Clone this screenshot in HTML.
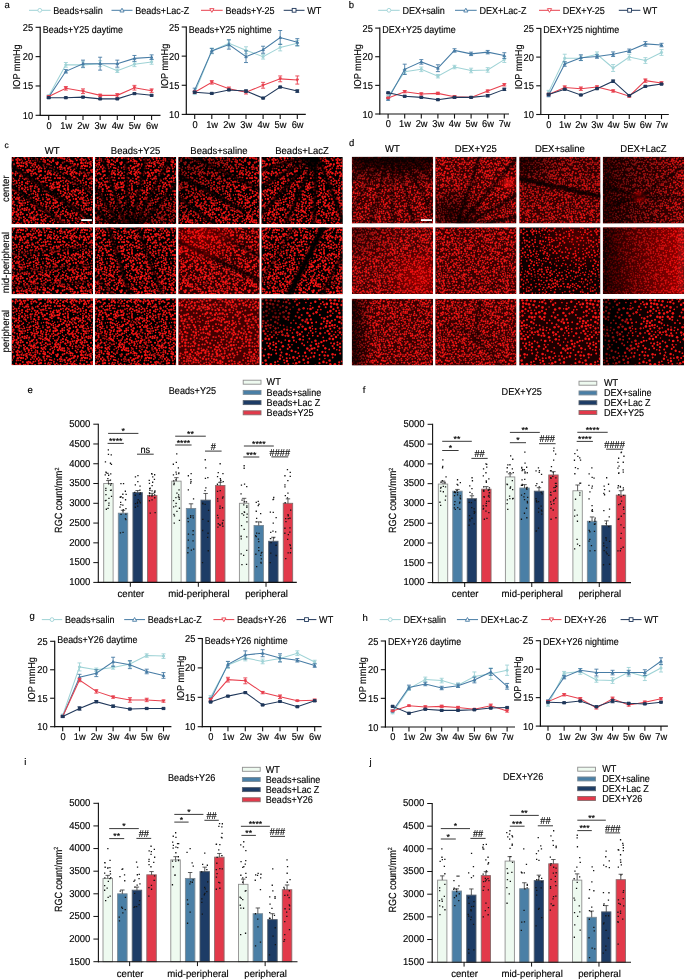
<!DOCTYPE html>
<html><head><meta charset="utf-8"><style>
html,body{margin:0;padding:0;background:#fff;}
svg{display:block;font-family:"Liberation Sans", sans-serif;}
</style></head><body>
<svg width="685" height="979" viewBox="0 0 685 979">
<defs><filter id="tb" x="-0.02" y="-0.02" width="1.04" height="1.04"><feGaussianBlur stdDeviation="0.25"/></filter>
<filter id="vb" x="-0.1" y="-0.1" width="1.2" height="1.2"><feGaussianBlur stdDeviation="0.8"/></filter>
<filter id="mb" x="0" y="0" width="1" height="1"><feGaussianBlur stdDeviation="0.3"/></filter>
<pattern id="pD" width="64" height="64" patternUnits="userSpaceOnUse"><g fill="#f41212"><circle cx="8.6" cy="54.2" r="1.12"/><circle cx="16.3" cy="31.7" r="0.95"/><circle cx="41.7" cy="50.5" r="0.75"/><circle cx="1.8" cy="53.5" r="0.94"/><circle cx="48.8" cy="0.1" r="0.94"/><circle cx="48.8" cy="64.1" r="0.94"/><circle cx="46.2" cy="14.6" r="1.22"/><circle cx="57.7" cy="2.0" r="0.71"/><circle cx="34.7" cy="60.1" r="0.91"/><circle cx="13.9" cy="27.0" r="0.72"/><circle cx="31.7" cy="14.9" r="0.83"/><circle cx="14.0" cy="29.4" r="0.86"/><circle cx="35.6" cy="41.1" r="0.80"/><circle cx="-0.5" cy="55.0" r="0.77"/><circle cx="63.5" cy="55.0" r="0.77"/><circle cx="21.3" cy="46.2" r="1.09"/><circle cx="59.9" cy="27.0" r="1.16"/><circle cx="42.9" cy="19.4" r="1.02"/><circle cx="56.5" cy="54.2" r="0.98"/><circle cx="37.7" cy="2.2" r="0.83"/><circle cx="51.0" cy="26.5" r="0.80"/><circle cx="35.1" cy="45.0" r="1.07"/><circle cx="24.0" cy="28.1" r="0.98"/><circle cx="49.8" cy="33.3" r="0.92"/><circle cx="31.3" cy="1.9" r="0.72"/><circle cx="45.0" cy="62.9" r="1.03"/><circle cx="25.2" cy="10.9" r="0.98"/><circle cx="62.9" cy="49.3" r="1.00"/><circle cx="55.1" cy="14.9" r="0.98"/><circle cx="61.0" cy="37.0" r="0.95"/><circle cx="17.2" cy="35.1" r="1.23"/><circle cx="0.4" cy="50.2" r="1.15"/><circle cx="64.4" cy="50.2" r="1.15"/><circle cx="56.7" cy="47.4" r="1.15"/><circle cx="33.2" cy="35.9" r="0.93"/><circle cx="3.6" cy="55.7" r="1.01"/><circle cx="12.8" cy="32.3" r="0.97"/><circle cx="22.8" cy="22.1" r="1.00"/><circle cx="39.9" cy="39.2" r="0.95"/><circle cx="1.8" cy="14.7" r="0.80"/><circle cx="37.4" cy="55.1" r="1.14"/><circle cx="51.0" cy="52.3" r="0.84"/><circle cx="53.9" cy="43.1" r="0.75"/><circle cx="1.1" cy="0.9" r="1.12"/><circle cx="1.1" cy="64.9" r="1.12"/><circle cx="65.1" cy="0.9" r="1.12"/><circle cx="65.1" cy="64.9" r="1.12"/><circle cx="16.0" cy="7.0" r="1.04"/><circle cx="22.0" cy="4.4" r="0.79"/><circle cx="33.8" cy="10.8" r="0.85"/><circle cx="45.5" cy="29.1" r="0.88"/><circle cx="12.0" cy="7.0" r="1.19"/><circle cx="32.6" cy="13.4" r="1.03"/><circle cx="52.3" cy="1.3" r="0.71"/><circle cx="9.4" cy="46.0" r="0.79"/><circle cx="45.1" cy="43.4" r="1.00"/><circle cx="14.1" cy="62.4" r="1.14"/><circle cx="41.5" cy="25.3" r="1.02"/><circle cx="20.6" cy="40.4" r="0.73"/><circle cx="19.1" cy="61.9" r="1.18"/><circle cx="19.6" cy="54.9" r="0.87"/><circle cx="60.1" cy="47.6" r="0.93"/><circle cx="16.2" cy="0.5" r="1.18"/><circle cx="16.2" cy="64.5" r="1.18"/><circle cx="11.0" cy="55.5" r="1.24"/><circle cx="45.1" cy="32.6" r="0.91"/><circle cx="22.2" cy="13.2" r="1.07"/><circle cx="27.7" cy="12.4" r="0.76"/><circle cx="32.0" cy="20.8" r="1.18"/><circle cx="12.9" cy="21.0" r="1.24"/><circle cx="50.1" cy="21.7" r="0.82"/><circle cx="43.2" cy="53.6" r="1.21"/><circle cx="22.0" cy="56.5" r="1.08"/><circle cx="31.0" cy="63.1" r="0.83"/><circle cx="46.4" cy="5.4" r="0.79"/><circle cx="58.3" cy="13.6" r="1.12"/><circle cx="38.7" cy="61.1" r="1.19"/><circle cx="8.7" cy="35.3" r="0.76"/><circle cx="2.5" cy="4.7" r="1.18"/><circle cx="50.0" cy="24.2" r="1.01"/><circle cx="14.3" cy="5.2" r="0.85"/><circle cx="57.0" cy="36.1" r="1.21"/><circle cx="29.3" cy="17.7" r="1.13"/><circle cx="42.9" cy="5.9" r="0.76"/><circle cx="26.9" cy="7.4" r="0.79"/><circle cx="15.5" cy="47.6" r="0.76"/><circle cx="58.3" cy="24.2" r="1.23"/><circle cx="58.2" cy="18.8" r="0.84"/><circle cx="30.5" cy="6.4" r="1.06"/><circle cx="62.9" cy="18.9" r="1.03"/><circle cx="28.8" cy="20.0" r="0.73"/><circle cx="58.5" cy="62.1" r="1.23"/><circle cx="7.1" cy="13.8" r="1.04"/><circle cx="62.7" cy="34.7" r="1.08"/><circle cx="42.4" cy="16.6" r="1.00"/><circle cx="19.7" cy="15.8" r="0.74"/><circle cx="28.7" cy="41.7" r="1.05"/><circle cx="60.2" cy="25.0" r="0.87"/><circle cx="20.9" cy="20.3" r="1.17"/><circle cx="21.4" cy="34.8" r="1.02"/><circle cx="38.1" cy="15.7" r="0.71"/><circle cx="35.3" cy="4.5" r="0.74"/><circle cx="40.7" cy="18.6" r="1.14"/><circle cx="31.6" cy="55.2" r="0.78"/><circle cx="32.1" cy="50.9" r="0.74"/><circle cx="60.8" cy="11.1" r="1.13"/><circle cx="63.0" cy="52.6" r="0.88"/><circle cx="6.8" cy="32.9" r="1.21"/><circle cx="18.8" cy="57.2" r="0.78"/><circle cx="51.4" cy="58.1" r="1.16"/><circle cx="47.8" cy="44.1" r="0.80"/><circle cx="27.7" cy="10.1" r="1.09"/><circle cx="4.1" cy="61.7" r="1.14"/><circle cx="35.2" cy="34.6" r="1.17"/><circle cx="29.0" cy="25.3" r="0.89"/><circle cx="22.7" cy="8.9" r="0.77"/><circle cx="16.6" cy="53.1" r="0.92"/><circle cx="25.7" cy="39.2" r="0.83"/><circle cx="0.5" cy="33.8" r="0.98"/><circle cx="64.5" cy="33.8" r="0.98"/><circle cx="41.5" cy="28.1" r="1.08"/><circle cx="31.7" cy="30.6" r="0.82"/><circle cx="26.4" cy="35.9" r="1.20"/><circle cx="41.4" cy="3.1" r="0.74"/><circle cx="10.2" cy="49.0" r="1.19"/><circle cx="20.0" cy="44.3" r="1.17"/><circle cx="23.8" cy="44.9" r="1.11"/><circle cx="36.6" cy="11.3" r="0.84"/><circle cx="13.9" cy="36.4" r="1.12"/><circle cx="3.3" cy="43.6" r="1.09"/><circle cx="22.3" cy="33.0" r="0.79"/><circle cx="46.7" cy="2.6" r="1.24"/><circle cx="51.7" cy="40.2" r="0.85"/><circle cx="24.5" cy="51.4" r="0.94"/><circle cx="10.5" cy="20.8" r="0.77"/><circle cx="7.6" cy="38.4" r="0.92"/><circle cx="7.6" cy="18.9" r="0.84"/><circle cx="12.1" cy="28.1" r="0.71"/><circle cx="53.5" cy="13.2" r="0.86"/><circle cx="34.7" cy="17.5" r="1.02"/><circle cx="16.1" cy="43.7" r="1.14"/><circle cx="51.8" cy="62.3" r="1.00"/><circle cx="49.2" cy="36.5" r="0.91"/><circle cx="18.2" cy="6.9" r="1.14"/><circle cx="7.6" cy="47.8" r="1.00"/><circle cx="62.3" cy="8.7" r="0.98"/><circle cx="36.6" cy="19.9" r="0.98"/><circle cx="0.1" cy="28.3" r="0.95"/><circle cx="64.1" cy="28.3" r="0.95"/><circle cx="19.5" cy="25.6" r="1.13"/><circle cx="43.7" cy="31.5" r="1.06"/><circle cx="24.2" cy="13.1" r="0.70"/><circle cx="17.8" cy="38.3" r="1.18"/><circle cx="53.1" cy="32.7" r="1.24"/><circle cx="29.5" cy="53.4" r="0.92"/><circle cx="19.5" cy="10.9" r="1.04"/><circle cx="34.0" cy="23.0" r="0.70"/><circle cx="25.9" cy="55.1" r="1.02"/><circle cx="47.0" cy="57.5" r="1.11"/><circle cx="31.5" cy="47.7" r="1.05"/><circle cx="41.5" cy="40.3" r="0.92"/><circle cx="60.0" cy="50.1" r="1.17"/><circle cx="49.1" cy="52.2" r="1.03"/><circle cx="22.4" cy="16.9" r="1.09"/><circle cx="55.9" cy="34.8" r="0.78"/><circle cx="53.3" cy="31.0" r="0.96"/><circle cx="2.9" cy="32.7" r="1.11"/><circle cx="27.0" cy="22.7" r="1.06"/><circle cx="60.6" cy="44.2" r="0.92"/><circle cx="44.1" cy="38.7" r="0.81"/><circle cx="13.3" cy="56.7" r="0.85"/><circle cx="4.8" cy="53.2" r="0.99"/><circle cx="47.2" cy="10.8" r="1.06"/><circle cx="45.7" cy="52.2" r="0.85"/><circle cx="50.5" cy="55.5" r="0.88"/><circle cx="45.2" cy="54.0" r="0.72"/><circle cx="57.6" cy="39.8" r="0.87"/><circle cx="27.6" cy="48.7" r="1.13"/><circle cx="12.2" cy="40.1" r="0.79"/><circle cx="62.3" cy="28.4" r="1.20"/><circle cx="46.6" cy="38.8" r="0.84"/><circle cx="33.7" cy="8.9" r="0.78"/><circle cx="45.8" cy="23.1" r="1.11"/><circle cx="15.4" cy="46.0" r="1.10"/><circle cx="25.4" cy="31.5" r="0.75"/><circle cx="12.0" cy="3.5" r="1.03"/><circle cx="2.2" cy="45.1" r="1.15"/><circle cx="61.7" cy="39.2" r="0.89"/><circle cx="53.6" cy="7.6" r="1.08"/><circle cx="6.1" cy="25.6" r="0.97"/><circle cx="14.8" cy="52.5" r="0.95"/><circle cx="37.1" cy="13.6" r="1.09"/><circle cx="21.1" cy="38.0" r="1.20"/><circle cx="-0.4" cy="3.0" r="1.14"/><circle cx="63.6" cy="3.0" r="1.14"/><circle cx="54.9" cy="20.5" r="0.91"/><circle cx="37.1" cy="58.8" r="0.92"/><circle cx="9.7" cy="58.5" r="0.71"/><circle cx="9.3" cy="42.5" r="0.73"/><circle cx="24.3" cy="8.3" r="0.95"/><circle cx="53.8" cy="58.0" r="0.72"/><circle cx="2.7" cy="17.5" r="0.76"/><circle cx="5.8" cy="1.8" r="1.05"/><circle cx="62.1" cy="41.1" r="0.83"/><circle cx="3.9" cy="59.9" r="1.02"/><circle cx="3.9" cy="22.6" r="0.93"/><circle cx="27.1" cy="42.4" r="1.09"/><circle cx="47.6" cy="46.2" r="1.11"/><circle cx="16.1" cy="62.5" r="0.78"/><circle cx="58.8" cy="54.7" r="1.17"/><circle cx="23.7" cy="63.0" r="0.72"/><circle cx="34.0" cy="28.4" r="0.77"/><circle cx="33.6" cy="5.8" r="1.14"/><circle cx="24.6" cy="46.9" r="0.87"/><circle cx="8.3" cy="50.9" r="1.14"/><circle cx="27.2" cy="15.7" r="1.01"/><circle cx="50.2" cy="61.2" r="1.02"/><circle cx="6.7" cy="41.8" r="0.95"/><circle cx="-0.8" cy="46.0" r="1.16"/><circle cx="63.2" cy="46.0" r="1.16"/><circle cx="44.9" cy="34.3" r="1.19"/><circle cx="53.2" cy="18.6" r="0.79"/><circle cx="6.2" cy="22.1" r="1.02"/><circle cx="2.8" cy="52.2" r="1.06"/><circle cx="47.9" cy="32.1" r="0.99"/><circle cx="30.7" cy="58.4" r="1.21"/><circle cx="59.2" cy="59.0" r="1.14"/><circle cx="8.6" cy="33.5" r="1.02"/><circle cx="45.0" cy="47.8" r="0.90"/><circle cx="60.3" cy="41.2" r="0.92"/><circle cx="11.8" cy="26.3" r="1.10"/><circle cx="3.2" cy="6.4" r="1.00"/><circle cx="16.7" cy="40.5" r="0.99"/><circle cx="5.0" cy="4.7" r="1.17"/><circle cx="41.2" cy="11.1" r="1.17"/><circle cx="1.4" cy="23.6" r="1.17"/><circle cx="45.5" cy="18.2" r="1.19"/><circle cx="57.1" cy="27.2" r="1.07"/><circle cx="51.1" cy="46.5" r="1.15"/><circle cx="-0.1" cy="16.4" r="0.81"/><circle cx="63.9" cy="16.4" r="0.81"/><circle cx="47.8" cy="49.3" r="0.98"/><circle cx="31.2" cy="25.8" r="1.19"/><circle cx="51.0" cy="37.4" r="0.72"/><circle cx="54.5" cy="29.3" r="0.80"/><circle cx="0.4" cy="7.7" r="0.87"/><circle cx="64.4" cy="7.7" r="0.87"/><circle cx="32.4" cy="37.5" r="1.00"/><circle cx="62.5" cy="10.4" r="1.05"/><circle cx="36.2" cy="23.6" r="0.92"/><circle cx="59.9" cy="57.3" r="1.07"/><circle cx="57.5" cy="59.2" r="1.17"/><circle cx="24.5" cy="29.7" r="1.14"/><circle cx="29.2" cy="7.5" r="0.89"/><circle cx="26.6" cy="1.2" r="0.79"/><circle cx="16.7" cy="54.9" r="1.02"/><circle cx="18.4" cy="-0.1" r="0.84"/><circle cx="18.4" cy="63.9" r="0.84"/><circle cx="44.2" cy="27.7" r="1.13"/><circle cx="31.1" cy="45.8" r="0.97"/><circle cx="5.8" cy="8.3" r="1.23"/><circle cx="14.7" cy="1.7" r="0.84"/><circle cx="30.7" cy="60.9" r="0.92"/><circle cx="5.7" cy="39.2" r="1.25"/><circle cx="22.2" cy="60.6" r="1.23"/><circle cx="6.6" cy="35.4" r="0.93"/><circle cx="43.0" cy="7.6" r="0.85"/><circle cx="17.8" cy="30.7" r="1.14"/><circle cx="54.9" cy="50.3" r="1.07"/><circle cx="32.5" cy="57.9" r="0.76"/><circle cx="24.7" cy="57.9" r="0.81"/><circle cx="33.3" cy="26.7" r="1.19"/><circle cx="34.9" cy="13.7" r="1.12"/><circle cx="21.6" cy="31.1" r="0.70"/><circle cx="17.6" cy="45.2" r="0.93"/><circle cx="8.3" cy="12.5" r="1.01"/><circle cx="34.1" cy="39.0" r="0.78"/><circle cx="26.5" cy="17.9" r="1.08"/><circle cx="17.1" cy="13.7" r="0.90"/><circle cx="30.1" cy="21.7" r="1.03"/><circle cx="3.7" cy="20.9" r="1.08"/><circle cx="57.1" cy="20.2" r="0.97"/><circle cx="21.1" cy="8.2" r="0.78"/><circle cx="14.5" cy="12.8" r="1.01"/><circle cx="5.4" cy="14.4" r="1.07"/><circle cx="-1.0" cy="21.8" r="1.03"/><circle cx="63.0" cy="21.8" r="1.03"/><circle cx="33.2" cy="1.5" r="0.88"/><circle cx="8.9" cy="16.1" r="1.12"/><circle cx="43.6" cy="2.6" r="0.74"/><circle cx="3.2" cy="2.0" r="0.78"/><circle cx="25.6" cy="59.8" r="1.05"/><circle cx="17.5" cy="33.0" r="0.88"/><circle cx="60.7" cy="22.6" r="1.14"/><circle cx="41.0" cy="54.0" r="1.03"/><circle cx="55.7" cy="25.9" r="1.07"/><circle cx="39.7" cy="33.8" r="1.01"/><circle cx="34.3" cy="25.2" r="1.19"/><circle cx="11.2" cy="13.8" r="0.94"/><circle cx="6.6" cy="23.9" r="1.06"/><circle cx="54.0" cy="46.3" r="1.08"/><circle cx="1.9" cy="19.7" r="1.08"/><circle cx="9.1" cy="56.3" r="0.82"/><circle cx="53.9" cy="54.3" r="0.88"/><circle cx="56.9" cy="10.2" r="1.17"/><circle cx="0.5" cy="60.9" r="1.21"/><circle cx="64.5" cy="60.9" r="1.21"/><circle cx="36.0" cy="56.5" r="0.95"/><circle cx="3.4" cy="30.1" r="0.72"/><circle cx="-1.0" cy="58.2" r="1.06"/><circle cx="63.0" cy="58.2" r="1.06"/><circle cx="49.7" cy="58.6" r="0.87"/><circle cx="56.3" cy="22.2" r="1.06"/><circle cx="3.6" cy="27.8" r="0.91"/><circle cx="18.8" cy="52.2" r="0.94"/><circle cx="44.8" cy="40.6" r="0.99"/><circle cx="41.1" cy="31.2" r="0.89"/><circle cx="1.4" cy="57.4" r="0.91"/><circle cx="53.4" cy="11.2" r="1.09"/><circle cx="50.2" cy="29.5" r="0.96"/><circle cx="46.3" cy="12.4" r="0.94"/><circle cx="9.6" cy="24.1" r="0.76"/><circle cx="60.6" cy="1.2" r="0.92"/><circle cx="40.6" cy="47.1" r="1.20"/><circle cx="42.4" cy="21.9" r="0.83"/><circle cx="37.5" cy="32.8" r="0.94"/><circle cx="34.4" cy="15.9" r="1.13"/><circle cx="62.6" cy="15.3" r="0.71"/><circle cx="61.1" cy="20.0" r="0.85"/><circle cx="28.7" cy="32.1" r="0.93"/><circle cx="52.3" cy="23.0" r="0.78"/><circle cx="50.0" cy="39.8" r="1.10"/><circle cx="16.3" cy="22.4" r="0.85"/><circle cx="29.9" cy="9.5" r="0.77"/><circle cx="51.3" cy="34.4" r="0.81"/><circle cx="27.5" cy="55.8" r="1.02"/><circle cx="4.9" cy="50.3" r="0.73"/><circle cx="47.8" cy="24.5" r="1.08"/><circle cx="37.8" cy="8.3" r="1.00"/><circle cx="24.4" cy="18.3" r="1.06"/><circle cx="39.4" cy="48.3" r="0.84"/><circle cx="6.6" cy="54.7" r="1.05"/><circle cx="58.0" cy="45.3" r="1.15"/><circle cx="30.8" cy="39.3" r="0.85"/><circle cx="40.9" cy="43.0" r="1.21"/><circle cx="29.1" cy="2.9" r="0.82"/><circle cx="6.0" cy="43.4" r="0.72"/><circle cx="27.1" cy="28.3" r="1.23"/><circle cx="38.1" cy="12.2" r="0.98"/><circle cx="4.1" cy="58.0" r="0.95"/><circle cx="18.3" cy="2.8" r="0.98"/><circle cx="25.4" cy="-0.4" r="1.14"/><circle cx="25.4" cy="63.6" r="1.14"/><circle cx="53.9" cy="41.4" r="0.92"/><circle cx="58.0" cy="30.1" r="1.21"/><circle cx="35.3" cy="58.2" r="0.96"/><circle cx="27.3" cy="37.7" r="0.87"/><circle cx="9.6" cy="37.7" r="1.17"/><circle cx="50.4" cy="49.6" r="0.93"/><circle cx="23.6" cy="35.3" r="1.05"/><circle cx="37.3" cy="31.0" r="1.05"/><circle cx="0.2" cy="10.3" r="0.88"/><circle cx="64.2" cy="10.3" r="0.88"/><circle cx="9.5" cy="6.9" r="0.87"/><circle cx="32.6" cy="52.6" r="1.25"/><circle cx="54.5" cy="39.0" r="0.72"/><circle cx="4.1" cy="40.4" r="1.15"/><circle cx="35.2" cy="36.7" r="1.04"/><circle cx="4.8" cy="10.9" r="1.21"/><circle cx="17.1" cy="5.3" r="0.86"/><circle cx="46.5" cy="16.8" r="0.82"/><circle cx="47.2" cy="19.3" r="1.18"/><circle cx="8.5" cy="28.3" r="0.90"/><circle cx="20.2" cy="48.0" r="1.19"/><circle cx="2.6" cy="37.7" r="1.06"/><circle cx="62.3" cy="12.6" r="0.76"/><circle cx="14.1" cy="59.7" r="0.71"/><circle cx="13.4" cy="18.5" r="0.97"/><circle cx="23.8" cy="25.1" r="1.06"/><circle cx="12.5" cy="11.6" r="1.08"/><circle cx="19.0" cy="59.7" r="0.93"/><circle cx="60.9" cy="53.3" r="1.01"/><circle cx="35.2" cy="32.1" r="0.96"/><circle cx="43.6" cy="36.8" r="1.17"/><circle cx="28.8" cy="30.2" r="1.16"/><circle cx="43.2" cy="33.6" r="1.01"/><circle cx="16.6" cy="19.9" r="1.03"/><circle cx="57.1" cy="14.9" r="0.94"/><circle cx="44.8" cy="59.2" r="1.08"/><circle cx="22.8" cy="50.2" r="0.70"/><circle cx="19.6" cy="1.0" r="0.89"/><circle cx="37.7" cy="50.4" r="1.18"/><circle cx="7.7" cy="-0.7" r="1.05"/><circle cx="7.7" cy="63.3" r="1.05"/><circle cx="8.2" cy="44.2" r="1.23"/><circle cx="26.9" cy="33.7" r="0.95"/><circle cx="55.4" cy="4.7" r="0.81"/><circle cx="60.0" cy="38.9" r="1.04"/><circle cx="40.3" cy="15.6" r="0.92"/><circle cx="13.4" cy="9.7" r="1.24"/><circle cx="19.7" cy="31.9" r="1.07"/><circle cx="38.6" cy="37.4" r="0.86"/><circle cx="5.5" cy="31.5" r="0.98"/><circle cx="33.0" cy="32.7" r="0.77"/><circle cx="4.4" cy="0.2" r="0.73"/><circle cx="4.4" cy="64.2" r="0.73"/><circle cx="46.8" cy="54.6" r="0.74"/><circle cx="21.3" cy="1.2" r="0.70"/><circle cx="18.9" cy="35.2" r="0.84"/><circle cx="21.2" cy="26.0" r="0.71"/><circle cx="48.7" cy="14.0" r="0.80"/><circle cx="58.0" cy="6.3" r="1.14"/><circle cx="28.3" cy="50.8" r="1.07"/><circle cx="47.8" cy="7.4" r="1.22"/><circle cx="51.9" cy="14.1" r="0.86"/><circle cx="16.1" cy="27.1" r="0.84"/><circle cx="53.1" cy="56.2" r="1.20"/><circle cx="10.8" cy="36.3" r="1.18"/><circle cx="45.5" cy="9.6" r="0.95"/><circle cx="40.1" cy="8.7" r="0.74"/><circle cx="34.2" cy="-1.0" r="1.10"/><circle cx="34.2" cy="63.0" r="1.10"/><circle cx="12.3" cy="22.8" r="1.23"/><circle cx="14.6" cy="19.9" r="0.98"/><circle cx="57.7" cy="34.5" r="1.20"/><circle cx="30.4" cy="32.8" r="0.90"/><circle cx="27.7" cy="4.7" r="0.81"/><circle cx="23.2" cy="3.2" r="0.90"/><circle cx="39.0" cy="43.4" r="1.18"/><circle cx="42.9" cy="63.1" r="0.71"/><circle cx="8.7" cy="4.4" r="0.88"/><circle cx="47.5" cy="36.3" r="1.25"/><circle cx="38.7" cy="57.0" r="1.02"/><circle cx="53.4" cy="16.2" r="0.87"/><circle cx="18.8" cy="40.6" r="0.73"/><circle cx="27.6" cy="59.3" r="0.82"/><circle cx="22.8" cy="41.9" r="1.01"/><circle cx="36.9" cy="38.9" r="1.07"/><circle cx="20.7" cy="22.5" r="0.92"/><circle cx="28.0" cy="44.0" r="1.06"/><circle cx="19.4" cy="5.6" r="1.12"/><circle cx="15.0" cy="56.1" r="0.73"/><circle cx="63.2" cy="-0.4" r="0.77"/><circle cx="63.2" cy="63.6" r="0.77"/><circle cx="21.1" cy="11.6" r="1.20"/><circle cx="35.5" cy="27.4" r="0.95"/><circle cx="18.1" cy="9.9" r="0.70"/><circle cx="3.5" cy="46.2" r="0.75"/><circle cx="54.6" cy="2.3" r="0.81"/><circle cx="49.7" cy="11.1" r="1.03"/><circle cx="35.6" cy="51.1" r="0.74"/><circle cx="9.3" cy="62.2" r="1.04"/><circle cx="56.1" cy="6.6" r="0.76"/><circle cx="3.4" cy="9.7" r="0.91"/><circle cx="20.6" cy="17.9" r="0.71"/><circle cx="31.2" cy="28.5" r="1.11"/><circle cx="19.4" cy="37.2" r="0.87"/><circle cx="29.4" cy="34.4" r="0.99"/><circle cx="25.2" cy="34.3" r="0.82"/><circle cx="23.1" cy="38.1" r="1.06"/><circle cx="26.2" cy="50.3" r="1.17"/><circle cx="25.4" cy="44.7" r="1.07"/><circle cx="18.8" cy="27.8" r="1.14"/><circle cx="46.9" cy="-0.8" r="1.11"/><circle cx="46.9" cy="63.2" r="1.11"/><circle cx="60.3" cy="13.3" r="0.79"/><circle cx="8.6" cy="21.4" r="1.14"/><circle cx="44.9" cy="20.3" r="0.78"/><circle cx="23.0" cy="11.1" r="0.83"/><circle cx="0.3" cy="44.6" r="0.72"/><circle cx="64.3" cy="44.6" r="0.72"/><circle cx="49.4" cy="7.0" r="0.92"/><circle cx="6.7" cy="46.0" r="1.25"/><circle cx="33.5" cy="41.7" r="1.07"/><circle cx="22.3" cy="48.0" r="0.93"/><circle cx="42.8" cy="29.2" r="1.04"/><circle cx="55.0" cy="44.5" r="1.06"/><circle cx="58.0" cy="49.9" r="1.02"/><circle cx="37.4" cy="22.4" r="1.16"/><circle cx="38.6" cy="6.2" r="1.00"/><circle cx="43.1" cy="60.4" r="1.05"/><circle cx="23.6" cy="6.2" r="0.76"/><circle cx="62.1" cy="30.6" r="0.99"/><circle cx="48.6" cy="42.7" r="0.93"/><circle cx="36.2" cy="7.2" r="1.08"/><circle cx="38.7" cy="40.8" r="1.08"/><circle cx="59.4" cy="28.6" r="1.04"/><circle cx="43.5" cy="12.0" r="0.73"/><circle cx="7.4" cy="2.7" r="1.01"/><circle cx="19.5" cy="50.2" r="0.79"/><circle cx="39.1" cy="18.1" r="0.96"/><circle cx="11.9" cy="49.1" r="0.72"/><circle cx="13.9" cy="16.5" r="1.08"/><circle cx="49.7" cy="44.9" r="1.25"/><circle cx="44.1" cy="24.4" r="0.72"/><circle cx="55.4" cy="8.4" r="1.17"/><circle cx="41.3" cy="56.7" r="1.09"/><circle cx="40.9" cy="12.9" r="0.85"/><circle cx="45.7" cy="50.1" r="1.22"/><circle cx="42.3" cy="58.3" r="1.12"/><circle cx="38.6" cy="-0.8" r="1.05"/><circle cx="38.6" cy="63.2" r="1.05"/><circle cx="0.3" cy="30.8" r="1.18"/><circle cx="64.3" cy="30.8" r="1.18"/><circle cx="50.2" cy="9.4" r="0.83"/><circle cx="20.2" cy="58.1" r="0.82"/><circle cx="19.9" cy="14.1" r="1.05"/><circle cx="33.5" cy="45.7" r="1.01"/><circle cx="12.3" cy="15.6" r="0.82"/><circle cx="4.9" cy="28.9" r="0.87"/><circle cx="1.7" cy="62.6" r="0.72"/><circle cx="53.6" cy="60.8" r="0.70"/><circle cx="8.9" cy="1.0" r="0.78"/><circle cx="11.5" cy="30.7" r="0.92"/><circle cx="8.4" cy="26.3" r="0.91"/><circle cx="12.4" cy="45.2" r="1.23"/><circle cx="11.2" cy="52.4" r="1.01"/><circle cx="52.0" cy="59.8" r="1.23"/><circle cx="51.5" cy="4.8" r="0.93"/><circle cx="37.5" cy="3.9" r="1.12"/><circle cx="56.8" cy="43.3" r="0.85"/><circle cx="10.7" cy="44.0" r="1.09"/><circle cx="24.6" cy="61.5" r="0.84"/><circle cx="42.4" cy="14.0" r="1.11"/><circle cx="30.2" cy="42.5" r="1.16"/><circle cx="22.1" cy="54.1" r="1.09"/><circle cx="14.8" cy="25.3" r="0.80"/><circle cx="45.8" cy="26.3" r="0.98"/><circle cx="59.2" cy="5.0" r="1.16"/><circle cx="27.6" cy="53.5" r="0.98"/><circle cx="11.0" cy="-0.6" r="1.11"/><circle cx="11.0" cy="63.4" r="1.11"/><circle cx="18.3" cy="22.2" r="1.09"/><circle cx="1.3" cy="42.1" r="0.84"/><circle cx="50.3" cy="3.7" r="0.73"/><circle cx="13.3" cy="38.1" r="0.76"/><circle cx="57.5" cy="55.9" r="1.21"/><circle cx="52.3" cy="28.2" r="0.89"/><circle cx="61.9" cy="4.3" r="1.03"/><circle cx="37.7" cy="27.3" r="1.17"/><circle cx="35.6" cy="30.1" r="0.80"/><circle cx="58.9" cy="16.9" r="0.91"/><circle cx="48.8" cy="20.2" r="1.19"/><circle cx="48.6" cy="3.3" r="1.15"/><circle cx="39.2" cy="52.7" r="0.79"/><circle cx="36.5" cy="46.3" r="1.02"/><circle cx="43.5" cy="49.9" r="0.91"/><circle cx="9.4" cy="10.9" r="0.92"/><circle cx="17.5" cy="16.3" r="0.70"/><circle cx="60.6" cy="29.8" r="1.13"/><circle cx="55.4" cy="11.0" r="1.16"/><circle cx="51.0" cy="42.8" r="0.88"/><circle cx="54.8" cy="59.6" r="1.14"/><circle cx="17.6" cy="23.9" r="1.12"/><circle cx="9.0" cy="14.3" r="1.04"/><circle cx="13.3" cy="53.5" r="0.83"/><circle cx="10.3" cy="17.4" r="1.16"/><circle cx="36.3" cy="9.6" r="0.82"/><circle cx="16.6" cy="58.2" r="0.74"/><circle cx="12.1" cy="61.6" r="1.21"/><circle cx="54.3" cy="27.1" r="1.04"/><circle cx="35.7" cy="2.3" r="0.86"/><circle cx="50.4" cy="16.1" r="1.06"/><circle cx="19.4" cy="8.5" r="0.88"/><circle cx="33.5" cy="19.6" r="0.93"/><circle cx="13.4" cy="50.7" r="0.86"/><circle cx="10.6" cy="2.5" r="0.91"/><circle cx="60.7" cy="-0.8" r="0.97"/><circle cx="60.7" cy="63.2" r="0.97"/><circle cx="49.8" cy="18.0" r="0.84"/><circle cx="2.7" cy="25.6" r="0.71"/><circle cx="25.3" cy="26.5" r="0.79"/><circle cx="34.8" cy="54.5" r="1.07"/><circle cx="40.5" cy="23.1" r="1.10"/><circle cx="10.4" cy="41.3" r="1.03"/><circle cx="24.8" cy="16.5" r="1.05"/><circle cx="18.3" cy="17.9" r="1.17"/><circle cx="31.1" cy="12.4" r="0.94"/><circle cx="55.4" cy="24.2" r="1.22"/><circle cx="32.2" cy="43.5" r="1.12"/><circle cx="35.6" cy="0.3" r="0.86"/><circle cx="35.6" cy="64.3" r="0.86"/><circle cx="53.3" cy="3.5" r="0.87"/><circle cx="5.0" cy="33.8" r="0.80"/><circle cx="29.9" cy="23.9" r="0.79"/><circle cx="53.3" cy="5.6" r="0.82"/><circle cx="3.9" cy="13.1" r="1.08"/><circle cx="31.1" cy="35.2" r="0.93"/><circle cx="27.9" cy="61.6" r="0.98"/><circle cx="0.5" cy="40.1" r="1.23"/><circle cx="64.5" cy="40.1" r="1.23"/></g></pattern>
<pattern id="pM" width="64" height="64" patternUnits="userSpaceOnUse"><g fill="#f41212"><circle cx="61.2" cy="60.7" r="0.73"/><circle cx="5.4" cy="53.5" r="1.10"/><circle cx="42.9" cy="19.7" r="1.03"/><circle cx="38.8" cy="37.2" r="0.79"/><circle cx="27.6" cy="25.2" r="1.10"/><circle cx="-0.3" cy="60.8" r="1.00"/><circle cx="63.7" cy="60.8" r="1.00"/><circle cx="28.5" cy="17.2" r="0.72"/><circle cx="1.8" cy="29.8" r="0.88"/><circle cx="24.3" cy="57.1" r="0.99"/><circle cx="35.9" cy="15.1" r="0.71"/><circle cx="20.8" cy="8.7" r="0.98"/><circle cx="-0.1" cy="43.2" r="0.80"/><circle cx="63.9" cy="43.2" r="0.80"/><circle cx="57.2" cy="51.0" r="1.10"/><circle cx="58.0" cy="48.8" r="1.13"/><circle cx="22.6" cy="-1.2" r="1.23"/><circle cx="22.6" cy="62.8" r="1.23"/><circle cx="10.3" cy="48.3" r="1.09"/><circle cx="29.5" cy="33.9" r="0.97"/><circle cx="59.2" cy="32.1" r="1.16"/><circle cx="57.6" cy="29.5" r="1.01"/><circle cx="58.9" cy="46.3" r="0.97"/><circle cx="14.2" cy="20.8" r="1.08"/><circle cx="10.6" cy="58.1" r="0.85"/><circle cx="58.3" cy="19.8" r="1.23"/><circle cx="45.2" cy="32.3" r="0.98"/><circle cx="41.7" cy="37.6" r="0.87"/><circle cx="13.3" cy="32.8" r="1.21"/><circle cx="39.9" cy="4.8" r="1.15"/><circle cx="46.5" cy="58.1" r="0.81"/><circle cx="47.7" cy="3.8" r="1.06"/><circle cx="17.5" cy="14.5" r="1.18"/><circle cx="6.8" cy="33.4" r="1.17"/><circle cx="15.7" cy="13.5" r="1.18"/><circle cx="27.1" cy="45.9" r="0.72"/><circle cx="23.2" cy="11.0" r="1.07"/><circle cx="5.3" cy="61.1" r="0.71"/><circle cx="46.7" cy="1.4" r="0.84"/><circle cx="52.1" cy="10.1" r="0.80"/><circle cx="44.3" cy="24.7" r="0.72"/><circle cx="-0.6" cy="9.7" r="0.72"/><circle cx="63.4" cy="9.7" r="0.72"/><circle cx="22.0" cy="39.4" r="1.11"/><circle cx="7.2" cy="21.6" r="0.72"/><circle cx="28.7" cy="49.0" r="1.11"/><circle cx="55.2" cy="45.1" r="0.96"/><circle cx="14.4" cy="42.3" r="0.87"/><circle cx="6.5" cy="28.7" r="1.18"/><circle cx="8.2" cy="37.4" r="0.92"/><circle cx="32.9" cy="9.2" r="1.23"/><circle cx="16.6" cy="38.8" r="0.93"/><circle cx="1.2" cy="35.7" r="0.78"/><circle cx="3.6" cy="2.1" r="0.79"/><circle cx="6.1" cy="40.6" r="0.98"/><circle cx="-0.4" cy="14.9" r="0.94"/><circle cx="63.6" cy="14.9" r="0.94"/><circle cx="39.9" cy="51.2" r="1.09"/><circle cx="16.4" cy="27.1" r="0.99"/><circle cx="0.3" cy="2.3" r="0.92"/><circle cx="64.3" cy="2.3" r="0.92"/><circle cx="7.1" cy="46.3" r="0.83"/><circle cx="6.4" cy="11.6" r="0.83"/><circle cx="29.7" cy="19.8" r="1.05"/><circle cx="13.6" cy="58.0" r="1.23"/><circle cx="46.7" cy="27.8" r="0.98"/><circle cx="37.2" cy="3.3" r="0.93"/><circle cx="33.6" cy="11.6" r="0.75"/><circle cx="51.4" cy="23.4" r="0.99"/><circle cx="59.0" cy="39.1" r="0.86"/><circle cx="62.9" cy="23.8" r="0.71"/><circle cx="43.9" cy="6.5" r="0.87"/><circle cx="53.8" cy="43.0" r="0.71"/><circle cx="31.1" cy="13.3" r="1.02"/><circle cx="4.7" cy="18.2" r="0.91"/><circle cx="59.9" cy="4.9" r="1.12"/><circle cx="12.3" cy="36.6" r="0.92"/><circle cx="25.3" cy="7.8" r="0.77"/><circle cx="41.0" cy="61.4" r="1.08"/><circle cx="1.6" cy="42.2" r="1.13"/><circle cx="22.9" cy="29.3" r="1.14"/><circle cx="17.2" cy="33.7" r="0.96"/><circle cx="61.1" cy="51.5" r="1.21"/><circle cx="53.5" cy="19.0" r="0.83"/><circle cx="31.3" cy="16.6" r="0.94"/><circle cx="43.5" cy="58.8" r="1.02"/><circle cx="52.3" cy="6.1" r="0.90"/><circle cx="26.7" cy="4.3" r="0.75"/><circle cx="57.3" cy="-0.7" r="1.06"/><circle cx="57.3" cy="63.3" r="1.06"/><circle cx="8.2" cy="19.0" r="0.83"/><circle cx="42.9" cy="43.6" r="0.94"/><circle cx="33.5" cy="7.2" r="1.00"/><circle cx="60.8" cy="48.4" r="0.75"/><circle cx="33.1" cy="45.8" r="0.84"/><circle cx="-0.3" cy="50.1" r="1.02"/><circle cx="63.7" cy="50.1" r="1.02"/><circle cx="9.3" cy="28.2" r="0.72"/><circle cx="38.1" cy="56.4" r="0.80"/><circle cx="32.7" cy="30.9" r="0.92"/><circle cx="45.5" cy="59.9" r="1.09"/><circle cx="30.2" cy="61.6" r="0.88"/><circle cx="47.7" cy="42.1" r="1.12"/><circle cx="54.5" cy="14.4" r="1.04"/><circle cx="25.8" cy="42.7" r="1.24"/><circle cx="40.6" cy="0.7" r="0.96"/><circle cx="40.6" cy="64.7" r="0.96"/><circle cx="41.6" cy="52.2" r="0.71"/><circle cx="56.6" cy="6.4" r="1.15"/><circle cx="49.1" cy="12.8" r="1.11"/><circle cx="37.5" cy="12.3" r="1.14"/><circle cx="36.2" cy="29.9" r="0.81"/><circle cx="61.9" cy="4.7" r="0.70"/><circle cx="31.1" cy="53.6" r="1.06"/><circle cx="48.3" cy="31.0" r="1.07"/><circle cx="21.4" cy="17.1" r="0.98"/><circle cx="1.8" cy="5.1" r="1.11"/><circle cx="50.2" cy="25.9" r="1.07"/><circle cx="50.4" cy="55.3" r="0.77"/><circle cx="10.4" cy="24.4" r="0.96"/><circle cx="18.9" cy="0.7" r="1.01"/><circle cx="18.9" cy="64.7" r="1.01"/><circle cx="34.4" cy="24.5" r="0.94"/><circle cx="55.7" cy="19.7" r="1.06"/><circle cx="41.8" cy="25.1" r="1.16"/><circle cx="25.0" cy="33.9" r="1.17"/><circle cx="51.1" cy="40.2" r="0.87"/><circle cx="14.9" cy="29.3" r="0.83"/><circle cx="17.8" cy="61.3" r="0.76"/><circle cx="23.3" cy="20.4" r="0.74"/><circle cx="29.3" cy="10.7" r="0.94"/><circle cx="18.7" cy="57.3" r="1.21"/><circle cx="28.3" cy="40.9" r="1.21"/><circle cx="20.9" cy="6.4" r="0.83"/><circle cx="12.1" cy="43.4" r="0.91"/><circle cx="22.8" cy="50.9" r="0.83"/><circle cx="25.6" cy="52.7" r="0.89"/><circle cx="56.2" cy="59.3" r="0.98"/><circle cx="47.5" cy="48.1" r="1.18"/><circle cx="62.7" cy="18.7" r="1.04"/><circle cx="25.3" cy="11.2" r="1.23"/><circle cx="57.2" cy="11.9" r="1.23"/><circle cx="8.1" cy="1.8" r="0.89"/><circle cx="23.0" cy="58.7" r="1.19"/><circle cx="48.7" cy="27.9" r="1.00"/><circle cx="15.2" cy="53.3" r="0.91"/><circle cx="18.2" cy="40.8" r="0.78"/><circle cx="20.2" cy="59.3" r="0.75"/><circle cx="9.1" cy="13.1" r="0.84"/><circle cx="26.9" cy="16.0" r="0.89"/><circle cx="39.1" cy="21.5" r="0.91"/><circle cx="9.2" cy="54.5" r="0.94"/><circle cx="49.8" cy="8.5" r="0.99"/><circle cx="54.1" cy="21.6" r="1.12"/><circle cx="39.1" cy="25.3" r="1.25"/><circle cx="25.1" cy="30.3" r="1.04"/><circle cx="20.3" cy="53.6" r="1.03"/><circle cx="37.6" cy="34.5" r="1.24"/><circle cx="-0.7" cy="53.8" r="0.95"/><circle cx="63.3" cy="53.8" r="0.95"/><circle cx="3.0" cy="6.9" r="1.25"/><circle cx="8.2" cy="60.0" r="1.07"/><circle cx="19.6" cy="51.1" r="0.70"/><circle cx="11.1" cy="9.4" r="1.07"/><circle cx="41.6" cy="3.2" r="1.19"/><circle cx="35.8" cy="8.9" r="0.98"/><circle cx="3.9" cy="12.8" r="1.21"/><circle cx="52.6" cy="33.5" r="1.08"/><circle cx="56.0" cy="9.0" r="0.97"/><circle cx="8.4" cy="7.5" r="0.76"/><circle cx="13.6" cy="3.4" r="0.82"/><circle cx="24.3" cy="39.9" r="1.17"/><circle cx="32.5" cy="58.7" r="0.79"/><circle cx="40.1" cy="13.5" r="0.91"/><circle cx="19.0" cy="27.6" r="0.94"/><circle cx="51.9" cy="36.0" r="0.96"/><circle cx="18.2" cy="49.0" r="1.24"/><circle cx="14.7" cy="45.0" r="1.08"/><circle cx="35.3" cy="12.9" r="0.81"/><circle cx="37.1" cy="41.3" r="1.04"/><circle cx="47.5" cy="45.0" r="0.96"/><circle cx="3.1" cy="49.4" r="1.15"/><circle cx="53.5" cy="38.3" r="0.72"/><circle cx="12.5" cy="6.9" r="1.05"/><circle cx="61.2" cy="62.6" r="1.19"/><circle cx="44.9" cy="17.7" r="1.20"/><circle cx="36.4" cy="26.4" r="0.93"/><circle cx="42.2" cy="7.8" r="1.09"/><circle cx="12.9" cy="49.4" r="1.08"/><circle cx="29.1" cy="22.1" r="0.96"/><circle cx="30.0" cy="36.7" r="0.87"/><circle cx="10.9" cy="38.7" r="1.17"/><circle cx="14.2" cy="39.4" r="1.06"/><circle cx="56.6" cy="43.7" r="0.87"/><circle cx="20.0" cy="20.4" r="0.84"/><circle cx="46.3" cy="21.9" r="0.94"/><circle cx="8.4" cy="9.6" r="1.03"/><circle cx="24.0" cy="4.2" r="1.02"/><circle cx="58.5" cy="41.3" r="0.97"/><circle cx="51.3" cy="58.6" r="0.78"/><circle cx="59.3" cy="13.0" r="1.09"/><circle cx="56.0" cy="37.8" r="1.09"/><circle cx="33.5" cy="15.0" r="0.82"/><circle cx="4.0" cy="42.6" r="0.78"/><circle cx="27.9" cy="62.1" r="0.92"/><circle cx="30.4" cy="24.3" r="0.82"/><circle cx="60.5" cy="43.2" r="0.73"/><circle cx="32.7" cy="33.3" r="1.13"/><circle cx="37.2" cy="45.1" r="1.10"/><circle cx="14.2" cy="1.6" r="0.96"/><circle cx="20.6" cy="34.4" r="1.04"/><circle cx="6.5" cy="35.7" r="0.75"/><circle cx="42.9" cy="28.0" r="0.78"/><circle cx="19.9" cy="42.3" r="0.96"/><circle cx="60.4" cy="22.7" r="0.89"/><circle cx="6.9" cy="50.2" r="0.90"/><circle cx="60.6" cy="40.7" r="1.14"/><circle cx="57.3" cy="32.6" r="1.23"/><circle cx="1.6" cy="21.8" r="1.16"/><circle cx="-0.1" cy="45.8" r="1.17"/><circle cx="63.9" cy="45.8" r="1.17"/><circle cx="4.9" cy="34.6" r="1.04"/><circle cx="2.9" cy="38.0" r="1.23"/><circle cx="2.6" cy="15.8" r="1.13"/><circle cx="57.3" cy="25.8" r="1.20"/><circle cx="4.3" cy="14.9" r="0.80"/><circle cx="0.4" cy="25.9" r="0.98"/><circle cx="64.4" cy="25.9" r="0.98"/><circle cx="3.4" cy="33.1" r="0.99"/><circle cx="25.8" cy="58.5" r="0.77"/><circle cx="27.3" cy="29.4" r="0.91"/><circle cx="62.3" cy="36.6" r="0.98"/><circle cx="41.4" cy="10.4" r="1.03"/><circle cx="62.6" cy="40.8" r="1.01"/><circle cx="29.7" cy="27.1" r="0.85"/><circle cx="23.4" cy="54.2" r="0.95"/><circle cx="42.5" cy="35.6" r="0.99"/><circle cx="61.4" cy="7.5" r="1.03"/><circle cx="40.0" cy="29.1" r="1.23"/><circle cx="39.4" cy="49.0" r="1.08"/><circle cx="42.5" cy="41.6" r="0.92"/><circle cx="31.9" cy="-0.8" r="1.14"/><circle cx="31.9" cy="63.2" r="1.14"/><circle cx="46.9" cy="11.4" r="1.16"/><circle cx="6.0" cy="1.2" r="0.72"/><circle cx="30.6" cy="57.4" r="1.23"/><circle cx="56.0" cy="40.9" r="1.02"/><circle cx="10.6" cy="19.4" r="1.16"/><circle cx="32.2" cy="36.7" r="0.83"/><circle cx="54.1" cy="62.8" r="0.80"/><circle cx="46.2" cy="14.4" r="1.02"/><circle cx="11.5" cy="12.7" r="1.09"/><circle cx="59.2" cy="54.0" r="1.04"/><circle cx="53.6" cy="0.7" r="1.18"/><circle cx="53.6" cy="64.7" r="1.18"/><circle cx="19.5" cy="36.5" r="0.96"/><circle cx="11.3" cy="51.5" r="1.18"/><circle cx="4.0" cy="9.5" r="0.97"/><circle cx="33.7" cy="51.1" r="0.86"/><circle cx="1.7" cy="57.0" r="0.81"/><circle cx="39.6" cy="40.6" r="1.14"/><circle cx="41.3" cy="54.4" r="0.79"/><circle cx="59.0" cy="1.8" r="0.77"/><circle cx="40.9" cy="46.0" r="1.17"/><circle cx="47.2" cy="62.8" r="1.07"/><circle cx="4.1" cy="40.0" r="1.23"/><circle cx="7.4" cy="52.5" r="1.19"/><circle cx="59.5" cy="36.6" r="1.13"/><circle cx="41.8" cy="22.1" r="0.80"/><circle cx="24.2" cy="26.9" r="1.12"/><circle cx="14.3" cy="17.2" r="1.00"/><circle cx="53.4" cy="46.1" r="0.80"/><circle cx="45.4" cy="34.4" r="0.87"/><circle cx="6.8" cy="14.9" r="0.89"/><circle cx="25.2" cy="36.0" r="1.11"/><circle cx="16.6" cy="35.5" r="0.89"/><circle cx="14.5" cy="8.9" r="1.23"/><circle cx="27.3" cy="0.5" r="0.93"/><circle cx="27.3" cy="64.5" r="0.93"/><circle cx="44.1" cy="53.4" r="0.80"/><circle cx="9.9" cy="17.2" r="0.85"/><circle cx="9.1" cy="33.0" r="1.11"/><circle cx="43.5" cy="14.1" r="1.13"/><circle cx="57.5" cy="35.0" r="0.87"/><circle cx="16.3" cy="17.8" r="0.84"/><circle cx="1.6" cy="39.7" r="0.92"/><circle cx="3.1" cy="23.5" r="1.24"/><circle cx="28.4" cy="43.2" r="1.18"/><circle cx="8.6" cy="44.4" r="0.86"/><circle cx="37.2" cy="1.4" r="0.90"/><circle cx="60.2" cy="58.0" r="1.04"/><circle cx="37.7" cy="6.6" r="0.70"/><circle cx="54.2" cy="49.3" r="1.19"/><circle cx="16.3" cy="1.2" r="1.02"/><circle cx="6.8" cy="42.5" r="1.07"/><circle cx="15.1" cy="56.7" r="1.20"/><circle cx="2.1" cy="17.7" r="0.83"/><circle cx="18.0" cy="44.2" r="1.18"/><circle cx="50.4" cy="16.0" r="0.76"/><circle cx="2.7" cy="19.9" r="0.75"/><circle cx="30.4" cy="42.1" r="1.03"/><circle cx="41.4" cy="14.9" r="1.04"/><circle cx="38.9" cy="30.7" r="0.78"/><circle cx="20.8" cy="0.1" r="1.20"/><circle cx="20.8" cy="64.1" r="1.20"/><circle cx="13.2" cy="53.7" r="0.72"/><circle cx="36.1" cy="38.0" r="1.04"/><circle cx="58.3" cy="58.8" r="1.16"/><circle cx="5.2" cy="45.7" r="0.99"/><circle cx="34.4" cy="17.1" r="1.13"/><circle cx="51.6" cy="49.3" r="0.87"/><circle cx="43.6" cy="2.0" r="0.70"/><circle cx="-1.0" cy="29.9" r="1.05"/><circle cx="63.0" cy="29.9" r="1.05"/><circle cx="37.5" cy="53.8" r="1.23"/><circle cx="4.6" cy="57.2" r="0.85"/><circle cx="27.0" cy="54.0" r="1.17"/><circle cx="28.3" cy="31.1" r="1.06"/><circle cx="45.4" cy="56.0" r="1.15"/><circle cx="55.3" cy="3.6" r="1.06"/><circle cx="48.0" cy="56.6" r="1.24"/><circle cx="48.1" cy="17.7" r="1.09"/><circle cx="8.7" cy="41.0" r="0.73"/><circle cx="58.4" cy="16.3" r="1.12"/><circle cx="27.7" cy="35.3" r="1.17"/><circle cx="17.0" cy="52.5" r="1.22"/><circle cx="13.8" cy="30.9" r="0.99"/><circle cx="39.5" cy="9.3" r="1.00"/><circle cx="61.2" cy="45.0" r="0.73"/><circle cx="51.7" cy="13.6" r="1.03"/><circle cx="46.1" cy="43.5" r="0.96"/><circle cx="50.3" cy="21.1" r="0.70"/><circle cx="26.1" cy="27.3" r="1.04"/><circle cx="48.5" cy="61.3" r="0.84"/><circle cx="57.3" cy="22.7" r="1.21"/><circle cx="16.4" cy="31.4" r="1.00"/><circle cx="25.3" cy="-0.4" r="0.99"/><circle cx="25.3" cy="63.6" r="0.99"/><circle cx="6.8" cy="25.2" r="1.12"/><circle cx="54.1" cy="17.1" r="1.20"/><circle cx="40.4" cy="56.8" r="0.81"/><circle cx="1.7" cy="52.0" r="1.23"/><circle cx="42.1" cy="49.8" r="0.92"/><circle cx="24.0" cy="17.3" r="0.85"/><circle cx="1.4" cy="11.8" r="1.13"/><circle cx="36.5" cy="48.5" r="1.08"/><circle cx="12.5" cy="60.3" r="0.74"/><circle cx="21.6" cy="48.4" r="1.17"/><circle cx="29.2" cy="1.8" r="0.93"/><circle cx="49.8" cy="44.5" r="1.08"/><circle cx="33.5" cy="54.6" r="1.23"/><circle cx="19.8" cy="38.5" r="0.83"/><circle cx="22.0" cy="25.3" r="1.03"/><circle cx="40.3" cy="43.9" r="1.02"/><circle cx="29.8" cy="51.8" r="0.71"/><circle cx="17.1" cy="6.2" r="1.08"/><circle cx="12.9" cy="24.4" r="0.93"/><circle cx="23.4" cy="46.4" r="0.82"/><circle cx="17.9" cy="11.6" r="1.11"/><circle cx="34.9" cy="21.0" r="0.83"/><circle cx="0.2" cy="32.0" r="1.05"/><circle cx="64.2" cy="32.0" r="1.05"/><circle cx="33.9" cy="43.7" r="1.03"/><circle cx="2.3" cy="26.1" r="0.97"/><circle cx="24.7" cy="48.7" r="1.11"/><circle cx="44.6" cy="50.4" r="1.06"/><circle cx="62.6" cy="47.4" r="0.92"/><circle cx="13.6" cy="13.5" r="0.73"/><circle cx="2.7" cy="46.8" r="1.12"/><circle cx="15.3" cy="22.5" r="0.96"/><circle cx="15.6" cy="50.9" r="1.23"/><circle cx="9.9" cy="30.6" r="1.13"/><circle cx="39.4" cy="19.0" r="1.21"/><circle cx="52.1" cy="27.1" r="0.77"/><circle cx="22.2" cy="41.9" r="0.78"/><circle cx="-0.5" cy="0.4" r="1.18"/><circle cx="-0.5" cy="64.4" r="1.18"/><circle cx="63.5" cy="0.4" r="1.18"/><circle cx="63.5" cy="64.4" r="1.18"/><circle cx="5.5" cy="31.7" r="0.95"/><circle cx="29.2" cy="5.1" r="1.21"/><circle cx="37.4" cy="22.5" r="1.00"/><circle cx="16.9" cy="42.5" r="0.71"/><circle cx="26.1" cy="61.2" r="0.84"/><circle cx="31.7" cy="19.5" r="0.85"/><circle cx="35.0" cy="46.8" r="1.23"/><circle cx="40.8" cy="33.6" r="1.12"/><circle cx="50.1" cy="19.1" r="1.14"/><circle cx="24.3" cy="32.1" r="1.09"/><circle cx="16.2" cy="3.5" r="0.92"/><circle cx="35.6" cy="60.8" r="0.88"/><circle cx="34.9" cy="35.9" r="0.87"/><circle cx="43.8" cy="29.8" r="0.77"/><circle cx="62.0" cy="34.2" r="1.19"/><circle cx="38.5" cy="46.5" r="1.05"/><circle cx="62.3" cy="26.6" r="0.81"/><circle cx="15.5" cy="47.5" r="0.81"/><circle cx="31.7" cy="28.6" r="1.16"/><circle cx="55.0" cy="34.5" r="0.73"/><circle cx="34.2" cy="28.0" r="1.06"/><circle cx="42.1" cy="12.4" r="1.12"/><circle cx="61.2" cy="38.2" r="0.90"/><circle cx="20.5" cy="31.1" r="0.87"/><circle cx="34.9" cy="1.8" r="1.15"/><circle cx="35.8" cy="5.4" r="0.96"/><circle cx="13.2" cy="51.4" r="0.76"/><circle cx="2.2" cy="62.9" r="0.97"/><circle cx="12.7" cy="18.4" r="0.80"/><circle cx="-0.4" cy="38.1" r="0.87"/><circle cx="63.6" cy="38.1" r="0.87"/><circle cx="34.3" cy="49.0" r="0.80"/><circle cx="58.7" cy="7.7" r="0.85"/><circle cx="40.7" cy="16.9" r="0.70"/><circle cx="60.4" cy="26.4" r="0.87"/><circle cx="27.1" cy="9.8" r="1.12"/><circle cx="54.3" cy="26.0" r="0.96"/><circle cx="35.0" cy="58.3" r="1.16"/><circle cx="15.7" cy="61.8" r="1.14"/><circle cx="31.2" cy="38.3" r="1.22"/><circle cx="18.2" cy="23.4" r="1.06"/><circle cx="43.5" cy="48.3" r="1.05"/><circle cx="33.0" cy="2.3" r="1.14"/><circle cx="11.7" cy="30.0" r="1.20"/><circle cx="7.4" cy="62.8" r="0.82"/><circle cx="10.3" cy="45.6" r="1.13"/><circle cx="23.1" cy="36.8" r="0.73"/><circle cx="53.3" cy="11.8" r="0.92"/><circle cx="51.4" cy="47.3" r="1.20"/><circle cx="49.5" cy="52.3" r="0.83"/><circle cx="10.7" cy="0.3" r="0.78"/><circle cx="10.7" cy="64.3" r="0.78"/><circle cx="27.8" cy="57.6" r="1.19"/><circle cx="53.1" cy="60.6" r="1.24"/><circle cx="9.3" cy="50.7" r="0.81"/><circle cx="30.5" cy="45.2" r="0.97"/><circle cx="33.0" cy="60.6" r="0.76"/><circle cx="14.4" cy="6.7" r="0.98"/><circle cx="7.3" cy="5.6" r="0.88"/><circle cx="44.2" cy="4.4" r="0.85"/><circle cx="13.9" cy="35.2" r="0.71"/><circle cx="27.8" cy="51.5" r="0.83"/><circle cx="25.9" cy="22.7" r="0.96"/><circle cx="53.3" cy="54.4" r="0.96"/><circle cx="29.8" cy="0.0" r="0.97"/><circle cx="29.8" cy="64.0" r="0.97"/><circle cx="56.4" cy="0.9" r="1.10"/><circle cx="56.4" cy="64.9" r="1.10"/></g></pattern>
<pattern id="pS" width="64" height="64" patternUnits="userSpaceOnUse"><g fill="#f41212"><circle cx="15.2" cy="34.8" r="0.97"/><circle cx="38.7" cy="40.0" r="0.79"/><circle cx="0.8" cy="53.6" r="0.91"/><circle cx="64.8" cy="53.6" r="0.91"/><circle cx="15.0" cy="-0.3" r="1.03"/><circle cx="15.0" cy="63.7" r="1.03"/><circle cx="53.5" cy="30.5" r="1.13"/><circle cx="9.6" cy="40.6" r="1.27"/><circle cx="33.5" cy="47.4" r="1.15"/><circle cx="4.1" cy="48.5" r="1.10"/><circle cx="19.3" cy="2.0" r="1.27"/><circle cx="30.3" cy="46.0" r="1.28"/><circle cx="45.7" cy="59.0" r="0.99"/><circle cx="51.3" cy="28.5" r="1.31"/><circle cx="56.2" cy="6.2" r="0.83"/><circle cx="27.9" cy="40.1" r="0.93"/><circle cx="32.5" cy="24.7" r="0.96"/><circle cx="37.4" cy="37.4" r="1.29"/><circle cx="54.8" cy="-0.6" r="1.15"/><circle cx="54.8" cy="63.4" r="1.15"/><circle cx="10.4" cy="55.1" r="1.33"/><circle cx="57.9" cy="36.4" r="1.18"/><circle cx="13.5" cy="53.2" r="1.09"/><circle cx="5.7" cy="51.2" r="1.00"/><circle cx="9.6" cy="18.8" r="1.21"/><circle cx="55.9" cy="2.8" r="1.12"/><circle cx="2.9" cy="46.0" r="0.95"/><circle cx="32.3" cy="-0.1" r="0.94"/><circle cx="32.3" cy="63.9" r="0.94"/><circle cx="4.9" cy="38.4" r="0.77"/><circle cx="12.6" cy="26.1" r="1.12"/><circle cx="10.0" cy="2.7" r="1.27"/><circle cx="20.1" cy="61.4" r="1.29"/><circle cx="24.2" cy="29.5" r="1.06"/><circle cx="41.2" cy="38.1" r="1.09"/><circle cx="39.7" cy="60.2" r="1.05"/><circle cx="27.6" cy="46.1" r="0.89"/><circle cx="33.4" cy="35.1" r="0.76"/><circle cx="26.6" cy="37.1" r="0.76"/><circle cx="22.6" cy="45.2" r="1.19"/><circle cx="1.4" cy="3.9" r="1.16"/><circle cx="61.7" cy="16.1" r="1.02"/><circle cx="37.9" cy="20.5" r="0.97"/><circle cx="20.0" cy="23.6" r="1.11"/><circle cx="49.4" cy="1.7" r="1.09"/><circle cx="47.1" cy="19.8" r="0.88"/><circle cx="51.4" cy="15.3" r="0.86"/><circle cx="6.5" cy="20.6" r="0.95"/><circle cx="54.8" cy="10.8" r="0.95"/><circle cx="41.6" cy="56.6" r="1.02"/><circle cx="14.4" cy="7.7" r="1.07"/><circle cx="17.8" cy="51.7" r="1.14"/><circle cx="51.6" cy="22.1" r="0.83"/><circle cx="17.4" cy="22.2" r="1.00"/><circle cx="26.9" cy="26.2" r="1.30"/><circle cx="60.4" cy="56.3" r="1.34"/><circle cx="27.8" cy="60.8" r="1.31"/><circle cx="14.2" cy="47.7" r="1.25"/><circle cx="42.4" cy="33.2" r="0.92"/><circle cx="21.8" cy="14.6" r="0.79"/><circle cx="51.9" cy="2.9" r="1.29"/><circle cx="57.4" cy="57.6" r="1.10"/><circle cx="0.8" cy="47.7" r="0.85"/><circle cx="64.8" cy="47.7" r="0.85"/><circle cx="19.2" cy="42.4" r="1.06"/><circle cx="16.2" cy="55.1" r="1.04"/><circle cx="12.6" cy="34.2" r="1.24"/><circle cx="11.0" cy="50.7" r="1.30"/><circle cx="51.6" cy="52.7" r="0.75"/><circle cx="3.2" cy="17.4" r="0.91"/><circle cx="33.7" cy="27.1" r="1.03"/><circle cx="3.5" cy="8.1" r="0.82"/><circle cx="4.4" cy="62.4" r="1.26"/><circle cx="5.5" cy="32.1" r="0.94"/><circle cx="23.1" cy="12.2" r="0.95"/><circle cx="7.9" cy="35.6" r="1.18"/><circle cx="24.3" cy="5.1" r="0.86"/><circle cx="23.9" cy="38.7" r="1.22"/><circle cx="24.3" cy="51.3" r="1.12"/><circle cx="29.5" cy="15.7" r="1.07"/><circle cx="44.5" cy="4.6" r="1.00"/><circle cx="27.3" cy="56.3" r="1.31"/><circle cx="24.0" cy="57.5" r="1.22"/><circle cx="16.8" cy="29.7" r="0.82"/><circle cx="52.0" cy="42.4" r="1.28"/><circle cx="47.0" cy="36.1" r="0.81"/><circle cx="37.6" cy="0.3" r="0.84"/><circle cx="37.6" cy="64.3" r="0.84"/><circle cx="5.9" cy="6.4" r="1.28"/><circle cx="53.9" cy="7.8" r="1.26"/><circle cx="43.1" cy="53.5" r="1.32"/><circle cx="37.1" cy="51.1" r="0.77"/><circle cx="49.1" cy="32.7" r="1.18"/><circle cx="6.8" cy="47.9" r="1.31"/><circle cx="3.9" cy="20.8" r="1.09"/><circle cx="11.5" cy="16.0" r="1.12"/><circle cx="48.2" cy="25.2" r="0.97"/><circle cx="25.4" cy="22.4" r="1.00"/><circle cx="62.3" cy="26.4" r="1.20"/><circle cx="10.3" cy="44.2" r="1.20"/><circle cx="31.0" cy="41.1" r="1.29"/><circle cx="9.6" cy="6.1" r="1.20"/><circle cx="58.7" cy="33.1" r="1.02"/><circle cx="46.0" cy="11.9" r="0.91"/><circle cx="12.7" cy="37.5" r="0.94"/><circle cx="14.9" cy="44.2" r="1.32"/><circle cx="18.9" cy="45.1" r="1.00"/><circle cx="54.6" cy="37.4" r="0.91"/><circle cx="11.0" cy="23.1" r="0.94"/><circle cx="49.5" cy="9.2" r="1.34"/><circle cx="30.7" cy="38.3" r="1.03"/><circle cx="35.7" cy="30.8" r="1.18"/><circle cx="54.8" cy="25.6" r="1.19"/><circle cx="61.5" cy="29.9" r="0.89"/><circle cx="43.2" cy="61.4" r="1.26"/><circle cx="15.5" cy="12.1" r="0.91"/><circle cx="20.1" cy="27.1" r="1.19"/><circle cx="53.4" cy="18.7" r="0.96"/><circle cx="37.1" cy="43.2" r="0.75"/><circle cx="31.1" cy="13.4" r="1.10"/><circle cx="34.8" cy="7.6" r="0.91"/><circle cx="42.6" cy="7.2" r="1.28"/><circle cx="60.2" cy="24.0" r="1.21"/><circle cx="43.3" cy="41.9" r="1.23"/><circle cx="17.0" cy="48.3" r="1.33"/><circle cx="43.4" cy="36.2" r="0.86"/><circle cx="59.6" cy="9.0" r="0.95"/><circle cx="29.3" cy="20.0" r="0.86"/><circle cx="32.3" cy="15.8" r="1.21"/><circle cx="22.7" cy="21.3" r="0.99"/><circle cx="22.6" cy="54.2" r="0.82"/><circle cx="17.3" cy="6.4" r="0.82"/><circle cx="49.9" cy="46.5" r="0.86"/><circle cx="47.6" cy="52.2" r="1.20"/><circle cx="37.9" cy="9.4" r="0.99"/><circle cx="36.4" cy="12.9" r="0.90"/><circle cx="51.4" cy="57.0" r="1.32"/><circle cx="24.5" cy="35.4" r="1.10"/><circle cx="43.9" cy="19.2" r="1.27"/><circle cx="46.5" cy="0.2" r="1.21"/><circle cx="46.5" cy="64.2" r="1.21"/><circle cx="2.4" cy="32.0" r="1.14"/><circle cx="39.9" cy="3.2" r="0.97"/><circle cx="14.9" cy="5.0" r="1.07"/><circle cx="59.5" cy="20.7" r="1.27"/><circle cx="59.3" cy="45.8" r="1.19"/><circle cx="31.0" cy="7.0" r="0.78"/><circle cx="5.0" cy="12.8" r="0.85"/><circle cx="25.7" cy="11.6" r="1.29"/><circle cx="46.1" cy="23.5" r="0.97"/><circle cx="33.9" cy="38.2" r="0.88"/><circle cx="0.2" cy="13.4" r="1.22"/><circle cx="64.2" cy="13.4" r="1.22"/><circle cx="9.2" cy="29.4" r="0.87"/><circle cx="3.8" cy="1.4" r="1.02"/><circle cx="3.3" cy="25.8" r="0.99"/><circle cx="1.7" cy="61.8" r="0.88"/><circle cx="22.2" cy="7.9" r="0.78"/><circle cx="16.0" cy="17.0" r="1.24"/><circle cx="40.3" cy="22.1" r="0.81"/><circle cx="3.5" cy="41.9" r="1.29"/><circle cx="30.5" cy="51.4" r="1.30"/><circle cx="60.2" cy="2.2" r="0.93"/><circle cx="11.2" cy="47.3" r="1.19"/><circle cx="26.5" cy="14.7" r="1.22"/><circle cx="38.8" cy="45.5" r="0.98"/><circle cx="31.2" cy="9.8" r="1.18"/><circle cx="48.5" cy="43.3" r="0.81"/><circle cx="55.8" cy="28.8" r="1.29"/><circle cx="41.5" cy="15.4" r="0.78"/><circle cx="26.9" cy="50.0" r="1.11"/><circle cx="12.0" cy="11.4" r="0.80"/><circle cx="12.8" cy="57.2" r="0.80"/><circle cx="41.1" cy="48.7" r="1.27"/><circle cx="4.6" cy="35.4" r="1.19"/><circle cx="22.4" cy="-0.3" r="0.95"/><circle cx="22.4" cy="63.7" r="0.95"/><circle cx="27.6" cy="5.4" r="0.88"/><circle cx="10.6" cy="59.6" r="1.19"/><circle cx="-0.2" cy="58.9" r="0.93"/><circle cx="63.8" cy="58.9" r="0.93"/><circle cx="59.8" cy="11.8" r="0.81"/><circle cx="56.8" cy="51.7" r="0.93"/><circle cx="0.6" cy="8.4" r="1.07"/><circle cx="64.6" cy="8.4" r="1.07"/><circle cx="34.3" cy="10.6" r="0.78"/><circle cx="29.8" cy="62.7" r="1.22"/><circle cx="11.8" cy="0.8" r="1.01"/><circle cx="11.8" cy="64.8" r="1.01"/><circle cx="21.6" cy="3.3" r="1.08"/><circle cx="40.2" cy="43.2" r="1.30"/><circle cx="17.9" cy="10.8" r="0.76"/><circle cx="52.1" cy="38.6" r="1.00"/><circle cx="-0.5" cy="35.0" r="0.99"/><circle cx="63.5" cy="35.0" r="0.99"/><circle cx="20.2" cy="33.4" r="1.00"/><circle cx="54.5" cy="53.0" r="1.31"/><circle cx="6.6" cy="42.8" r="0.97"/><circle cx="32.9" cy="57.3" r="1.33"/><circle cx="41.2" cy="12.5" r="1.30"/><circle cx="17.3" cy="60.8" r="1.32"/><circle cx="35.0" cy="3.0" r="0.89"/><circle cx="-0.5" cy="43.2" r="1.14"/><circle cx="63.5" cy="43.2" r="1.14"/><circle cx="22.7" cy="60.9" r="1.04"/><circle cx="1.4" cy="22.1" r="1.20"/><circle cx="50.0" cy="36.4" r="1.03"/><circle cx="34.2" cy="53.3" r="0.87"/><circle cx="61.7" cy="53.8" r="0.85"/><circle cx="7.3" cy="0.9" r="1.27"/><circle cx="7.3" cy="64.9" r="1.27"/><circle cx="50.8" cy="-0.5" r="1.16"/><circle cx="50.8" cy="63.5" r="1.16"/><circle cx="28.2" cy="9.4" r="1.11"/><circle cx="21.8" cy="41.3" r="0.92"/><circle cx="30.6" cy="34.0" r="1.27"/><circle cx="54.2" cy="49.8" r="0.79"/><circle cx="62.8" cy="23.5" r="0.88"/><circle cx="14.1" cy="23.7" r="1.12"/><circle cx="20.5" cy="18.1" r="0.77"/><circle cx="58.4" cy="28.2" r="1.16"/><circle cx="7.7" cy="56.3" r="0.98"/><circle cx="17.5" cy="24.9" r="1.06"/><circle cx="42.2" cy="27.9" r="0.81"/><circle cx="5.3" cy="28.3" r="1.20"/><circle cx="56.6" cy="12.9" r="0.99"/><circle cx="30.0" cy="54.9" r="1.07"/><circle cx="13.0" cy="19.1" r="1.29"/><circle cx="54.9" cy="47.2" r="0.87"/><circle cx="20.0" cy="12.4" r="1.27"/><circle cx="14.1" cy="28.3" r="1.09"/><circle cx="37.1" cy="17.2" r="1.29"/><circle cx="43.9" cy="14.2" r="1.24"/><circle cx="52.7" cy="13.0" r="0.81"/><circle cx="19.4" cy="57.1" r="1.28"/><circle cx="43.4" cy="47.0" r="0.96"/><circle cx="36.0" cy="24.7" r="0.82"/><circle cx="6.8" cy="3.5" r="1.04"/><circle cx="55.6" cy="33.0" r="0.99"/><circle cx="7.5" cy="60.7" r="1.04"/><circle cx="-0.9" cy="50.6" r="1.19"/><circle cx="63.1" cy="50.6" r="1.19"/><circle cx="32.3" cy="44.0" r="1.01"/><circle cx="32.3" cy="61.0" r="1.26"/><circle cx="10.3" cy="8.8" r="1.12"/><circle cx="56.6" cy="8.8" r="0.75"/><circle cx="-0.4" cy="39.1" r="0.91"/><circle cx="63.6" cy="39.1" r="0.91"/><circle cx="33.2" cy="21.0" r="1.33"/><circle cx="28.5" cy="42.7" r="0.95"/><circle cx="19.5" cy="30.2" r="0.93"/><circle cx="19.5" cy="8.5" r="1.13"/><circle cx="12.3" cy="5.3" r="1.20"/><circle cx="47.2" cy="16.5" r="1.03"/><circle cx="14.0" cy="14.6" r="0.87"/><circle cx="46.6" cy="6.6" r="1.21"/><circle cx="9.3" cy="13.8" r="1.25"/><circle cx="56.8" cy="15.6" r="0.88"/><circle cx="25.5" cy="32.5" r="0.93"/><circle cx="53.6" cy="59.8" r="1.20"/><circle cx="55.8" cy="22.0" r="0.85"/><circle cx="7.7" cy="10.9" r="1.26"/><circle cx="31.7" cy="28.9" r="1.03"/><circle cx="47.6" cy="39.7" r="1.21"/><circle cx="18.0" cy="15.0" r="0.85"/><circle cx="21.5" cy="49.0" r="1.22"/><circle cx="39.5" cy="31.7" r="1.06"/><circle cx="19.1" cy="54.3" r="0.79"/></g></pattern>
<pattern id="pF" width="64" height="64" patternUnits="userSpaceOnUse"><g fill="#f41212"><circle cx="15.1" cy="6.6" r="0.80"/><circle cx="9.9" cy="4.3" r="0.80"/><circle cx="58.7" cy="51.2" r="0.98"/><circle cx="14.2" cy="34.3" r="0.74"/><circle cx="11.1" cy="6.8" r="0.71"/><circle cx="59.4" cy="53.1" r="1.00"/><circle cx="51.2" cy="12.4" r="0.75"/><circle cx="40.1" cy="46.8" r="1.03"/><circle cx="56.3" cy="5.5" r="0.90"/><circle cx="43.0" cy="32.4" r="0.69"/><circle cx="30.3" cy="5.7" r="1.07"/><circle cx="55.4" cy="35.0" r="0.75"/><circle cx="58.2" cy="36.6" r="1.04"/><circle cx="54.3" cy="32.5" r="0.81"/><circle cx="38.3" cy="27.6" r="0.68"/><circle cx="19.5" cy="52.0" r="0.62"/><circle cx="3.0" cy="40.1" r="0.74"/><circle cx="34.2" cy="30.2" r="0.77"/><circle cx="-0.2" cy="12.5" r="0.81"/><circle cx="63.8" cy="12.5" r="0.81"/><circle cx="13.0" cy="40.5" r="0.74"/><circle cx="22.8" cy="47.8" r="0.76"/><circle cx="35.7" cy="57.9" r="0.65"/><circle cx="3.9" cy="14.6" r="0.98"/><circle cx="39.4" cy="15.2" r="0.77"/><circle cx="11.4" cy="29.4" r="0.62"/><circle cx="44.6" cy="57.3" r="1.08"/><circle cx="47.0" cy="61.4" r="0.61"/><circle cx="18.5" cy="61.8" r="0.99"/><circle cx="26.3" cy="60.4" r="0.91"/><circle cx="52.3" cy="18.8" r="0.70"/><circle cx="28.4" cy="8.7" r="0.79"/><circle cx="61.6" cy="21.2" r="0.60"/><circle cx="2.9" cy="10.9" r="0.99"/><circle cx="23.2" cy="18.6" r="0.65"/><circle cx="62.8" cy="27.1" r="0.70"/><circle cx="3.8" cy="3.5" r="0.68"/><circle cx="43.3" cy="9.6" r="0.62"/><circle cx="31.4" cy="15.9" r="1.10"/><circle cx="7.8" cy="33.9" r="0.99"/><circle cx="26.2" cy="-0.8" r="0.84"/><circle cx="26.2" cy="63.2" r="0.84"/><circle cx="15.5" cy="26.3" r="0.62"/><circle cx="27.0" cy="15.9" r="1.04"/><circle cx="2.0" cy="16.3" r="0.72"/><circle cx="13.3" cy="14.8" r="1.03"/><circle cx="57.7" cy="41.9" r="1.00"/><circle cx="47.7" cy="31.6" r="0.65"/><circle cx="13.5" cy="55.9" r="1.05"/><circle cx="59.2" cy="21.5" r="0.93"/><circle cx="51.2" cy="41.1" r="1.01"/><circle cx="33.8" cy="41.9" r="0.94"/><circle cx="17.2" cy="59.1" r="1.08"/><circle cx="4.8" cy="62.1" r="1.08"/><circle cx="42.8" cy="2.9" r="1.05"/><circle cx="8.2" cy="62.0" r="0.93"/><circle cx="40.7" cy="36.4" r="0.97"/><circle cx="59.4" cy="14.0" r="0.60"/><circle cx="59.0" cy="0.8" r="1.04"/><circle cx="59.0" cy="64.8" r="1.04"/><circle cx="7.4" cy="51.8" r="0.99"/><circle cx="56.2" cy="12.9" r="0.94"/><circle cx="21.2" cy="57.1" r="0.99"/><circle cx="30.2" cy="33.7" r="0.61"/><circle cx="2.2" cy="38.0" r="0.84"/><circle cx="55.3" cy="38.9" r="0.67"/><circle cx="33.5" cy="0.7" r="1.02"/><circle cx="33.5" cy="64.7" r="1.02"/><circle cx="53.0" cy="5.4" r="0.87"/><circle cx="24.4" cy="50.4" r="0.76"/><circle cx="15.0" cy="31.1" r="1.08"/><circle cx="6.1" cy="7.3" r="0.91"/><circle cx="56.7" cy="32.8" r="0.82"/><circle cx="54.9" cy="49.7" r="0.63"/><circle cx="19.3" cy="53.5" r="0.81"/><circle cx="51.1" cy="10.7" r="1.04"/><circle cx="11.3" cy="9.6" r="0.85"/><circle cx="21.7" cy="34.7" r="1.05"/><circle cx="45.5" cy="0.4" r="0.76"/><circle cx="45.5" cy="64.4" r="0.76"/><circle cx="45.8" cy="31.0" r="0.64"/><circle cx="15.7" cy="54.2" r="0.78"/><circle cx="49.1" cy="-0.9" r="0.91"/><circle cx="49.1" cy="63.1" r="0.91"/><circle cx="43.3" cy="39.0" r="0.76"/><circle cx="58.4" cy="29.9" r="1.06"/><circle cx="19.6" cy="55.5" r="0.99"/><circle cx="9.0" cy="49.3" r="0.78"/><circle cx="5.3" cy="9.2" r="1.00"/><circle cx="11.4" cy="57.7" r="0.79"/><circle cx="36.9" cy="22.4" r="0.91"/><circle cx="6.0" cy="25.8" r="1.07"/><circle cx="11.5" cy="41.9" r="0.76"/><circle cx="19.2" cy="1.5" r="0.61"/><circle cx="51.3" cy="51.7" r="1.08"/><circle cx="10.1" cy="37.4" r="0.85"/><circle cx="36.7" cy="60.0" r="0.98"/><circle cx="62.0" cy="7.5" r="0.93"/><circle cx="43.2" cy="47.7" r="0.91"/><circle cx="59.4" cy="26.0" r="0.90"/><circle cx="57.4" cy="45.0" r="0.75"/><circle cx="14.7" cy="20.9" r="0.91"/><circle cx="-0.2" cy="57.5" r="0.80"/><circle cx="63.8" cy="57.5" r="0.80"/><circle cx="25.6" cy="52.3" r="0.74"/><circle cx="26.3" cy="0.8" r="0.69"/><circle cx="34.6" cy="44.4" r="0.91"/><circle cx="23.3" cy="60.9" r="0.91"/><circle cx="62.3" cy="-0.8" r="1.06"/><circle cx="62.3" cy="63.2" r="1.06"/><circle cx="38.6" cy="20.0" r="0.65"/><circle cx="16.5" cy="14.2" r="1.06"/><circle cx="57.1" cy="49.8" r="0.67"/><circle cx="15.3" cy="19.1" r="1.07"/><circle cx="10.5" cy="50.6" r="0.94"/><circle cx="35.0" cy="61.4" r="0.73"/><circle cx="33.6" cy="10.1" r="0.65"/><circle cx="2.0" cy="20.3" r="0.66"/><circle cx="3.9" cy="-0.5" r="0.74"/><circle cx="3.9" cy="63.5" r="0.74"/><circle cx="46.8" cy="41.9" r="1.08"/><circle cx="56.2" cy="46.0" r="0.88"/><circle cx="44.4" cy="46.3" r="0.88"/><circle cx="54.0" cy="31.0" r="0.63"/><circle cx="10.8" cy="56.0" r="0.73"/><circle cx="25.0" cy="43.7" r="1.03"/><circle cx="21.0" cy="24.8" r="0.81"/><circle cx="1.8" cy="56.1" r="0.61"/><circle cx="61.4" cy="9.8" r="0.68"/><circle cx="54.3" cy="52.7" r="0.72"/><circle cx="46.0" cy="11.8" r="1.01"/><circle cx="-0.2" cy="45.2" r="1.06"/><circle cx="63.8" cy="45.2" r="1.06"/><circle cx="60.0" cy="24.3" r="1.02"/><circle cx="53.4" cy="37.6" r="0.65"/><circle cx="39.6" cy="58.4" r="0.75"/><circle cx="41.4" cy="57.4" r="0.90"/><circle cx="42.4" cy="19.7" r="1.05"/><circle cx="40.0" cy="21.7" r="1.02"/><circle cx="57.1" cy="57.2" r="1.04"/><circle cx="42.1" cy="44.7" r="0.90"/><circle cx="33.7" cy="63.2" r="0.78"/><circle cx="5.2" cy="45.7" r="0.85"/><circle cx="34.9" cy="38.3" r="0.72"/><circle cx="12.9" cy="4.6" r="0.99"/><circle cx="0.1" cy="54.0" r="0.91"/><circle cx="64.1" cy="54.0" r="0.91"/><circle cx="39.8" cy="1.2" r="0.97"/><circle cx="2.2" cy="30.6" r="0.67"/><circle cx="23.0" cy="57.0" r="0.97"/><circle cx="24.9" cy="38.7" r="0.62"/><circle cx="48.3" cy="55.2" r="0.75"/><circle cx="44.2" cy="50.5" r="0.95"/><circle cx="28.0" cy="11.2" r="0.61"/><circle cx="56.8" cy="59.6" r="0.74"/><circle cx="48.4" cy="26.1" r="0.91"/><circle cx="53.9" cy="20.6" r="0.91"/><circle cx="16.4" cy="32.7" r="0.62"/><circle cx="16.9" cy="18.4" r="1.06"/><circle cx="13.5" cy="59.7" r="0.93"/><circle cx="7.3" cy="21.8" r="0.83"/><circle cx="-0.6" cy="10.7" r="0.72"/><circle cx="63.4" cy="10.7" r="0.72"/><circle cx="54.0" cy="7.3" r="1.09"/><circle cx="19.0" cy="36.3" r="0.93"/><circle cx="58.0" cy="4.8" r="1.02"/><circle cx="11.5" cy="46.0" r="0.61"/><circle cx="49.1" cy="11.6" r="0.70"/><circle cx="21.0" cy="62.9" r="0.90"/><circle cx="23.3" cy="-0.6" r="0.69"/><circle cx="23.3" cy="63.4" r="0.69"/><circle cx="60.9" cy="43.8" r="1.09"/><circle cx="3.7" cy="57.8" r="0.95"/><circle cx="42.8" cy="54.0" r="0.65"/><circle cx="12.8" cy="8.8" r="0.84"/><circle cx="35.0" cy="34.6" r="0.78"/><circle cx="47.6" cy="53.7" r="0.98"/><circle cx="36.7" cy="12.5" r="0.91"/><circle cx="22.0" cy="23.3" r="0.95"/><circle cx="60.4" cy="12.2" r="0.77"/><circle cx="1.7" cy="12.2" r="1.01"/><circle cx="31.8" cy="2.6" r="0.75"/><circle cx="46.0" cy="25.1" r="0.67"/><circle cx="24.0" cy="29.7" r="0.78"/><circle cx="1.9" cy="50.2" r="0.97"/><circle cx="26.8" cy="7.4" r="0.75"/><circle cx="30.8" cy="62.3" r="0.86"/><circle cx="11.6" cy="39.4" r="0.90"/><circle cx="38.4" cy="46.4" r="0.61"/><circle cx="28.0" cy="51.2" r="0.67"/><circle cx="18.3" cy="27.8" r="0.76"/><circle cx="40.6" cy="10.9" r="0.77"/><circle cx="43.2" cy="34.8" r="1.08"/><circle cx="59.9" cy="16.5" r="0.77"/><circle cx="23.4" cy="55.2" r="0.70"/><circle cx="30.2" cy="7.6" r="1.04"/><circle cx="38.1" cy="63.2" r="0.67"/><circle cx="45.5" cy="38.2" r="0.63"/><circle cx="52.5" cy="55.9" r="0.64"/><circle cx="60.3" cy="50.2" r="0.90"/><circle cx="34.8" cy="16.8" r="0.63"/><circle cx="30.4" cy="55.4" r="0.70"/><circle cx="30.2" cy="18.1" r="0.95"/><circle cx="61.4" cy="56.8" r="0.74"/><circle cx="33.9" cy="54.6" r="1.02"/><circle cx="4.6" cy="27.7" r="0.64"/><circle cx="27.2" cy="58.4" r="0.74"/><circle cx="54.1" cy="61.1" r="1.01"/><circle cx="0.7" cy="0.2" r="0.75"/><circle cx="0.7" cy="64.2" r="0.75"/><circle cx="64.7" cy="0.2" r="0.75"/><circle cx="64.7" cy="64.2" r="0.75"/><circle cx="33.1" cy="27.1" r="0.65"/><circle cx="41.0" cy="42.7" r="0.92"/><circle cx="32.7" cy="35.2" r="0.94"/><circle cx="8.7" cy="6.7" r="0.98"/><circle cx="20.8" cy="21.7" r="0.74"/><circle cx="37.6" cy="7.6" r="0.92"/><circle cx="34.9" cy="27.2" r="0.75"/><circle cx="15.8" cy="40.0" r="0.69"/><circle cx="30.9" cy="41.7" r="0.87"/><circle cx="37.2" cy="36.5" r="0.70"/><circle cx="28.9" cy="21.3" r="0.75"/><circle cx="20.2" cy="19.2" r="0.76"/><circle cx="13.4" cy="31.0" r="0.75"/><circle cx="23.6" cy="42.5" r="0.76"/><circle cx="21.0" cy="53.4" r="0.69"/><circle cx="6.1" cy="-0.3" r="0.62"/><circle cx="6.1" cy="63.7" r="0.62"/><circle cx="0.4" cy="55.5" r="0.60"/><circle cx="64.4" cy="55.5" r="0.60"/><circle cx="41.9" cy="35.6" r="0.71"/><circle cx="15.7" cy="61.9" r="0.80"/><circle cx="15.5" cy="28.3" r="0.97"/><circle cx="18.6" cy="5.7" r="1.00"/><circle cx="6.2" cy="3.5" r="0.60"/><circle cx="47.2" cy="35.7" r="1.09"/><circle cx="43.7" cy="0.0" r="0.78"/><circle cx="43.7" cy="64.0" r="0.78"/><circle cx="48.6" cy="36.7" r="0.84"/><circle cx="60.0" cy="27.7" r="0.97"/><circle cx="25.1" cy="5.5" r="0.79"/><circle cx="13.5" cy="1.7" r="0.74"/><circle cx="8.1" cy="29.2" r="0.97"/><circle cx="20.3" cy="42.8" r="1.04"/><circle cx="25.3" cy="58.5" r="0.65"/><circle cx="58.9" cy="56.4" r="1.09"/><circle cx="53.2" cy="45.5" r="0.82"/><circle cx="45.9" cy="56.2" r="0.89"/><circle cx="18.2" cy="21.5" r="0.62"/><circle cx="56.2" cy="40.3" r="0.94"/><circle cx="15.2" cy="11.8" r="0.84"/><circle cx="56.1" cy="22.7" r="0.81"/><circle cx="26.7" cy="54.0" r="0.66"/><circle cx="55.4" cy="0.8" r="0.95"/><circle cx="55.4" cy="64.8" r="0.95"/><circle cx="48.9" cy="30.1" r="0.97"/><circle cx="18.0" cy="9.0" r="0.78"/><circle cx="17.0" cy="45.9" r="0.88"/><circle cx="42.3" cy="62.4" r="0.99"/><circle cx="50.7" cy="62.1" r="1.06"/><circle cx="47.5" cy="22.3" r="0.85"/><circle cx="48.4" cy="50.3" r="1.05"/><circle cx="11.3" cy="1.1" r="1.08"/><circle cx="55.7" cy="19.5" r="0.62"/><circle cx="52.4" cy="49.4" r="0.68"/><circle cx="52.3" cy="53.7" r="0.89"/><circle cx="17.5" cy="3.6" r="0.63"/><circle cx="28.2" cy="46.2" r="0.92"/><circle cx="14.4" cy="51.1" r="0.63"/><circle cx="50.9" cy="14.1" r="0.61"/><circle cx="30.9" cy="22.3" r="0.89"/><circle cx="36.9" cy="45.3" r="1.06"/><circle cx="21.7" cy="40.6" r="0.66"/><circle cx="24.6" cy="13.2" r="0.72"/><circle cx="31.3" cy="24.8" r="0.64"/><circle cx="54.4" cy="40.9" r="1.04"/><circle cx="58.7" cy="6.9" r="0.67"/><circle cx="54.7" cy="23.5" r="0.88"/><circle cx="17.3" cy="0.5" r="0.80"/><circle cx="17.3" cy="64.5" r="0.80"/><circle cx="36.1" cy="56.4" r="0.74"/><circle cx="59.9" cy="61.6" r="0.95"/><circle cx="25.0" cy="34.8" r="0.93"/><circle cx="39.2" cy="12.1" r="1.04"/><circle cx="34.6" cy="4.6" r="0.75"/><circle cx="5.2" cy="29.5" r="0.65"/><circle cx="12.0" cy="51.9" r="0.89"/><circle cx="0.4" cy="25.5" r="0.90"/><circle cx="64.4" cy="25.5" r="0.90"/><circle cx="10.4" cy="31.5" r="1.04"/><circle cx="22.0" cy="45.4" r="0.70"/><circle cx="62.4" cy="61.7" r="0.68"/><circle cx="48.9" cy="21.4" r="0.62"/><circle cx="13.5" cy="46.6" r="0.83"/><circle cx="33.9" cy="8.2" r="0.69"/><circle cx="23.4" cy="32.9" r="1.01"/><circle cx="7.2" cy="42.1" r="0.97"/><circle cx="32.2" cy="31.3" r="1.08"/><circle cx="5.5" cy="24.0" r="0.87"/><circle cx="38.5" cy="39.1" r="0.68"/><circle cx="32.5" cy="11.3" r="0.79"/><circle cx="11.5" cy="20.5" r="0.91"/><circle cx="25.5" cy="10.7" r="0.83"/><circle cx="44.5" cy="2.3" r="0.94"/><circle cx="16.4" cy="49.7" r="0.99"/><circle cx="8.1" cy="3.3" r="0.97"/><circle cx="26.8" cy="23.9" r="0.77"/><circle cx="23.5" cy="36.9" r="0.79"/><circle cx="-0.7" cy="49.1" r="0.96"/><circle cx="63.3" cy="49.1" r="0.96"/><circle cx="6.6" cy="49.1" r="0.67"/><circle cx="39.9" cy="32.9" r="0.99"/><circle cx="4.0" cy="43.0" r="1.01"/><circle cx="2.5" cy="43.8" r="0.74"/><circle cx="8.7" cy="26.1" r="1.00"/><circle cx="50.5" cy="35.6" r="1.06"/><circle cx="40.6" cy="16.6" r="0.97"/><circle cx="45.8" cy="59.4" r="0.69"/><circle cx="1.4" cy="21.8" r="0.73"/><circle cx="24.8" cy="3.8" r="0.91"/><circle cx="6.5" cy="36.7" r="0.65"/><circle cx="55.1" cy="17.7" r="1.05"/><circle cx="49.8" cy="33.4" r="0.82"/><circle cx="56.4" cy="10.5" r="1.03"/><circle cx="32.9" cy="18.3" r="0.77"/><circle cx="17.8" cy="40.5" r="0.82"/><circle cx="55.0" cy="44.7" r="0.75"/><circle cx="58.1" cy="24.7" r="0.87"/><circle cx="22.2" cy="14.1" r="0.90"/><circle cx="28.7" cy="41.7" r="0.85"/><circle cx="37.6" cy="25.7" r="1.03"/><circle cx="47.9" cy="56.8" r="0.73"/><circle cx="6.5" cy="31.7" r="0.68"/><circle cx="5.0" cy="32.6" r="0.83"/><circle cx="10.4" cy="22.2" r="0.78"/><circle cx="28.2" cy="39.0" r="0.84"/><circle cx="14.5" cy="-0.3" r="0.82"/><circle cx="14.5" cy="63.7" r="0.82"/><circle cx="40.5" cy="8.3" r="0.62"/><circle cx="10.2" cy="34.8" r="0.72"/><circle cx="44.3" cy="59.1" r="1.01"/><circle cx="54.9" cy="2.5" r="0.86"/><circle cx="46.6" cy="46.8" r="0.70"/><circle cx="8.8" cy="-0.6" r="0.64"/><circle cx="8.8" cy="63.4" r="0.64"/><circle cx="10.9" cy="43.7" r="0.77"/><circle cx="41.0" cy="30.0" r="0.67"/><circle cx="62.9" cy="38.1" r="1.08"/><circle cx="42.6" cy="50.7" r="1.02"/><circle cx="41.4" cy="3.9" r="0.87"/><circle cx="59.5" cy="35.6" r="0.99"/><circle cx="36.2" cy="33.2" r="0.94"/><circle cx="13.8" cy="26.9" r="0.78"/><circle cx="47.6" cy="28.6" r="0.69"/><circle cx="7.4" cy="46.1" r="0.93"/><circle cx="30.7" cy="9.3" r="0.89"/><circle cx="35.9" cy="10.5" r="1.00"/><circle cx="10.7" cy="17.1" r="0.98"/><circle cx="61.6" cy="5.5" r="0.80"/><circle cx="55.5" cy="25.2" r="1.06"/><circle cx="40.2" cy="50.3" r="0.84"/><circle cx="57.6" cy="19.0" r="0.78"/><circle cx="12.3" cy="12.1" r="0.84"/><circle cx="31.2" cy="27.7" r="1.09"/><circle cx="31.5" cy="51.8" r="0.72"/><circle cx="57.3" cy="1.5" r="0.68"/><circle cx="33.7" cy="39.8" r="0.77"/><circle cx="42.4" cy="25.4" r="0.89"/><circle cx="45.7" cy="19.8" r="0.98"/><circle cx="52.8" cy="63.3" r="0.63"/><circle cx="49.8" cy="8.0" r="1.00"/><circle cx="48.4" cy="13.4" r="0.96"/><circle cx="36.7" cy="17.5" r="1.00"/><circle cx="56.1" cy="15.2" r="0.73"/><circle cx="25.1" cy="46.3" r="0.70"/><circle cx="20.2" cy="4.3" r="0.73"/><circle cx="38.4" cy="57.5" r="0.62"/><circle cx="21.6" cy="27.9" r="0.97"/><circle cx="52.6" cy="40.4" r="1.00"/><circle cx="8.2" cy="53.1" r="0.87"/><circle cx="21.0" cy="8.3" r="0.90"/><circle cx="14.1" cy="23.1" r="0.87"/><circle cx="4.9" cy="22.3" r="1.01"/><circle cx="15.6" cy="17.1" r="0.67"/><circle cx="0.7" cy="7.5" r="0.65"/><circle cx="50.4" cy="5.3" r="0.97"/><circle cx="13.4" cy="19.1" r="0.65"/><circle cx="51.9" cy="23.7" r="1.06"/><circle cx="44.4" cy="36.0" r="0.83"/><circle cx="62.0" cy="14.1" r="0.69"/><circle cx="0.8" cy="14.3" r="1.00"/><circle cx="64.8" cy="14.3" r="1.00"/><circle cx="17.4" cy="38.7" r="0.84"/><circle cx="37.0" cy="48.7" r="0.68"/><circle cx="27.3" cy="48.4" r="0.93"/><circle cx="50.4" cy="56.1" r="0.86"/><circle cx="28.5" cy="44.6" r="0.71"/><circle cx="25.2" cy="24.4" r="0.97"/><circle cx="61.8" cy="17.6" r="0.65"/><circle cx="-0.3" cy="3.7" r="0.77"/><circle cx="63.7" cy="3.7" r="0.77"/><circle cx="30.5" cy="57.2" r="0.88"/><circle cx="32.3" cy="43.4" r="1.07"/><circle cx="51.1" cy="42.7" r="0.65"/><circle cx="45.2" cy="23.2" r="0.81"/><circle cx="-0.3" cy="33.8" r="0.91"/><circle cx="63.7" cy="33.8" r="0.91"/><circle cx="-0.4" cy="50.8" r="1.03"/><circle cx="63.6" cy="50.8" r="1.03"/><circle cx="19.1" cy="-0.1" r="0.88"/><circle cx="19.1" cy="63.9" r="0.88"/><circle cx="18.6" cy="13.6" r="0.63"/><circle cx="13.8" cy="35.9" r="0.85"/><circle cx="44.5" cy="15.6" r="0.71"/><circle cx="43.5" cy="61.2" r="0.84"/><circle cx="1.4" cy="52.4" r="0.85"/><circle cx="56.6" cy="51.7" r="0.72"/><circle cx="49.8" cy="2.7" r="0.92"/><circle cx="49.9" cy="46.2" r="0.75"/><circle cx="22.5" cy="11.6" r="1.05"/><circle cx="37.9" cy="50.0" r="0.85"/><circle cx="59.9" cy="47.5" r="0.93"/><circle cx="57.0" cy="20.7" r="0.76"/><circle cx="34.0" cy="20.4" r="1.02"/><circle cx="36.9" cy="30.7" r="0.98"/><circle cx="1.0" cy="59.6" r="0.74"/><circle cx="8.2" cy="55.4" r="1.06"/><circle cx="31.8" cy="33.0" r="1.04"/><circle cx="29.5" cy="28.8" r="0.82"/><circle cx="29.7" cy="49.9" r="1.04"/><circle cx="8.1" cy="23.3" r="1.03"/><circle cx="11.4" cy="53.8" r="0.75"/><circle cx="42.1" cy="59.2" r="0.73"/><circle cx="37.2" cy="52.2" r="0.67"/><circle cx="54.4" cy="57.3" r="0.80"/><circle cx="21.0" cy="16.5" r="0.86"/><circle cx="39.5" cy="3.1" r="0.89"/><circle cx="42.2" cy="16.6" r="0.65"/><circle cx="38.7" cy="16.6" r="0.69"/><circle cx="15.4" cy="36.6" r="0.83"/><circle cx="24.5" cy="7.5" r="0.71"/><circle cx="39.3" cy="25.6" r="0.69"/><circle cx="52.3" cy="35.0" r="0.77"/><circle cx="62.2" cy="34.4" r="0.68"/><circle cx="20.0" cy="31.2" r="0.67"/><circle cx="30.0" cy="36.3" r="1.07"/><circle cx="39.2" cy="36.9" r="0.62"/><circle cx="60.3" cy="45.4" r="0.96"/><circle cx="8.3" cy="57.5" r="0.87"/><circle cx="4.3" cy="51.0" r="0.78"/><circle cx="38.1" cy="34.5" r="1.01"/><circle cx="63.1" cy="21.4" r="0.81"/><circle cx="10.1" cy="11.6" r="0.97"/><circle cx="-0.0" cy="16.0" r="0.78"/><circle cx="64.0" cy="16.0" r="0.78"/><circle cx="9.1" cy="9.8" r="0.80"/><circle cx="49.6" cy="41.9" r="0.71"/><circle cx="42.6" cy="14.9" r="0.62"/><circle cx="47.6" cy="3.4" r="1.03"/><circle cx="13.6" cy="52.5" r="0.81"/><circle cx="35.7" cy="20.5" r="0.69"/><circle cx="49.6" cy="18.9" r="0.77"/><circle cx="60.4" cy="29.5" r="0.89"/><circle cx="28.4" cy="13.9" r="0.84"/><circle cx="23.1" cy="27.9" r="0.77"/><circle cx="34.0" cy="24.2" r="0.91"/><circle cx="6.4" cy="18.9" r="0.78"/><circle cx="28.5" cy="26.1" r="0.90"/><circle cx="43.5" cy="23.2" r="0.61"/><circle cx="36.0" cy="47.1" r="0.83"/><circle cx="35.6" cy="13.9" r="0.78"/><circle cx="56.6" cy="3.9" r="1.03"/><circle cx="17.6" cy="25.2" r="0.90"/><circle cx="50.5" cy="54.0" r="0.71"/><circle cx="54.6" cy="8.9" r="0.73"/><circle cx="61.8" cy="40.2" r="1.05"/><circle cx="32.7" cy="4.8" r="0.82"/><circle cx="58.3" cy="47.0" r="0.91"/><circle cx="26.8" cy="32.1" r="0.85"/><circle cx="5.8" cy="52.0" r="0.82"/><circle cx="37.3" cy="1.3" r="1.06"/><circle cx="60.0" cy="37.2" r="0.61"/><circle cx="35.1" cy="6.5" r="0.95"/><circle cx="27.9" cy="2.8" r="0.93"/><circle cx="40.6" cy="54.5" r="0.79"/><circle cx="1.0" cy="41.1" r="1.06"/><circle cx="65.0" cy="41.1" r="1.06"/><circle cx="21.9" cy="3.7" r="0.71"/><circle cx="52.3" cy="30.1" r="0.87"/><circle cx="41.1" cy="24.4" r="0.98"/><circle cx="32.4" cy="59.2" r="1.01"/><circle cx="19.4" cy="59.7" r="0.69"/><circle cx="45.0" cy="49.0" r="0.62"/><circle cx="16.6" cy="34.4" r="1.10"/><circle cx="53.4" cy="47.6" r="1.00"/><circle cx="21.9" cy="38.7" r="0.67"/><circle cx="18.0" cy="51.8" r="0.66"/><circle cx="41.7" cy="41.2" r="0.64"/><circle cx="50.5" cy="37.4" r="0.79"/><circle cx="28.7" cy="18.0" r="0.85"/><circle cx="56.6" cy="36.1" r="0.79"/><circle cx="11.8" cy="35.9" r="1.04"/><circle cx="36.7" cy="5.0" r="0.65"/><circle cx="50.3" cy="24.0" r="0.83"/><circle cx="3.7" cy="46.3" r="0.95"/><circle cx="42.9" cy="7.0" r="0.96"/><circle cx="22.9" cy="53.3" r="0.93"/><circle cx="53.3" cy="3.2" r="0.99"/><circle cx="59.7" cy="57.9" r="0.66"/><circle cx="58.2" cy="58.7" r="0.92"/><circle cx="9.0" cy="43.4" r="0.77"/><circle cx="10.0" cy="46.8" r="0.97"/><circle cx="3.8" cy="20.5" r="0.95"/><circle cx="51.6" cy="60.5" r="0.88"/><circle cx="61.3" cy="19.7" r="0.91"/><circle cx="23.5" cy="21.7" r="1.06"/><circle cx="55.5" cy="27.0" r="0.81"/><circle cx="23.3" cy="39.6" r="0.95"/><circle cx="37.4" cy="21.0" r="0.63"/><circle cx="2.9" cy="6.1" r="0.86"/><circle cx="20.2" cy="14.4" r="1.03"/><circle cx="39.4" cy="6.4" r="0.97"/><circle cx="30.6" cy="44.6" r="0.87"/><circle cx="14.1" cy="43.5" r="0.65"/><circle cx="44.8" cy="13.2" r="0.75"/><circle cx="57.3" cy="28.0" r="0.67"/><circle cx="36.2" cy="28.0" r="0.60"/><circle cx="19.4" cy="8.2" r="0.80"/><circle cx="3.0" cy="19.0" r="0.61"/><circle cx="20.6" cy="12.0" r="0.76"/><circle cx="33.7" cy="36.8" r="0.72"/><circle cx="60.9" cy="1.4" r="0.85"/><circle cx="33.7" cy="32.6" r="1.06"/><circle cx="-0.4" cy="30.0" r="0.77"/><circle cx="63.6" cy="30.0" r="0.77"/><circle cx="20.6" cy="29.7" r="0.93"/><circle cx="35.0" cy="11.8" r="0.93"/><circle cx="9.6" cy="58.2" r="1.10"/><circle cx="47.4" cy="59.7" r="1.02"/><circle cx="17.9" cy="48.9" r="1.04"/><circle cx="4.1" cy="49.3" r="1.04"/><circle cx="16.5" cy="47.6" r="1.01"/><circle cx="16.8" cy="57.4" r="0.91"/><circle cx="4.1" cy="25.5" r="0.77"/><circle cx="16.6" cy="20.2" r="0.78"/><circle cx="1.6" cy="61.8" r="1.01"/><circle cx="35.3" cy="50.1" r="0.62"/><circle cx="59.6" cy="19.3" r="0.69"/><circle cx="37.6" cy="43.2" r="0.95"/><circle cx="61.6" cy="32.8" r="0.70"/><circle cx="46.9" cy="9.1" r="0.81"/><circle cx="23.5" cy="45.9" r="0.87"/><circle cx="4.7" cy="47.7" r="0.92"/><circle cx="44.2" cy="42.3" r="0.84"/><circle cx="37.7" cy="55.9" r="0.88"/><circle cx="52.8" cy="25.2" r="0.96"/><circle cx="34.0" cy="52.7" r="0.66"/><circle cx="25.8" cy="26.1" r="0.85"/><circle cx="18.5" cy="18.2" r="0.76"/><circle cx="44.2" cy="27.2" r="0.90"/><circle cx="3.7" cy="36.5" r="0.82"/><circle cx="17.9" cy="56.0" r="0.74"/><circle cx="50.7" cy="0.8" r="0.80"/><circle cx="17.7" cy="42.5" r="0.71"/><circle cx="8.0" cy="14.1" r="0.62"/><circle cx="37.6" cy="15.1" r="0.89"/><circle cx="5.4" cy="38.4" r="1.02"/><circle cx="-0.8" cy="40.7" r="0.97"/><circle cx="63.2" cy="40.7" r="0.97"/><circle cx="-0.5" cy="19.1" r="0.89"/><circle cx="63.5" cy="19.1" r="0.89"/><circle cx="30.2" cy="1.1" r="0.63"/><circle cx="41.4" cy="48.0" r="1.08"/><circle cx="53.0" cy="16.1" r="0.70"/><circle cx="6.3" cy="40.7" r="0.81"/><circle cx="5.7" cy="15.7" r="1.02"/><circle cx="22.8" cy="5.9" r="0.97"/><circle cx="16.7" cy="23.9" r="0.82"/><circle cx="42.6" cy="55.5" r="1.07"/><circle cx="24.8" cy="53.8" r="0.99"/><circle cx="62.4" cy="52.7" r="0.99"/><circle cx="58.7" cy="32.7" r="1.03"/><circle cx="4.5" cy="4.9" r="0.97"/><circle cx="46.2" cy="15.9" r="1.06"/><circle cx="21.3" cy="51.3" r="0.67"/><circle cx="37.8" cy="3.3" r="0.75"/><circle cx="26.2" cy="37.3" r="0.66"/><circle cx="38.3" cy="29.7" r="0.61"/><circle cx="28.5" cy="15.5" r="1.01"/><circle cx="13.2" cy="61.3" r="0.80"/><circle cx="44.7" cy="5.5" r="0.83"/><circle cx="33.7" cy="49.0" r="0.89"/><circle cx="48.4" cy="39.7" r="0.87"/><circle cx="51.7" cy="33.5" r="0.83"/><circle cx="49.6" cy="60.4" r="1.10"/><circle cx="38.7" cy="48.3" r="1.08"/><circle cx="15.8" cy="10.3" r="0.66"/><circle cx="35.4" cy="1.3" r="0.92"/><circle cx="9.3" cy="13.0" r="0.62"/><circle cx="25.1" cy="1.8" r="0.63"/><circle cx="62.3" cy="58.1" r="0.95"/><circle cx="20.7" cy="36.4" r="0.81"/><circle cx="29.8" cy="59.2" r="1.05"/><circle cx="39.1" cy="53.5" r="0.84"/><circle cx="6.2" cy="11.1" r="1.00"/><circle cx="6.5" cy="57.1" r="1.00"/><circle cx="35.9" cy="39.6" r="1.05"/><circle cx="59.8" cy="4.2" r="0.64"/><circle cx="0.4" cy="1.9" r="0.69"/><circle cx="64.4" cy="1.9" r="0.69"/><circle cx="59.1" cy="31.3" r="0.66"/><circle cx="52.9" cy="42.7" r="1.01"/><circle cx="35.4" cy="54.3" r="0.98"/><circle cx="11.6" cy="3.0" r="0.80"/><circle cx="6.7" cy="29.8" r="0.62"/><circle cx="15.2" cy="4.1" r="0.91"/><circle cx="28.9" cy="53.1" r="0.63"/><circle cx="26.8" cy="42.8" r="0.66"/><circle cx="-0.7" cy="9.1" r="0.95"/><circle cx="63.3" cy="9.1" r="0.95"/><circle cx="47.4" cy="1.6" r="0.79"/><circle cx="1.9" cy="33.8" r="0.92"/><circle cx="40.4" cy="27.1" r="0.98"/><circle cx="21.0" cy="2.1" r="1.01"/><circle cx="55.0" cy="47.4" r="0.74"/><circle cx="50.0" cy="28.9" r="0.65"/><circle cx="11.6" cy="14.4" r="0.83"/><circle cx="46.2" cy="14.3" r="0.84"/><circle cx="48.6" cy="16.9" r="1.06"/><circle cx="0.1" cy="23.8" r="0.69"/><circle cx="64.1" cy="23.8" r="0.69"/><circle cx="1.4" cy="27.5" r="1.05"/><circle cx="55.8" cy="31.4" r="0.77"/><circle cx="31.2" cy="4.1" r="0.78"/><circle cx="46.3" cy="40.2" r="0.63"/><circle cx="51.0" cy="47.3" r="1.05"/><circle cx="6.7" cy="60.4" r="1.09"/><circle cx="60.6" cy="34.2" r="0.97"/><circle cx="25.7" cy="27.8" r="0.82"/><circle cx="28.3" cy="36.1" r="0.81"/><circle cx="8.7" cy="18.7" r="0.99"/><circle cx="26.4" cy="13.2" r="1.02"/><circle cx="42.6" cy="42.9" r="0.61"/><circle cx="21.8" cy="55.3" r="0.88"/><circle cx="7.7" cy="8.2" r="0.97"/><circle cx="57.3" cy="17.0" r="0.77"/><circle cx="33.5" cy="14.9" r="1.09"/><circle cx="5.1" cy="53.8" r="0.68"/><circle cx="19.2" cy="57.0" r="0.62"/><circle cx="40.2" cy="39.3" r="0.76"/><circle cx="39.5" cy="23.7" r="0.62"/><circle cx="8.8" cy="16.4" r="0.76"/><circle cx="42.2" cy="28.9" r="0.66"/><circle cx="47.3" cy="51.6" r="1.07"/><circle cx="12.1" cy="48.9" r="0.74"/><circle cx="54.3" cy="15.1" r="0.76"/><circle cx="21.2" cy="48.5" r="1.08"/><circle cx="10.7" cy="60.0" r="0.92"/><circle cx="24.9" cy="0.1" r="0.94"/><circle cx="24.9" cy="64.1" r="0.94"/><circle cx="12.9" cy="21.7" r="0.67"/><circle cx="27.0" cy="34.7" r="0.88"/><circle cx="31.3" cy="38.2" r="0.82"/><circle cx="3.8" cy="34.6" r="0.80"/><circle cx="54.2" cy="10.7" r="1.01"/><circle cx="0.6" cy="31.1" r="0.61"/><circle cx="64.6" cy="31.1" r="0.61"/><circle cx="19.0" cy="34.3" r="0.62"/><circle cx="16.0" cy="22.6" r="0.93"/><circle cx="28.2" cy="31.0" r="0.67"/><circle cx="36.0" cy="24.0" r="0.63"/><circle cx="45.7" cy="44.5" r="1.09"/><circle cx="10.6" cy="61.5" r="1.10"/><circle cx="22.7" cy="50.0" r="0.98"/><circle cx="39.4" cy="43.1" r="1.03"/><circle cx="58.9" cy="10.2" r="0.80"/><circle cx="45.8" cy="18.1" r="0.65"/><circle cx="23.6" cy="9.3" r="0.76"/><circle cx="41.7" cy="38.1" r="0.84"/></g></pattern>
<pattern id="pFS" width="64" height="64" patternUnits="userSpaceOnUse"><g fill="#f41212"><circle cx="39.9" cy="47.5" r="1.00"/><circle cx="60.3" cy="47.4" r="1.06"/><circle cx="1.9" cy="29.8" r="1.07"/><circle cx="41.5" cy="57.7" r="0.66"/><circle cx="30.0" cy="15.8" r="0.87"/><circle cx="36.7" cy="0.8" r="0.71"/><circle cx="17.9" cy="58.6" r="0.98"/><circle cx="10.2" cy="51.0" r="0.67"/><circle cx="39.5" cy="8.1" r="0.60"/><circle cx="55.8" cy="13.4" r="0.71"/><circle cx="62.9" cy="55.8" r="0.74"/><circle cx="61.5" cy="34.5" r="0.94"/><circle cx="13.1" cy="60.2" r="0.95"/><circle cx="19.1" cy="23.1" r="0.68"/><circle cx="9.3" cy="4.2" r="0.75"/><circle cx="43.4" cy="21.6" r="0.75"/><circle cx="52.4" cy="30.8" r="0.76"/><circle cx="30.8" cy="45.1" r="0.63"/><circle cx="62.4" cy="1.5" r="0.97"/><circle cx="54.1" cy="1.2" r="0.99"/><circle cx="23.4" cy="37.0" r="0.60"/><circle cx="3.0" cy="11.6" r="1.08"/><circle cx="12.6" cy="48.4" r="1.06"/><circle cx="60.3" cy="22.0" r="0.78"/><circle cx="33.6" cy="49.6" r="0.65"/><circle cx="47.9" cy="51.0" r="1.03"/><circle cx="2.3" cy="60.5" r="0.65"/><circle cx="21.8" cy="39.1" r="1.06"/><circle cx="21.8" cy="59.1" r="0.87"/><circle cx="20.0" cy="20.3" r="0.69"/><circle cx="5.0" cy="9.5" r="0.94"/><circle cx="-0.2" cy="10.3" r="0.62"/><circle cx="63.8" cy="10.3" r="0.62"/><circle cx="26.0" cy="15.2" r="0.90"/><circle cx="27.0" cy="3.6" r="1.06"/><circle cx="53.7" cy="8.4" r="0.97"/><circle cx="60.8" cy="40.3" r="0.99"/><circle cx="6.8" cy="27.8" r="0.67"/><circle cx="54.1" cy="18.9" r="0.83"/><circle cx="62.5" cy="29.0" r="0.84"/><circle cx="46.7" cy="30.7" r="0.75"/><circle cx="25.8" cy="9.4" r="0.79"/><circle cx="-0.7" cy="61.4" r="0.91"/><circle cx="63.3" cy="61.4" r="0.91"/><circle cx="32.0" cy="21.7" r="0.64"/><circle cx="17.4" cy="50.0" r="1.03"/><circle cx="23.1" cy="50.3" r="0.99"/><circle cx="44.5" cy="42.5" r="0.98"/><circle cx="23.3" cy="45.1" r="0.74"/><circle cx="31.1" cy="49.3" r="0.95"/><circle cx="18.8" cy="60.5" r="0.92"/><circle cx="35.0" cy="16.0" r="0.94"/><circle cx="29.6" cy="52.3" r="0.92"/><circle cx="51.0" cy="22.3" r="0.92"/><circle cx="47.2" cy="53.0" r="0.78"/><circle cx="53.9" cy="55.7" r="0.94"/><circle cx="33.2" cy="33.9" r="0.68"/><circle cx="53.5" cy="60.0" r="0.84"/><circle cx="44.3" cy="46.1" r="0.97"/><circle cx="37.2" cy="42.6" r="0.81"/><circle cx="39.9" cy="49.6" r="0.92"/><circle cx="46.1" cy="1.8" r="0.68"/><circle cx="28.2" cy="41.6" r="0.71"/><circle cx="43.9" cy="40.4" r="0.62"/><circle cx="20.3" cy="11.6" r="0.70"/><circle cx="24.3" cy="39.2" r="0.90"/><circle cx="15.2" cy="57.8" r="0.60"/><circle cx="25.9" cy="17.8" r="0.81"/><circle cx="7.4" cy="53.2" r="0.79"/><circle cx="2.3" cy="39.3" r="0.65"/><circle cx="34.9" cy="21.7" r="0.89"/><circle cx="61.3" cy="52.4" r="0.81"/><circle cx="52.0" cy="41.1" r="0.78"/><circle cx="9.1" cy="38.1" r="0.88"/><circle cx="61.3" cy="62.0" r="0.90"/><circle cx="22.5" cy="57.2" r="0.60"/><circle cx="6.9" cy="36.2" r="0.91"/><circle cx="9.0" cy="40.3" r="1.05"/><circle cx="24.1" cy="27.6" r="0.71"/><circle cx="24.3" cy="61.5" r="1.06"/><circle cx="38.1" cy="16.6" r="1.09"/><circle cx="31.8" cy="26.6" r="0.76"/><circle cx="63.0" cy="31.5" r="0.74"/><circle cx="30.5" cy="7.8" r="0.91"/><circle cx="28.4" cy="18.8" r="0.99"/><circle cx="59.9" cy="50.0" r="0.72"/><circle cx="17.1" cy="9.9" r="1.09"/><circle cx="18.8" cy="38.9" r="0.84"/><circle cx="41.3" cy="38.6" r="0.97"/><circle cx="7.6" cy="48.7" r="0.75"/><circle cx="19.0" cy="33.9" r="0.83"/><circle cx="23.1" cy="47.7" r="0.90"/><circle cx="2.3" cy="16.2" r="0.83"/><circle cx="58.7" cy="56.8" r="0.87"/><circle cx="0.9" cy="49.8" r="0.81"/><circle cx="36.8" cy="45.3" r="0.92"/><circle cx="30.8" cy="58.3" r="0.79"/><circle cx="25.1" cy="54.5" r="0.70"/><circle cx="19.0" cy="53.1" r="0.63"/><circle cx="53.5" cy="44.5" r="0.82"/><circle cx="58.3" cy="9.1" r="0.84"/><circle cx="35.1" cy="31.9" r="0.77"/><circle cx="52.0" cy="4.4" r="0.72"/><circle cx="52.5" cy="50.7" r="0.93"/><circle cx="1.6" cy="46.2" r="1.09"/><circle cx="-0.1" cy="44.9" r="0.62"/><circle cx="63.9" cy="44.9" r="0.62"/><circle cx="41.3" cy="60.9" r="0.96"/><circle cx="8.6" cy="18.7" r="1.06"/><circle cx="39.8" cy="2.8" r="0.65"/><circle cx="24.3" cy="4.6" r="0.63"/><circle cx="36.8" cy="47.5" r="1.04"/><circle cx="44.6" cy="9.7" r="0.92"/><circle cx="35.5" cy="39.7" r="0.73"/><circle cx="48.0" cy="33.1" r="0.67"/><circle cx="15.0" cy="23.8" r="0.97"/><circle cx="11.5" cy="45.7" r="0.93"/><circle cx="5.5" cy="42.7" r="0.65"/><circle cx="51.0" cy="1.9" r="0.96"/><circle cx="60.9" cy="43.6" r="0.71"/><circle cx="7.4" cy="62.3" r="0.93"/><circle cx="40.0" cy="22.7" r="0.72"/><circle cx="22.3" cy="24.7" r="0.67"/><circle cx="51.5" cy="27.7" r="1.03"/><circle cx="33.1" cy="37.9" r="0.89"/><circle cx="47.4" cy="25.3" r="0.65"/><circle cx="2.5" cy="56.9" r="0.84"/><circle cx="48.7" cy="0.0" r="0.84"/><circle cx="48.7" cy="64.0" r="0.84"/><circle cx="56.9" cy="39.6" r="0.81"/><circle cx="9.9" cy="10.2" r="0.79"/><circle cx="9.7" cy="16.3" r="0.74"/><circle cx="15.1" cy="30.9" r="0.62"/><circle cx="43.1" cy="30.2" r="1.07"/><circle cx="7.5" cy="42.8" r="0.75"/><circle cx="10.4" cy="12.9" r="0.61"/><circle cx="14.8" cy="5.0" r="0.80"/><circle cx="62.3" cy="23.3" r="0.76"/><circle cx="46.9" cy="45.9" r="0.68"/><circle cx="15.4" cy="43.0" r="1.07"/><circle cx="41.3" cy="27.6" r="1.09"/><circle cx="0.4" cy="3.9" r="0.99"/><circle cx="64.4" cy="3.9" r="0.99"/><circle cx="35.1" cy="-0.7" r="0.86"/><circle cx="35.1" cy="63.3" r="0.86"/><circle cx="22.4" cy="6.0" r="0.64"/><circle cx="57.5" cy="31.4" r="1.07"/><circle cx="3.2" cy="25.4" r="0.63"/><circle cx="16.3" cy="26.1" r="0.75"/><circle cx="3.3" cy="2.4" r="1.09"/><circle cx="11.5" cy="32.6" r="0.80"/><circle cx="34.0" cy="5.4" r="0.76"/><circle cx="59.0" cy="38.3" r="1.03"/><circle cx="13.7" cy="1.1" r="0.87"/><circle cx="31.1" cy="36.6" r="0.79"/><circle cx="58.4" cy="19.7" r="0.82"/><circle cx="52.9" cy="14.3" r="0.66"/><circle cx="19.9" cy="5.6" r="0.99"/><circle cx="27.4" cy="36.9" r="0.72"/><circle cx="3.9" cy="44.8" r="0.62"/><circle cx="12.8" cy="18.3" r="0.79"/><circle cx="20.1" cy="48.1" r="0.88"/><circle cx="57.3" cy="41.9" r="0.98"/><circle cx="36.8" cy="28.3" r="1.01"/><circle cx="18.3" cy="4.1" r="0.98"/><circle cx="3.2" cy="8.3" r="0.78"/><circle cx="39.2" cy="14.8" r="0.81"/><circle cx="23.2" cy="21.1" r="0.61"/><circle cx="37.4" cy="52.9" r="0.96"/><circle cx="6.1" cy="33.9" r="0.69"/><circle cx="45.4" cy="28.6" r="1.07"/><circle cx="50.9" cy="7.6" r="0.76"/><circle cx="58.6" cy="29.5" r="0.82"/><circle cx="28.3" cy="49.1" r="1.07"/><circle cx="38.1" cy="6.6" r="1.01"/><circle cx="36.9" cy="30.8" r="1.04"/><circle cx="17.7" cy="12.9" r="0.88"/><circle cx="15.9" cy="62.9" r="1.02"/><circle cx="54.4" cy="39.6" r="0.80"/><circle cx="31.4" cy="2.4" r="0.68"/><circle cx="6.3" cy="45.9" r="1.05"/><circle cx="12.8" cy="51.0" r="0.76"/><circle cx="43.7" cy="55.2" r="0.91"/><circle cx="0.6" cy="32.8" r="0.89"/><circle cx="64.6" cy="32.8" r="0.89"/><circle cx="11.8" cy="24.9" r="0.76"/><circle cx="1.7" cy="20.0" r="0.79"/><circle cx="43.5" cy="33.4" r="0.74"/><circle cx="5.0" cy="5.6" r="0.78"/><circle cx="45.7" cy="19.6" r="1.06"/><circle cx="17.6" cy="45.8" r="0.64"/><circle cx="48.2" cy="42.9" r="1.08"/><circle cx="57.4" cy="44.0" r="1.02"/><circle cx="47.3" cy="39.1" r="0.70"/><circle cx="33.1" cy="57.4" r="0.72"/><circle cx="25.2" cy="0.2" r="0.80"/><circle cx="25.2" cy="64.2" r="0.80"/><circle cx="11.4" cy="41.8" r="1.05"/><circle cx="24.7" cy="7.0" r="0.94"/><circle cx="56.2" cy="46.6" r="0.81"/><circle cx="27.2" cy="33.8" r="1.05"/><circle cx="19.3" cy="18.0" r="0.90"/><circle cx="61.9" cy="12.0" r="0.62"/><circle cx="38.6" cy="11.8" r="0.70"/><circle cx="3.9" cy="31.0" r="1.02"/><circle cx="59.3" cy="14.7" r="0.95"/><circle cx="6.5" cy="12.4" r="0.68"/><circle cx="48.5" cy="47.1" r="1.01"/><circle cx="51.4" cy="45.6" r="1.06"/><circle cx="61.8" cy="6.6" r="0.65"/><circle cx="5.4" cy="25.8" r="0.87"/><circle cx="38.2" cy="24.0" r="0.94"/><circle cx="31.7" cy="61.6" r="1.07"/><circle cx="4.6" cy="48.6" r="0.96"/><circle cx="18.9" cy="7.5" r="0.84"/><circle cx="58.8" cy="24.5" r="0.75"/><circle cx="50.5" cy="36.8" r="0.75"/><circle cx="21.6" cy="54.3" r="0.86"/><circle cx="4.7" cy="17.3" r="0.65"/><circle cx="34.6" cy="24.7" r="1.07"/><circle cx="5.9" cy="22.8" r="1.01"/><circle cx="23.1" cy="1.1" r="0.73"/><circle cx="29.3" cy="24.5" r="0.86"/><circle cx="3.4" cy="14.0" r="1.09"/><circle cx="28.3" cy="30.2" r="0.64"/><circle cx="38.0" cy="57.8" r="0.92"/><circle cx="48.4" cy="57.1" r="0.67"/><circle cx="13.9" cy="27.0" r="0.74"/><circle cx="42.7" cy="7.9" r="0.68"/><circle cx="29.3" cy="4.7" r="0.79"/><circle cx="60.0" cy="2.0" r="0.69"/><circle cx="49.6" cy="9.7" r="0.86"/><circle cx="23.6" cy="30.6" r="0.89"/><circle cx="61.8" cy="15.4" r="0.88"/><circle cx="16.8" cy="34.9" r="0.97"/><circle cx="8.6" cy="30.8" r="0.95"/><circle cx="19.1" cy="28.8" r="0.93"/><circle cx="33.9" cy="45.6" r="1.07"/><circle cx="59.6" cy="5.0" r="0.82"/><circle cx="24.9" cy="59.2" r="0.75"/><circle cx="35.3" cy="53.1" r="0.67"/><circle cx="36.2" cy="13.3" r="0.83"/><circle cx="21.9" cy="9.2" r="1.08"/><circle cx="16.9" cy="17.6" r="0.99"/><circle cx="47.4" cy="16.8" r="1.01"/><circle cx="40.0" cy="24.9" r="0.91"/><circle cx="56.1" cy="28.1" r="1.05"/><circle cx="2.8" cy="52.7" r="0.85"/><circle cx="55.8" cy="2.5" r="0.89"/><circle cx="39.1" cy="39.2" r="0.71"/><circle cx="19.1" cy="0.1" r="0.98"/><circle cx="19.1" cy="64.1" r="0.98"/><circle cx="29.8" cy="9.9" r="0.71"/><circle cx="27.2" cy="39.8" r="0.93"/><circle cx="17.1" cy="31.6" r="0.87"/><circle cx="57.6" cy="35.5" r="0.93"/><circle cx="6.9" cy="16.6" r="0.78"/><circle cx="56.9" cy="16.9" r="0.91"/><circle cx="40.5" cy="54.0" r="0.89"/><circle cx="26.1" cy="21.1" r="0.65"/><circle cx="4.0" cy="19.3" r="0.69"/><circle cx="36.2" cy="18.6" r="0.65"/><circle cx="32.7" cy="59.7" r="1.07"/><circle cx="27.4" cy="13.4" r="0.86"/><circle cx="20.8" cy="51.9" r="0.86"/><circle cx="28.4" cy="58.7" r="0.89"/><circle cx="32.0" cy="18.2" r="0.97"/><circle cx="40.9" cy="31.3" r="1.04"/><circle cx="26.5" cy="62.5" r="0.66"/><circle cx="41.9" cy="48.4" r="0.96"/><circle cx="49.4" cy="53.6" r="0.62"/><circle cx="15.2" cy="53.1" r="0.93"/><circle cx="24.6" cy="41.3" r="0.71"/><circle cx="28.5" cy="43.9" r="0.63"/><circle cx="30.5" cy="33.4" r="0.61"/><circle cx="50.9" cy="49.1" r="0.91"/><circle cx="45.8" cy="54.5" r="0.91"/><circle cx="0.2" cy="27.4" r="0.75"/><circle cx="64.2" cy="27.4" r="0.75"/><circle cx="10.6" cy="61.0" r="1.05"/><circle cx="44.1" cy="13.9" r="0.80"/><circle cx="12.2" cy="21.0" r="0.73"/><circle cx="53.8" cy="23.4" r="0.65"/><circle cx="27.2" cy="6.7" r="0.60"/><circle cx="35.2" cy="61.3" r="1.02"/><circle cx="38.9" cy="34.4" r="0.69"/><circle cx="27.3" cy="28.2" r="1.01"/><circle cx="34.4" cy="14.1" r="0.93"/><circle cx="49.8" cy="19.8" r="0.94"/><circle cx="30.0" cy="28.4" r="0.68"/><circle cx="21.9" cy="13.4" r="0.94"/><circle cx="55.2" cy="21.0" r="0.94"/><circle cx="29.0" cy="55.8" r="0.63"/><circle cx="32.4" cy="54.1" r="0.88"/><circle cx="11.2" cy="28.5" r="0.97"/><circle cx="40.1" cy="18.2" r="0.93"/><circle cx="7.1" cy="56.7" r="0.79"/><circle cx="50.2" cy="60.3" r="1.07"/><circle cx="-0.2" cy="8.3" r="0.97"/><circle cx="63.8" cy="8.3" r="0.97"/><circle cx="39.3" cy="29.1" r="0.74"/><circle cx="42.2" cy="15.6" r="0.85"/><circle cx="57.7" cy="49.8" r="0.75"/><circle cx="12.3" cy="63.0" r="0.76"/><circle cx="47.4" cy="58.9" r="1.02"/><circle cx="50.1" cy="16.3" r="0.68"/><circle cx="20.3" cy="40.6" r="1.03"/><circle cx="9.6" cy="0.6" r="0.89"/><circle cx="9.6" cy="64.6" r="0.89"/><circle cx="19.3" cy="14.6" r="0.70"/><circle cx="31.2" cy="55.8" r="0.91"/><circle cx="44.2" cy="5.1" r="0.69"/><circle cx="30.1" cy="38.5" r="0.92"/><circle cx="6.5" cy="59.5" r="0.61"/><circle cx="32.3" cy="42.4" r="0.77"/><circle cx="42.9" cy="59.2" r="0.95"/><circle cx="14.8" cy="39.3" r="0.91"/><circle cx="49.0" cy="30.0" r="1.07"/><circle cx="-0.5" cy="20.7" r="0.96"/><circle cx="63.5" cy="20.7" r="0.96"/><circle cx="44.7" cy="61.3" r="1.00"/><circle cx="31.6" cy="31.6" r="0.93"/><circle cx="36.0" cy="3.1" r="1.08"/><circle cx="20.4" cy="32.0" r="0.62"/><circle cx="42.7" cy="36.4" r="1.05"/><circle cx="22.7" cy="16.0" r="0.75"/><circle cx="34.7" cy="55.9" r="0.76"/><circle cx="0.2" cy="16.6" r="1.09"/><circle cx="64.2" cy="16.6" r="1.09"/><circle cx="33.3" cy="29.0" r="0.76"/><circle cx="60.7" cy="30.4" r="0.75"/><circle cx="7.7" cy="25.9" r="0.61"/><circle cx="14.9" cy="20.1" r="0.85"/><circle cx="13.4" cy="54.6" r="0.84"/><circle cx="13.4" cy="15.0" r="0.63"/><circle cx="33.4" cy="11.6" r="0.82"/><circle cx="55.4" cy="30.9" r="1.04"/><circle cx="46.5" cy="4.7" r="0.74"/><circle cx="43.6" cy="2.5" r="0.77"/><circle cx="14.4" cy="33.0" r="0.79"/><circle cx="7.2" cy="2.4" r="1.08"/><circle cx="10.9" cy="56.6" r="1.06"/><circle cx="23.0" cy="19.1" r="0.75"/><circle cx="38.9" cy="32.2" r="0.84"/><circle cx="60.6" cy="28.1" r="1.00"/><circle cx="37.7" cy="50.5" r="0.96"/><circle cx="16.3" cy="1.7" r="0.61"/><circle cx="11.8" cy="37.2" r="0.92"/><circle cx="39.0" cy="45.4" r="0.67"/><circle cx="21.1" cy="62.6" r="0.93"/><circle cx="37.3" cy="38.3" r="1.09"/><circle cx="7.3" cy="8.4" r="0.97"/><circle cx="44.6" cy="17.5" r="0.60"/><circle cx="37.7" cy="63.0" r="0.71"/><circle cx="14.7" cy="35.1" r="0.90"/><circle cx="24.8" cy="2.4" r="0.69"/><circle cx="43.5" cy="27.3" r="1.04"/><circle cx="21.0" cy="42.5" r="0.92"/><circle cx="61.2" cy="37.8" r="0.67"/><circle cx="13.0" cy="40.3" r="0.62"/><circle cx="4.7" cy="35.8" r="0.94"/><circle cx="20.3" cy="37.2" r="0.86"/><circle cx="29.6" cy="13.4" r="1.09"/><circle cx="9.2" cy="58.6" r="0.73"/><circle cx="9.1" cy="7.3" r="0.82"/><circle cx="17.1" cy="54.8" r="1.07"/><circle cx="48.5" cy="23.5" r="1.04"/><circle cx="26.7" cy="23.7" r="0.89"/><circle cx="57.1" cy="61.0" r="0.94"/><circle cx="38.3" cy="19.7" r="0.93"/><circle cx="-0.0" cy="-0.3" r="1.08"/><circle cx="-0.0" cy="63.7" r="1.08"/><circle cx="64.0" cy="-0.3" r="1.08"/><circle cx="64.0" cy="63.7" r="1.08"/><circle cx="2.8" cy="4.7" r="0.77"/><circle cx="52.9" cy="35.7" r="0.73"/><circle cx="47.7" cy="12.4" r="0.68"/><circle cx="27.9" cy="51.1" r="0.92"/><circle cx="55.5" cy="57.5" r="0.90"/><circle cx="35.6" cy="11.3" r="0.87"/><circle cx="40.1" cy="56.2" r="0.79"/><circle cx="34.4" cy="36.0" r="0.93"/><circle cx="15.6" cy="15.8" r="1.06"/><circle cx="45.2" cy="25.4" r="1.10"/><circle cx="-0.6" cy="59.1" r="0.93"/><circle cx="63.4" cy="59.1" r="0.93"/><circle cx="32.0" cy="4.8" r="0.67"/><circle cx="14.9" cy="48.8" r="0.99"/><circle cx="29.8" cy="20.8" r="0.83"/><circle cx="4.5" cy="40.0" r="0.79"/><circle cx="51.0" cy="25.1" r="0.69"/><circle cx="43.0" cy="24.1" r="0.99"/><circle cx="56.0" cy="-0.3" r="0.81"/><circle cx="56.0" cy="63.7" r="0.81"/><circle cx="54.5" cy="15.6" r="0.75"/><circle cx="45.0" cy="48.2" r="0.77"/><circle cx="9.7" cy="23.6" r="1.08"/><circle cx="55.7" cy="11.0" r="0.65"/><circle cx="33.7" cy="2.1" r="0.92"/></g></pattern>
<clipPath id="cp1"><rect x="11.50" y="157.00" width="81.50" height="67.00"/></clipPath>
<clipPath id="cp2"><rect x="94.80" y="157.00" width="81.50" height="67.00"/></clipPath>
<linearGradient id="g2_7" x1="0" y1="1" x2="0" y2="0.5"><stop offset="0" stop-color="#000" stop-opacity="0.35"/><stop offset="1" stop-color="#000" stop-opacity="0"/></linearGradient>
<clipPath id="cp3"><rect x="178.20" y="157.00" width="81.50" height="67.00"/></clipPath>
<linearGradient id="g3_3" x1="0" y1="0" x2="0.6" y2="0.6"><stop offset="0" stop-color="#000" stop-opacity="0.5"/><stop offset="1" stop-color="#000" stop-opacity="0"/></linearGradient>
<clipPath id="cp4"><rect x="261.30" y="157.00" width="81.50" height="67.00"/></clipPath>
<clipPath id="cp5"><rect x="11.50" y="227.30" width="81.50" height="67.00"/></clipPath>
<clipPath id="cp6"><rect x="94.80" y="227.30" width="81.50" height="67.00"/></clipPath>
<clipPath id="cp7"><rect x="178.20" y="227.30" width="81.50" height="67.00"/></clipPath>
<radialGradient id="g7_2" cx="0.3" cy="0.1" r="0.5"><stop offset="0" stop-color="#ff1010" stop-opacity="0.35"/><stop offset="1" stop-color="#ff1010" stop-opacity="0"/></radialGradient>
<clipPath id="cp8"><rect x="261.30" y="227.30" width="81.50" height="67.00"/></clipPath>
<clipPath id="cp9"><rect x="11.50" y="298.20" width="81.50" height="67.00"/></clipPath>
<clipPath id="cp10"><rect x="94.80" y="298.20" width="81.50" height="67.00"/></clipPath>
<clipPath id="cp11"><rect x="178.20" y="298.20" width="81.50" height="67.00"/></clipPath>
<clipPath id="cp12"><rect x="261.30" y="298.20" width="81.50" height="67.00"/></clipPath>
<radialGradient id="g12_0" cx="0.15" cy="0.2" r="0.45"><stop offset="0" stop-color="#000" stop-opacity="0.7"/><stop offset="1" stop-color="#000" stop-opacity="0"/></radialGradient>
<clipPath id="cp13"><rect x="351.80" y="156.80" width="81.30" height="66.80"/></clipPath>
<linearGradient id="g13_7" x1="0" y1="0" x2="0" y2="0.45"><stop offset="0" stop-color="#000" stop-opacity="0.9"/><stop offset="1" stop-color="#000" stop-opacity="0"/></linearGradient>
<clipPath id="cp14"><rect x="435.20" y="156.80" width="81.30" height="66.80"/></clipPath>
<radialGradient id="g14_4" cx="0.2" cy="0.85" r="0.45"><stop offset="0" stop-color="#000" stop-opacity="0.7"/><stop offset="1" stop-color="#000" stop-opacity="0"/></radialGradient>
<radialGradient id="g14_5" cx="0.9" cy="0.4" r="0.12"><stop offset="0" stop-color="#ff1010" stop-opacity="0.8"/><stop offset="1" stop-color="#ff1010" stop-opacity="0"/></radialGradient>
<clipPath id="cp15"><rect x="519.20" y="156.80" width="81.30" height="66.80"/></clipPath>
<radialGradient id="g15_1" cx="0.0" cy="0.0" r="0.55"><stop offset="0" stop-color="#000" stop-opacity="0.75"/><stop offset="1" stop-color="#000" stop-opacity="0"/></radialGradient>
<linearGradient id="g15_2" x1="0" y1="0" x2="0" y2="1"><stop offset="0" stop-color="#000" stop-opacity="0.2"/><stop offset="1" stop-color="#000" stop-opacity="0"/></linearGradient>
<clipPath id="cp16"><rect x="602.80" y="156.80" width="81.30" height="66.80"/></clipPath>
<linearGradient id="g16_0" x1="0" y1="0" x2="1" y2="0"><stop offset="0" stop-color="#000" stop-opacity="0.7"/><stop offset="1" stop-color="#000" stop-opacity="0"/></linearGradient>
<radialGradient id="g16_1" cx="0.45" cy="0.6" r="0.1"><stop offset="0" stop-color="#ff1010" stop-opacity="0.8"/><stop offset="1" stop-color="#ff1010" stop-opacity="0"/></radialGradient>
<clipPath id="cp17"><rect x="351.80" y="227.20" width="81.30" height="66.80"/></clipPath>
<radialGradient id="g17_0" cx="0.85" cy="0.75" r="0.45"><stop offset="0" stop-color="#ff1010" stop-opacity="0.45"/><stop offset="1" stop-color="#ff1010" stop-opacity="0"/></radialGradient>
<radialGradient id="g17_1" cx="0.0" cy="0.0" r="0.6"><stop offset="0" stop-color="#000" stop-opacity="0.5"/><stop offset="1" stop-color="#000" stop-opacity="0"/></radialGradient>
<clipPath id="cp18"><rect x="435.20" y="227.20" width="81.30" height="66.80"/></clipPath>
<clipPath id="cp19"><rect x="519.20" y="227.20" width="81.30" height="66.80"/></clipPath>
<radialGradient id="g19_0" cx="0.7" cy="0.15" r="0.5"><stop offset="0" stop-color="#ff1010" stop-opacity="0.25"/><stop offset="1" stop-color="#ff1010" stop-opacity="0"/></radialGradient>
<clipPath id="cp20"><rect x="602.80" y="227.20" width="81.30" height="66.80"/></clipPath>
<linearGradient id="g20_0" x1="0" y1="0" x2="1" y2="0"><stop offset="0" stop-color="#000" stop-opacity="0.75"/><stop offset="1" stop-color="#000" stop-opacity="0"/></linearGradient>
<linearGradient id="g20_1" x1="0" y1="0" x2="1" y2="0"><stop offset="0" stop-color="#ff1010" stop-opacity="0"/><stop offset="1" stop-color="#ff1010" stop-opacity="0.45"/></linearGradient>
<clipPath id="cp21"><rect x="351.80" y="298.70" width="81.30" height="66.80"/></clipPath>
<linearGradient id="g21_0" x1="0" y1="0" x2="0.25" y2="0"><stop offset="0" stop-color="#000" stop-opacity="0.85"/><stop offset="1" stop-color="#000" stop-opacity="0"/></linearGradient>
<clipPath id="cp22"><rect x="435.20" y="298.70" width="81.30" height="66.80"/></clipPath>
<clipPath id="cp23"><rect x="519.20" y="298.70" width="81.30" height="66.80"/></clipPath>
<clipPath id="cp24"><rect x="602.80" y="298.70" width="81.30" height="66.80"/></clipPath>
<linearGradient id="g24_0" x1="0" y1="0" x2="0.5" y2="0"><stop offset="0" stop-color="#000" stop-opacity="0.6"/><stop offset="1" stop-color="#000" stop-opacity="0"/></linearGradient></defs>
<rect width="685" height="979" fill="#fff"/>
<line x1="29.00" y1="10.30" x2="50.60" y2="10.30" stroke="#9fd3d6" stroke-width="1.0"/>
<circle cx="39.80" cy="10.30" r="1.90" fill="#fff" stroke="#9fd3d6" stroke-width="0.9"/>
<line x1="111.50" y1="10.30" x2="132.50" y2="10.30" stroke="#477ca5" stroke-width="1.0"/>
<path d="M122.00 8.21 L124.09 11.97 L119.91 11.97Z" fill="#fff" stroke="#477ca5" stroke-width="0.9"/>
<line x1="201.00" y1="10.30" x2="222.70" y2="10.30" stroke="#e8404e" stroke-width="1.0"/>
<path d="M211.85 12.39 L213.94 8.63 L209.76 8.63Z" fill="#fff" stroke="#e8404e" stroke-width="0.9"/>
<line x1="283.70" y1="10.30" x2="304.50" y2="10.30" stroke="#1f375a" stroke-width="1.0"/>
<rect x="292.20" y="8.40" width="3.80" height="3.80" fill="#fff" stroke="#1f375a" stroke-width="0.9"/>
<line x1="40.20" y1="26.80" x2="40.20" y2="115.80" stroke="#111" stroke-width="1.2"/>
<line x1="39.70" y1="115.30" x2="160.50" y2="115.30" stroke="#111" stroke-width="1.2"/>
<line x1="35.60" y1="115.30" x2="40.20" y2="115.30" stroke="#111" stroke-width="1.1"/>
<line x1="35.60" y1="85.97" x2="40.20" y2="85.97" stroke="#111" stroke-width="1.1"/>
<line x1="35.60" y1="56.63" x2="40.20" y2="56.63" stroke="#111" stroke-width="1.1"/>
<line x1="35.60" y1="27.30" x2="40.20" y2="27.30" stroke="#111" stroke-width="1.1"/>
<line x1="48.70" y1="115.30" x2="48.70" y2="119.90" stroke="#111" stroke-width="1.1"/>
<line x1="65.85" y1="115.30" x2="65.85" y2="119.90" stroke="#111" stroke-width="1.1"/>
<line x1="83.00" y1="115.30" x2="83.00" y2="119.90" stroke="#111" stroke-width="1.1"/>
<line x1="100.15" y1="115.30" x2="100.15" y2="119.90" stroke="#111" stroke-width="1.1"/>
<line x1="117.30" y1="115.30" x2="117.30" y2="119.90" stroke="#111" stroke-width="1.1"/>
<line x1="134.45" y1="115.30" x2="134.45" y2="119.90" stroke="#111" stroke-width="1.1"/>
<line x1="151.60" y1="115.30" x2="151.60" y2="119.90" stroke="#111" stroke-width="1.1"/>
<polyline points="48.70,95.94 65.85,64.85 83.00,64.85 100.15,63.67 117.30,70.71 134.45,64.26 151.60,61.91" fill="none" stroke="#9fd3d6" stroke-width="1.05"/>
<line x1="48.70" y1="94.77" x2="48.70" y2="97.11" stroke="#9fd3d6" stroke-width="0.9"/>
<line x1="46.70" y1="94.77" x2="50.70" y2="94.77" stroke="#9fd3d6" stroke-width="0.9"/>
<line x1="46.70" y1="97.11" x2="50.70" y2="97.11" stroke="#9fd3d6" stroke-width="0.9"/>
<circle cx="48.70" cy="95.94" r="1.15" fill="#9fd3d6" stroke="#9fd3d6" stroke-width="0.9"/>
<line x1="65.85" y1="62.50" x2="65.85" y2="67.19" stroke="#9fd3d6" stroke-width="0.9"/>
<line x1="63.85" y1="62.50" x2="67.85" y2="62.50" stroke="#9fd3d6" stroke-width="0.9"/>
<line x1="63.85" y1="67.19" x2="67.85" y2="67.19" stroke="#9fd3d6" stroke-width="0.9"/>
<circle cx="65.85" cy="64.85" r="1.15" fill="#9fd3d6" stroke="#9fd3d6" stroke-width="0.9"/>
<line x1="83.00" y1="61.91" x2="83.00" y2="67.78" stroke="#9fd3d6" stroke-width="0.9"/>
<line x1="81.00" y1="61.91" x2="85.00" y2="61.91" stroke="#9fd3d6" stroke-width="0.9"/>
<line x1="81.00" y1="67.78" x2="85.00" y2="67.78" stroke="#9fd3d6" stroke-width="0.9"/>
<circle cx="83.00" cy="64.85" r="1.15" fill="#9fd3d6" stroke="#9fd3d6" stroke-width="0.9"/>
<line x1="100.15" y1="60.74" x2="100.15" y2="66.61" stroke="#9fd3d6" stroke-width="0.9"/>
<line x1="98.15" y1="60.74" x2="102.15" y2="60.74" stroke="#9fd3d6" stroke-width="0.9"/>
<line x1="98.15" y1="66.61" x2="102.15" y2="66.61" stroke="#9fd3d6" stroke-width="0.9"/>
<circle cx="100.15" cy="63.67" r="1.15" fill="#9fd3d6" stroke="#9fd3d6" stroke-width="0.9"/>
<line x1="117.30" y1="68.95" x2="117.30" y2="72.47" stroke="#9fd3d6" stroke-width="0.9"/>
<line x1="115.30" y1="68.95" x2="119.30" y2="68.95" stroke="#9fd3d6" stroke-width="0.9"/>
<line x1="115.30" y1="72.47" x2="119.30" y2="72.47" stroke="#9fd3d6" stroke-width="0.9"/>
<circle cx="117.30" cy="70.71" r="1.15" fill="#9fd3d6" stroke="#9fd3d6" stroke-width="0.9"/>
<line x1="134.45" y1="61.91" x2="134.45" y2="66.61" stroke="#9fd3d6" stroke-width="0.9"/>
<line x1="132.45" y1="61.91" x2="136.45" y2="61.91" stroke="#9fd3d6" stroke-width="0.9"/>
<line x1="132.45" y1="66.61" x2="136.45" y2="66.61" stroke="#9fd3d6" stroke-width="0.9"/>
<circle cx="134.45" cy="64.26" r="1.15" fill="#9fd3d6" stroke="#9fd3d6" stroke-width="0.9"/>
<line x1="151.60" y1="59.57" x2="151.60" y2="64.26" stroke="#9fd3d6" stroke-width="0.9"/>
<line x1="149.60" y1="59.57" x2="153.60" y2="59.57" stroke="#9fd3d6" stroke-width="0.9"/>
<line x1="149.60" y1="64.26" x2="153.60" y2="64.26" stroke="#9fd3d6" stroke-width="0.9"/>
<circle cx="151.60" cy="61.91" r="1.15" fill="#9fd3d6" stroke="#9fd3d6" stroke-width="0.9"/>
<polyline points="48.70,97.11 65.85,71.30 83.00,63.67 100.15,63.67 117.30,63.67 134.45,58.39 151.60,57.22" fill="none" stroke="#477ca5" stroke-width="1.05"/>
<line x1="48.70" y1="95.94" x2="48.70" y2="98.29" stroke="#477ca5" stroke-width="0.9"/>
<line x1="46.70" y1="95.94" x2="50.70" y2="95.94" stroke="#477ca5" stroke-width="0.9"/>
<line x1="46.70" y1="98.29" x2="50.70" y2="98.29" stroke="#477ca5" stroke-width="0.9"/>
<path d="M48.70 95.85 L49.97 98.13 L47.44 98.13Z" fill="#477ca5" stroke="#477ca5" stroke-width="0.9"/>
<line x1="65.85" y1="69.54" x2="65.85" y2="73.06" stroke="#477ca5" stroke-width="0.9"/>
<line x1="63.85" y1="69.54" x2="67.85" y2="69.54" stroke="#477ca5" stroke-width="0.9"/>
<line x1="63.85" y1="73.06" x2="67.85" y2="73.06" stroke="#477ca5" stroke-width="0.9"/>
<path d="M65.85 70.03 L67.11 72.31 L64.58 72.31Z" fill="#477ca5" stroke="#477ca5" stroke-width="0.9"/>
<line x1="83.00" y1="60.15" x2="83.00" y2="67.19" stroke="#477ca5" stroke-width="0.9"/>
<line x1="81.00" y1="60.15" x2="85.00" y2="60.15" stroke="#477ca5" stroke-width="0.9"/>
<line x1="81.00" y1="67.19" x2="85.00" y2="67.19" stroke="#477ca5" stroke-width="0.9"/>
<path d="M83.00 62.41 L84.27 64.69 L81.73 64.69Z" fill="#477ca5" stroke="#477ca5" stroke-width="0.9"/>
<line x1="100.15" y1="57.22" x2="100.15" y2="70.13" stroke="#477ca5" stroke-width="0.9"/>
<line x1="98.15" y1="57.22" x2="102.15" y2="57.22" stroke="#477ca5" stroke-width="0.9"/>
<line x1="98.15" y1="70.13" x2="102.15" y2="70.13" stroke="#477ca5" stroke-width="0.9"/>
<path d="M100.15 62.41 L101.42 64.69 L98.89 64.69Z" fill="#477ca5" stroke="#477ca5" stroke-width="0.9"/>
<line x1="117.30" y1="60.15" x2="117.30" y2="67.19" stroke="#477ca5" stroke-width="0.9"/>
<line x1="115.30" y1="60.15" x2="119.30" y2="60.15" stroke="#477ca5" stroke-width="0.9"/>
<line x1="115.30" y1="67.19" x2="119.30" y2="67.19" stroke="#477ca5" stroke-width="0.9"/>
<path d="M117.30 62.41 L118.56 64.69 L116.03 64.69Z" fill="#477ca5" stroke="#477ca5" stroke-width="0.9"/>
<line x1="134.45" y1="55.46" x2="134.45" y2="61.33" stroke="#477ca5" stroke-width="0.9"/>
<line x1="132.45" y1="55.46" x2="136.45" y2="55.46" stroke="#477ca5" stroke-width="0.9"/>
<line x1="132.45" y1="61.33" x2="136.45" y2="61.33" stroke="#477ca5" stroke-width="0.9"/>
<path d="M134.45 57.13 L135.71 59.41 L133.19 59.41Z" fill="#477ca5" stroke="#477ca5" stroke-width="0.9"/>
<line x1="151.60" y1="54.87" x2="151.60" y2="59.57" stroke="#477ca5" stroke-width="0.9"/>
<line x1="149.60" y1="54.87" x2="153.60" y2="54.87" stroke="#477ca5" stroke-width="0.9"/>
<line x1="149.60" y1="59.57" x2="153.60" y2="59.57" stroke="#477ca5" stroke-width="0.9"/>
<path d="M151.60 55.96 L152.86 58.23 L150.34 58.23Z" fill="#477ca5" stroke="#477ca5" stroke-width="0.9"/>
<polyline points="48.70,96.53 65.85,88.31 83.00,91.25 100.15,95.35 117.30,95.35 134.45,87.73 151.60,90.66" fill="none" stroke="#e8404e" stroke-width="1.05"/>
<line x1="48.70" y1="95.94" x2="48.70" y2="97.11" stroke="#e8404e" stroke-width="0.9"/>
<line x1="46.70" y1="95.94" x2="50.70" y2="95.94" stroke="#e8404e" stroke-width="0.9"/>
<line x1="46.70" y1="97.11" x2="50.70" y2="97.11" stroke="#e8404e" stroke-width="0.9"/>
<path d="M48.70 97.79 L49.97 95.51 L47.44 95.51Z" fill="#e8404e" stroke="#e8404e" stroke-width="0.9"/>
<line x1="65.85" y1="86.55" x2="65.85" y2="90.07" stroke="#e8404e" stroke-width="0.9"/>
<line x1="63.85" y1="86.55" x2="67.85" y2="86.55" stroke="#e8404e" stroke-width="0.9"/>
<line x1="63.85" y1="90.07" x2="67.85" y2="90.07" stroke="#e8404e" stroke-width="0.9"/>
<path d="M65.85 89.58 L67.11 87.30 L64.58 87.30Z" fill="#e8404e" stroke="#e8404e" stroke-width="0.9"/>
<line x1="83.00" y1="88.90" x2="83.00" y2="93.59" stroke="#e8404e" stroke-width="0.9"/>
<line x1="81.00" y1="88.90" x2="85.00" y2="88.90" stroke="#e8404e" stroke-width="0.9"/>
<line x1="81.00" y1="93.59" x2="85.00" y2="93.59" stroke="#e8404e" stroke-width="0.9"/>
<path d="M83.00 92.51 L84.27 90.23 L81.73 90.23Z" fill="#e8404e" stroke="#e8404e" stroke-width="0.9"/>
<line x1="100.15" y1="94.18" x2="100.15" y2="96.53" stroke="#e8404e" stroke-width="0.9"/>
<line x1="98.15" y1="94.18" x2="102.15" y2="94.18" stroke="#e8404e" stroke-width="0.9"/>
<line x1="98.15" y1="96.53" x2="102.15" y2="96.53" stroke="#e8404e" stroke-width="0.9"/>
<path d="M100.15 96.62 L101.42 94.34 L98.89 94.34Z" fill="#e8404e" stroke="#e8404e" stroke-width="0.9"/>
<line x1="117.30" y1="93.59" x2="117.30" y2="97.11" stroke="#e8404e" stroke-width="0.9"/>
<line x1="115.30" y1="93.59" x2="119.30" y2="93.59" stroke="#e8404e" stroke-width="0.9"/>
<line x1="115.30" y1="97.11" x2="119.30" y2="97.11" stroke="#e8404e" stroke-width="0.9"/>
<path d="M117.30 96.62 L118.56 94.34 L116.03 94.34Z" fill="#e8404e" stroke="#e8404e" stroke-width="0.9"/>
<line x1="134.45" y1="85.38" x2="134.45" y2="90.07" stroke="#e8404e" stroke-width="0.9"/>
<line x1="132.45" y1="85.38" x2="136.45" y2="85.38" stroke="#e8404e" stroke-width="0.9"/>
<line x1="132.45" y1="90.07" x2="136.45" y2="90.07" stroke="#e8404e" stroke-width="0.9"/>
<path d="M134.45 88.99 L135.71 86.71 L133.19 86.71Z" fill="#e8404e" stroke="#e8404e" stroke-width="0.9"/>
<line x1="151.60" y1="88.90" x2="151.60" y2="92.42" stroke="#e8404e" stroke-width="0.9"/>
<line x1="149.60" y1="88.90" x2="153.60" y2="88.90" stroke="#e8404e" stroke-width="0.9"/>
<line x1="149.60" y1="92.42" x2="153.60" y2="92.42" stroke="#e8404e" stroke-width="0.9"/>
<path d="M151.60 91.92 L152.86 89.65 L150.34 89.65Z" fill="#e8404e" stroke="#e8404e" stroke-width="0.9"/>
<polyline points="48.70,97.70 65.85,97.70 83.00,97.11 100.15,98.87 117.30,98.87 134.45,93.59 151.60,95.35" fill="none" stroke="#1f375a" stroke-width="1.05"/>
<line x1="48.70" y1="97.11" x2="48.70" y2="98.29" stroke="#1f375a" stroke-width="0.9"/>
<line x1="46.70" y1="97.11" x2="50.70" y2="97.11" stroke="#1f375a" stroke-width="0.9"/>
<line x1="46.70" y1="98.29" x2="50.70" y2="98.29" stroke="#1f375a" stroke-width="0.9"/>
<rect x="47.55" y="96.55" width="2.30" height="2.30" fill="#1f375a" stroke="#1f375a" stroke-width="0.9"/>
<line x1="65.85" y1="97.11" x2="65.85" y2="98.29" stroke="#1f375a" stroke-width="0.9"/>
<line x1="63.85" y1="97.11" x2="67.85" y2="97.11" stroke="#1f375a" stroke-width="0.9"/>
<line x1="63.85" y1="98.29" x2="67.85" y2="98.29" stroke="#1f375a" stroke-width="0.9"/>
<rect x="64.70" y="96.55" width="2.30" height="2.30" fill="#1f375a" stroke="#1f375a" stroke-width="0.9"/>
<line x1="83.00" y1="96.53" x2="83.00" y2="97.70" stroke="#1f375a" stroke-width="0.9"/>
<line x1="81.00" y1="96.53" x2="85.00" y2="96.53" stroke="#1f375a" stroke-width="0.9"/>
<line x1="81.00" y1="97.70" x2="85.00" y2="97.70" stroke="#1f375a" stroke-width="0.9"/>
<rect x="81.85" y="95.96" width="2.30" height="2.30" fill="#1f375a" stroke="#1f375a" stroke-width="0.9"/>
<line x1="100.15" y1="98.29" x2="100.15" y2="99.46" stroke="#1f375a" stroke-width="0.9"/>
<line x1="98.15" y1="98.29" x2="102.15" y2="98.29" stroke="#1f375a" stroke-width="0.9"/>
<line x1="98.15" y1="99.46" x2="102.15" y2="99.46" stroke="#1f375a" stroke-width="0.9"/>
<rect x="99.00" y="97.72" width="2.30" height="2.30" fill="#1f375a" stroke="#1f375a" stroke-width="0.9"/>
<line x1="117.30" y1="98.29" x2="117.30" y2="99.46" stroke="#1f375a" stroke-width="0.9"/>
<line x1="115.30" y1="98.29" x2="119.30" y2="98.29" stroke="#1f375a" stroke-width="0.9"/>
<line x1="115.30" y1="99.46" x2="119.30" y2="99.46" stroke="#1f375a" stroke-width="0.9"/>
<rect x="116.15" y="97.72" width="2.30" height="2.30" fill="#1f375a" stroke="#1f375a" stroke-width="0.9"/>
<line x1="134.45" y1="93.01" x2="134.45" y2="94.18" stroke="#1f375a" stroke-width="0.9"/>
<line x1="132.45" y1="93.01" x2="136.45" y2="93.01" stroke="#1f375a" stroke-width="0.9"/>
<line x1="132.45" y1="94.18" x2="136.45" y2="94.18" stroke="#1f375a" stroke-width="0.9"/>
<rect x="133.30" y="92.44" width="2.30" height="2.30" fill="#1f375a" stroke="#1f375a" stroke-width="0.9"/>
<line x1="151.60" y1="94.77" x2="151.60" y2="95.94" stroke="#1f375a" stroke-width="0.9"/>
<line x1="149.60" y1="94.77" x2="153.60" y2="94.77" stroke="#1f375a" stroke-width="0.9"/>
<line x1="149.60" y1="95.94" x2="153.60" y2="95.94" stroke="#1f375a" stroke-width="0.9"/>
<rect x="150.45" y="94.20" width="2.30" height="2.30" fill="#1f375a" stroke="#1f375a" stroke-width="0.9"/>
<line x1="186.30" y1="26.50" x2="186.30" y2="114.90" stroke="#111" stroke-width="1.2"/>
<line x1="185.80" y1="114.40" x2="305.80" y2="114.40" stroke="#111" stroke-width="1.2"/>
<line x1="181.70" y1="114.40" x2="186.30" y2="114.40" stroke="#111" stroke-width="1.1"/>
<line x1="181.70" y1="85.27" x2="186.30" y2="85.27" stroke="#111" stroke-width="1.1"/>
<line x1="181.70" y1="56.13" x2="186.30" y2="56.13" stroke="#111" stroke-width="1.1"/>
<line x1="181.70" y1="27.00" x2="186.30" y2="27.00" stroke="#111" stroke-width="1.1"/>
<line x1="194.70" y1="114.40" x2="194.70" y2="119.00" stroke="#111" stroke-width="1.1"/>
<line x1="211.80" y1="114.40" x2="211.80" y2="119.00" stroke="#111" stroke-width="1.1"/>
<line x1="228.90" y1="114.40" x2="228.90" y2="119.00" stroke="#111" stroke-width="1.1"/>
<line x1="246.00" y1="114.40" x2="246.00" y2="119.00" stroke="#111" stroke-width="1.1"/>
<line x1="263.10" y1="114.40" x2="263.10" y2="119.00" stroke="#111" stroke-width="1.1"/>
<line x1="280.20" y1="114.40" x2="280.20" y2="119.00" stroke="#111" stroke-width="1.1"/>
<line x1="297.30" y1="114.40" x2="297.30" y2="119.00" stroke="#111" stroke-width="1.1"/>
<polyline points="194.70,92.84 211.80,50.89 228.90,43.31 246.00,50.31 263.10,56.72 280.20,47.39 297.30,43.31" fill="none" stroke="#9fd3d6" stroke-width="1.05"/>
<line x1="194.70" y1="91.09" x2="194.70" y2="94.59" stroke="#9fd3d6" stroke-width="0.9"/>
<line x1="192.70" y1="91.09" x2="196.70" y2="91.09" stroke="#9fd3d6" stroke-width="0.9"/>
<line x1="192.70" y1="94.59" x2="196.70" y2="94.59" stroke="#9fd3d6" stroke-width="0.9"/>
<circle cx="194.70" cy="92.84" r="1.15" fill="#9fd3d6" stroke="#9fd3d6" stroke-width="0.9"/>
<line x1="211.80" y1="47.98" x2="211.80" y2="53.80" stroke="#9fd3d6" stroke-width="0.9"/>
<line x1="209.80" y1="47.98" x2="213.80" y2="47.98" stroke="#9fd3d6" stroke-width="0.9"/>
<line x1="209.80" y1="53.80" x2="213.80" y2="53.80" stroke="#9fd3d6" stroke-width="0.9"/>
<circle cx="211.80" cy="50.89" r="1.15" fill="#9fd3d6" stroke="#9fd3d6" stroke-width="0.9"/>
<line x1="228.90" y1="39.82" x2="228.90" y2="46.81" stroke="#9fd3d6" stroke-width="0.9"/>
<line x1="226.90" y1="39.82" x2="230.90" y2="39.82" stroke="#9fd3d6" stroke-width="0.9"/>
<line x1="226.90" y1="46.81" x2="230.90" y2="46.81" stroke="#9fd3d6" stroke-width="0.9"/>
<circle cx="228.90" cy="43.31" r="1.15" fill="#9fd3d6" stroke="#9fd3d6" stroke-width="0.9"/>
<line x1="246.00" y1="46.81" x2="246.00" y2="53.80" stroke="#9fd3d6" stroke-width="0.9"/>
<line x1="244.00" y1="46.81" x2="248.00" y2="46.81" stroke="#9fd3d6" stroke-width="0.9"/>
<line x1="244.00" y1="53.80" x2="248.00" y2="53.80" stroke="#9fd3d6" stroke-width="0.9"/>
<circle cx="246.00" cy="50.31" r="1.15" fill="#9fd3d6" stroke="#9fd3d6" stroke-width="0.9"/>
<line x1="263.10" y1="54.39" x2="263.10" y2="59.05" stroke="#9fd3d6" stroke-width="0.9"/>
<line x1="261.10" y1="54.39" x2="265.10" y2="54.39" stroke="#9fd3d6" stroke-width="0.9"/>
<line x1="261.10" y1="59.05" x2="265.10" y2="59.05" stroke="#9fd3d6" stroke-width="0.9"/>
<circle cx="263.10" cy="56.72" r="1.15" fill="#9fd3d6" stroke="#9fd3d6" stroke-width="0.9"/>
<line x1="280.20" y1="43.90" x2="280.20" y2="50.89" stroke="#9fd3d6" stroke-width="0.9"/>
<line x1="278.20" y1="43.90" x2="282.20" y2="43.90" stroke="#9fd3d6" stroke-width="0.9"/>
<line x1="278.20" y1="50.89" x2="282.20" y2="50.89" stroke="#9fd3d6" stroke-width="0.9"/>
<circle cx="280.20" cy="47.39" r="1.15" fill="#9fd3d6" stroke="#9fd3d6" stroke-width="0.9"/>
<line x1="297.30" y1="40.40" x2="297.30" y2="46.23" stroke="#9fd3d6" stroke-width="0.9"/>
<line x1="295.30" y1="40.40" x2="299.30" y2="40.40" stroke="#9fd3d6" stroke-width="0.9"/>
<line x1="295.30" y1="46.23" x2="299.30" y2="46.23" stroke="#9fd3d6" stroke-width="0.9"/>
<circle cx="297.30" cy="43.31" r="1.15" fill="#9fd3d6" stroke="#9fd3d6" stroke-width="0.9"/>
<polyline points="194.70,89.93 211.80,50.89 228.90,44.48 246.00,56.72 263.10,49.72 280.20,37.49 297.30,42.15" fill="none" stroke="#477ca5" stroke-width="1.05"/>
<line x1="194.70" y1="88.18" x2="194.70" y2="91.68" stroke="#477ca5" stroke-width="0.9"/>
<line x1="192.70" y1="88.18" x2="196.70" y2="88.18" stroke="#477ca5" stroke-width="0.9"/>
<line x1="192.70" y1="91.68" x2="196.70" y2="91.68" stroke="#477ca5" stroke-width="0.9"/>
<path d="M194.70 88.66 L195.96 90.94 L193.44 90.94Z" fill="#477ca5" stroke="#477ca5" stroke-width="0.9"/>
<line x1="211.80" y1="48.56" x2="211.80" y2="53.22" stroke="#477ca5" stroke-width="0.9"/>
<line x1="209.80" y1="48.56" x2="213.80" y2="48.56" stroke="#477ca5" stroke-width="0.9"/>
<line x1="209.80" y1="53.22" x2="213.80" y2="53.22" stroke="#477ca5" stroke-width="0.9"/>
<path d="M211.80 49.62 L213.06 51.90 L210.53 51.90Z" fill="#477ca5" stroke="#477ca5" stroke-width="0.9"/>
<line x1="228.90" y1="39.82" x2="228.90" y2="49.14" stroke="#477ca5" stroke-width="0.9"/>
<line x1="226.90" y1="39.82" x2="230.90" y2="39.82" stroke="#477ca5" stroke-width="0.9"/>
<line x1="226.90" y1="49.14" x2="230.90" y2="49.14" stroke="#477ca5" stroke-width="0.9"/>
<path d="M228.90 43.22 L230.16 45.49 L227.63 45.49Z" fill="#477ca5" stroke="#477ca5" stroke-width="0.9"/>
<line x1="246.00" y1="50.89" x2="246.00" y2="62.54" stroke="#477ca5" stroke-width="0.9"/>
<line x1="244.00" y1="50.89" x2="248.00" y2="50.89" stroke="#477ca5" stroke-width="0.9"/>
<line x1="244.00" y1="62.54" x2="248.00" y2="62.54" stroke="#477ca5" stroke-width="0.9"/>
<path d="M246.00 55.45 L247.26 57.73 L244.74 57.73Z" fill="#477ca5" stroke="#477ca5" stroke-width="0.9"/>
<line x1="263.10" y1="46.23" x2="263.10" y2="53.22" stroke="#477ca5" stroke-width="0.9"/>
<line x1="261.10" y1="46.23" x2="265.10" y2="46.23" stroke="#477ca5" stroke-width="0.9"/>
<line x1="261.10" y1="53.22" x2="265.10" y2="53.22" stroke="#477ca5" stroke-width="0.9"/>
<path d="M263.10 48.46 L264.37 50.74 L261.84 50.74Z" fill="#477ca5" stroke="#477ca5" stroke-width="0.9"/>
<line x1="280.20" y1="30.50" x2="280.20" y2="44.48" stroke="#477ca5" stroke-width="0.9"/>
<line x1="278.20" y1="30.50" x2="282.20" y2="30.50" stroke="#477ca5" stroke-width="0.9"/>
<line x1="278.20" y1="44.48" x2="282.20" y2="44.48" stroke="#477ca5" stroke-width="0.9"/>
<path d="M280.20 36.22 L281.46 38.50 L278.94 38.50Z" fill="#477ca5" stroke="#477ca5" stroke-width="0.9"/>
<line x1="297.30" y1="38.65" x2="297.30" y2="45.65" stroke="#477ca5" stroke-width="0.9"/>
<line x1="295.30" y1="38.65" x2="299.30" y2="38.65" stroke="#477ca5" stroke-width="0.9"/>
<line x1="295.30" y1="45.65" x2="299.30" y2="45.65" stroke="#477ca5" stroke-width="0.9"/>
<path d="M297.30 40.88 L298.56 43.16 L296.04 43.16Z" fill="#477ca5" stroke="#477ca5" stroke-width="0.9"/>
<polyline points="194.70,92.26 211.80,82.35 228.90,88.76 246.00,92.26 263.10,85.27 280.20,78.86 297.30,80.02" fill="none" stroke="#e8404e" stroke-width="1.05"/>
<line x1="194.70" y1="91.09" x2="194.70" y2="93.42" stroke="#e8404e" stroke-width="0.9"/>
<line x1="192.70" y1="91.09" x2="196.70" y2="91.09" stroke="#e8404e" stroke-width="0.9"/>
<line x1="192.70" y1="93.42" x2="196.70" y2="93.42" stroke="#e8404e" stroke-width="0.9"/>
<path d="M194.70 93.52 L195.96 91.25 L193.44 91.25Z" fill="#e8404e" stroke="#e8404e" stroke-width="0.9"/>
<line x1="211.80" y1="80.61" x2="211.80" y2="84.10" stroke="#e8404e" stroke-width="0.9"/>
<line x1="209.80" y1="80.61" x2="213.80" y2="80.61" stroke="#e8404e" stroke-width="0.9"/>
<line x1="209.80" y1="84.10" x2="213.80" y2="84.10" stroke="#e8404e" stroke-width="0.9"/>
<path d="M211.80 83.62 L213.06 81.34 L210.53 81.34Z" fill="#e8404e" stroke="#e8404e" stroke-width="0.9"/>
<line x1="228.90" y1="87.01" x2="228.90" y2="90.51" stroke="#e8404e" stroke-width="0.9"/>
<line x1="226.90" y1="87.01" x2="230.90" y2="87.01" stroke="#e8404e" stroke-width="0.9"/>
<line x1="226.90" y1="90.51" x2="230.90" y2="90.51" stroke="#e8404e" stroke-width="0.9"/>
<path d="M228.90 90.03 L230.16 87.75 L227.63 87.75Z" fill="#e8404e" stroke="#e8404e" stroke-width="0.9"/>
<line x1="246.00" y1="90.51" x2="246.00" y2="94.01" stroke="#e8404e" stroke-width="0.9"/>
<line x1="244.00" y1="90.51" x2="248.00" y2="90.51" stroke="#e8404e" stroke-width="0.9"/>
<line x1="244.00" y1="94.01" x2="248.00" y2="94.01" stroke="#e8404e" stroke-width="0.9"/>
<path d="M246.00 93.52 L247.26 91.25 L244.74 91.25Z" fill="#e8404e" stroke="#e8404e" stroke-width="0.9"/>
<line x1="263.10" y1="82.35" x2="263.10" y2="88.18" stroke="#e8404e" stroke-width="0.9"/>
<line x1="261.10" y1="82.35" x2="265.10" y2="82.35" stroke="#e8404e" stroke-width="0.9"/>
<line x1="261.10" y1="88.18" x2="265.10" y2="88.18" stroke="#e8404e" stroke-width="0.9"/>
<path d="M263.10 86.53 L264.37 84.25 L261.84 84.25Z" fill="#e8404e" stroke="#e8404e" stroke-width="0.9"/>
<line x1="280.20" y1="75.94" x2="280.20" y2="81.77" stroke="#e8404e" stroke-width="0.9"/>
<line x1="278.20" y1="75.94" x2="282.20" y2="75.94" stroke="#e8404e" stroke-width="0.9"/>
<line x1="278.20" y1="81.77" x2="282.20" y2="81.77" stroke="#e8404e" stroke-width="0.9"/>
<path d="M280.20 80.12 L281.46 77.85 L278.94 77.85Z" fill="#e8404e" stroke="#e8404e" stroke-width="0.9"/>
<line x1="297.30" y1="75.94" x2="297.30" y2="84.10" stroke="#e8404e" stroke-width="0.9"/>
<line x1="295.30" y1="75.94" x2="299.30" y2="75.94" stroke="#e8404e" stroke-width="0.9"/>
<line x1="295.30" y1="84.10" x2="299.30" y2="84.10" stroke="#e8404e" stroke-width="0.9"/>
<path d="M297.30 81.29 L298.56 79.01 L296.04 79.01Z" fill="#e8404e" stroke="#e8404e" stroke-width="0.9"/>
<polyline points="194.70,92.26 211.80,93.42 228.90,89.93 246.00,91.09 263.10,98.09 280.20,87.01 297.30,91.09" fill="none" stroke="#1f375a" stroke-width="1.05"/>
<line x1="194.70" y1="91.68" x2="194.70" y2="92.84" stroke="#1f375a" stroke-width="0.9"/>
<line x1="192.70" y1="91.68" x2="196.70" y2="91.68" stroke="#1f375a" stroke-width="0.9"/>
<line x1="192.70" y1="92.84" x2="196.70" y2="92.84" stroke="#1f375a" stroke-width="0.9"/>
<rect x="193.55" y="91.11" width="2.30" height="2.30" fill="#1f375a" stroke="#1f375a" stroke-width="0.9"/>
<line x1="211.80" y1="92.84" x2="211.80" y2="94.01" stroke="#1f375a" stroke-width="0.9"/>
<line x1="209.80" y1="92.84" x2="213.80" y2="92.84" stroke="#1f375a" stroke-width="0.9"/>
<line x1="209.80" y1="94.01" x2="213.80" y2="94.01" stroke="#1f375a" stroke-width="0.9"/>
<rect x="210.65" y="92.27" width="2.30" height="2.30" fill="#1f375a" stroke="#1f375a" stroke-width="0.9"/>
<line x1="228.90" y1="89.35" x2="228.90" y2="90.51" stroke="#1f375a" stroke-width="0.9"/>
<line x1="226.90" y1="89.35" x2="230.90" y2="89.35" stroke="#1f375a" stroke-width="0.9"/>
<line x1="226.90" y1="90.51" x2="230.90" y2="90.51" stroke="#1f375a" stroke-width="0.9"/>
<rect x="227.75" y="88.78" width="2.30" height="2.30" fill="#1f375a" stroke="#1f375a" stroke-width="0.9"/>
<line x1="246.00" y1="89.93" x2="246.00" y2="92.26" stroke="#1f375a" stroke-width="0.9"/>
<line x1="244.00" y1="89.93" x2="248.00" y2="89.93" stroke="#1f375a" stroke-width="0.9"/>
<line x1="244.00" y1="92.26" x2="248.00" y2="92.26" stroke="#1f375a" stroke-width="0.9"/>
<rect x="244.85" y="89.94" width="2.30" height="2.30" fill="#1f375a" stroke="#1f375a" stroke-width="0.9"/>
<line x1="263.10" y1="97.50" x2="263.10" y2="98.67" stroke="#1f375a" stroke-width="0.9"/>
<line x1="261.10" y1="97.50" x2="265.10" y2="97.50" stroke="#1f375a" stroke-width="0.9"/>
<line x1="261.10" y1="98.67" x2="265.10" y2="98.67" stroke="#1f375a" stroke-width="0.9"/>
<rect x="261.95" y="96.94" width="2.30" height="2.30" fill="#1f375a" stroke="#1f375a" stroke-width="0.9"/>
<line x1="280.20" y1="86.43" x2="280.20" y2="87.60" stroke="#1f375a" stroke-width="0.9"/>
<line x1="278.20" y1="86.43" x2="282.20" y2="86.43" stroke="#1f375a" stroke-width="0.9"/>
<line x1="278.20" y1="87.60" x2="282.20" y2="87.60" stroke="#1f375a" stroke-width="0.9"/>
<rect x="279.05" y="85.86" width="2.30" height="2.30" fill="#1f375a" stroke="#1f375a" stroke-width="0.9"/>
<line x1="297.30" y1="89.93" x2="297.30" y2="92.26" stroke="#1f375a" stroke-width="0.9"/>
<line x1="295.30" y1="89.93" x2="299.30" y2="89.93" stroke="#1f375a" stroke-width="0.9"/>
<line x1="295.30" y1="92.26" x2="299.30" y2="92.26" stroke="#1f375a" stroke-width="0.9"/>
<rect x="296.15" y="89.94" width="2.30" height="2.30" fill="#1f375a" stroke="#1f375a" stroke-width="0.9"/>
<line x1="378.20" y1="10.30" x2="399.70" y2="10.30" stroke="#9fd3d6" stroke-width="1.0"/>
<circle cx="388.95" cy="10.30" r="1.90" fill="#fff" stroke="#9fd3d6" stroke-width="0.9"/>
<line x1="455.00" y1="10.30" x2="476.70" y2="10.30" stroke="#477ca5" stroke-width="1.0"/>
<path d="M465.85 8.21 L467.94 11.97 L463.76 11.97Z" fill="#fff" stroke="#477ca5" stroke-width="0.9"/>
<line x1="539.00" y1="10.30" x2="560.00" y2="10.30" stroke="#e8404e" stroke-width="1.0"/>
<path d="M549.50 12.39 L551.59 8.63 L547.41 8.63Z" fill="#fff" stroke="#e8404e" stroke-width="0.9"/>
<line x1="618.80" y1="10.30" x2="640.40" y2="10.30" stroke="#1f375a" stroke-width="1.0"/>
<rect x="627.70" y="8.40" width="3.80" height="3.80" fill="#fff" stroke="#1f375a" stroke-width="0.9"/>
<line x1="379.80" y1="27.60" x2="379.80" y2="114.50" stroke="#111" stroke-width="1.2"/>
<line x1="379.30" y1="114.00" x2="509.00" y2="114.00" stroke="#111" stroke-width="1.2"/>
<line x1="375.20" y1="114.00" x2="379.80" y2="114.00" stroke="#111" stroke-width="1.1"/>
<line x1="375.20" y1="85.37" x2="379.80" y2="85.37" stroke="#111" stroke-width="1.1"/>
<line x1="375.20" y1="56.73" x2="379.80" y2="56.73" stroke="#111" stroke-width="1.1"/>
<line x1="375.20" y1="28.10" x2="379.80" y2="28.10" stroke="#111" stroke-width="1.1"/>
<line x1="388.10" y1="114.00" x2="388.10" y2="118.60" stroke="#111" stroke-width="1.1"/>
<line x1="404.70" y1="114.00" x2="404.70" y2="118.60" stroke="#111" stroke-width="1.1"/>
<line x1="421.30" y1="114.00" x2="421.30" y2="118.60" stroke="#111" stroke-width="1.1"/>
<line x1="437.90" y1="114.00" x2="437.90" y2="118.60" stroke="#111" stroke-width="1.1"/>
<line x1="454.50" y1="114.00" x2="454.50" y2="118.60" stroke="#111" stroke-width="1.1"/>
<line x1="471.10" y1="114.00" x2="471.10" y2="118.60" stroke="#111" stroke-width="1.1"/>
<line x1="487.70" y1="114.00" x2="487.70" y2="118.60" stroke="#111" stroke-width="1.1"/>
<line x1="504.30" y1="114.00" x2="504.30" y2="118.60" stroke="#111" stroke-width="1.1"/>
<polyline points="388.10,96.82 404.70,71.62 421.30,69.33 437.90,76.20 454.50,67.04 471.10,70.48 487.70,69.90 504.30,59.60" fill="none" stroke="#9fd3d6" stroke-width="1.05"/>
<line x1="388.10" y1="95.67" x2="388.10" y2="97.97" stroke="#9fd3d6" stroke-width="0.9"/>
<line x1="386.10" y1="95.67" x2="390.10" y2="95.67" stroke="#9fd3d6" stroke-width="0.9"/>
<line x1="386.10" y1="97.97" x2="390.10" y2="97.97" stroke="#9fd3d6" stroke-width="0.9"/>
<circle cx="388.10" cy="96.82" r="1.15" fill="#9fd3d6" stroke="#9fd3d6" stroke-width="0.9"/>
<line x1="404.70" y1="69.33" x2="404.70" y2="73.91" stroke="#9fd3d6" stroke-width="0.9"/>
<line x1="402.70" y1="69.33" x2="406.70" y2="69.33" stroke="#9fd3d6" stroke-width="0.9"/>
<line x1="402.70" y1="73.91" x2="406.70" y2="73.91" stroke="#9fd3d6" stroke-width="0.9"/>
<circle cx="404.70" cy="71.62" r="1.15" fill="#9fd3d6" stroke="#9fd3d6" stroke-width="0.9"/>
<line x1="421.30" y1="67.04" x2="421.30" y2="71.62" stroke="#9fd3d6" stroke-width="0.9"/>
<line x1="419.30" y1="67.04" x2="423.30" y2="67.04" stroke="#9fd3d6" stroke-width="0.9"/>
<line x1="419.30" y1="71.62" x2="423.30" y2="71.62" stroke="#9fd3d6" stroke-width="0.9"/>
<circle cx="421.30" cy="69.33" r="1.15" fill="#9fd3d6" stroke="#9fd3d6" stroke-width="0.9"/>
<line x1="437.90" y1="74.49" x2="437.90" y2="77.92" stroke="#9fd3d6" stroke-width="0.9"/>
<line x1="435.90" y1="74.49" x2="439.90" y2="74.49" stroke="#9fd3d6" stroke-width="0.9"/>
<line x1="435.90" y1="77.92" x2="439.90" y2="77.92" stroke="#9fd3d6" stroke-width="0.9"/>
<circle cx="437.90" cy="76.20" r="1.15" fill="#9fd3d6" stroke="#9fd3d6" stroke-width="0.9"/>
<line x1="454.50" y1="65.32" x2="454.50" y2="68.76" stroke="#9fd3d6" stroke-width="0.9"/>
<line x1="452.50" y1="65.32" x2="456.50" y2="65.32" stroke="#9fd3d6" stroke-width="0.9"/>
<line x1="452.50" y1="68.76" x2="456.50" y2="68.76" stroke="#9fd3d6" stroke-width="0.9"/>
<circle cx="454.50" cy="67.04" r="1.15" fill="#9fd3d6" stroke="#9fd3d6" stroke-width="0.9"/>
<line x1="471.10" y1="68.19" x2="471.10" y2="72.77" stroke="#9fd3d6" stroke-width="0.9"/>
<line x1="469.10" y1="68.19" x2="473.10" y2="68.19" stroke="#9fd3d6" stroke-width="0.9"/>
<line x1="469.10" y1="72.77" x2="473.10" y2="72.77" stroke="#9fd3d6" stroke-width="0.9"/>
<circle cx="471.10" cy="70.48" r="1.15" fill="#9fd3d6" stroke="#9fd3d6" stroke-width="0.9"/>
<line x1="487.70" y1="67.61" x2="487.70" y2="72.20" stroke="#9fd3d6" stroke-width="0.9"/>
<line x1="485.70" y1="67.61" x2="489.70" y2="67.61" stroke="#9fd3d6" stroke-width="0.9"/>
<line x1="485.70" y1="72.20" x2="489.70" y2="72.20" stroke="#9fd3d6" stroke-width="0.9"/>
<circle cx="487.70" cy="69.90" r="1.15" fill="#9fd3d6" stroke="#9fd3d6" stroke-width="0.9"/>
<line x1="504.30" y1="56.73" x2="504.30" y2="62.46" stroke="#9fd3d6" stroke-width="0.9"/>
<line x1="502.30" y1="56.73" x2="506.30" y2="56.73" stroke="#9fd3d6" stroke-width="0.9"/>
<line x1="502.30" y1="62.46" x2="506.30" y2="62.46" stroke="#9fd3d6" stroke-width="0.9"/>
<circle cx="504.30" cy="59.60" r="1.15" fill="#9fd3d6" stroke="#9fd3d6" stroke-width="0.9"/>
<polyline points="388.10,99.11 404.70,69.33 421.30,61.89 437.90,68.19 454.50,50.43 471.10,53.87 487.70,52.15 504.30,55.59" fill="none" stroke="#477ca5" stroke-width="1.05"/>
<line x1="388.10" y1="97.97" x2="388.10" y2="100.26" stroke="#477ca5" stroke-width="0.9"/>
<line x1="386.10" y1="97.97" x2="390.10" y2="97.97" stroke="#477ca5" stroke-width="0.9"/>
<line x1="386.10" y1="100.26" x2="390.10" y2="100.26" stroke="#477ca5" stroke-width="0.9"/>
<path d="M388.10 97.85 L389.37 100.12 L386.84 100.12Z" fill="#477ca5" stroke="#477ca5" stroke-width="0.9"/>
<line x1="404.70" y1="64.18" x2="404.70" y2="74.49" stroke="#477ca5" stroke-width="0.9"/>
<line x1="402.70" y1="64.18" x2="406.70" y2="64.18" stroke="#477ca5" stroke-width="0.9"/>
<line x1="402.70" y1="74.49" x2="406.70" y2="74.49" stroke="#477ca5" stroke-width="0.9"/>
<path d="M404.70 68.07 L405.97 70.34 L403.44 70.34Z" fill="#477ca5" stroke="#477ca5" stroke-width="0.9"/>
<line x1="421.30" y1="59.60" x2="421.30" y2="64.18" stroke="#477ca5" stroke-width="0.9"/>
<line x1="419.30" y1="59.60" x2="423.30" y2="59.60" stroke="#477ca5" stroke-width="0.9"/>
<line x1="419.30" y1="64.18" x2="423.30" y2="64.18" stroke="#477ca5" stroke-width="0.9"/>
<path d="M421.30 60.62 L422.56 62.90 L420.04 62.90Z" fill="#477ca5" stroke="#477ca5" stroke-width="0.9"/>
<line x1="437.90" y1="64.75" x2="437.90" y2="71.62" stroke="#477ca5" stroke-width="0.9"/>
<line x1="435.90" y1="64.75" x2="439.90" y2="64.75" stroke="#477ca5" stroke-width="0.9"/>
<line x1="435.90" y1="71.62" x2="439.90" y2="71.62" stroke="#477ca5" stroke-width="0.9"/>
<path d="M437.90 66.92 L439.17 69.20 L436.64 69.20Z" fill="#477ca5" stroke="#477ca5" stroke-width="0.9"/>
<line x1="454.50" y1="48.72" x2="454.50" y2="52.15" stroke="#477ca5" stroke-width="0.9"/>
<line x1="452.50" y1="48.72" x2="456.50" y2="48.72" stroke="#477ca5" stroke-width="0.9"/>
<line x1="452.50" y1="52.15" x2="456.50" y2="52.15" stroke="#477ca5" stroke-width="0.9"/>
<path d="M454.50 49.17 L455.76 51.45 L453.24 51.45Z" fill="#477ca5" stroke="#477ca5" stroke-width="0.9"/>
<line x1="471.10" y1="52.15" x2="471.10" y2="55.59" stroke="#477ca5" stroke-width="0.9"/>
<line x1="469.10" y1="52.15" x2="473.10" y2="52.15" stroke="#477ca5" stroke-width="0.9"/>
<line x1="469.10" y1="55.59" x2="473.10" y2="55.59" stroke="#477ca5" stroke-width="0.9"/>
<path d="M471.10 52.60 L472.37 54.88 L469.84 54.88Z" fill="#477ca5" stroke="#477ca5" stroke-width="0.9"/>
<line x1="487.70" y1="50.43" x2="487.70" y2="53.87" stroke="#477ca5" stroke-width="0.9"/>
<line x1="485.70" y1="50.43" x2="489.70" y2="50.43" stroke="#477ca5" stroke-width="0.9"/>
<line x1="485.70" y1="53.87" x2="489.70" y2="53.87" stroke="#477ca5" stroke-width="0.9"/>
<path d="M487.70 50.89 L488.97 53.16 L486.44 53.16Z" fill="#477ca5" stroke="#477ca5" stroke-width="0.9"/>
<line x1="504.30" y1="52.72" x2="504.30" y2="58.45" stroke="#477ca5" stroke-width="0.9"/>
<line x1="502.30" y1="52.72" x2="506.30" y2="52.72" stroke="#477ca5" stroke-width="0.9"/>
<line x1="502.30" y1="58.45" x2="506.30" y2="58.45" stroke="#477ca5" stroke-width="0.9"/>
<path d="M504.30 54.32 L505.57 56.60 L503.04 56.60Z" fill="#477ca5" stroke="#477ca5" stroke-width="0.9"/>
<polyline points="388.10,97.97 404.70,91.67 421.30,93.96 437.90,93.38 454.50,96.82 471.10,97.39 487.70,91.09 504.30,84.79" fill="none" stroke="#e8404e" stroke-width="1.05"/>
<line x1="388.10" y1="97.39" x2="388.10" y2="98.54" stroke="#e8404e" stroke-width="0.9"/>
<line x1="386.10" y1="97.39" x2="390.10" y2="97.39" stroke="#e8404e" stroke-width="0.9"/>
<line x1="386.10" y1="98.54" x2="390.10" y2="98.54" stroke="#e8404e" stroke-width="0.9"/>
<path d="M388.10 99.23 L389.37 96.95 L386.84 96.95Z" fill="#e8404e" stroke="#e8404e" stroke-width="0.9"/>
<line x1="404.70" y1="90.52" x2="404.70" y2="92.81" stroke="#e8404e" stroke-width="0.9"/>
<line x1="402.70" y1="90.52" x2="406.70" y2="90.52" stroke="#e8404e" stroke-width="0.9"/>
<line x1="402.70" y1="92.81" x2="406.70" y2="92.81" stroke="#e8404e" stroke-width="0.9"/>
<path d="M404.70 92.93 L405.97 90.65 L403.44 90.65Z" fill="#e8404e" stroke="#e8404e" stroke-width="0.9"/>
<line x1="421.30" y1="92.81" x2="421.30" y2="95.10" stroke="#e8404e" stroke-width="0.9"/>
<line x1="419.30" y1="92.81" x2="423.30" y2="92.81" stroke="#e8404e" stroke-width="0.9"/>
<line x1="419.30" y1="95.10" x2="423.30" y2="95.10" stroke="#e8404e" stroke-width="0.9"/>
<path d="M421.30 95.22 L422.56 92.94 L420.04 92.94Z" fill="#e8404e" stroke="#e8404e" stroke-width="0.9"/>
<line x1="437.90" y1="92.24" x2="437.90" y2="94.53" stroke="#e8404e" stroke-width="0.9"/>
<line x1="435.90" y1="92.24" x2="439.90" y2="92.24" stroke="#e8404e" stroke-width="0.9"/>
<line x1="435.90" y1="94.53" x2="439.90" y2="94.53" stroke="#e8404e" stroke-width="0.9"/>
<path d="M437.90 94.65 L439.17 92.37 L436.64 92.37Z" fill="#e8404e" stroke="#e8404e" stroke-width="0.9"/>
<line x1="454.50" y1="95.67" x2="454.50" y2="97.97" stroke="#e8404e" stroke-width="0.9"/>
<line x1="452.50" y1="95.67" x2="456.50" y2="95.67" stroke="#e8404e" stroke-width="0.9"/>
<line x1="452.50" y1="97.97" x2="456.50" y2="97.97" stroke="#e8404e" stroke-width="0.9"/>
<path d="M454.50 98.08 L455.76 95.81 L453.24 95.81Z" fill="#e8404e" stroke="#e8404e" stroke-width="0.9"/>
<line x1="471.10" y1="96.82" x2="471.10" y2="97.97" stroke="#e8404e" stroke-width="0.9"/>
<line x1="469.10" y1="96.82" x2="473.10" y2="96.82" stroke="#e8404e" stroke-width="0.9"/>
<line x1="469.10" y1="97.97" x2="473.10" y2="97.97" stroke="#e8404e" stroke-width="0.9"/>
<path d="M471.10 98.66 L472.37 96.38 L469.84 96.38Z" fill="#e8404e" stroke="#e8404e" stroke-width="0.9"/>
<line x1="487.70" y1="89.95" x2="487.70" y2="92.24" stroke="#e8404e" stroke-width="0.9"/>
<line x1="485.70" y1="89.95" x2="489.70" y2="89.95" stroke="#e8404e" stroke-width="0.9"/>
<line x1="485.70" y1="92.24" x2="489.70" y2="92.24" stroke="#e8404e" stroke-width="0.9"/>
<path d="M487.70 92.36 L488.97 90.08 L486.44 90.08Z" fill="#e8404e" stroke="#e8404e" stroke-width="0.9"/>
<line x1="504.30" y1="83.65" x2="504.30" y2="85.94" stroke="#e8404e" stroke-width="0.9"/>
<line x1="502.30" y1="83.65" x2="506.30" y2="83.65" stroke="#e8404e" stroke-width="0.9"/>
<line x1="502.30" y1="85.94" x2="506.30" y2="85.94" stroke="#e8404e" stroke-width="0.9"/>
<path d="M504.30 86.06 L505.57 83.78 L503.04 83.78Z" fill="#e8404e" stroke="#e8404e" stroke-width="0.9"/>
<polyline points="388.10,92.81 404.70,96.25 421.30,97.39 437.90,99.68 454.50,97.39 471.10,97.39 487.70,95.67 504.30,89.38" fill="none" stroke="#1f375a" stroke-width="1.05"/>
<line x1="388.10" y1="92.24" x2="388.10" y2="93.38" stroke="#1f375a" stroke-width="0.9"/>
<line x1="386.10" y1="92.24" x2="390.10" y2="92.24" stroke="#1f375a" stroke-width="0.9"/>
<line x1="386.10" y1="93.38" x2="390.10" y2="93.38" stroke="#1f375a" stroke-width="0.9"/>
<rect x="386.95" y="91.66" width="2.30" height="2.30" fill="#1f375a" stroke="#1f375a" stroke-width="0.9"/>
<line x1="404.70" y1="95.67" x2="404.70" y2="96.82" stroke="#1f375a" stroke-width="0.9"/>
<line x1="402.70" y1="95.67" x2="406.70" y2="95.67" stroke="#1f375a" stroke-width="0.9"/>
<line x1="402.70" y1="96.82" x2="406.70" y2="96.82" stroke="#1f375a" stroke-width="0.9"/>
<rect x="403.55" y="95.10" width="2.30" height="2.30" fill="#1f375a" stroke="#1f375a" stroke-width="0.9"/>
<line x1="421.30" y1="96.82" x2="421.30" y2="97.97" stroke="#1f375a" stroke-width="0.9"/>
<line x1="419.30" y1="96.82" x2="423.30" y2="96.82" stroke="#1f375a" stroke-width="0.9"/>
<line x1="419.30" y1="97.97" x2="423.30" y2="97.97" stroke="#1f375a" stroke-width="0.9"/>
<rect x="420.15" y="96.24" width="2.30" height="2.30" fill="#1f375a" stroke="#1f375a" stroke-width="0.9"/>
<line x1="437.90" y1="99.11" x2="437.90" y2="100.26" stroke="#1f375a" stroke-width="0.9"/>
<line x1="435.90" y1="99.11" x2="439.90" y2="99.11" stroke="#1f375a" stroke-width="0.9"/>
<line x1="435.90" y1="100.26" x2="439.90" y2="100.26" stroke="#1f375a" stroke-width="0.9"/>
<rect x="436.75" y="98.53" width="2.30" height="2.30" fill="#1f375a" stroke="#1f375a" stroke-width="0.9"/>
<line x1="454.50" y1="96.82" x2="454.50" y2="97.97" stroke="#1f375a" stroke-width="0.9"/>
<line x1="452.50" y1="96.82" x2="456.50" y2="96.82" stroke="#1f375a" stroke-width="0.9"/>
<line x1="452.50" y1="97.97" x2="456.50" y2="97.97" stroke="#1f375a" stroke-width="0.9"/>
<rect x="453.35" y="96.24" width="2.30" height="2.30" fill="#1f375a" stroke="#1f375a" stroke-width="0.9"/>
<line x1="471.10" y1="96.82" x2="471.10" y2="97.97" stroke="#1f375a" stroke-width="0.9"/>
<line x1="469.10" y1="96.82" x2="473.10" y2="96.82" stroke="#1f375a" stroke-width="0.9"/>
<line x1="469.10" y1="97.97" x2="473.10" y2="97.97" stroke="#1f375a" stroke-width="0.9"/>
<rect x="469.95" y="96.24" width="2.30" height="2.30" fill="#1f375a" stroke="#1f375a" stroke-width="0.9"/>
<line x1="487.70" y1="94.53" x2="487.70" y2="96.82" stroke="#1f375a" stroke-width="0.9"/>
<line x1="485.70" y1="94.53" x2="489.70" y2="94.53" stroke="#1f375a" stroke-width="0.9"/>
<line x1="485.70" y1="96.82" x2="489.70" y2="96.82" stroke="#1f375a" stroke-width="0.9"/>
<rect x="486.55" y="94.52" width="2.30" height="2.30" fill="#1f375a" stroke="#1f375a" stroke-width="0.9"/>
<line x1="504.30" y1="88.23" x2="504.30" y2="90.52" stroke="#1f375a" stroke-width="0.9"/>
<line x1="502.30" y1="88.23" x2="506.30" y2="88.23" stroke="#1f375a" stroke-width="0.9"/>
<line x1="502.30" y1="90.52" x2="506.30" y2="90.52" stroke="#1f375a" stroke-width="0.9"/>
<rect x="503.15" y="88.23" width="2.30" height="2.30" fill="#1f375a" stroke="#1f375a" stroke-width="0.9"/>
<line x1="540.80" y1="27.90" x2="540.80" y2="115.00" stroke="#111" stroke-width="1.2"/>
<line x1="540.30" y1="114.50" x2="668.80" y2="114.50" stroke="#111" stroke-width="1.2"/>
<line x1="536.20" y1="114.50" x2="540.80" y2="114.50" stroke="#111" stroke-width="1.1"/>
<line x1="536.20" y1="85.80" x2="540.80" y2="85.80" stroke="#111" stroke-width="1.1"/>
<line x1="536.20" y1="57.10" x2="540.80" y2="57.10" stroke="#111" stroke-width="1.1"/>
<line x1="536.20" y1="28.40" x2="540.80" y2="28.40" stroke="#111" stroke-width="1.1"/>
<line x1="548.60" y1="114.50" x2="548.60" y2="119.10" stroke="#111" stroke-width="1.1"/>
<line x1="564.73" y1="114.50" x2="564.73" y2="119.10" stroke="#111" stroke-width="1.1"/>
<line x1="580.86" y1="114.50" x2="580.86" y2="119.10" stroke="#111" stroke-width="1.1"/>
<line x1="596.99" y1="114.50" x2="596.99" y2="119.10" stroke="#111" stroke-width="1.1"/>
<line x1="613.12" y1="114.50" x2="613.12" y2="119.10" stroke="#111" stroke-width="1.1"/>
<line x1="629.25" y1="114.50" x2="629.25" y2="119.10" stroke="#111" stroke-width="1.1"/>
<line x1="645.38" y1="114.50" x2="645.38" y2="119.10" stroke="#111" stroke-width="1.1"/>
<line x1="661.51" y1="114.50" x2="661.51" y2="119.10" stroke="#111" stroke-width="1.1"/>
<polyline points="548.60,92.11 564.73,58.25 580.86,58.25 596.99,54.23 613.12,68.01 629.25,57.10 645.38,60.54 661.51,52.51" fill="none" stroke="#9fd3d6" stroke-width="1.05"/>
<line x1="548.60" y1="90.39" x2="548.60" y2="93.84" stroke="#9fd3d6" stroke-width="0.9"/>
<line x1="546.60" y1="90.39" x2="550.60" y2="90.39" stroke="#9fd3d6" stroke-width="0.9"/>
<line x1="546.60" y1="93.84" x2="550.60" y2="93.84" stroke="#9fd3d6" stroke-width="0.9"/>
<circle cx="548.60" cy="92.11" r="1.15" fill="#9fd3d6" stroke="#9fd3d6" stroke-width="0.9"/>
<line x1="564.73" y1="54.23" x2="564.73" y2="62.27" stroke="#9fd3d6" stroke-width="0.9"/>
<line x1="562.73" y1="54.23" x2="566.73" y2="54.23" stroke="#9fd3d6" stroke-width="0.9"/>
<line x1="562.73" y1="62.27" x2="566.73" y2="62.27" stroke="#9fd3d6" stroke-width="0.9"/>
<circle cx="564.73" cy="58.25" r="1.15" fill="#9fd3d6" stroke="#9fd3d6" stroke-width="0.9"/>
<line x1="580.86" y1="55.95" x2="580.86" y2="60.54" stroke="#9fd3d6" stroke-width="0.9"/>
<line x1="578.86" y1="55.95" x2="582.86" y2="55.95" stroke="#9fd3d6" stroke-width="0.9"/>
<line x1="578.86" y1="60.54" x2="582.86" y2="60.54" stroke="#9fd3d6" stroke-width="0.9"/>
<circle cx="580.86" cy="58.25" r="1.15" fill="#9fd3d6" stroke="#9fd3d6" stroke-width="0.9"/>
<line x1="596.99" y1="51.93" x2="596.99" y2="56.53" stroke="#9fd3d6" stroke-width="0.9"/>
<line x1="594.99" y1="51.93" x2="598.99" y2="51.93" stroke="#9fd3d6" stroke-width="0.9"/>
<line x1="594.99" y1="56.53" x2="598.99" y2="56.53" stroke="#9fd3d6" stroke-width="0.9"/>
<circle cx="596.99" cy="54.23" r="1.15" fill="#9fd3d6" stroke="#9fd3d6" stroke-width="0.9"/>
<line x1="613.12" y1="64.56" x2="613.12" y2="71.45" stroke="#9fd3d6" stroke-width="0.9"/>
<line x1="611.12" y1="64.56" x2="615.12" y2="64.56" stroke="#9fd3d6" stroke-width="0.9"/>
<line x1="611.12" y1="71.45" x2="615.12" y2="71.45" stroke="#9fd3d6" stroke-width="0.9"/>
<circle cx="613.12" cy="68.01" r="1.15" fill="#9fd3d6" stroke="#9fd3d6" stroke-width="0.9"/>
<line x1="629.25" y1="54.23" x2="629.25" y2="59.97" stroke="#9fd3d6" stroke-width="0.9"/>
<line x1="627.25" y1="54.23" x2="631.25" y2="54.23" stroke="#9fd3d6" stroke-width="0.9"/>
<line x1="627.25" y1="59.97" x2="631.25" y2="59.97" stroke="#9fd3d6" stroke-width="0.9"/>
<circle cx="629.25" cy="57.10" r="1.15" fill="#9fd3d6" stroke="#9fd3d6" stroke-width="0.9"/>
<line x1="645.38" y1="57.67" x2="645.38" y2="63.41" stroke="#9fd3d6" stroke-width="0.9"/>
<line x1="643.38" y1="57.67" x2="647.38" y2="57.67" stroke="#9fd3d6" stroke-width="0.9"/>
<line x1="643.38" y1="63.41" x2="647.38" y2="63.41" stroke="#9fd3d6" stroke-width="0.9"/>
<circle cx="645.38" cy="60.54" r="1.15" fill="#9fd3d6" stroke="#9fd3d6" stroke-width="0.9"/>
<line x1="661.51" y1="49.64" x2="661.51" y2="55.38" stroke="#9fd3d6" stroke-width="0.9"/>
<line x1="659.51" y1="49.64" x2="663.51" y2="49.64" stroke="#9fd3d6" stroke-width="0.9"/>
<line x1="659.51" y1="55.38" x2="663.51" y2="55.38" stroke="#9fd3d6" stroke-width="0.9"/>
<circle cx="661.51" cy="52.51" r="1.15" fill="#9fd3d6" stroke="#9fd3d6" stroke-width="0.9"/>
<polyline points="548.60,95.56 564.73,63.99 580.86,57.67 596.99,56.53 613.12,54.23 629.25,50.79 645.38,43.90 661.51,45.05" fill="none" stroke="#477ca5" stroke-width="1.05"/>
<line x1="548.60" y1="94.41" x2="548.60" y2="96.71" stroke="#477ca5" stroke-width="0.9"/>
<line x1="546.60" y1="94.41" x2="550.60" y2="94.41" stroke="#477ca5" stroke-width="0.9"/>
<line x1="546.60" y1="96.71" x2="550.60" y2="96.71" stroke="#477ca5" stroke-width="0.9"/>
<path d="M548.60 94.29 L549.87 96.57 L547.34 96.57Z" fill="#477ca5" stroke="#477ca5" stroke-width="0.9"/>
<line x1="564.73" y1="61.69" x2="564.73" y2="66.28" stroke="#477ca5" stroke-width="0.9"/>
<line x1="562.73" y1="61.69" x2="566.73" y2="61.69" stroke="#477ca5" stroke-width="0.9"/>
<line x1="562.73" y1="66.28" x2="566.73" y2="66.28" stroke="#477ca5" stroke-width="0.9"/>
<path d="M564.73 62.72 L566.00 65.00 L563.47 65.00Z" fill="#477ca5" stroke="#477ca5" stroke-width="0.9"/>
<line x1="580.86" y1="54.80" x2="580.86" y2="60.54" stroke="#477ca5" stroke-width="0.9"/>
<line x1="578.86" y1="54.80" x2="582.86" y2="54.80" stroke="#477ca5" stroke-width="0.9"/>
<line x1="578.86" y1="60.54" x2="582.86" y2="60.54" stroke="#477ca5" stroke-width="0.9"/>
<path d="M580.86 56.41 L582.12 58.69 L579.60 58.69Z" fill="#477ca5" stroke="#477ca5" stroke-width="0.9"/>
<line x1="596.99" y1="54.80" x2="596.99" y2="58.25" stroke="#477ca5" stroke-width="0.9"/>
<line x1="594.99" y1="54.80" x2="598.99" y2="54.80" stroke="#477ca5" stroke-width="0.9"/>
<line x1="594.99" y1="58.25" x2="598.99" y2="58.25" stroke="#477ca5" stroke-width="0.9"/>
<path d="M596.99 55.26 L598.25 57.54 L595.73 57.54Z" fill="#477ca5" stroke="#477ca5" stroke-width="0.9"/>
<line x1="613.12" y1="51.93" x2="613.12" y2="56.53" stroke="#477ca5" stroke-width="0.9"/>
<line x1="611.12" y1="51.93" x2="615.12" y2="51.93" stroke="#477ca5" stroke-width="0.9"/>
<line x1="611.12" y1="56.53" x2="615.12" y2="56.53" stroke="#477ca5" stroke-width="0.9"/>
<path d="M613.12 52.97 L614.38 55.24 L611.86 55.24Z" fill="#477ca5" stroke="#477ca5" stroke-width="0.9"/>
<line x1="629.25" y1="49.06" x2="629.25" y2="52.51" stroke="#477ca5" stroke-width="0.9"/>
<line x1="627.25" y1="49.06" x2="631.25" y2="49.06" stroke="#477ca5" stroke-width="0.9"/>
<line x1="627.25" y1="52.51" x2="631.25" y2="52.51" stroke="#477ca5" stroke-width="0.9"/>
<path d="M629.25 49.52 L630.51 51.80 L627.99 51.80Z" fill="#477ca5" stroke="#477ca5" stroke-width="0.9"/>
<line x1="645.38" y1="41.60" x2="645.38" y2="46.19" stroke="#477ca5" stroke-width="0.9"/>
<line x1="643.38" y1="41.60" x2="647.38" y2="41.60" stroke="#477ca5" stroke-width="0.9"/>
<line x1="643.38" y1="46.19" x2="647.38" y2="46.19" stroke="#477ca5" stroke-width="0.9"/>
<path d="M645.38 42.63 L646.64 44.91 L644.12 44.91Z" fill="#477ca5" stroke="#477ca5" stroke-width="0.9"/>
<line x1="661.51" y1="43.32" x2="661.51" y2="46.77" stroke="#477ca5" stroke-width="0.9"/>
<line x1="659.51" y1="43.32" x2="663.51" y2="43.32" stroke="#477ca5" stroke-width="0.9"/>
<line x1="659.51" y1="46.77" x2="663.51" y2="46.77" stroke="#477ca5" stroke-width="0.9"/>
<path d="M661.51 43.78 L662.77 46.06 L660.25 46.06Z" fill="#477ca5" stroke="#477ca5" stroke-width="0.9"/>
<polyline points="548.60,94.41 564.73,87.52 580.86,88.67 596.99,86.95 613.12,90.97 629.25,96.13 645.38,80.63 661.51,82.93" fill="none" stroke="#e8404e" stroke-width="1.05"/>
<line x1="548.60" y1="93.26" x2="548.60" y2="95.56" stroke="#e8404e" stroke-width="0.9"/>
<line x1="546.60" y1="93.26" x2="550.60" y2="93.26" stroke="#e8404e" stroke-width="0.9"/>
<line x1="546.60" y1="95.56" x2="550.60" y2="95.56" stroke="#e8404e" stroke-width="0.9"/>
<path d="M548.60 95.67 L549.87 93.40 L547.34 93.40Z" fill="#e8404e" stroke="#e8404e" stroke-width="0.9"/>
<line x1="564.73" y1="85.80" x2="564.73" y2="89.24" stroke="#e8404e" stroke-width="0.9"/>
<line x1="562.73" y1="85.80" x2="566.73" y2="85.80" stroke="#e8404e" stroke-width="0.9"/>
<line x1="562.73" y1="89.24" x2="566.73" y2="89.24" stroke="#e8404e" stroke-width="0.9"/>
<path d="M564.73 88.79 L566.00 86.51 L563.47 86.51Z" fill="#e8404e" stroke="#e8404e" stroke-width="0.9"/>
<line x1="580.86" y1="86.95" x2="580.86" y2="90.39" stroke="#e8404e" stroke-width="0.9"/>
<line x1="578.86" y1="86.95" x2="582.86" y2="86.95" stroke="#e8404e" stroke-width="0.9"/>
<line x1="578.86" y1="90.39" x2="582.86" y2="90.39" stroke="#e8404e" stroke-width="0.9"/>
<path d="M580.86 89.94 L582.12 87.66 L579.60 87.66Z" fill="#e8404e" stroke="#e8404e" stroke-width="0.9"/>
<line x1="596.99" y1="85.80" x2="596.99" y2="88.10" stroke="#e8404e" stroke-width="0.9"/>
<line x1="594.99" y1="85.80" x2="598.99" y2="85.80" stroke="#e8404e" stroke-width="0.9"/>
<line x1="594.99" y1="88.10" x2="598.99" y2="88.10" stroke="#e8404e" stroke-width="0.9"/>
<path d="M596.99 88.21 L598.25 85.94 L595.73 85.94Z" fill="#e8404e" stroke="#e8404e" stroke-width="0.9"/>
<line x1="613.12" y1="89.82" x2="613.12" y2="92.11" stroke="#e8404e" stroke-width="0.9"/>
<line x1="611.12" y1="89.82" x2="615.12" y2="89.82" stroke="#e8404e" stroke-width="0.9"/>
<line x1="611.12" y1="92.11" x2="615.12" y2="92.11" stroke="#e8404e" stroke-width="0.9"/>
<path d="M613.12 92.23 L614.38 89.95 L611.86 89.95Z" fill="#e8404e" stroke="#e8404e" stroke-width="0.9"/>
<line x1="629.25" y1="94.98" x2="629.25" y2="97.28" stroke="#e8404e" stroke-width="0.9"/>
<line x1="627.25" y1="94.98" x2="631.25" y2="94.98" stroke="#e8404e" stroke-width="0.9"/>
<line x1="627.25" y1="97.28" x2="631.25" y2="97.28" stroke="#e8404e" stroke-width="0.9"/>
<path d="M629.25 97.40 L630.51 95.12 L627.99 95.12Z" fill="#e8404e" stroke="#e8404e" stroke-width="0.9"/>
<line x1="645.38" y1="78.91" x2="645.38" y2="82.36" stroke="#e8404e" stroke-width="0.9"/>
<line x1="643.38" y1="78.91" x2="647.38" y2="78.91" stroke="#e8404e" stroke-width="0.9"/>
<line x1="643.38" y1="82.36" x2="647.38" y2="82.36" stroke="#e8404e" stroke-width="0.9"/>
<path d="M645.38 81.90 L646.64 79.62 L644.12 79.62Z" fill="#e8404e" stroke="#e8404e" stroke-width="0.9"/>
<line x1="661.51" y1="81.78" x2="661.51" y2="84.08" stroke="#e8404e" stroke-width="0.9"/>
<line x1="659.51" y1="81.78" x2="663.51" y2="81.78" stroke="#e8404e" stroke-width="0.9"/>
<line x1="659.51" y1="84.08" x2="663.51" y2="84.08" stroke="#e8404e" stroke-width="0.9"/>
<path d="M661.51 84.20 L662.77 81.92 L660.25 81.92Z" fill="#e8404e" stroke="#e8404e" stroke-width="0.9"/>
<polyline points="548.60,94.41 564.73,89.24 580.86,94.98 596.99,88.67 613.12,81.21 629.25,95.56 645.38,86.37 661.51,84.08" fill="none" stroke="#1f375a" stroke-width="1.05"/>
<line x1="548.60" y1="93.84" x2="548.60" y2="94.98" stroke="#1f375a" stroke-width="0.9"/>
<line x1="546.60" y1="93.84" x2="550.60" y2="93.84" stroke="#1f375a" stroke-width="0.9"/>
<line x1="546.60" y1="94.98" x2="550.60" y2="94.98" stroke="#1f375a" stroke-width="0.9"/>
<rect x="547.45" y="93.26" width="2.30" height="2.30" fill="#1f375a" stroke="#1f375a" stroke-width="0.9"/>
<line x1="564.73" y1="88.67" x2="564.73" y2="89.82" stroke="#1f375a" stroke-width="0.9"/>
<line x1="562.73" y1="88.67" x2="566.73" y2="88.67" stroke="#1f375a" stroke-width="0.9"/>
<line x1="562.73" y1="89.82" x2="566.73" y2="89.82" stroke="#1f375a" stroke-width="0.9"/>
<rect x="563.58" y="88.09" width="2.30" height="2.30" fill="#1f375a" stroke="#1f375a" stroke-width="0.9"/>
<line x1="580.86" y1="94.41" x2="580.86" y2="95.56" stroke="#1f375a" stroke-width="0.9"/>
<line x1="578.86" y1="94.41" x2="582.86" y2="94.41" stroke="#1f375a" stroke-width="0.9"/>
<line x1="578.86" y1="95.56" x2="582.86" y2="95.56" stroke="#1f375a" stroke-width="0.9"/>
<rect x="579.71" y="93.83" width="2.30" height="2.30" fill="#1f375a" stroke="#1f375a" stroke-width="0.9"/>
<line x1="596.99" y1="88.10" x2="596.99" y2="89.24" stroke="#1f375a" stroke-width="0.9"/>
<line x1="594.99" y1="88.10" x2="598.99" y2="88.10" stroke="#1f375a" stroke-width="0.9"/>
<line x1="594.99" y1="89.24" x2="598.99" y2="89.24" stroke="#1f375a" stroke-width="0.9"/>
<rect x="595.84" y="87.52" width="2.30" height="2.30" fill="#1f375a" stroke="#1f375a" stroke-width="0.9"/>
<line x1="613.12" y1="80.06" x2="613.12" y2="82.36" stroke="#1f375a" stroke-width="0.9"/>
<line x1="611.12" y1="80.06" x2="615.12" y2="80.06" stroke="#1f375a" stroke-width="0.9"/>
<line x1="611.12" y1="82.36" x2="615.12" y2="82.36" stroke="#1f375a" stroke-width="0.9"/>
<rect x="611.97" y="80.06" width="2.30" height="2.30" fill="#1f375a" stroke="#1f375a" stroke-width="0.9"/>
<line x1="629.25" y1="94.98" x2="629.25" y2="96.13" stroke="#1f375a" stroke-width="0.9"/>
<line x1="627.25" y1="94.98" x2="631.25" y2="94.98" stroke="#1f375a" stroke-width="0.9"/>
<line x1="627.25" y1="96.13" x2="631.25" y2="96.13" stroke="#1f375a" stroke-width="0.9"/>
<rect x="628.10" y="94.41" width="2.30" height="2.30" fill="#1f375a" stroke="#1f375a" stroke-width="0.9"/>
<line x1="645.38" y1="85.80" x2="645.38" y2="86.95" stroke="#1f375a" stroke-width="0.9"/>
<line x1="643.38" y1="85.80" x2="647.38" y2="85.80" stroke="#1f375a" stroke-width="0.9"/>
<line x1="643.38" y1="86.95" x2="647.38" y2="86.95" stroke="#1f375a" stroke-width="0.9"/>
<rect x="644.23" y="85.22" width="2.30" height="2.30" fill="#1f375a" stroke="#1f375a" stroke-width="0.9"/>
<line x1="661.51" y1="83.50" x2="661.51" y2="84.65" stroke="#1f375a" stroke-width="0.9"/>
<line x1="659.51" y1="83.50" x2="663.51" y2="83.50" stroke="#1f375a" stroke-width="0.9"/>
<line x1="659.51" y1="84.65" x2="663.51" y2="84.65" stroke="#1f375a" stroke-width="0.9"/>
<rect x="660.36" y="82.93" width="2.30" height="2.30" fill="#1f375a" stroke="#1f375a" stroke-width="0.9"/>
<line x1="41.80" y1="619.60" x2="62.20" y2="619.60" stroke="#9fd3d6" stroke-width="1.0"/>
<circle cx="52.00" cy="619.60" r="1.90" fill="#fff" stroke="#9fd3d6" stroke-width="0.9"/>
<line x1="124.20" y1="619.60" x2="145.00" y2="619.60" stroke="#477ca5" stroke-width="1.0"/>
<path d="M134.60 617.51 L136.69 621.27 L132.51 621.27Z" fill="#fff" stroke="#477ca5" stroke-width="0.9"/>
<line x1="213.40" y1="619.60" x2="234.30" y2="619.60" stroke="#e8404e" stroke-width="1.0"/>
<path d="M223.85 621.69 L225.94 617.93 L221.76 617.93Z" fill="#fff" stroke="#e8404e" stroke-width="0.9"/>
<line x1="296.60" y1="619.60" x2="316.40" y2="619.60" stroke="#1f375a" stroke-width="1.0"/>
<rect x="304.60" y="617.70" width="3.80" height="3.80" fill="#fff" stroke="#1f375a" stroke-width="0.9"/>
<line x1="54.70" y1="640.80" x2="54.70" y2="727.20" stroke="#111" stroke-width="1.2"/>
<line x1="54.20" y1="726.70" x2="171.40" y2="726.70" stroke="#111" stroke-width="1.2"/>
<line x1="50.10" y1="726.70" x2="54.70" y2="726.70" stroke="#111" stroke-width="1.1"/>
<line x1="50.10" y1="698.23" x2="54.70" y2="698.23" stroke="#111" stroke-width="1.1"/>
<line x1="50.10" y1="669.77" x2="54.70" y2="669.77" stroke="#111" stroke-width="1.1"/>
<line x1="50.10" y1="641.30" x2="54.70" y2="641.30" stroke="#111" stroke-width="1.1"/>
<line x1="62.70" y1="726.70" x2="62.70" y2="731.30" stroke="#111" stroke-width="1.1"/>
<line x1="79.50" y1="726.70" x2="79.50" y2="731.30" stroke="#111" stroke-width="1.1"/>
<line x1="96.30" y1="726.70" x2="96.30" y2="731.30" stroke="#111" stroke-width="1.1"/>
<line x1="113.10" y1="726.70" x2="113.10" y2="731.30" stroke="#111" stroke-width="1.1"/>
<line x1="129.90" y1="726.70" x2="129.90" y2="731.30" stroke="#111" stroke-width="1.1"/>
<line x1="146.70" y1="726.70" x2="146.70" y2="731.30" stroke="#111" stroke-width="1.1"/>
<line x1="163.50" y1="726.70" x2="163.50" y2="731.30" stroke="#111" stroke-width="1.1"/>
<polyline points="62.70,715.31 79.50,666.92 96.30,669.77 113.10,667.49 129.90,664.07 146.70,655.53 163.50,656.10" fill="none" stroke="#9fd3d6" stroke-width="1.05"/>
<line x1="62.70" y1="714.17" x2="62.70" y2="716.45" stroke="#9fd3d6" stroke-width="0.9"/>
<line x1="60.70" y1="714.17" x2="64.70" y2="714.17" stroke="#9fd3d6" stroke-width="0.9"/>
<line x1="60.70" y1="716.45" x2="64.70" y2="716.45" stroke="#9fd3d6" stroke-width="0.9"/>
<circle cx="62.70" cy="715.31" r="1.15" fill="#9fd3d6" stroke="#9fd3d6" stroke-width="0.9"/>
<line x1="79.50" y1="662.93" x2="79.50" y2="670.91" stroke="#9fd3d6" stroke-width="0.9"/>
<line x1="77.50" y1="662.93" x2="81.50" y2="662.93" stroke="#9fd3d6" stroke-width="0.9"/>
<line x1="77.50" y1="670.91" x2="81.50" y2="670.91" stroke="#9fd3d6" stroke-width="0.9"/>
<circle cx="79.50" cy="666.92" r="1.15" fill="#9fd3d6" stroke="#9fd3d6" stroke-width="0.9"/>
<line x1="96.30" y1="668.06" x2="96.30" y2="671.47" stroke="#9fd3d6" stroke-width="0.9"/>
<line x1="94.30" y1="668.06" x2="98.30" y2="668.06" stroke="#9fd3d6" stroke-width="0.9"/>
<line x1="94.30" y1="671.47" x2="98.30" y2="671.47" stroke="#9fd3d6" stroke-width="0.9"/>
<circle cx="96.30" cy="669.77" r="1.15" fill="#9fd3d6" stroke="#9fd3d6" stroke-width="0.9"/>
<line x1="113.10" y1="665.78" x2="113.10" y2="669.20" stroke="#9fd3d6" stroke-width="0.9"/>
<line x1="111.10" y1="665.78" x2="115.10" y2="665.78" stroke="#9fd3d6" stroke-width="0.9"/>
<line x1="111.10" y1="669.20" x2="115.10" y2="669.20" stroke="#9fd3d6" stroke-width="0.9"/>
<circle cx="113.10" cy="667.49" r="1.15" fill="#9fd3d6" stroke="#9fd3d6" stroke-width="0.9"/>
<line x1="129.90" y1="661.23" x2="129.90" y2="666.92" stroke="#9fd3d6" stroke-width="0.9"/>
<line x1="127.90" y1="661.23" x2="131.90" y2="661.23" stroke="#9fd3d6" stroke-width="0.9"/>
<line x1="127.90" y1="666.92" x2="131.90" y2="666.92" stroke="#9fd3d6" stroke-width="0.9"/>
<circle cx="129.90" cy="664.07" r="1.15" fill="#9fd3d6" stroke="#9fd3d6" stroke-width="0.9"/>
<line x1="146.70" y1="653.83" x2="146.70" y2="657.24" stroke="#9fd3d6" stroke-width="0.9"/>
<line x1="144.70" y1="653.83" x2="148.70" y2="653.83" stroke="#9fd3d6" stroke-width="0.9"/>
<line x1="144.70" y1="657.24" x2="148.70" y2="657.24" stroke="#9fd3d6" stroke-width="0.9"/>
<circle cx="146.70" cy="655.53" r="1.15" fill="#9fd3d6" stroke="#9fd3d6" stroke-width="0.9"/>
<line x1="163.50" y1="653.83" x2="163.50" y2="658.38" stroke="#9fd3d6" stroke-width="0.9"/>
<line x1="161.50" y1="653.83" x2="165.50" y2="653.83" stroke="#9fd3d6" stroke-width="0.9"/>
<line x1="161.50" y1="658.38" x2="165.50" y2="658.38" stroke="#9fd3d6" stroke-width="0.9"/>
<circle cx="163.50" cy="656.10" r="1.15" fill="#9fd3d6" stroke="#9fd3d6" stroke-width="0.9"/>
<polyline points="62.70,716.45 79.50,677.17 96.30,673.18 113.10,661.80 129.90,664.64 146.70,671.47 163.50,675.46" fill="none" stroke="#477ca5" stroke-width="1.05"/>
<line x1="62.70" y1="715.31" x2="62.70" y2="717.59" stroke="#477ca5" stroke-width="0.9"/>
<line x1="60.70" y1="715.31" x2="64.70" y2="715.31" stroke="#477ca5" stroke-width="0.9"/>
<line x1="60.70" y1="717.59" x2="64.70" y2="717.59" stroke="#477ca5" stroke-width="0.9"/>
<path d="M62.70 715.19 L63.97 717.46 L61.44 717.46Z" fill="#477ca5" stroke="#477ca5" stroke-width="0.9"/>
<line x1="79.50" y1="674.32" x2="79.50" y2="680.01" stroke="#477ca5" stroke-width="0.9"/>
<line x1="77.50" y1="674.32" x2="81.50" y2="674.32" stroke="#477ca5" stroke-width="0.9"/>
<line x1="77.50" y1="680.01" x2="81.50" y2="680.01" stroke="#477ca5" stroke-width="0.9"/>
<path d="M79.50 675.90 L80.77 678.18 L78.23 678.18Z" fill="#477ca5" stroke="#477ca5" stroke-width="0.9"/>
<line x1="96.30" y1="669.77" x2="96.30" y2="676.60" stroke="#477ca5" stroke-width="0.9"/>
<line x1="94.30" y1="669.77" x2="98.30" y2="669.77" stroke="#477ca5" stroke-width="0.9"/>
<line x1="94.30" y1="676.60" x2="98.30" y2="676.60" stroke="#477ca5" stroke-width="0.9"/>
<path d="M96.30 671.92 L97.57 674.19 L95.04 674.19Z" fill="#477ca5" stroke="#477ca5" stroke-width="0.9"/>
<line x1="113.10" y1="657.24" x2="113.10" y2="666.35" stroke="#477ca5" stroke-width="0.9"/>
<line x1="111.10" y1="657.24" x2="115.10" y2="657.24" stroke="#477ca5" stroke-width="0.9"/>
<line x1="111.10" y1="666.35" x2="115.10" y2="666.35" stroke="#477ca5" stroke-width="0.9"/>
<path d="M113.10 660.53 L114.37 662.81 L111.84 662.81Z" fill="#477ca5" stroke="#477ca5" stroke-width="0.9"/>
<line x1="129.90" y1="660.66" x2="129.90" y2="668.63" stroke="#477ca5" stroke-width="0.9"/>
<line x1="127.90" y1="660.66" x2="131.90" y2="660.66" stroke="#477ca5" stroke-width="0.9"/>
<line x1="127.90" y1="668.63" x2="131.90" y2="668.63" stroke="#477ca5" stroke-width="0.9"/>
<path d="M129.90 663.38 L131.16 665.65 L128.64 665.65Z" fill="#477ca5" stroke="#477ca5" stroke-width="0.9"/>
<line x1="146.70" y1="669.20" x2="146.70" y2="673.75" stroke="#477ca5" stroke-width="0.9"/>
<line x1="144.70" y1="669.20" x2="148.70" y2="669.20" stroke="#477ca5" stroke-width="0.9"/>
<line x1="144.70" y1="673.75" x2="148.70" y2="673.75" stroke="#477ca5" stroke-width="0.9"/>
<path d="M146.70 670.21 L147.96 672.49 L145.44 672.49Z" fill="#477ca5" stroke="#477ca5" stroke-width="0.9"/>
<line x1="163.50" y1="672.61" x2="163.50" y2="678.31" stroke="#477ca5" stroke-width="0.9"/>
<line x1="161.50" y1="672.61" x2="165.50" y2="672.61" stroke="#477ca5" stroke-width="0.9"/>
<line x1="161.50" y1="678.31" x2="165.50" y2="678.31" stroke="#477ca5" stroke-width="0.9"/>
<path d="M163.50 674.20 L164.76 676.47 L162.24 676.47Z" fill="#477ca5" stroke="#477ca5" stroke-width="0.9"/>
<polyline points="62.70,716.45 79.50,680.01 96.30,691.40 113.10,697.09 129.90,699.94 146.70,699.94 163.50,701.08" fill="none" stroke="#e8404e" stroke-width="1.05"/>
<line x1="62.70" y1="715.88" x2="62.70" y2="717.02" stroke="#e8404e" stroke-width="0.9"/>
<line x1="60.70" y1="715.88" x2="64.70" y2="715.88" stroke="#e8404e" stroke-width="0.9"/>
<line x1="60.70" y1="717.02" x2="64.70" y2="717.02" stroke="#e8404e" stroke-width="0.9"/>
<path d="M62.70 717.72 L63.97 715.44 L61.44 715.44Z" fill="#e8404e" stroke="#e8404e" stroke-width="0.9"/>
<line x1="79.50" y1="678.31" x2="79.50" y2="681.72" stroke="#e8404e" stroke-width="0.9"/>
<line x1="77.50" y1="678.31" x2="81.50" y2="678.31" stroke="#e8404e" stroke-width="0.9"/>
<line x1="77.50" y1="681.72" x2="81.50" y2="681.72" stroke="#e8404e" stroke-width="0.9"/>
<path d="M79.50 681.28 L80.77 679.00 L78.23 679.00Z" fill="#e8404e" stroke="#e8404e" stroke-width="0.9"/>
<line x1="96.30" y1="689.69" x2="96.30" y2="693.11" stroke="#e8404e" stroke-width="0.9"/>
<line x1="94.30" y1="689.69" x2="98.30" y2="689.69" stroke="#e8404e" stroke-width="0.9"/>
<line x1="94.30" y1="693.11" x2="98.30" y2="693.11" stroke="#e8404e" stroke-width="0.9"/>
<path d="M96.30 692.67 L97.57 690.39 L95.04 690.39Z" fill="#e8404e" stroke="#e8404e" stroke-width="0.9"/>
<line x1="113.10" y1="695.96" x2="113.10" y2="698.23" stroke="#e8404e" stroke-width="0.9"/>
<line x1="111.10" y1="695.96" x2="115.10" y2="695.96" stroke="#e8404e" stroke-width="0.9"/>
<line x1="111.10" y1="698.23" x2="115.10" y2="698.23" stroke="#e8404e" stroke-width="0.9"/>
<path d="M113.10 698.36 L114.37 696.08 L111.84 696.08Z" fill="#e8404e" stroke="#e8404e" stroke-width="0.9"/>
<line x1="129.90" y1="697.66" x2="129.90" y2="702.22" stroke="#e8404e" stroke-width="0.9"/>
<line x1="127.90" y1="697.66" x2="131.90" y2="697.66" stroke="#e8404e" stroke-width="0.9"/>
<line x1="127.90" y1="702.22" x2="131.90" y2="702.22" stroke="#e8404e" stroke-width="0.9"/>
<path d="M129.90 701.21 L131.16 698.93 L128.64 698.93Z" fill="#e8404e" stroke="#e8404e" stroke-width="0.9"/>
<line x1="146.70" y1="698.23" x2="146.70" y2="701.65" stroke="#e8404e" stroke-width="0.9"/>
<line x1="144.70" y1="698.23" x2="148.70" y2="698.23" stroke="#e8404e" stroke-width="0.9"/>
<line x1="144.70" y1="701.65" x2="148.70" y2="701.65" stroke="#e8404e" stroke-width="0.9"/>
<path d="M146.70 701.21 L147.96 698.93 L145.44 698.93Z" fill="#e8404e" stroke="#e8404e" stroke-width="0.9"/>
<line x1="163.50" y1="699.94" x2="163.50" y2="702.22" stroke="#e8404e" stroke-width="0.9"/>
<line x1="161.50" y1="699.94" x2="165.50" y2="699.94" stroke="#e8404e" stroke-width="0.9"/>
<line x1="161.50" y1="702.22" x2="165.50" y2="702.22" stroke="#e8404e" stroke-width="0.9"/>
<path d="M163.50 702.35 L164.76 700.07 L162.24 700.07Z" fill="#e8404e" stroke="#e8404e" stroke-width="0.9"/>
<polyline points="62.70,716.45 79.50,708.48 96.30,701.65 113.10,706.20 129.90,709.05 146.70,708.48 163.50,708.48" fill="none" stroke="#1f375a" stroke-width="1.05"/>
<line x1="62.70" y1="715.88" x2="62.70" y2="717.02" stroke="#1f375a" stroke-width="0.9"/>
<line x1="60.70" y1="715.88" x2="64.70" y2="715.88" stroke="#1f375a" stroke-width="0.9"/>
<line x1="60.70" y1="717.02" x2="64.70" y2="717.02" stroke="#1f375a" stroke-width="0.9"/>
<rect x="61.55" y="715.30" width="2.30" height="2.30" fill="#1f375a" stroke="#1f375a" stroke-width="0.9"/>
<line x1="79.50" y1="706.77" x2="79.50" y2="710.19" stroke="#1f375a" stroke-width="0.9"/>
<line x1="77.50" y1="706.77" x2="81.50" y2="706.77" stroke="#1f375a" stroke-width="0.9"/>
<line x1="77.50" y1="710.19" x2="81.50" y2="710.19" stroke="#1f375a" stroke-width="0.9"/>
<rect x="78.35" y="707.33" width="2.30" height="2.30" fill="#1f375a" stroke="#1f375a" stroke-width="0.9"/>
<line x1="96.30" y1="700.51" x2="96.30" y2="702.79" stroke="#1f375a" stroke-width="0.9"/>
<line x1="94.30" y1="700.51" x2="98.30" y2="700.51" stroke="#1f375a" stroke-width="0.9"/>
<line x1="94.30" y1="702.79" x2="98.30" y2="702.79" stroke="#1f375a" stroke-width="0.9"/>
<rect x="95.15" y="700.50" width="2.30" height="2.30" fill="#1f375a" stroke="#1f375a" stroke-width="0.9"/>
<line x1="113.10" y1="705.07" x2="113.10" y2="707.34" stroke="#1f375a" stroke-width="0.9"/>
<line x1="111.10" y1="705.07" x2="115.10" y2="705.07" stroke="#1f375a" stroke-width="0.9"/>
<line x1="111.10" y1="707.34" x2="115.10" y2="707.34" stroke="#1f375a" stroke-width="0.9"/>
<rect x="111.95" y="705.05" width="2.30" height="2.30" fill="#1f375a" stroke="#1f375a" stroke-width="0.9"/>
<line x1="129.90" y1="708.48" x2="129.90" y2="709.62" stroke="#1f375a" stroke-width="0.9"/>
<line x1="127.90" y1="708.48" x2="131.90" y2="708.48" stroke="#1f375a" stroke-width="0.9"/>
<line x1="127.90" y1="709.62" x2="131.90" y2="709.62" stroke="#1f375a" stroke-width="0.9"/>
<rect x="128.75" y="707.90" width="2.30" height="2.30" fill="#1f375a" stroke="#1f375a" stroke-width="0.9"/>
<line x1="146.70" y1="707.91" x2="146.70" y2="709.05" stroke="#1f375a" stroke-width="0.9"/>
<line x1="144.70" y1="707.91" x2="148.70" y2="707.91" stroke="#1f375a" stroke-width="0.9"/>
<line x1="144.70" y1="709.05" x2="148.70" y2="709.05" stroke="#1f375a" stroke-width="0.9"/>
<rect x="145.55" y="707.33" width="2.30" height="2.30" fill="#1f375a" stroke="#1f375a" stroke-width="0.9"/>
<line x1="163.50" y1="707.91" x2="163.50" y2="709.05" stroke="#1f375a" stroke-width="0.9"/>
<line x1="161.50" y1="707.91" x2="165.50" y2="707.91" stroke="#1f375a" stroke-width="0.9"/>
<line x1="161.50" y1="709.05" x2="165.50" y2="709.05" stroke="#1f375a" stroke-width="0.9"/>
<rect x="162.35" y="707.33" width="2.30" height="2.30" fill="#1f375a" stroke="#1f375a" stroke-width="0.9"/>
<line x1="202.30" y1="638.00" x2="202.30" y2="727.20" stroke="#111" stroke-width="1.2"/>
<line x1="201.80" y1="726.70" x2="321.60" y2="726.70" stroke="#111" stroke-width="1.2"/>
<line x1="197.70" y1="726.70" x2="202.30" y2="726.70" stroke="#111" stroke-width="1.1"/>
<line x1="197.70" y1="697.30" x2="202.30" y2="697.30" stroke="#111" stroke-width="1.1"/>
<line x1="197.70" y1="667.90" x2="202.30" y2="667.90" stroke="#111" stroke-width="1.1"/>
<line x1="197.70" y1="638.50" x2="202.30" y2="638.50" stroke="#111" stroke-width="1.1"/>
<line x1="210.60" y1="726.70" x2="210.60" y2="731.30" stroke="#111" stroke-width="1.1"/>
<line x1="227.95" y1="726.70" x2="227.95" y2="731.30" stroke="#111" stroke-width="1.1"/>
<line x1="245.30" y1="726.70" x2="245.30" y2="731.30" stroke="#111" stroke-width="1.1"/>
<line x1="262.65" y1="726.70" x2="262.65" y2="731.30" stroke="#111" stroke-width="1.1"/>
<line x1="280.00" y1="726.70" x2="280.00" y2="731.30" stroke="#111" stroke-width="1.1"/>
<line x1="297.35" y1="726.70" x2="297.35" y2="731.30" stroke="#111" stroke-width="1.1"/>
<line x1="314.70" y1="726.70" x2="314.70" y2="731.30" stroke="#111" stroke-width="1.1"/>
<polyline points="210.60,697.30 227.95,664.96 245.30,657.90 262.65,661.43 280.00,658.49 297.35,653.20 314.70,662.02" fill="none" stroke="#9fd3d6" stroke-width="1.05"/>
<line x1="210.60" y1="695.54" x2="210.60" y2="699.06" stroke="#9fd3d6" stroke-width="0.9"/>
<line x1="208.60" y1="695.54" x2="212.60" y2="695.54" stroke="#9fd3d6" stroke-width="0.9"/>
<line x1="208.60" y1="699.06" x2="212.60" y2="699.06" stroke="#9fd3d6" stroke-width="0.9"/>
<circle cx="210.60" cy="697.30" r="1.15" fill="#9fd3d6" stroke="#9fd3d6" stroke-width="0.9"/>
<line x1="227.95" y1="661.43" x2="227.95" y2="668.49" stroke="#9fd3d6" stroke-width="0.9"/>
<line x1="225.95" y1="661.43" x2="229.95" y2="661.43" stroke="#9fd3d6" stroke-width="0.9"/>
<line x1="225.95" y1="668.49" x2="229.95" y2="668.49" stroke="#9fd3d6" stroke-width="0.9"/>
<circle cx="227.95" cy="664.96" r="1.15" fill="#9fd3d6" stroke="#9fd3d6" stroke-width="0.9"/>
<line x1="245.30" y1="654.96" x2="245.30" y2="660.84" stroke="#9fd3d6" stroke-width="0.9"/>
<line x1="243.30" y1="654.96" x2="247.30" y2="654.96" stroke="#9fd3d6" stroke-width="0.9"/>
<line x1="243.30" y1="660.84" x2="247.30" y2="660.84" stroke="#9fd3d6" stroke-width="0.9"/>
<circle cx="245.30" cy="657.90" r="1.15" fill="#9fd3d6" stroke="#9fd3d6" stroke-width="0.9"/>
<line x1="262.65" y1="659.08" x2="262.65" y2="663.78" stroke="#9fd3d6" stroke-width="0.9"/>
<line x1="260.65" y1="659.08" x2="264.65" y2="659.08" stroke="#9fd3d6" stroke-width="0.9"/>
<line x1="260.65" y1="663.78" x2="264.65" y2="663.78" stroke="#9fd3d6" stroke-width="0.9"/>
<circle cx="262.65" cy="661.43" r="1.15" fill="#9fd3d6" stroke="#9fd3d6" stroke-width="0.9"/>
<line x1="280.00" y1="655.55" x2="280.00" y2="661.43" stroke="#9fd3d6" stroke-width="0.9"/>
<line x1="278.00" y1="655.55" x2="282.00" y2="655.55" stroke="#9fd3d6" stroke-width="0.9"/>
<line x1="278.00" y1="661.43" x2="282.00" y2="661.43" stroke="#9fd3d6" stroke-width="0.9"/>
<circle cx="280.00" cy="658.49" r="1.15" fill="#9fd3d6" stroke="#9fd3d6" stroke-width="0.9"/>
<line x1="297.35" y1="650.85" x2="297.35" y2="655.55" stroke="#9fd3d6" stroke-width="0.9"/>
<line x1="295.35" y1="650.85" x2="299.35" y2="650.85" stroke="#9fd3d6" stroke-width="0.9"/>
<line x1="295.35" y1="655.55" x2="299.35" y2="655.55" stroke="#9fd3d6" stroke-width="0.9"/>
<circle cx="297.35" cy="653.20" r="1.15" fill="#9fd3d6" stroke="#9fd3d6" stroke-width="0.9"/>
<line x1="314.70" y1="660.26" x2="314.70" y2="663.78" stroke="#9fd3d6" stroke-width="0.9"/>
<line x1="312.70" y1="660.26" x2="316.70" y2="660.26" stroke="#9fd3d6" stroke-width="0.9"/>
<line x1="312.70" y1="663.78" x2="316.70" y2="663.78" stroke="#9fd3d6" stroke-width="0.9"/>
<circle cx="314.70" cy="662.02" r="1.15" fill="#9fd3d6" stroke="#9fd3d6" stroke-width="0.9"/>
<polyline points="210.60,699.65 227.95,664.37 245.30,654.96 262.65,653.20 280.00,657.90 297.35,660.26 314.70,665.55" fill="none" stroke="#477ca5" stroke-width="1.05"/>
<line x1="210.60" y1="697.89" x2="210.60" y2="701.42" stroke="#477ca5" stroke-width="0.9"/>
<line x1="208.60" y1="697.89" x2="212.60" y2="697.89" stroke="#477ca5" stroke-width="0.9"/>
<line x1="208.60" y1="701.42" x2="212.60" y2="701.42" stroke="#477ca5" stroke-width="0.9"/>
<path d="M210.60 698.39 L211.86 700.66 L209.34 700.66Z" fill="#477ca5" stroke="#477ca5" stroke-width="0.9"/>
<line x1="227.95" y1="661.43" x2="227.95" y2="667.31" stroke="#477ca5" stroke-width="0.9"/>
<line x1="225.95" y1="661.43" x2="229.95" y2="661.43" stroke="#477ca5" stroke-width="0.9"/>
<line x1="225.95" y1="667.31" x2="229.95" y2="667.31" stroke="#477ca5" stroke-width="0.9"/>
<path d="M227.95 663.11 L229.21 665.38 L226.69 665.38Z" fill="#477ca5" stroke="#477ca5" stroke-width="0.9"/>
<line x1="245.30" y1="650.85" x2="245.30" y2="659.08" stroke="#477ca5" stroke-width="0.9"/>
<line x1="243.30" y1="650.85" x2="247.30" y2="650.85" stroke="#477ca5" stroke-width="0.9"/>
<line x1="243.30" y1="659.08" x2="247.30" y2="659.08" stroke="#477ca5" stroke-width="0.9"/>
<path d="M245.30 653.70 L246.56 655.98 L244.04 655.98Z" fill="#477ca5" stroke="#477ca5" stroke-width="0.9"/>
<line x1="262.65" y1="649.67" x2="262.65" y2="656.73" stroke="#477ca5" stroke-width="0.9"/>
<line x1="260.65" y1="649.67" x2="264.65" y2="649.67" stroke="#477ca5" stroke-width="0.9"/>
<line x1="260.65" y1="656.73" x2="264.65" y2="656.73" stroke="#477ca5" stroke-width="0.9"/>
<path d="M262.65 651.94 L263.91 654.21 L261.38 654.21Z" fill="#477ca5" stroke="#477ca5" stroke-width="0.9"/>
<line x1="280.00" y1="653.79" x2="280.00" y2="662.02" stroke="#477ca5" stroke-width="0.9"/>
<line x1="278.00" y1="653.79" x2="282.00" y2="653.79" stroke="#477ca5" stroke-width="0.9"/>
<line x1="278.00" y1="662.02" x2="282.00" y2="662.02" stroke="#477ca5" stroke-width="0.9"/>
<path d="M280.00 656.64 L281.26 658.92 L278.74 658.92Z" fill="#477ca5" stroke="#477ca5" stroke-width="0.9"/>
<line x1="297.35" y1="658.49" x2="297.35" y2="662.02" stroke="#477ca5" stroke-width="0.9"/>
<line x1="295.35" y1="658.49" x2="299.35" y2="658.49" stroke="#477ca5" stroke-width="0.9"/>
<line x1="295.35" y1="662.02" x2="299.35" y2="662.02" stroke="#477ca5" stroke-width="0.9"/>
<path d="M297.35 658.99 L298.62 661.27 L296.09 661.27Z" fill="#477ca5" stroke="#477ca5" stroke-width="0.9"/>
<line x1="314.70" y1="663.78" x2="314.70" y2="667.31" stroke="#477ca5" stroke-width="0.9"/>
<line x1="312.70" y1="663.78" x2="316.70" y2="663.78" stroke="#477ca5" stroke-width="0.9"/>
<line x1="312.70" y1="667.31" x2="316.70" y2="667.31" stroke="#477ca5" stroke-width="0.9"/>
<path d="M314.70 664.28 L315.96 666.56 L313.44 666.56Z" fill="#477ca5" stroke="#477ca5" stroke-width="0.9"/>
<polyline points="210.60,699.65 227.95,679.66 245.30,680.84 262.65,692.60 280.00,696.71 297.35,700.83 314.70,700.24" fill="none" stroke="#e8404e" stroke-width="1.05"/>
<line x1="210.60" y1="698.48" x2="210.60" y2="700.83" stroke="#e8404e" stroke-width="0.9"/>
<line x1="208.60" y1="698.48" x2="212.60" y2="698.48" stroke="#e8404e" stroke-width="0.9"/>
<line x1="208.60" y1="700.83" x2="212.60" y2="700.83" stroke="#e8404e" stroke-width="0.9"/>
<path d="M210.60 700.92 L211.86 698.64 L209.34 698.64Z" fill="#e8404e" stroke="#e8404e" stroke-width="0.9"/>
<line x1="227.95" y1="677.31" x2="227.95" y2="682.01" stroke="#e8404e" stroke-width="0.9"/>
<line x1="225.95" y1="677.31" x2="229.95" y2="677.31" stroke="#e8404e" stroke-width="0.9"/>
<line x1="225.95" y1="682.01" x2="229.95" y2="682.01" stroke="#e8404e" stroke-width="0.9"/>
<path d="M227.95 680.92 L229.21 678.65 L226.69 678.65Z" fill="#e8404e" stroke="#e8404e" stroke-width="0.9"/>
<line x1="245.30" y1="677.90" x2="245.30" y2="683.78" stroke="#e8404e" stroke-width="0.9"/>
<line x1="243.30" y1="677.90" x2="247.30" y2="677.90" stroke="#e8404e" stroke-width="0.9"/>
<line x1="243.30" y1="683.78" x2="247.30" y2="683.78" stroke="#e8404e" stroke-width="0.9"/>
<path d="M245.30 682.10 L246.56 679.82 L244.04 679.82Z" fill="#e8404e" stroke="#e8404e" stroke-width="0.9"/>
<line x1="262.65" y1="691.42" x2="262.65" y2="693.77" stroke="#e8404e" stroke-width="0.9"/>
<line x1="260.65" y1="691.42" x2="264.65" y2="691.42" stroke="#e8404e" stroke-width="0.9"/>
<line x1="260.65" y1="693.77" x2="264.65" y2="693.77" stroke="#e8404e" stroke-width="0.9"/>
<path d="M262.65 693.86 L263.91 691.58 L261.38 691.58Z" fill="#e8404e" stroke="#e8404e" stroke-width="0.9"/>
<line x1="280.00" y1="694.95" x2="280.00" y2="698.48" stroke="#e8404e" stroke-width="0.9"/>
<line x1="278.00" y1="694.95" x2="282.00" y2="694.95" stroke="#e8404e" stroke-width="0.9"/>
<line x1="278.00" y1="698.48" x2="282.00" y2="698.48" stroke="#e8404e" stroke-width="0.9"/>
<path d="M280.00 697.98 L281.26 695.70 L278.74 695.70Z" fill="#e8404e" stroke="#e8404e" stroke-width="0.9"/>
<line x1="297.35" y1="700.24" x2="297.35" y2="701.42" stroke="#e8404e" stroke-width="0.9"/>
<line x1="295.35" y1="700.24" x2="299.35" y2="700.24" stroke="#e8404e" stroke-width="0.9"/>
<line x1="295.35" y1="701.42" x2="299.35" y2="701.42" stroke="#e8404e" stroke-width="0.9"/>
<path d="M297.35 702.09 L298.62 699.82 L296.09 699.82Z" fill="#e8404e" stroke="#e8404e" stroke-width="0.9"/>
<line x1="314.70" y1="699.06" x2="314.70" y2="701.42" stroke="#e8404e" stroke-width="0.9"/>
<line x1="312.70" y1="699.06" x2="316.70" y2="699.06" stroke="#e8404e" stroke-width="0.9"/>
<line x1="312.70" y1="701.42" x2="316.70" y2="701.42" stroke="#e8404e" stroke-width="0.9"/>
<path d="M314.70 701.50 L315.96 699.23 L313.44 699.23Z" fill="#e8404e" stroke="#e8404e" stroke-width="0.9"/>
<polyline points="210.60,702.00 227.95,696.12 245.30,692.60 262.65,704.94 280.00,701.42 297.35,706.71 314.70,700.83" fill="none" stroke="#1f375a" stroke-width="1.05"/>
<line x1="210.60" y1="701.42" x2="210.60" y2="702.59" stroke="#1f375a" stroke-width="0.9"/>
<line x1="208.60" y1="701.42" x2="212.60" y2="701.42" stroke="#1f375a" stroke-width="0.9"/>
<line x1="208.60" y1="702.59" x2="212.60" y2="702.59" stroke="#1f375a" stroke-width="0.9"/>
<rect x="209.45" y="700.85" width="2.30" height="2.30" fill="#1f375a" stroke="#1f375a" stroke-width="0.9"/>
<line x1="227.95" y1="695.54" x2="227.95" y2="696.71" stroke="#1f375a" stroke-width="0.9"/>
<line x1="225.95" y1="695.54" x2="229.95" y2="695.54" stroke="#1f375a" stroke-width="0.9"/>
<line x1="225.95" y1="696.71" x2="229.95" y2="696.71" stroke="#1f375a" stroke-width="0.9"/>
<rect x="226.80" y="694.97" width="2.30" height="2.30" fill="#1f375a" stroke="#1f375a" stroke-width="0.9"/>
<line x1="245.30" y1="692.01" x2="245.30" y2="693.18" stroke="#1f375a" stroke-width="0.9"/>
<line x1="243.30" y1="692.01" x2="247.30" y2="692.01" stroke="#1f375a" stroke-width="0.9"/>
<line x1="243.30" y1="693.18" x2="247.30" y2="693.18" stroke="#1f375a" stroke-width="0.9"/>
<rect x="244.15" y="691.45" width="2.30" height="2.30" fill="#1f375a" stroke="#1f375a" stroke-width="0.9"/>
<line x1="262.65" y1="704.36" x2="262.65" y2="705.53" stroke="#1f375a" stroke-width="0.9"/>
<line x1="260.65" y1="704.36" x2="264.65" y2="704.36" stroke="#1f375a" stroke-width="0.9"/>
<line x1="260.65" y1="705.53" x2="264.65" y2="705.53" stroke="#1f375a" stroke-width="0.9"/>
<rect x="261.50" y="703.79" width="2.30" height="2.30" fill="#1f375a" stroke="#1f375a" stroke-width="0.9"/>
<line x1="280.00" y1="700.83" x2="280.00" y2="702.00" stroke="#1f375a" stroke-width="0.9"/>
<line x1="278.00" y1="700.83" x2="282.00" y2="700.83" stroke="#1f375a" stroke-width="0.9"/>
<line x1="278.00" y1="702.00" x2="282.00" y2="702.00" stroke="#1f375a" stroke-width="0.9"/>
<rect x="278.85" y="700.27" width="2.30" height="2.30" fill="#1f375a" stroke="#1f375a" stroke-width="0.9"/>
<line x1="297.35" y1="706.12" x2="297.35" y2="707.30" stroke="#1f375a" stroke-width="0.9"/>
<line x1="295.35" y1="706.12" x2="299.35" y2="706.12" stroke="#1f375a" stroke-width="0.9"/>
<line x1="295.35" y1="707.30" x2="299.35" y2="707.30" stroke="#1f375a" stroke-width="0.9"/>
<rect x="296.20" y="705.56" width="2.30" height="2.30" fill="#1f375a" stroke="#1f375a" stroke-width="0.9"/>
<line x1="314.70" y1="700.24" x2="314.70" y2="701.42" stroke="#1f375a" stroke-width="0.9"/>
<line x1="312.70" y1="700.24" x2="316.70" y2="700.24" stroke="#1f375a" stroke-width="0.9"/>
<line x1="312.70" y1="701.42" x2="316.70" y2="701.42" stroke="#1f375a" stroke-width="0.9"/>
<rect x="313.55" y="699.68" width="2.30" height="2.30" fill="#1f375a" stroke="#1f375a" stroke-width="0.9"/>
<line x1="379.70" y1="619.60" x2="400.80" y2="619.60" stroke="#9fd3d6" stroke-width="1.0"/>
<circle cx="390.25" cy="619.60" r="1.90" fill="#fff" stroke="#9fd3d6" stroke-width="0.9"/>
<line x1="456.90" y1="619.60" x2="478.00" y2="619.60" stroke="#477ca5" stroke-width="1.0"/>
<path d="M467.45 617.51 L469.54 621.27 L465.36 621.27Z" fill="#fff" stroke="#477ca5" stroke-width="0.9"/>
<line x1="541.30" y1="619.60" x2="561.50" y2="619.60" stroke="#e8404e" stroke-width="1.0"/>
<path d="M551.40 621.69 L553.49 617.93 L549.31 617.93Z" fill="#fff" stroke="#e8404e" stroke-width="0.9"/>
<line x1="620.60" y1="619.60" x2="641.60" y2="619.60" stroke="#1f375a" stroke-width="1.0"/>
<rect x="629.20" y="617.70" width="3.80" height="3.80" fill="#fff" stroke="#1f375a" stroke-width="0.9"/>
<line x1="385.40" y1="640.50" x2="385.40" y2="727.50" stroke="#111" stroke-width="1.2"/>
<line x1="384.90" y1="727.00" x2="515.00" y2="727.00" stroke="#111" stroke-width="1.2"/>
<line x1="380.80" y1="727.00" x2="385.40" y2="727.00" stroke="#111" stroke-width="1.1"/>
<line x1="380.80" y1="698.33" x2="385.40" y2="698.33" stroke="#111" stroke-width="1.1"/>
<line x1="380.80" y1="669.67" x2="385.40" y2="669.67" stroke="#111" stroke-width="1.1"/>
<line x1="380.80" y1="641.00" x2="385.40" y2="641.00" stroke="#111" stroke-width="1.1"/>
<line x1="392.60" y1="727.00" x2="392.60" y2="731.60" stroke="#111" stroke-width="1.1"/>
<line x1="408.96" y1="727.00" x2="408.96" y2="731.60" stroke="#111" stroke-width="1.1"/>
<line x1="425.32" y1="727.00" x2="425.32" y2="731.60" stroke="#111" stroke-width="1.1"/>
<line x1="441.68" y1="727.00" x2="441.68" y2="731.60" stroke="#111" stroke-width="1.1"/>
<line x1="458.04" y1="727.00" x2="458.04" y2="731.60" stroke="#111" stroke-width="1.1"/>
<line x1="474.40" y1="727.00" x2="474.40" y2="731.60" stroke="#111" stroke-width="1.1"/>
<line x1="490.76" y1="727.00" x2="490.76" y2="731.60" stroke="#111" stroke-width="1.1"/>
<line x1="507.12" y1="727.00" x2="507.12" y2="731.60" stroke="#111" stroke-width="1.1"/>
<polyline points="392.60,712.67 408.96,688.59 425.32,679.41 441.68,680.56 458.04,685.15 474.40,676.55 490.76,673.68 507.12,670.24" fill="none" stroke="#9fd3d6" stroke-width="1.05"/>
<line x1="392.60" y1="711.52" x2="392.60" y2="713.81" stroke="#9fd3d6" stroke-width="0.9"/>
<line x1="390.60" y1="711.52" x2="394.60" y2="711.52" stroke="#9fd3d6" stroke-width="0.9"/>
<line x1="390.60" y1="713.81" x2="394.60" y2="713.81" stroke="#9fd3d6" stroke-width="0.9"/>
<circle cx="392.60" cy="712.67" r="1.15" fill="#9fd3d6" stroke="#9fd3d6" stroke-width="0.9"/>
<line x1="408.96" y1="686.87" x2="408.96" y2="690.31" stroke="#9fd3d6" stroke-width="0.9"/>
<line x1="406.96" y1="686.87" x2="410.96" y2="686.87" stroke="#9fd3d6" stroke-width="0.9"/>
<line x1="406.96" y1="690.31" x2="410.96" y2="690.31" stroke="#9fd3d6" stroke-width="0.9"/>
<circle cx="408.96" cy="688.59" r="1.15" fill="#9fd3d6" stroke="#9fd3d6" stroke-width="0.9"/>
<line x1="425.32" y1="677.12" x2="425.32" y2="681.71" stroke="#9fd3d6" stroke-width="0.9"/>
<line x1="423.32" y1="677.12" x2="427.32" y2="677.12" stroke="#9fd3d6" stroke-width="0.9"/>
<line x1="423.32" y1="681.71" x2="427.32" y2="681.71" stroke="#9fd3d6" stroke-width="0.9"/>
<circle cx="425.32" cy="679.41" r="1.15" fill="#9fd3d6" stroke="#9fd3d6" stroke-width="0.9"/>
<line x1="441.68" y1="678.27" x2="441.68" y2="682.85" stroke="#9fd3d6" stroke-width="0.9"/>
<line x1="439.68" y1="678.27" x2="443.68" y2="678.27" stroke="#9fd3d6" stroke-width="0.9"/>
<line x1="439.68" y1="682.85" x2="443.68" y2="682.85" stroke="#9fd3d6" stroke-width="0.9"/>
<circle cx="441.68" cy="680.56" r="1.15" fill="#9fd3d6" stroke="#9fd3d6" stroke-width="0.9"/>
<line x1="458.04" y1="682.85" x2="458.04" y2="687.44" stroke="#9fd3d6" stroke-width="0.9"/>
<line x1="456.04" y1="682.85" x2="460.04" y2="682.85" stroke="#9fd3d6" stroke-width="0.9"/>
<line x1="456.04" y1="687.44" x2="460.04" y2="687.44" stroke="#9fd3d6" stroke-width="0.9"/>
<circle cx="458.04" cy="685.15" r="1.15" fill="#9fd3d6" stroke="#9fd3d6" stroke-width="0.9"/>
<line x1="474.40" y1="671.96" x2="474.40" y2="681.13" stroke="#9fd3d6" stroke-width="0.9"/>
<line x1="472.40" y1="671.96" x2="476.40" y2="671.96" stroke="#9fd3d6" stroke-width="0.9"/>
<line x1="472.40" y1="681.13" x2="476.40" y2="681.13" stroke="#9fd3d6" stroke-width="0.9"/>
<circle cx="474.40" cy="676.55" r="1.15" fill="#9fd3d6" stroke="#9fd3d6" stroke-width="0.9"/>
<line x1="490.76" y1="667.95" x2="490.76" y2="679.41" stroke="#9fd3d6" stroke-width="0.9"/>
<line x1="488.76" y1="667.95" x2="492.76" y2="667.95" stroke="#9fd3d6" stroke-width="0.9"/>
<line x1="488.76" y1="679.41" x2="492.76" y2="679.41" stroke="#9fd3d6" stroke-width="0.9"/>
<circle cx="490.76" cy="673.68" r="1.15" fill="#9fd3d6" stroke="#9fd3d6" stroke-width="0.9"/>
<line x1="507.12" y1="665.08" x2="507.12" y2="675.40" stroke="#9fd3d6" stroke-width="0.9"/>
<line x1="505.12" y1="665.08" x2="509.12" y2="665.08" stroke="#9fd3d6" stroke-width="0.9"/>
<line x1="505.12" y1="675.40" x2="509.12" y2="675.40" stroke="#9fd3d6" stroke-width="0.9"/>
<circle cx="507.12" cy="670.24" r="1.15" fill="#9fd3d6" stroke="#9fd3d6" stroke-width="0.9"/>
<polyline points="392.60,710.95 408.96,687.44 425.32,684.00 441.68,688.01 458.04,685.72 474.40,679.99 490.76,671.96 507.12,686.29" fill="none" stroke="#477ca5" stroke-width="1.05"/>
<line x1="392.60" y1="709.80" x2="392.60" y2="712.09" stroke="#477ca5" stroke-width="0.9"/>
<line x1="390.60" y1="709.80" x2="394.60" y2="709.80" stroke="#477ca5" stroke-width="0.9"/>
<line x1="390.60" y1="712.09" x2="394.60" y2="712.09" stroke="#477ca5" stroke-width="0.9"/>
<path d="M392.60 709.68 L393.87 711.96 L391.34 711.96Z" fill="#477ca5" stroke="#477ca5" stroke-width="0.9"/>
<line x1="408.96" y1="685.15" x2="408.96" y2="689.73" stroke="#477ca5" stroke-width="0.9"/>
<line x1="406.96" y1="685.15" x2="410.96" y2="685.15" stroke="#477ca5" stroke-width="0.9"/>
<line x1="406.96" y1="689.73" x2="410.96" y2="689.73" stroke="#477ca5" stroke-width="0.9"/>
<path d="M408.96 686.18 L410.23 688.45 L407.70 688.45Z" fill="#477ca5" stroke="#477ca5" stroke-width="0.9"/>
<line x1="425.32" y1="682.28" x2="425.32" y2="685.72" stroke="#477ca5" stroke-width="0.9"/>
<line x1="423.32" y1="682.28" x2="427.32" y2="682.28" stroke="#477ca5" stroke-width="0.9"/>
<line x1="423.32" y1="685.72" x2="427.32" y2="685.72" stroke="#477ca5" stroke-width="0.9"/>
<path d="M425.32 682.74 L426.59 685.01 L424.06 685.01Z" fill="#477ca5" stroke="#477ca5" stroke-width="0.9"/>
<line x1="441.68" y1="686.29" x2="441.68" y2="689.73" stroke="#477ca5" stroke-width="0.9"/>
<line x1="439.68" y1="686.29" x2="443.68" y2="686.29" stroke="#477ca5" stroke-width="0.9"/>
<line x1="439.68" y1="689.73" x2="443.68" y2="689.73" stroke="#477ca5" stroke-width="0.9"/>
<path d="M441.68 686.75 L442.94 689.03 L440.42 689.03Z" fill="#477ca5" stroke="#477ca5" stroke-width="0.9"/>
<line x1="458.04" y1="684.00" x2="458.04" y2="687.44" stroke="#477ca5" stroke-width="0.9"/>
<line x1="456.04" y1="684.00" x2="460.04" y2="684.00" stroke="#477ca5" stroke-width="0.9"/>
<line x1="456.04" y1="687.44" x2="460.04" y2="687.44" stroke="#477ca5" stroke-width="0.9"/>
<path d="M458.04 684.46 L459.31 686.73 L456.78 686.73Z" fill="#477ca5" stroke="#477ca5" stroke-width="0.9"/>
<line x1="474.40" y1="677.12" x2="474.40" y2="682.85" stroke="#477ca5" stroke-width="0.9"/>
<line x1="472.40" y1="677.12" x2="476.40" y2="677.12" stroke="#477ca5" stroke-width="0.9"/>
<line x1="472.40" y1="682.85" x2="476.40" y2="682.85" stroke="#477ca5" stroke-width="0.9"/>
<path d="M474.40 678.72 L475.67 681.00 L473.14 681.00Z" fill="#477ca5" stroke="#477ca5" stroke-width="0.9"/>
<line x1="490.76" y1="668.52" x2="490.76" y2="675.40" stroke="#477ca5" stroke-width="0.9"/>
<line x1="488.76" y1="668.52" x2="492.76" y2="668.52" stroke="#477ca5" stroke-width="0.9"/>
<line x1="488.76" y1="675.40" x2="492.76" y2="675.40" stroke="#477ca5" stroke-width="0.9"/>
<path d="M490.76 670.70 L492.02 672.97 L489.50 672.97Z" fill="#477ca5" stroke="#477ca5" stroke-width="0.9"/>
<line x1="507.12" y1="683.43" x2="507.12" y2="689.16" stroke="#477ca5" stroke-width="0.9"/>
<line x1="505.12" y1="683.43" x2="509.12" y2="683.43" stroke="#477ca5" stroke-width="0.9"/>
<line x1="505.12" y1="689.16" x2="509.12" y2="689.16" stroke="#477ca5" stroke-width="0.9"/>
<path d="M507.12 685.03 L508.38 687.31 L505.86 687.31Z" fill="#477ca5" stroke="#477ca5" stroke-width="0.9"/>
<polyline points="392.60,710.95 408.96,705.79 425.32,706.93 441.68,706.36 458.04,707.51 474.40,709.23 490.76,705.79 507.12,710.95" fill="none" stroke="#e8404e" stroke-width="1.05"/>
<line x1="392.60" y1="710.37" x2="392.60" y2="711.52" stroke="#e8404e" stroke-width="0.9"/>
<line x1="390.60" y1="710.37" x2="394.60" y2="710.37" stroke="#e8404e" stroke-width="0.9"/>
<line x1="390.60" y1="711.52" x2="394.60" y2="711.52" stroke="#e8404e" stroke-width="0.9"/>
<path d="M392.60 712.21 L393.87 709.93 L391.34 709.93Z" fill="#e8404e" stroke="#e8404e" stroke-width="0.9"/>
<line x1="408.96" y1="705.21" x2="408.96" y2="706.36" stroke="#e8404e" stroke-width="0.9"/>
<line x1="406.96" y1="705.21" x2="410.96" y2="705.21" stroke="#e8404e" stroke-width="0.9"/>
<line x1="406.96" y1="706.36" x2="410.96" y2="706.36" stroke="#e8404e" stroke-width="0.9"/>
<path d="M408.96 707.05 L410.23 704.77 L407.70 704.77Z" fill="#e8404e" stroke="#e8404e" stroke-width="0.9"/>
<line x1="425.32" y1="705.79" x2="425.32" y2="708.08" stroke="#e8404e" stroke-width="0.9"/>
<line x1="423.32" y1="705.79" x2="427.32" y2="705.79" stroke="#e8404e" stroke-width="0.9"/>
<line x1="423.32" y1="708.08" x2="427.32" y2="708.08" stroke="#e8404e" stroke-width="0.9"/>
<path d="M425.32 708.20 L426.59 705.92 L424.06 705.92Z" fill="#e8404e" stroke="#e8404e" stroke-width="0.9"/>
<line x1="441.68" y1="705.21" x2="441.68" y2="707.51" stroke="#e8404e" stroke-width="0.9"/>
<line x1="439.68" y1="705.21" x2="443.68" y2="705.21" stroke="#e8404e" stroke-width="0.9"/>
<line x1="439.68" y1="707.51" x2="443.68" y2="707.51" stroke="#e8404e" stroke-width="0.9"/>
<path d="M441.68 707.62 L442.94 705.35 L440.42 705.35Z" fill="#e8404e" stroke="#e8404e" stroke-width="0.9"/>
<line x1="458.04" y1="706.36" x2="458.04" y2="708.65" stroke="#e8404e" stroke-width="0.9"/>
<line x1="456.04" y1="706.36" x2="460.04" y2="706.36" stroke="#e8404e" stroke-width="0.9"/>
<line x1="456.04" y1="708.65" x2="460.04" y2="708.65" stroke="#e8404e" stroke-width="0.9"/>
<path d="M458.04 708.77 L459.31 706.49 L456.78 706.49Z" fill="#e8404e" stroke="#e8404e" stroke-width="0.9"/>
<line x1="474.40" y1="708.65" x2="474.40" y2="709.80" stroke="#e8404e" stroke-width="0.9"/>
<line x1="472.40" y1="708.65" x2="476.40" y2="708.65" stroke="#e8404e" stroke-width="0.9"/>
<line x1="472.40" y1="709.80" x2="476.40" y2="709.80" stroke="#e8404e" stroke-width="0.9"/>
<path d="M474.40 710.49 L475.67 708.21 L473.14 708.21Z" fill="#e8404e" stroke="#e8404e" stroke-width="0.9"/>
<line x1="490.76" y1="704.07" x2="490.76" y2="707.51" stroke="#e8404e" stroke-width="0.9"/>
<line x1="488.76" y1="704.07" x2="492.76" y2="704.07" stroke="#e8404e" stroke-width="0.9"/>
<line x1="488.76" y1="707.51" x2="492.76" y2="707.51" stroke="#e8404e" stroke-width="0.9"/>
<path d="M490.76 707.05 L492.02 704.77 L489.50 704.77Z" fill="#e8404e" stroke="#e8404e" stroke-width="0.9"/>
<line x1="507.12" y1="709.80" x2="507.12" y2="712.09" stroke="#e8404e" stroke-width="0.9"/>
<line x1="505.12" y1="709.80" x2="509.12" y2="709.80" stroke="#e8404e" stroke-width="0.9"/>
<line x1="505.12" y1="712.09" x2="509.12" y2="712.09" stroke="#e8404e" stroke-width="0.9"/>
<path d="M507.12 712.21 L508.38 709.93 L505.86 709.93Z" fill="#e8404e" stroke="#e8404e" stroke-width="0.9"/>
<polyline points="392.60,706.36 408.96,713.24 425.32,709.23 441.68,710.37 458.04,710.37 474.40,709.80 490.76,708.08 507.12,707.51" fill="none" stroke="#1f375a" stroke-width="1.05"/>
<line x1="392.60" y1="705.79" x2="392.60" y2="706.93" stroke="#1f375a" stroke-width="0.9"/>
<line x1="390.60" y1="705.79" x2="394.60" y2="705.79" stroke="#1f375a" stroke-width="0.9"/>
<line x1="390.60" y1="706.93" x2="394.60" y2="706.93" stroke="#1f375a" stroke-width="0.9"/>
<rect x="391.45" y="705.21" width="2.30" height="2.30" fill="#1f375a" stroke="#1f375a" stroke-width="0.9"/>
<line x1="408.96" y1="712.67" x2="408.96" y2="713.81" stroke="#1f375a" stroke-width="0.9"/>
<line x1="406.96" y1="712.67" x2="410.96" y2="712.67" stroke="#1f375a" stroke-width="0.9"/>
<line x1="406.96" y1="713.81" x2="410.96" y2="713.81" stroke="#1f375a" stroke-width="0.9"/>
<rect x="407.81" y="712.09" width="2.30" height="2.30" fill="#1f375a" stroke="#1f375a" stroke-width="0.9"/>
<line x1="425.32" y1="708.65" x2="425.32" y2="709.80" stroke="#1f375a" stroke-width="0.9"/>
<line x1="423.32" y1="708.65" x2="427.32" y2="708.65" stroke="#1f375a" stroke-width="0.9"/>
<line x1="423.32" y1="709.80" x2="427.32" y2="709.80" stroke="#1f375a" stroke-width="0.9"/>
<rect x="424.17" y="708.08" width="2.30" height="2.30" fill="#1f375a" stroke="#1f375a" stroke-width="0.9"/>
<line x1="441.68" y1="709.80" x2="441.68" y2="710.95" stroke="#1f375a" stroke-width="0.9"/>
<line x1="439.68" y1="709.80" x2="443.68" y2="709.80" stroke="#1f375a" stroke-width="0.9"/>
<line x1="439.68" y1="710.95" x2="443.68" y2="710.95" stroke="#1f375a" stroke-width="0.9"/>
<rect x="440.53" y="709.22" width="2.30" height="2.30" fill="#1f375a" stroke="#1f375a" stroke-width="0.9"/>
<line x1="458.04" y1="709.80" x2="458.04" y2="710.95" stroke="#1f375a" stroke-width="0.9"/>
<line x1="456.04" y1="709.80" x2="460.04" y2="709.80" stroke="#1f375a" stroke-width="0.9"/>
<line x1="456.04" y1="710.95" x2="460.04" y2="710.95" stroke="#1f375a" stroke-width="0.9"/>
<rect x="456.89" y="709.22" width="2.30" height="2.30" fill="#1f375a" stroke="#1f375a" stroke-width="0.9"/>
<line x1="474.40" y1="709.23" x2="474.40" y2="710.37" stroke="#1f375a" stroke-width="0.9"/>
<line x1="472.40" y1="709.23" x2="476.40" y2="709.23" stroke="#1f375a" stroke-width="0.9"/>
<line x1="472.40" y1="710.37" x2="476.40" y2="710.37" stroke="#1f375a" stroke-width="0.9"/>
<rect x="473.25" y="708.65" width="2.30" height="2.30" fill="#1f375a" stroke="#1f375a" stroke-width="0.9"/>
<line x1="490.76" y1="707.51" x2="490.76" y2="708.65" stroke="#1f375a" stroke-width="0.9"/>
<line x1="488.76" y1="707.51" x2="492.76" y2="707.51" stroke="#1f375a" stroke-width="0.9"/>
<line x1="488.76" y1="708.65" x2="492.76" y2="708.65" stroke="#1f375a" stroke-width="0.9"/>
<rect x="489.61" y="706.93" width="2.30" height="2.30" fill="#1f375a" stroke="#1f375a" stroke-width="0.9"/>
<line x1="507.12" y1="706.93" x2="507.12" y2="708.08" stroke="#1f375a" stroke-width="0.9"/>
<line x1="505.12" y1="706.93" x2="509.12" y2="706.93" stroke="#1f375a" stroke-width="0.9"/>
<line x1="505.12" y1="708.08" x2="509.12" y2="708.08" stroke="#1f375a" stroke-width="0.9"/>
<rect x="505.97" y="706.36" width="2.30" height="2.30" fill="#1f375a" stroke="#1f375a" stroke-width="0.9"/>
<line x1="540.40" y1="640.20" x2="540.40" y2="726.60" stroke="#111" stroke-width="1.2"/>
<line x1="539.90" y1="726.10" x2="667.90" y2="726.10" stroke="#111" stroke-width="1.2"/>
<line x1="535.80" y1="726.10" x2="540.40" y2="726.10" stroke="#111" stroke-width="1.1"/>
<line x1="535.80" y1="697.63" x2="540.40" y2="697.63" stroke="#111" stroke-width="1.1"/>
<line x1="535.80" y1="669.17" x2="540.40" y2="669.17" stroke="#111" stroke-width="1.1"/>
<line x1="535.80" y1="640.70" x2="540.40" y2="640.70" stroke="#111" stroke-width="1.1"/>
<line x1="548.00" y1="726.10" x2="548.00" y2="730.70" stroke="#111" stroke-width="1.1"/>
<line x1="564.14" y1="726.10" x2="564.14" y2="730.70" stroke="#111" stroke-width="1.1"/>
<line x1="580.28" y1="726.10" x2="580.28" y2="730.70" stroke="#111" stroke-width="1.1"/>
<line x1="596.42" y1="726.10" x2="596.42" y2="730.70" stroke="#111" stroke-width="1.1"/>
<line x1="612.56" y1="726.10" x2="612.56" y2="730.70" stroke="#111" stroke-width="1.1"/>
<line x1="628.70" y1="726.10" x2="628.70" y2="730.70" stroke="#111" stroke-width="1.1"/>
<line x1="644.84" y1="726.10" x2="644.84" y2="730.70" stroke="#111" stroke-width="1.1"/>
<line x1="660.98" y1="726.10" x2="660.98" y2="730.70" stroke="#111" stroke-width="1.1"/>
<polyline points="548.00,704.47 564.14,673.15 580.28,671.44 596.42,679.98 612.56,680.55 628.70,672.01 644.84,676.57 660.98,668.03" fill="none" stroke="#9fd3d6" stroke-width="1.05"/>
<line x1="548.00" y1="702.76" x2="548.00" y2="706.17" stroke="#9fd3d6" stroke-width="0.9"/>
<line x1="546.00" y1="702.76" x2="550.00" y2="702.76" stroke="#9fd3d6" stroke-width="0.9"/>
<line x1="546.00" y1="706.17" x2="550.00" y2="706.17" stroke="#9fd3d6" stroke-width="0.9"/>
<circle cx="548.00" cy="704.47" r="1.15" fill="#9fd3d6" stroke="#9fd3d6" stroke-width="0.9"/>
<line x1="564.14" y1="671.44" x2="564.14" y2="674.86" stroke="#9fd3d6" stroke-width="0.9"/>
<line x1="562.14" y1="671.44" x2="566.14" y2="671.44" stroke="#9fd3d6" stroke-width="0.9"/>
<line x1="562.14" y1="674.86" x2="566.14" y2="674.86" stroke="#9fd3d6" stroke-width="0.9"/>
<circle cx="564.14" cy="673.15" r="1.15" fill="#9fd3d6" stroke="#9fd3d6" stroke-width="0.9"/>
<line x1="580.28" y1="668.60" x2="580.28" y2="674.29" stroke="#9fd3d6" stroke-width="0.9"/>
<line x1="578.28" y1="668.60" x2="582.28" y2="668.60" stroke="#9fd3d6" stroke-width="0.9"/>
<line x1="578.28" y1="674.29" x2="582.28" y2="674.29" stroke="#9fd3d6" stroke-width="0.9"/>
<circle cx="580.28" cy="671.44" r="1.15" fill="#9fd3d6" stroke="#9fd3d6" stroke-width="0.9"/>
<line x1="596.42" y1="677.71" x2="596.42" y2="682.26" stroke="#9fd3d6" stroke-width="0.9"/>
<line x1="594.42" y1="677.71" x2="598.42" y2="677.71" stroke="#9fd3d6" stroke-width="0.9"/>
<line x1="594.42" y1="682.26" x2="598.42" y2="682.26" stroke="#9fd3d6" stroke-width="0.9"/>
<circle cx="596.42" cy="679.98" r="1.15" fill="#9fd3d6" stroke="#9fd3d6" stroke-width="0.9"/>
<line x1="612.56" y1="677.71" x2="612.56" y2="683.40" stroke="#9fd3d6" stroke-width="0.9"/>
<line x1="610.56" y1="677.71" x2="614.56" y2="677.71" stroke="#9fd3d6" stroke-width="0.9"/>
<line x1="610.56" y1="683.40" x2="614.56" y2="683.40" stroke="#9fd3d6" stroke-width="0.9"/>
<circle cx="612.56" cy="680.55" r="1.15" fill="#9fd3d6" stroke="#9fd3d6" stroke-width="0.9"/>
<line x1="628.70" y1="667.46" x2="628.70" y2="676.57" stroke="#9fd3d6" stroke-width="0.9"/>
<line x1="626.70" y1="667.46" x2="630.70" y2="667.46" stroke="#9fd3d6" stroke-width="0.9"/>
<line x1="626.70" y1="676.57" x2="630.70" y2="676.57" stroke="#9fd3d6" stroke-width="0.9"/>
<circle cx="628.70" cy="672.01" r="1.15" fill="#9fd3d6" stroke="#9fd3d6" stroke-width="0.9"/>
<line x1="644.84" y1="672.58" x2="644.84" y2="680.55" stroke="#9fd3d6" stroke-width="0.9"/>
<line x1="642.84" y1="672.58" x2="646.84" y2="672.58" stroke="#9fd3d6" stroke-width="0.9"/>
<line x1="642.84" y1="680.55" x2="646.84" y2="680.55" stroke="#9fd3d6" stroke-width="0.9"/>
<circle cx="644.84" cy="676.57" r="1.15" fill="#9fd3d6" stroke="#9fd3d6" stroke-width="0.9"/>
<line x1="660.98" y1="664.04" x2="660.98" y2="672.01" stroke="#9fd3d6" stroke-width="0.9"/>
<line x1="658.98" y1="664.04" x2="662.98" y2="664.04" stroke="#9fd3d6" stroke-width="0.9"/>
<line x1="658.98" y1="672.01" x2="662.98" y2="672.01" stroke="#9fd3d6" stroke-width="0.9"/>
<circle cx="660.98" cy="668.03" r="1.15" fill="#9fd3d6" stroke="#9fd3d6" stroke-width="0.9"/>
<polyline points="548.00,701.05 564.14,677.14 580.28,670.31 596.42,672.58 612.56,672.58 628.70,672.58 644.84,672.58 660.98,661.20" fill="none" stroke="#477ca5" stroke-width="1.05"/>
<line x1="548.00" y1="699.91" x2="548.00" y2="702.19" stroke="#477ca5" stroke-width="0.9"/>
<line x1="546.00" y1="699.91" x2="550.00" y2="699.91" stroke="#477ca5" stroke-width="0.9"/>
<line x1="546.00" y1="702.19" x2="550.00" y2="702.19" stroke="#477ca5" stroke-width="0.9"/>
<path d="M548.00 699.78 L549.26 702.06 L546.74 702.06Z" fill="#477ca5" stroke="#477ca5" stroke-width="0.9"/>
<line x1="564.14" y1="675.43" x2="564.14" y2="678.85" stroke="#477ca5" stroke-width="0.9"/>
<line x1="562.14" y1="675.43" x2="566.14" y2="675.43" stroke="#477ca5" stroke-width="0.9"/>
<line x1="562.14" y1="678.85" x2="566.14" y2="678.85" stroke="#477ca5" stroke-width="0.9"/>
<path d="M564.14 675.87 L565.40 678.15 L562.88 678.15Z" fill="#477ca5" stroke="#477ca5" stroke-width="0.9"/>
<line x1="580.28" y1="668.60" x2="580.28" y2="672.01" stroke="#477ca5" stroke-width="0.9"/>
<line x1="578.28" y1="668.60" x2="582.28" y2="668.60" stroke="#477ca5" stroke-width="0.9"/>
<line x1="578.28" y1="672.01" x2="582.28" y2="672.01" stroke="#477ca5" stroke-width="0.9"/>
<path d="M580.28 669.04 L581.54 671.32 L579.01 671.32Z" fill="#477ca5" stroke="#477ca5" stroke-width="0.9"/>
<line x1="596.42" y1="669.17" x2="596.42" y2="676.00" stroke="#477ca5" stroke-width="0.9"/>
<line x1="594.42" y1="669.17" x2="598.42" y2="669.17" stroke="#477ca5" stroke-width="0.9"/>
<line x1="594.42" y1="676.00" x2="598.42" y2="676.00" stroke="#477ca5" stroke-width="0.9"/>
<path d="M596.42 671.32 L597.68 673.59 L595.15 673.59Z" fill="#477ca5" stroke="#477ca5" stroke-width="0.9"/>
<line x1="612.56" y1="670.31" x2="612.56" y2="674.86" stroke="#477ca5" stroke-width="0.9"/>
<line x1="610.56" y1="670.31" x2="614.56" y2="670.31" stroke="#477ca5" stroke-width="0.9"/>
<line x1="610.56" y1="674.86" x2="614.56" y2="674.86" stroke="#477ca5" stroke-width="0.9"/>
<path d="M612.56 671.32 L613.82 673.59 L611.29 673.59Z" fill="#477ca5" stroke="#477ca5" stroke-width="0.9"/>
<line x1="628.70" y1="670.31" x2="628.70" y2="674.86" stroke="#477ca5" stroke-width="0.9"/>
<line x1="626.70" y1="670.31" x2="630.70" y2="670.31" stroke="#477ca5" stroke-width="0.9"/>
<line x1="626.70" y1="674.86" x2="630.70" y2="674.86" stroke="#477ca5" stroke-width="0.9"/>
<path d="M628.70 671.32 L629.97 673.59 L627.44 673.59Z" fill="#477ca5" stroke="#477ca5" stroke-width="0.9"/>
<line x1="644.84" y1="669.74" x2="644.84" y2="675.43" stroke="#477ca5" stroke-width="0.9"/>
<line x1="642.84" y1="669.74" x2="646.84" y2="669.74" stroke="#477ca5" stroke-width="0.9"/>
<line x1="642.84" y1="675.43" x2="646.84" y2="675.43" stroke="#477ca5" stroke-width="0.9"/>
<path d="M644.84 671.32 L646.11 673.59 L643.58 673.59Z" fill="#477ca5" stroke="#477ca5" stroke-width="0.9"/>
<line x1="660.98" y1="657.78" x2="660.98" y2="664.61" stroke="#477ca5" stroke-width="0.9"/>
<line x1="658.98" y1="657.78" x2="662.98" y2="657.78" stroke="#477ca5" stroke-width="0.9"/>
<line x1="658.98" y1="664.61" x2="662.98" y2="664.61" stroke="#477ca5" stroke-width="0.9"/>
<path d="M660.98 659.93 L662.25 662.21 L659.72 662.21Z" fill="#477ca5" stroke="#477ca5" stroke-width="0.9"/>
<polyline points="548.00,701.62 564.14,694.79 580.28,698.77 596.42,707.88 612.56,698.77 628.70,705.03 644.84,702.19 660.98,698.77" fill="none" stroke="#e8404e" stroke-width="1.05"/>
<line x1="548.00" y1="700.48" x2="548.00" y2="702.76" stroke="#e8404e" stroke-width="0.9"/>
<line x1="546.00" y1="700.48" x2="550.00" y2="700.48" stroke="#e8404e" stroke-width="0.9"/>
<line x1="546.00" y1="702.76" x2="550.00" y2="702.76" stroke="#e8404e" stroke-width="0.9"/>
<path d="M548.00 702.88 L549.26 700.61 L546.74 700.61Z" fill="#e8404e" stroke="#e8404e" stroke-width="0.9"/>
<line x1="564.14" y1="693.65" x2="564.14" y2="695.93" stroke="#e8404e" stroke-width="0.9"/>
<line x1="562.14" y1="693.65" x2="566.14" y2="693.65" stroke="#e8404e" stroke-width="0.9"/>
<line x1="562.14" y1="695.93" x2="566.14" y2="695.93" stroke="#e8404e" stroke-width="0.9"/>
<path d="M564.14 696.05 L565.40 693.77 L562.88 693.77Z" fill="#e8404e" stroke="#e8404e" stroke-width="0.9"/>
<line x1="580.28" y1="697.63" x2="580.28" y2="699.91" stroke="#e8404e" stroke-width="0.9"/>
<line x1="578.28" y1="697.63" x2="582.28" y2="697.63" stroke="#e8404e" stroke-width="0.9"/>
<line x1="578.28" y1="699.91" x2="582.28" y2="699.91" stroke="#e8404e" stroke-width="0.9"/>
<path d="M580.28 700.04 L581.54 697.76 L579.01 697.76Z" fill="#e8404e" stroke="#e8404e" stroke-width="0.9"/>
<line x1="596.42" y1="706.74" x2="596.42" y2="709.02" stroke="#e8404e" stroke-width="0.9"/>
<line x1="594.42" y1="706.74" x2="598.42" y2="706.74" stroke="#e8404e" stroke-width="0.9"/>
<line x1="594.42" y1="709.02" x2="598.42" y2="709.02" stroke="#e8404e" stroke-width="0.9"/>
<path d="M596.42 709.15 L597.68 706.87 L595.15 706.87Z" fill="#e8404e" stroke="#e8404e" stroke-width="0.9"/>
<line x1="612.56" y1="697.06" x2="612.56" y2="700.48" stroke="#e8404e" stroke-width="0.9"/>
<line x1="610.56" y1="697.06" x2="614.56" y2="697.06" stroke="#e8404e" stroke-width="0.9"/>
<line x1="610.56" y1="700.48" x2="614.56" y2="700.48" stroke="#e8404e" stroke-width="0.9"/>
<path d="M612.56 700.04 L613.82 697.76 L611.29 697.76Z" fill="#e8404e" stroke="#e8404e" stroke-width="0.9"/>
<line x1="628.70" y1="703.90" x2="628.70" y2="706.17" stroke="#e8404e" stroke-width="0.9"/>
<line x1="626.70" y1="703.90" x2="630.70" y2="703.90" stroke="#e8404e" stroke-width="0.9"/>
<line x1="626.70" y1="706.17" x2="630.70" y2="706.17" stroke="#e8404e" stroke-width="0.9"/>
<path d="M628.70 706.30 L629.97 704.02 L627.44 704.02Z" fill="#e8404e" stroke="#e8404e" stroke-width="0.9"/>
<line x1="644.84" y1="701.05" x2="644.84" y2="703.33" stroke="#e8404e" stroke-width="0.9"/>
<line x1="642.84" y1="701.05" x2="646.84" y2="701.05" stroke="#e8404e" stroke-width="0.9"/>
<line x1="642.84" y1="703.33" x2="646.84" y2="703.33" stroke="#e8404e" stroke-width="0.9"/>
<path d="M644.84 703.45 L646.11 701.18 L643.58 701.18Z" fill="#e8404e" stroke="#e8404e" stroke-width="0.9"/>
<line x1="660.98" y1="697.63" x2="660.98" y2="699.91" stroke="#e8404e" stroke-width="0.9"/>
<line x1="658.98" y1="697.63" x2="662.98" y2="697.63" stroke="#e8404e" stroke-width="0.9"/>
<line x1="658.98" y1="699.91" x2="662.98" y2="699.91" stroke="#e8404e" stroke-width="0.9"/>
<path d="M660.98 700.04 L662.25 697.76 L659.72 697.76Z" fill="#e8404e" stroke="#e8404e" stroke-width="0.9"/>
<polyline points="548.00,702.19 564.14,702.76 580.28,701.05 596.42,706.74 612.56,701.05 628.70,703.33 644.84,703.90 660.98,702.19" fill="none" stroke="#1f375a" stroke-width="1.05"/>
<line x1="548.00" y1="701.62" x2="548.00" y2="702.76" stroke="#1f375a" stroke-width="0.9"/>
<line x1="546.00" y1="701.62" x2="550.00" y2="701.62" stroke="#1f375a" stroke-width="0.9"/>
<line x1="546.00" y1="702.76" x2="550.00" y2="702.76" stroke="#1f375a" stroke-width="0.9"/>
<rect x="546.85" y="701.04" width="2.30" height="2.30" fill="#1f375a" stroke="#1f375a" stroke-width="0.9"/>
<line x1="564.14" y1="702.19" x2="564.14" y2="703.33" stroke="#1f375a" stroke-width="0.9"/>
<line x1="562.14" y1="702.19" x2="566.14" y2="702.19" stroke="#1f375a" stroke-width="0.9"/>
<line x1="562.14" y1="703.33" x2="566.14" y2="703.33" stroke="#1f375a" stroke-width="0.9"/>
<rect x="562.99" y="701.61" width="2.30" height="2.30" fill="#1f375a" stroke="#1f375a" stroke-width="0.9"/>
<line x1="580.28" y1="700.48" x2="580.28" y2="701.62" stroke="#1f375a" stroke-width="0.9"/>
<line x1="578.28" y1="700.48" x2="582.28" y2="700.48" stroke="#1f375a" stroke-width="0.9"/>
<line x1="578.28" y1="701.62" x2="582.28" y2="701.62" stroke="#1f375a" stroke-width="0.9"/>
<rect x="579.13" y="699.90" width="2.30" height="2.30" fill="#1f375a" stroke="#1f375a" stroke-width="0.9"/>
<line x1="596.42" y1="706.17" x2="596.42" y2="707.31" stroke="#1f375a" stroke-width="0.9"/>
<line x1="594.42" y1="706.17" x2="598.42" y2="706.17" stroke="#1f375a" stroke-width="0.9"/>
<line x1="594.42" y1="707.31" x2="598.42" y2="707.31" stroke="#1f375a" stroke-width="0.9"/>
<rect x="595.27" y="705.59" width="2.30" height="2.30" fill="#1f375a" stroke="#1f375a" stroke-width="0.9"/>
<line x1="612.56" y1="699.34" x2="612.56" y2="702.76" stroke="#1f375a" stroke-width="0.9"/>
<line x1="610.56" y1="699.34" x2="614.56" y2="699.34" stroke="#1f375a" stroke-width="0.9"/>
<line x1="610.56" y1="702.76" x2="614.56" y2="702.76" stroke="#1f375a" stroke-width="0.9"/>
<rect x="611.41" y="699.90" width="2.30" height="2.30" fill="#1f375a" stroke="#1f375a" stroke-width="0.9"/>
<line x1="628.70" y1="702.76" x2="628.70" y2="703.90" stroke="#1f375a" stroke-width="0.9"/>
<line x1="626.70" y1="702.76" x2="630.70" y2="702.76" stroke="#1f375a" stroke-width="0.9"/>
<line x1="626.70" y1="703.90" x2="630.70" y2="703.90" stroke="#1f375a" stroke-width="0.9"/>
<rect x="627.55" y="702.18" width="2.30" height="2.30" fill="#1f375a" stroke="#1f375a" stroke-width="0.9"/>
<line x1="644.84" y1="703.33" x2="644.84" y2="704.47" stroke="#1f375a" stroke-width="0.9"/>
<line x1="642.84" y1="703.33" x2="646.84" y2="703.33" stroke="#1f375a" stroke-width="0.9"/>
<line x1="642.84" y1="704.47" x2="646.84" y2="704.47" stroke="#1f375a" stroke-width="0.9"/>
<rect x="643.69" y="702.75" width="2.30" height="2.30" fill="#1f375a" stroke="#1f375a" stroke-width="0.9"/>
<line x1="660.98" y1="701.62" x2="660.98" y2="702.76" stroke="#1f375a" stroke-width="0.9"/>
<line x1="658.98" y1="701.62" x2="662.98" y2="701.62" stroke="#1f375a" stroke-width="0.9"/>
<line x1="658.98" y1="702.76" x2="662.98" y2="702.76" stroke="#1f375a" stroke-width="0.9"/>
<rect x="659.83" y="701.04" width="2.30" height="2.30" fill="#1f375a" stroke="#1f375a" stroke-width="0.9"/>
<g clip-path="url(#cp1)"><g filter="url(#mb)">
<rect x="11.50" y="157.00" width="81.50" height="67.00" fill="#000"/>
<rect x="11.50" y="157.00" width="81.50" height="67.00" fill="url(#pD)"/>
<g filter="url(#vb)">
<line x1="3.3" y1="160.3" x2="93.0" y2="220.7" stroke="#000" stroke-width="3.75" stroke-opacity="0.94" stroke-linecap="round"/>
<line x1="3.3" y1="180.4" x2="68.5" y2="227.4" stroke="#000" stroke-width="3.25" stroke-opacity="0.88" stroke-linecap="round"/>
<line x1="19.6" y1="150.3" x2="101.2" y2="197.2" stroke="#000" stroke-width="3.00" stroke-opacity="0.77" stroke-linecap="round"/>
<line x1="40.0" y1="150.3" x2="101.2" y2="180.4" stroke="#000" stroke-width="2.50" stroke-opacity="0.66" stroke-linecap="round"/>
</g>
</g></g>
<g clip-path="url(#cp2)"><g filter="url(#mb)">
<rect x="94.80" y="157.00" width="81.50" height="67.00" fill="#000"/>
<rect x="94.80" y="157.00" width="81.50" height="67.00" fill="url(#pD)"/>
<g filter="url(#vb)">
<line x1="129.0" y1="237.4" x2="31.1" y2="156.9" stroke="#000" stroke-width="3.00" stroke-opacity="0.94" stroke-linecap="round"/>
<line x1="129.0" y1="237.4" x2="61.9" y2="137.8" stroke="#000" stroke-width="3.00" stroke-opacity="0.94" stroke-linecap="round"/>
<line x1="129.0" y1="237.4" x2="93.2" y2="127.4" stroke="#000" stroke-width="3.00" stroke-opacity="0.94" stroke-linecap="round"/>
<line x1="129.0" y1="237.4" x2="124.2" y2="123.6" stroke="#000" stroke-width="3.00" stroke-opacity="0.94" stroke-linecap="round"/>
<line x1="129.0" y1="237.4" x2="153.1" y2="125.2" stroke="#000" stroke-width="3.00" stroke-opacity="0.94" stroke-linecap="round"/>
<line x1="129.0" y1="237.4" x2="183.2" y2="132.6" stroke="#000" stroke-width="3.00" stroke-opacity="0.94" stroke-linecap="round"/>
<line x1="129.0" y1="237.4" x2="210.5" y2="145.3" stroke="#000" stroke-width="3.00" stroke-opacity="0.94" stroke-linecap="round"/>
<rect x="94.80" y="157.00" width="81.50" height="67.00" fill="url(#g2_7)"/>
</g>
</g></g>
<g clip-path="url(#cp3)"><g filter="url(#mb)">
<rect x="178.20" y="157.00" width="81.50" height="67.00" fill="#000"/>
<rect x="178.20" y="157.00" width="81.50" height="67.00" fill="url(#pD)"/>
<g filter="url(#vb)">
<line x1="170.0" y1="170.4" x2="243.4" y2="210.6" stroke="#000" stroke-width="3.75" stroke-opacity="0.94" stroke-linecap="round"/>
<line x1="186.3" y1="153.7" x2="267.9" y2="193.8" stroke="#000" stroke-width="3.25" stroke-opacity="0.88" stroke-linecap="round"/>
<line x1="174.1" y1="193.8" x2="218.9" y2="227.4" stroke="#000" stroke-width="3.25" stroke-opacity="0.88" stroke-linecap="round"/>
<rect x="178.20" y="157.00" width="81.50" height="67.00" fill="url(#g3_3)"/>
</g>
</g></g>
<g clip-path="url(#cp4)"><g filter="url(#mb)">
<rect x="261.30" y="157.00" width="81.50" height="67.00" fill="#000"/>
<rect x="261.30" y="157.00" width="81.50" height="67.00" fill="url(#pD)"/>
<g filter="url(#vb)">
<line x1="316.7" y1="153.7" x2="354.5" y2="249.2" stroke="#000" stroke-width="3.25" stroke-opacity="0.94" stroke-linecap="round"/>
<line x1="316.7" y1="153.7" x2="312.5" y2="254.1" stroke="#000" stroke-width="3.25" stroke-opacity="0.94" stroke-linecap="round"/>
<line x1="316.7" y1="153.7" x2="274.9" y2="248.1" stroke="#000" stroke-width="3.25" stroke-opacity="0.94" stroke-linecap="round"/>
<line x1="316.7" y1="153.7" x2="243.1" y2="233.9" stroke="#000" stroke-width="3.25" stroke-opacity="0.94" stroke-linecap="round"/>
<line x1="316.7" y1="153.7" x2="217.8" y2="212.7" stroke="#000" stroke-width="3.25" stroke-opacity="0.94" stroke-linecap="round"/>
<line x1="316.7" y1="153.7" x2="201.8" y2="188.0" stroke="#000" stroke-width="3.25" stroke-opacity="0.94" stroke-linecap="round"/>
<line x1="315.1" y1="157.0" x2="315.1" y2="180.4" stroke="#000" stroke-width="5.00" stroke-opacity="0.77" stroke-linecap="round"/>
</g>
</g></g>
<g clip-path="url(#cp5)"><g filter="url(#mb)">
<rect x="11.50" y="227.30" width="81.50" height="67.00" fill="#000"/>
<rect x="11.50" y="227.30" width="81.50" height="67.00" fill="url(#pD)"/>
<g filter="url(#vb)">
<line x1="3.3" y1="255.4" x2="101.2" y2="246.1" stroke="#000" stroke-width="2.50" stroke-opacity="0.66" stroke-linecap="round"/>
<line x1="3.3" y1="272.9" x2="101.2" y2="264.2" stroke="#000" stroke-width="2.50" stroke-opacity="0.66" stroke-linecap="round"/>
<line x1="3.3" y1="287.6" x2="101.2" y2="280.9" stroke="#000" stroke-width="2.25" stroke-opacity="0.61" stroke-linecap="round"/>
</g>
</g></g>
<g clip-path="url(#cp6)"><g filter="url(#mb)">
<rect x="94.80" y="227.30" width="81.50" height="67.00" fill="#000"/>
<rect x="94.80" y="227.30" width="81.50" height="67.00" fill="url(#pD)"/>
<g filter="url(#vb)">
<line x1="107.0" y1="220.6" x2="131.5" y2="301.0" stroke="#000" stroke-width="3.50" stroke-opacity="0.88" stroke-linecap="round"/>
<line x1="135.6" y1="220.6" x2="164.1" y2="301.0" stroke="#000" stroke-width="3.25" stroke-opacity="0.77" stroke-linecap="round"/>
<line x1="86.6" y1="267.5" x2="119.2" y2="301.0" stroke="#000" stroke-width="2.75" stroke-opacity="0.77" stroke-linecap="round"/>
</g>
</g></g>
<g clip-path="url(#cp7)"><g filter="url(#mb)">
<rect x="178.20" y="227.30" width="81.50" height="67.00" fill="#2a0202"/>
<rect x="178.20" y="227.30" width="81.50" height="67.00" fill="url(#pD)"/>
<g filter="url(#vb)">
<line x1="170.0" y1="237.4" x2="267.9" y2="284.2" stroke="#000" stroke-width="3.50" stroke-opacity="0.88" stroke-linecap="round"/>
<line x1="194.5" y1="220.6" x2="267.9" y2="260.8" stroke="#000" stroke-width="3.00" stroke-opacity="0.77" stroke-linecap="round"/>
<rect x="178.20" y="227.30" width="81.50" height="67.00" fill="url(#g7_2)"/>
</g>
</g></g>
<g clip-path="url(#cp8)"><g filter="url(#mb)">
<rect x="261.30" y="227.30" width="81.50" height="67.00" fill="#000"/>
<rect x="261.30" y="227.30" width="81.50" height="67.00" fill="url(#pD)"/>
<g filter="url(#vb)">
<line x1="326.5" y1="220.6" x2="285.8" y2="301.0" stroke="#000" stroke-width="5.62" stroke-opacity="1.00" stroke-linecap="round"/>
<line x1="346.9" y1="247.4" x2="318.4" y2="301.0" stroke="#000" stroke-width="3.25" stroke-opacity="0.77" stroke-linecap="round"/>
<line x1="298.0" y1="220.6" x2="261.3" y2="280.9" stroke="#000" stroke-width="2.75" stroke-opacity="0.66" stroke-linecap="round"/>
</g>
</g></g>
<g clip-path="url(#cp9)"><g filter="url(#mb)">
<rect x="11.50" y="298.20" width="81.50" height="67.00" fill="#000"/>
<rect x="11.50" y="298.20" width="81.50" height="67.00" fill="url(#pD)"/>
</g></g>
<g clip-path="url(#cp10)"><g filter="url(#mb)">
<rect x="94.80" y="298.20" width="81.50" height="67.00" fill="#000"/>
<rect x="94.80" y="298.20" width="81.50" height="67.00" fill="url(#pD)"/>
<g filter="url(#vb)">
<line x1="111.1" y1="291.5" x2="168.2" y2="371.9" stroke="#000" stroke-width="2.00" stroke-opacity="0.55" stroke-linecap="round"/>
<line x1="86.6" y1="318.3" x2="135.6" y2="371.9" stroke="#000" stroke-width="2.00" stroke-opacity="0.55" stroke-linecap="round"/>
</g>
</g></g>
<g clip-path="url(#cp11)"><g filter="url(#mb)">
<rect x="178.20" y="298.20" width="81.50" height="67.00" fill="#440404"/>
<rect x="178.20" y="298.20" width="81.50" height="67.00" fill="url(#pM)"/>
</g></g>
<g clip-path="url(#cp12)"><g filter="url(#mb)">
<rect x="261.30" y="298.20" width="81.50" height="67.00" fill="#000"/>
<rect x="261.30" y="298.20" width="81.50" height="67.00" fill="url(#pS)"/>
<g filter="url(#vb)">
<rect x="261.30" y="298.20" width="81.50" height="67.00" fill="url(#g12_0)"/>
</g>
</g></g>
<g clip-path="url(#cp13)"><g filter="url(#mb)">
<rect x="351.80" y="156.80" width="81.30" height="66.80" fill="#3a0404"/>
<rect x="351.80" y="156.80" width="81.30" height="66.80" fill="url(#pF)"/>
<g filter="url(#vb)">
<line x1="392.4" y1="140.1" x2="476.1" y2="222.0" stroke="#000" stroke-width="2.50" stroke-opacity="0.66" stroke-linecap="round"/>
<line x1="392.4" y1="140.1" x2="447.4" y2="237.0" stroke="#000" stroke-width="2.50" stroke-opacity="0.66" stroke-linecap="round"/>
<line x1="392.4" y1="140.1" x2="419.5" y2="244.6" stroke="#000" stroke-width="2.50" stroke-opacity="0.66" stroke-linecap="round"/>
<line x1="392.4" y1="140.1" x2="392.5" y2="247.0" stroke="#000" stroke-width="2.50" stroke-opacity="0.66" stroke-linecap="round"/>
<line x1="392.4" y1="140.1" x2="365.4" y2="244.6" stroke="#000" stroke-width="2.50" stroke-opacity="0.66" stroke-linecap="round"/>
<line x1="392.4" y1="140.1" x2="337.5" y2="237.0" stroke="#000" stroke-width="2.50" stroke-opacity="0.66" stroke-linecap="round"/>
<line x1="392.4" y1="140.1" x2="308.8" y2="222.0" stroke="#000" stroke-width="2.50" stroke-opacity="0.66" stroke-linecap="round"/>
<rect x="351.80" y="156.80" width="81.30" height="66.80" fill="url(#g13_7)"/>
</g>
</g></g>
<g clip-path="url(#cp14)"><g filter="url(#mb)">
<rect x="435.20" y="156.80" width="81.30" height="66.80" fill="#3a0404"/>
<rect x="435.20" y="156.80" width="81.30" height="66.80" fill="url(#pF)"/>
<g filter="url(#vb)">
<line x1="455.5" y1="230.3" x2="487.1" y2="133.5" stroke="#000" stroke-width="3.00" stroke-opacity="0.77" stroke-linecap="round"/>
<line x1="455.5" y1="230.3" x2="525.5" y2="148.2" stroke="#000" stroke-width="3.00" stroke-opacity="0.77" stroke-linecap="round"/>
<line x1="455.5" y1="230.3" x2="555.4" y2="172.8" stroke="#000" stroke-width="3.00" stroke-opacity="0.77" stroke-linecap="round"/>
<line x1="455.5" y1="230.3" x2="573.3" y2="204.3" stroke="#000" stroke-width="3.00" stroke-opacity="0.77" stroke-linecap="round"/>
<rect x="435.20" y="156.80" width="81.30" height="66.80" fill="url(#g14_4)"/>
<rect x="435.20" y="156.80" width="81.30" height="66.80" fill="url(#g14_5)"/>
</g>
</g></g>
<g clip-path="url(#cp15)"><g filter="url(#mb)">
<rect x="519.20" y="156.80" width="81.30" height="66.80" fill="#3a0404"/>
<rect x="519.20" y="156.80" width="81.30" height="66.80" fill="url(#pF)"/>
<g filter="url(#vb)">
<line x1="511.1" y1="176.8" x2="608.6" y2="198.2" stroke="#000" stroke-width="4.00" stroke-opacity="0.88" stroke-linecap="round"/>
<rect x="519.20" y="156.80" width="81.30" height="66.80" fill="url(#g15_1)"/>
<rect x="519.20" y="156.80" width="81.30" height="66.80" fill="url(#g15_2)"/>
</g>
</g></g>
<g clip-path="url(#cp16)"><g filter="url(#mb)">
<rect x="602.80" y="156.80" width="81.30" height="66.80" fill="#3a0404"/>
<rect x="602.80" y="156.80" width="81.30" height="66.80" fill="url(#pF)"/>
<g filter="url(#vb)">
<rect x="602.80" y="156.80" width="81.30" height="66.80" fill="url(#g16_0)"/>
<rect x="602.80" y="156.80" width="81.30" height="66.80" fill="url(#g16_1)"/>
<line x1="639.4" y1="196.9" x2="689.2" y2="162.5" stroke="#000" stroke-width="2.50" stroke-opacity="0.66" stroke-linecap="round"/>
<line x1="639.4" y1="196.9" x2="704.4" y2="196.9" stroke="#000" stroke-width="2.50" stroke-opacity="0.66" stroke-linecap="round"/>
<line x1="639.4" y1="196.9" x2="578.3" y2="215.2" stroke="#000" stroke-width="2.50" stroke-opacity="0.66" stroke-linecap="round"/>
<line x1="639.4" y1="196.9" x2="578.3" y2="178.6" stroke="#000" stroke-width="2.50" stroke-opacity="0.66" stroke-linecap="round"/>
</g>
</g></g>
<g clip-path="url(#cp17)"><g filter="url(#mb)">
<rect x="351.80" y="227.20" width="81.30" height="66.80" fill="#4a0505"/>
<rect x="351.80" y="227.20" width="81.30" height="66.80" fill="url(#pF)"/>
<g filter="url(#vb)">
<rect x="351.80" y="227.20" width="81.30" height="66.80" fill="url(#g17_0)"/>
<rect x="351.80" y="227.20" width="81.30" height="66.80" fill="url(#g17_1)"/>
</g>
</g></g>
<g clip-path="url(#cp18)"><g filter="url(#mb)">
<rect x="435.20" y="227.20" width="81.30" height="66.80" fill="#3a0404"/>
<rect x="435.20" y="227.20" width="81.30" height="66.80" fill="url(#pF)"/>
</g></g>
<g clip-path="url(#cp19)"><g filter="url(#mb)">
<rect x="519.20" y="227.20" width="81.30" height="66.80" fill="#100000"/>
<rect x="519.20" y="227.20" width="81.30" height="66.80" fill="url(#pFS)"/>
<g filter="url(#vb)">
<rect x="519.20" y="227.20" width="81.30" height="66.80" fill="url(#g19_0)"/>
</g>
</g></g>
<g clip-path="url(#cp20)"><g filter="url(#mb)">
<rect x="602.80" y="227.20" width="81.30" height="66.80" fill="#3a0404"/>
<rect x="602.80" y="227.20" width="81.30" height="66.80" fill="url(#pF)"/>
<g filter="url(#vb)">
<rect x="602.80" y="227.20" width="81.30" height="66.80" fill="url(#g20_0)"/>
<rect x="602.80" y="227.20" width="81.30" height="66.80" fill="url(#g20_1)"/>
</g>
</g></g>
<g clip-path="url(#cp21)"><g filter="url(#mb)">
<rect x="351.80" y="298.70" width="81.30" height="66.80" fill="#3a0404"/>
<rect x="351.80" y="298.70" width="81.30" height="66.80" fill="url(#pF)"/>
<g filter="url(#vb)">
<rect x="351.80" y="298.70" width="81.30" height="66.80" fill="url(#g21_0)"/>
</g>
</g></g>
<g clip-path="url(#cp22)"><g filter="url(#mb)">
<rect x="435.20" y="298.70" width="81.30" height="66.80" fill="#3a0404"/>
<rect x="435.20" y="298.70" width="81.30" height="66.80" fill="url(#pF)"/>
<g filter="url(#vb)">
<line x1="443.3" y1="325.4" x2="492.1" y2="338.8" stroke="#000" stroke-width="1.75" stroke-opacity="0.66" stroke-linecap="round"/>
<line x1="475.8" y1="338.8" x2="508.4" y2="372.2" stroke="#000" stroke-width="1.75" stroke-opacity="0.66" stroke-linecap="round"/>
<line x1="479.9" y1="298.7" x2="475.8" y2="338.8" stroke="#000" stroke-width="1.75" stroke-opacity="0.66" stroke-linecap="round"/>
</g>
</g></g>
<g clip-path="url(#cp23)"><g filter="url(#mb)">
<rect x="519.20" y="298.70" width="81.30" height="66.80" fill="#1a0000"/>
<rect x="519.20" y="298.70" width="81.30" height="66.80" fill="url(#pS)"/>
</g></g>
<g clip-path="url(#cp24)"><g filter="url(#mb)">
<rect x="602.80" y="298.70" width="81.30" height="66.80" fill="#080000"/>
<rect x="602.80" y="298.70" width="81.30" height="66.80" fill="url(#pS)"/>
<g filter="url(#vb)">
<rect x="602.80" y="298.70" width="81.30" height="66.80" fill="url(#g24_0)"/>
</g>
</g></g>
<rect x="81.2" y="219.2" width="10.7" height="1.8" fill="#fff"/>
<rect x="421.0" y="219.2" width="11.0" height="1.8" fill="#fff"/>
<rect x="243.20" y="380.20" width="17.8" height="4" fill="#eefaf0" stroke="#8f8f8f" stroke-width="0.9"/>
<rect x="243.20" y="390.40" width="17.8" height="4" fill="#4a7fa6" stroke="#7a8a96" stroke-width="0.9"/>
<rect x="243.20" y="400.60" width="17.8" height="4" fill="#1d3c66" stroke="#55606e" stroke-width="0.9"/>
<rect x="243.20" y="410.80" width="17.8" height="4" fill="#e2394a" stroke="#8a6a6a" stroke-width="0.9"/>
<rect x="103.70" y="483.52" width="9.40" height="98.88" fill="#eefaf0" stroke="#8f8f8f" stroke-width="0.9"/>
<rect x="118.32" y="513.19" width="9.40" height="69.21" fill="#4a7fa6" stroke="#7a8a96" stroke-width="0.9"/>
<rect x="132.94" y="492.62" width="9.40" height="89.78" fill="#1d3c66" stroke="#55606e" stroke-width="0.9"/>
<rect x="147.56" y="495.39" width="9.40" height="87.01" fill="#e2394a" stroke="#8a6a6a" stroke-width="0.9"/>
<rect x="171.70" y="481.15" width="9.40" height="101.25" fill="#eefaf0" stroke="#8f8f8f" stroke-width="0.9"/>
<rect x="186.32" y="508.44" width="9.40" height="73.96" fill="#4a7fa6" stroke="#7a8a96" stroke-width="0.9"/>
<rect x="200.94" y="500.14" width="9.40" height="82.26" fill="#1d3c66" stroke="#55606e" stroke-width="0.9"/>
<rect x="215.56" y="485.50" width="9.40" height="96.90" fill="#e2394a" stroke="#8a6a6a" stroke-width="0.9"/>
<rect x="239.40" y="503.30" width="9.40" height="79.10" fill="#eefaf0" stroke="#8f8f8f" stroke-width="0.9"/>
<rect x="254.02" y="525.45" width="9.40" height="56.95" fill="#4a7fa6" stroke="#7a8a96" stroke-width="0.9"/>
<rect x="268.64" y="541.27" width="9.40" height="41.13" fill="#1d3c66" stroke="#55606e" stroke-width="0.9"/>
<rect x="283.26" y="503.30" width="9.40" height="79.10" fill="#e2394a" stroke="#8a6a6a" stroke-width="0.9"/>
<path d="M105.7 508.6h1.3v1.3h-1.3zM107.7 449.3h1.3v1.3h-1.3zM109.8 462.6h1.3v1.3h-1.3zM105.3 494.0h1.3v1.3h-1.3zM107.4 507.8h1.3v1.3h-1.3zM110.6 454.2h1.3v1.3h-1.3zM104.8 461.3h1.3v1.3h-1.3zM108.2 504.8h1.3v1.3h-1.3zM110.9 495.8h1.3v1.3h-1.3zM105.3 471.5h1.3v1.3h-1.3zM108.0 474.6h1.3v1.3h-1.3zM110.1 473.2h1.3v1.3h-1.3zM104.7 499.9h1.3v1.3h-1.3zM107.2 472.8h1.3v1.3h-1.3zM110.7 489.4h1.3v1.3h-1.3zM105.2 489.8h1.3v1.3h-1.3zM107.2 478.0h1.3v1.3h-1.3zM110.6 483.0h1.3v1.3h-1.3zM104.6 474.3h1.3v1.3h-1.3zM108.3 497.8h1.3v1.3h-1.3zM110.8 463.7h1.3v1.3h-1.3zM105.2 487.8h1.3v1.3h-1.3zM108.1 483.2h1.3v1.3h-1.3zM109.8 479.4h1.3v1.3h-1.3zM105.7 472.3h1.3v1.3h-1.3zM107.8 453.8h1.3v1.3h-1.3zM109.9 489.8h1.3v1.3h-1.3zM105.4 499.8h1.3v1.3h-1.3zM108.3 502.4h1.3v1.3h-1.3zM110.0 484.5h1.3v1.3h-1.3z" fill="#151515"/>
<line x1="108.40" y1="480.55" x2="108.40" y2="483.52" stroke="#333" stroke-width="0.8"/>
<line x1="106.20" y1="480.55" x2="110.60" y2="480.55" stroke="#333" stroke-width="0.8"/>
<path d="M119.8 532.3h1.3v1.3h-1.3zM122.9 482.9h1.3v1.3h-1.3zM125.3 507.9h1.3v1.3h-1.3zM120.4 496.1h1.3v1.3h-1.3zM122.3 510.2h1.3v1.3h-1.3zM124.7 490.6h1.3v1.3h-1.3zM120.3 482.9h1.3v1.3h-1.3zM122.6 509.0h1.3v1.3h-1.3zM124.8 517.9h1.3v1.3h-1.3zM120.4 513.7h1.3v1.3h-1.3zM122.2 504.5h1.3v1.3h-1.3zM125.2 518.9h1.3v1.3h-1.3zM120.2 504.0h1.3v1.3h-1.3zM122.2 497.1h1.3v1.3h-1.3zM125.2 513.4h1.3v1.3h-1.3zM120.0 501.7h1.3v1.3h-1.3zM122.4 531.7h1.3v1.3h-1.3zM124.9 499.1h1.3v1.3h-1.3zM119.6 496.6h1.3v1.3h-1.3zM122.2 493.6h1.3v1.3h-1.3zM125.5 493.8h1.3v1.3h-1.3zM119.4 506.4h1.3v1.3h-1.3z" fill="#151515"/>
<line x1="123.02" y1="510.29" x2="123.02" y2="513.19" stroke="#333" stroke-width="0.8"/>
<line x1="120.82" y1="510.29" x2="125.22" y2="510.29" stroke="#333" stroke-width="0.8"/>
<path d="M134.7 506.6h1.3v1.3h-1.3zM137.3 475.0h1.3v1.3h-1.3zM139.4 485.5h1.3v1.3h-1.3zM134.7 484.3h1.3v1.3h-1.3zM136.9 501.5h1.3v1.3h-1.3zM139.7 492.3h1.3v1.3h-1.3zM134.1 491.7h1.3v1.3h-1.3zM136.8 502.4h1.3v1.3h-1.3zM139.0 500.5h1.3v1.3h-1.3zM134.6 494.6h1.3v1.3h-1.3zM137.5 499.1h1.3v1.3h-1.3zM139.3 493.8h1.3v1.3h-1.3zM134.8 503.0h1.3v1.3h-1.3zM137.1 505.5h1.3v1.3h-1.3zM139.3 489.4h1.3v1.3h-1.3zM134.8 476.3h1.3v1.3h-1.3zM137.2 480.9h1.3v1.3h-1.3zM139.6 502.1h1.3v1.3h-1.3z" fill="#151515"/>
<line x1="137.64" y1="490.57" x2="137.64" y2="492.62" stroke="#333" stroke-width="0.8"/>
<line x1="135.44" y1="490.57" x2="139.84" y2="490.57" stroke="#333" stroke-width="0.8"/>
<path d="M149.6 512.5h1.3v1.3h-1.3zM151.0 473.0h1.3v1.3h-1.3zM154.3 490.2h1.3v1.3h-1.3zM149.5 487.6h1.3v1.3h-1.3zM151.3 495.5h1.3v1.3h-1.3zM154.0 474.1h1.3v1.3h-1.3zM148.8 482.7h1.3v1.3h-1.3zM151.4 494.5h1.3v1.3h-1.3zM154.1 497.1h1.3v1.3h-1.3zM149.0 487.9h1.3v1.3h-1.3zM152.0 481.6h1.3v1.3h-1.3zM153.9 491.5h1.3v1.3h-1.3zM148.8 492.2h1.3v1.3h-1.3zM151.4 473.4h1.3v1.3h-1.3zM154.3 490.4h1.3v1.3h-1.3zM148.8 495.2h1.3v1.3h-1.3zM151.4 499.2h1.3v1.3h-1.3zM154.0 494.2h1.3v1.3h-1.3zM148.8 500.1h1.3v1.3h-1.3zM152.1 476.3h1.3v1.3h-1.3zM154.5 512.0h1.3v1.3h-1.3zM149.3 489.8h1.3v1.3h-1.3zM151.5 485.0h1.3v1.3h-1.3zM153.8 478.8h1.3v1.3h-1.3zM148.6 479.7h1.3v1.3h-1.3zM151.4 490.2h1.3v1.3h-1.3zM154.1 491.7h1.3v1.3h-1.3zM148.9 492.9h1.3v1.3h-1.3z" fill="#151515"/>
<line x1="152.26" y1="493.33" x2="152.26" y2="495.39" stroke="#333" stroke-width="0.8"/>
<line x1="150.06" y1="493.33" x2="154.46" y2="493.33" stroke="#333" stroke-width="0.8"/>
<path d="M173.6 522.4h1.3v1.3h-1.3zM176.1 453.2h1.3v1.3h-1.3zM178.6 498.6h1.3v1.3h-1.3zM172.7 463.6h1.3v1.3h-1.3zM176.3 492.5h1.3v1.3h-1.3zM178.8 507.6h1.3v1.3h-1.3zM173.1 480.2h1.3v1.3h-1.3zM175.2 479.3h1.3v1.3h-1.3zM177.8 496.2h1.3v1.3h-1.3zM173.5 482.6h1.3v1.3h-1.3zM175.5 502.8h1.3v1.3h-1.3zM178.1 473.0h1.3v1.3h-1.3zM172.8 474.2h1.3v1.3h-1.3zM175.8 473.4h1.3v1.3h-1.3zM178.0 494.2h1.3v1.3h-1.3zM172.9 499.9h1.3v1.3h-1.3zM175.4 471.4h1.3v1.3h-1.3zM178.5 496.8h1.3v1.3h-1.3zM173.3 513.8h1.3v1.3h-1.3zM175.7 461.7h1.3v1.3h-1.3zM177.7 467.3h1.3v1.3h-1.3zM173.8 515.3h1.3v1.3h-1.3zM176.3 510.7h1.3v1.3h-1.3zM178.4 489.2h1.3v1.3h-1.3zM173.0 506.2h1.3v1.3h-1.3zM175.3 497.0h1.3v1.3h-1.3zM178.2 472.2h1.3v1.3h-1.3zM173.3 484.0h1.3v1.3h-1.3zM175.2 505.4h1.3v1.3h-1.3zM178.8 519.7h1.3v1.3h-1.3z" fill="#151515"/>
<line x1="176.40" y1="477.68" x2="176.40" y2="481.15" stroke="#333" stroke-width="0.8"/>
<line x1="174.20" y1="477.68" x2="178.60" y2="477.68" stroke="#333" stroke-width="0.8"/>
<path d="M187.2 552.1h1.3v1.3h-1.3zM190.5 473.0h1.3v1.3h-1.3zM192.4 515.3h1.3v1.3h-1.3zM187.7 539.5h1.3v1.3h-1.3zM190.0 482.5h1.3v1.3h-1.3zM192.5 530.1h1.3v1.3h-1.3zM187.8 533.5h1.3v1.3h-1.3zM190.2 479.0h1.3v1.3h-1.3zM192.9 498.2h1.3v1.3h-1.3zM187.6 521.0h1.3v1.3h-1.3zM190.0 516.8h1.3v1.3h-1.3zM192.4 533.9h1.3v1.3h-1.3zM187.7 475.1h1.3v1.3h-1.3zM190.1 515.1h1.3v1.3h-1.3zM192.6 517.2h1.3v1.3h-1.3zM187.7 489.3h1.3v1.3h-1.3zM190.7 549.4h1.3v1.3h-1.3zM193.0 548.5h1.3v1.3h-1.3zM187.3 517.7h1.3v1.3h-1.3zM190.4 481.0h1.3v1.3h-1.3zM192.4 540.3h1.3v1.3h-1.3zM187.5 547.3h1.3v1.3h-1.3z" fill="#151515"/>
<line x1="191.02" y1="503.80" x2="191.02" y2="508.44" stroke="#333" stroke-width="0.8"/>
<line x1="188.82" y1="503.80" x2="193.22" y2="503.80" stroke="#333" stroke-width="0.8"/>
<path d="M201.9 562.0h1.3v1.3h-1.3zM204.6 459.1h1.3v1.3h-1.3zM207.6 520.6h1.3v1.3h-1.3zM202.0 529.7h1.3v1.3h-1.3zM205.1 467.2h1.3v1.3h-1.3zM207.6 550.1h1.3v1.3h-1.3zM202.3 503.2h1.3v1.3h-1.3zM204.8 477.7h1.3v1.3h-1.3zM207.2 477.0h1.3v1.3h-1.3zM202.0 529.9h1.3v1.3h-1.3zM204.5 503.8h1.3v1.3h-1.3zM207.0 536.8h1.3v1.3h-1.3zM202.1 502.6h1.3v1.3h-1.3zM204.4 489.9h1.3v1.3h-1.3zM207.4 532.6h1.3v1.3h-1.3zM202.2 518.7h1.3v1.3h-1.3zM205.2 487.3h1.3v1.3h-1.3zM207.9 509.7h1.3v1.3h-1.3z" fill="#151515"/>
<line x1="205.64" y1="493.47" x2="205.64" y2="500.14" stroke="#333" stroke-width="0.8"/>
<line x1="203.44" y1="493.47" x2="207.84" y2="493.47" stroke="#333" stroke-width="0.8"/>
<path d="M217.3 526.4h1.3v1.3h-1.3zM219.5 463.1h1.3v1.3h-1.3zM221.8 522.2h1.3v1.3h-1.3zM216.8 483.6h1.3v1.3h-1.3zM219.7 478.0h1.3v1.3h-1.3zM221.7 523.2h1.3v1.3h-1.3zM217.6 472.0h1.3v1.3h-1.3zM219.4 505.5h1.3v1.3h-1.3zM222.2 525.6h1.3v1.3h-1.3zM217.1 500.4h1.3v1.3h-1.3zM219.5 481.5h1.3v1.3h-1.3zM221.9 497.5h1.3v1.3h-1.3zM217.0 498.1h1.3v1.3h-1.3zM220.2 479.9h1.3v1.3h-1.3zM222.5 519.8h1.3v1.3h-1.3zM217.6 523.1h1.3v1.3h-1.3zM219.6 489.9h1.3v1.3h-1.3zM221.9 507.1h1.3v1.3h-1.3zM216.9 490.8h1.3v1.3h-1.3zM219.3 507.6h1.3v1.3h-1.3zM222.3 472.9h1.3v1.3h-1.3zM217.5 517.3h1.3v1.3h-1.3zM219.2 524.0h1.3v1.3h-1.3zM222.6 481.0h1.3v1.3h-1.3zM216.9 475.9h1.3v1.3h-1.3zM220.0 479.4h1.3v1.3h-1.3zM222.2 525.7h1.3v1.3h-1.3zM216.9 514.7h1.3v1.3h-1.3zM219.4 524.7h1.3v1.3h-1.3zM222.4 496.3h1.3v1.3h-1.3z" fill="#151515"/>
<line x1="220.26" y1="482.33" x2="220.26" y2="485.50" stroke="#333" stroke-width="0.8"/>
<line x1="218.06" y1="482.33" x2="222.46" y2="482.33" stroke="#333" stroke-width="0.8"/>
<path d="M241.3 564.0h1.3v1.3h-1.3zM243.5 465.1h1.3v1.3h-1.3zM246.2 516.7h1.3v1.3h-1.3zM240.4 535.9h1.3v1.3h-1.3zM243.5 528.8h1.3v1.3h-1.3zM246.5 513.5h1.3v1.3h-1.3zM240.4 493.2h1.3v1.3h-1.3zM243.9 483.5h1.3v1.3h-1.3zM246.1 486.0h1.3v1.3h-1.3zM241.4 512.9h1.3v1.3h-1.3zM243.5 467.6h1.3v1.3h-1.3zM245.9 563.7h1.3v1.3h-1.3zM241.4 499.4h1.3v1.3h-1.3zM243.0 514.5h1.3v1.3h-1.3zM245.8 501.2h1.3v1.3h-1.3zM240.6 538.3h1.3v1.3h-1.3zM243.6 511.3h1.3v1.3h-1.3zM246.1 549.7h1.3v1.3h-1.3zM240.8 484.5h1.3v1.3h-1.3zM243.9 511.7h1.3v1.3h-1.3zM246.1 536.2h1.3v1.3h-1.3zM240.5 553.2h1.3v1.3h-1.3zM243.1 504.3h1.3v1.3h-1.3zM246.2 505.2h1.3v1.3h-1.3zM240.9 524.9h1.3v1.3h-1.3zM243.9 500.9h1.3v1.3h-1.3zM246.2 506.8h1.3v1.3h-1.3zM240.5 535.4h1.3v1.3h-1.3zM243.0 554.8h1.3v1.3h-1.3zM246.3 521.3h1.3v1.3h-1.3z" fill="#151515"/>
<line x1="244.10" y1="498.34" x2="244.10" y2="503.30" stroke="#333" stroke-width="0.8"/>
<line x1="241.90" y1="498.34" x2="246.30" y2="498.34" stroke="#333" stroke-width="0.8"/>
<path d="M256.0 565.9h1.3v1.3h-1.3zM257.6 500.7h1.3v1.3h-1.3zM260.3 561.7h1.3v1.3h-1.3zM255.7 536.0h1.3v1.3h-1.3zM258.1 550.0h1.3v1.3h-1.3zM260.7 558.3h1.3v1.3h-1.3zM255.5 521.3h1.3v1.3h-1.3zM258.4 532.7h1.3v1.3h-1.3zM260.6 552.5h1.3v1.3h-1.3zM256.0 517.8h1.3v1.3h-1.3zM258.1 547.0h1.3v1.3h-1.3zM260.4 521.4h1.3v1.3h-1.3zM255.6 510.6h1.3v1.3h-1.3zM257.8 538.5h1.3v1.3h-1.3zM260.1 554.7h1.3v1.3h-1.3zM255.6 501.7h1.3v1.3h-1.3zM257.6 505.0h1.3v1.3h-1.3zM260.0 513.0h1.3v1.3h-1.3zM255.2 553.6h1.3v1.3h-1.3zM258.1 540.9h1.3v1.3h-1.3zM261.2 551.7h1.3v1.3h-1.3zM255.0 535.1h1.3v1.3h-1.3zM258.3 503.6h1.3v1.3h-1.3zM260.5 562.5h1.3v1.3h-1.3zM256.0 532.4h1.3v1.3h-1.3z" fill="#151515"/>
<line x1="258.72" y1="521.86" x2="258.72" y2="525.45" stroke="#333" stroke-width="0.8"/>
<line x1="256.52" y1="521.86" x2="260.92" y2="521.86" stroke="#333" stroke-width="0.8"/>
<path d="M269.6 562.0h1.3v1.3h-1.3zM273.1 496.7h1.3v1.3h-1.3zM275.5 517.0h1.3v1.3h-1.3zM270.1 531.7h1.3v1.3h-1.3zM272.6 522.5h1.3v1.3h-1.3zM275.0 531.3h1.3v1.3h-1.3zM270.1 552.4h1.3v1.3h-1.3zM273.2 537.1h1.3v1.3h-1.3zM275.6 555.0h1.3v1.3h-1.3zM269.8 538.0h1.3v1.3h-1.3zM272.3 530.4h1.3v1.3h-1.3zM275.5 544.6h1.3v1.3h-1.3zM269.7 511.4h1.3v1.3h-1.3zM272.9 498.4h1.3v1.3h-1.3zM275.4 554.7h1.3v1.3h-1.3zM270.1 537.9h1.3v1.3h-1.3zM272.4 498.9h1.3v1.3h-1.3zM275.3 544.8h1.3v1.3h-1.3zM270.4 541.9h1.3v1.3h-1.3zM272.6 511.7h1.3v1.3h-1.3z" fill="#151515"/>
<line x1="273.34" y1="537.26" x2="273.34" y2="541.27" stroke="#333" stroke-width="0.8"/>
<line x1="271.14" y1="537.26" x2="275.54" y2="537.26" stroke="#333" stroke-width="0.8"/>
<path d="M285.1 558.0h1.3v1.3h-1.3zM286.8 469.0h1.3v1.3h-1.3zM289.3 527.3h1.3v1.3h-1.3zM285.0 518.0h1.3v1.3h-1.3zM287.6 518.0h1.3v1.3h-1.3zM289.6 471.8h1.3v1.3h-1.3zM284.3 475.1h1.3v1.3h-1.3zM287.3 492.5h1.3v1.3h-1.3zM289.6 475.7h1.3v1.3h-1.3zM284.3 484.2h1.3v1.3h-1.3zM287.4 514.0h1.3v1.3h-1.3zM289.3 517.6h1.3v1.3h-1.3zM284.3 527.6h1.3v1.3h-1.3zM287.7 534.0h1.3v1.3h-1.3zM290.0 509.5h1.3v1.3h-1.3zM284.5 502.1h1.3v1.3h-1.3zM287.2 480.0h1.3v1.3h-1.3zM289.3 544.0h1.3v1.3h-1.3zM284.2 532.6h1.3v1.3h-1.3zM286.8 497.3h1.3v1.3h-1.3zM290.1 547.6h1.3v1.3h-1.3zM285.3 520.9h1.3v1.3h-1.3zM287.5 552.3h1.3v1.3h-1.3zM289.8 552.1h1.3v1.3h-1.3zM284.3 486.3h1.3v1.3h-1.3zM287.6 515.1h1.3v1.3h-1.3zM289.2 531.4h1.3v1.3h-1.3zM284.7 494.9h1.3v1.3h-1.3zM287.0 538.8h1.3v1.3h-1.3zM289.7 545.0h1.3v1.3h-1.3z" fill="#151515"/>
<line x1="287.96" y1="498.83" x2="287.96" y2="503.30" stroke="#333" stroke-width="0.8"/>
<line x1="285.76" y1="498.83" x2="290.16" y2="498.83" stroke="#333" stroke-width="0.8"/>
<line x1="98.30" y1="423.70" x2="98.30" y2="582.90" stroke="#111" stroke-width="1.1"/>
<line x1="97.80" y1="582.40" x2="296.80" y2="582.40" stroke="#111" stroke-width="1.1"/>
<line x1="93.30" y1="582.40" x2="98.30" y2="582.40" stroke="#111" stroke-width="1.0"/>
<line x1="93.30" y1="562.62" x2="98.30" y2="562.62" stroke="#111" stroke-width="1.0"/>
<line x1="93.30" y1="542.85" x2="98.30" y2="542.85" stroke="#111" stroke-width="1.0"/>
<line x1="93.30" y1="523.07" x2="98.30" y2="523.07" stroke="#111" stroke-width="1.0"/>
<line x1="93.30" y1="503.30" x2="98.30" y2="503.30" stroke="#111" stroke-width="1.0"/>
<line x1="93.30" y1="483.52" x2="98.30" y2="483.52" stroke="#111" stroke-width="1.0"/>
<line x1="93.30" y1="463.75" x2="98.30" y2="463.75" stroke="#111" stroke-width="1.0"/>
<line x1="93.30" y1="443.98" x2="98.30" y2="443.98" stroke="#111" stroke-width="1.0"/>
<line x1="93.30" y1="424.20" x2="98.30" y2="424.20" stroke="#111" stroke-width="1.0"/>
<line x1="130.33" y1="582.40" x2="130.33" y2="586.80" stroke="#111" stroke-width="1.0"/>
<line x1="198.33" y1="582.40" x2="198.33" y2="586.80" stroke="#111" stroke-width="1.0"/>
<line x1="266.03" y1="582.40" x2="266.03" y2="586.80" stroke="#111" stroke-width="1.0"/>
<line x1="108.10" y1="433.40" x2="138.40" y2="433.40" stroke="#222" stroke-width="0.9"/>
<line x1="107.60" y1="443.40" x2="123.80" y2="443.40" stroke="#222" stroke-width="0.9"/>
<line x1="137.00" y1="454.20" x2="153.70" y2="454.20" stroke="#222" stroke-width="0.9"/>
<line x1="175.20" y1="436.20" x2="205.80" y2="436.20" stroke="#222" stroke-width="0.9"/>
<line x1="175.20" y1="445.00" x2="191.60" y2="445.00" stroke="#222" stroke-width="0.9"/>
<line x1="205.00" y1="451.10" x2="221.60" y2="451.10" stroke="#222" stroke-width="0.9"/>
<line x1="243.90" y1="446.00" x2="273.80" y2="446.00" stroke="#222" stroke-width="0.9"/>
<line x1="243.30" y1="457.00" x2="259.30" y2="457.00" stroke="#222" stroke-width="0.9"/>
<line x1="271.40" y1="456.90" x2="288.20" y2="456.90" stroke="#222" stroke-width="0.9"/>
<rect x="579.00" y="381.20" width="17.8" height="4" fill="#eefaf0" stroke="#8f8f8f" stroke-width="0.9"/>
<rect x="579.00" y="390.95" width="17.8" height="4" fill="#4a7fa6" stroke="#7a8a96" stroke-width="0.9"/>
<rect x="579.00" y="400.70" width="17.8" height="4" fill="#1d3c66" stroke="#55606e" stroke-width="0.9"/>
<rect x="579.00" y="410.45" width="17.8" height="4" fill="#e2394a" stroke="#8a6a6a" stroke-width="0.9"/>
<rect x="438.30" y="484.06" width="9.40" height="98.54" fill="#eefaf0" stroke="#8f8f8f" stroke-width="0.9"/>
<rect x="452.75" y="491.18" width="9.40" height="91.42" fill="#4a7fa6" stroke="#7a8a96" stroke-width="0.9"/>
<rect x="467.20" y="498.70" width="9.40" height="83.90" fill="#1d3c66" stroke="#55606e" stroke-width="0.9"/>
<rect x="481.65" y="489.20" width="9.40" height="93.40" fill="#e2394a" stroke="#8a6a6a" stroke-width="0.9"/>
<rect x="505.40" y="476.93" width="9.40" height="105.67" fill="#eefaf0" stroke="#8f8f8f" stroke-width="0.9"/>
<rect x="519.85" y="488.02" width="9.40" height="94.58" fill="#4a7fa6" stroke="#7a8a96" stroke-width="0.9"/>
<rect x="534.30" y="491.18" width="9.40" height="91.42" fill="#1d3c66" stroke="#55606e" stroke-width="0.9"/>
<rect x="548.75" y="474.96" width="9.40" height="107.64" fill="#e2394a" stroke="#8a6a6a" stroke-width="0.9"/>
<rect x="572.90" y="490.79" width="9.40" height="91.81" fill="#eefaf0" stroke="#8f8f8f" stroke-width="0.9"/>
<rect x="587.35" y="521.26" width="9.40" height="61.34" fill="#4a7fa6" stroke="#7a8a96" stroke-width="0.9"/>
<rect x="601.80" y="525.61" width="9.40" height="56.99" fill="#1d3c66" stroke="#55606e" stroke-width="0.9"/>
<rect x="616.25" y="495.14" width="9.40" height="87.46" fill="#e2394a" stroke="#8a6a6a" stroke-width="0.9"/>
<path d="M440.0 504.8h1.3v1.3h-1.3zM442.2 459.3h1.3v1.3h-1.3zM444.3 481.7h1.3v1.3h-1.3zM439.3 501.6h1.3v1.3h-1.3zM441.9 467.1h1.3v1.3h-1.3zM445.4 476.2h1.3v1.3h-1.3zM440.4 486.7h1.3v1.3h-1.3zM442.1 465.7h1.3v1.3h-1.3zM444.7 499.4h1.3v1.3h-1.3zM440.0 487.4h1.3v1.3h-1.3zM441.8 479.9h1.3v1.3h-1.3zM445.1 495.4h1.3v1.3h-1.3zM439.9 490.5h1.3v1.3h-1.3zM442.7 491.1h1.3v1.3h-1.3zM444.9 486.2h1.3v1.3h-1.3zM440.4 481.6h1.3v1.3h-1.3zM442.7 485.7h1.3v1.3h-1.3zM444.3 482.5h1.3v1.3h-1.3z" fill="#151515"/>
<line x1="443.00" y1="481.11" x2="443.00" y2="484.06" stroke="#333" stroke-width="0.8"/>
<line x1="440.80" y1="481.11" x2="445.20" y2="481.11" stroke="#333" stroke-width="0.8"/>
<path d="M454.7 508.7h1.3v1.3h-1.3zM456.9 479.1h1.3v1.3h-1.3zM459.7 495.2h1.3v1.3h-1.3zM453.7 491.8h1.3v1.3h-1.3zM457.2 484.4h1.3v1.3h-1.3zM459.5 497.3h1.3v1.3h-1.3zM453.9 495.0h1.3v1.3h-1.3zM457.1 507.0h1.3v1.3h-1.3zM459.2 501.4h1.3v1.3h-1.3zM454.3 500.9h1.3v1.3h-1.3zM456.5 483.8h1.3v1.3h-1.3zM459.8 498.1h1.3v1.3h-1.3zM453.9 503.9h1.3v1.3h-1.3zM456.9 494.3h1.3v1.3h-1.3zM459.2 508.6h1.3v1.3h-1.3zM454.8 491.9h1.3v1.3h-1.3zM457.0 491.9h1.3v1.3h-1.3zM459.7 482.0h1.3v1.3h-1.3zM454.1 491.1h1.3v1.3h-1.3zM456.3 489.9h1.3v1.3h-1.3zM458.9 502.5h1.3v1.3h-1.3zM453.7 507.2h1.3v1.3h-1.3z" fill="#151515"/>
<line x1="457.45" y1="489.44" x2="457.45" y2="491.18" stroke="#333" stroke-width="0.8"/>
<line x1="455.25" y1="489.44" x2="459.65" y2="489.44" stroke="#333" stroke-width="0.8"/>
<path d="M468.5 524.6h1.3v1.3h-1.3zM471.4 477.1h1.3v1.3h-1.3zM473.6 512.6h1.3v1.3h-1.3zM469.1 518.7h1.3v1.3h-1.3zM470.8 502.0h1.3v1.3h-1.3zM473.5 508.3h1.3v1.3h-1.3zM469.3 520.2h1.3v1.3h-1.3zM471.3 517.6h1.3v1.3h-1.3zM474.4 499.5h1.3v1.3h-1.3zM468.6 501.8h1.3v1.3h-1.3zM471.3 487.9h1.3v1.3h-1.3zM474.2 511.4h1.3v1.3h-1.3zM469.1 485.2h1.3v1.3h-1.3zM471.1 506.9h1.3v1.3h-1.3zM473.5 523.2h1.3v1.3h-1.3zM469.3 491.7h1.3v1.3h-1.3zM471.8 480.1h1.3v1.3h-1.3zM473.5 510.7h1.3v1.3h-1.3zM468.9 514.9h1.3v1.3h-1.3zM471.4 493.2h1.3v1.3h-1.3z" fill="#151515"/>
<line x1="471.90" y1="495.78" x2="471.90" y2="498.70" stroke="#333" stroke-width="0.8"/>
<line x1="469.70" y1="495.78" x2="474.10" y2="495.78" stroke="#333" stroke-width="0.8"/>
<path d="M483.7 518.6h1.3v1.3h-1.3zM485.3 463.2h1.3v1.3h-1.3zM488.8 487.2h1.3v1.3h-1.3zM483.7 496.4h1.3v1.3h-1.3zM485.3 510.4h1.3v1.3h-1.3zM488.6 492.2h1.3v1.3h-1.3zM483.2 490.7h1.3v1.3h-1.3zM486.3 517.8h1.3v1.3h-1.3zM488.2 478.2h1.3v1.3h-1.3zM482.9 489.9h1.3v1.3h-1.3zM485.8 505.3h1.3v1.3h-1.3zM487.8 495.4h1.3v1.3h-1.3zM483.3 496.1h1.3v1.3h-1.3zM485.7 481.6h1.3v1.3h-1.3zM487.7 489.6h1.3v1.3h-1.3zM482.6 508.5h1.3v1.3h-1.3zM486.0 500.7h1.3v1.3h-1.3zM488.3 500.6h1.3v1.3h-1.3zM482.7 475.2h1.3v1.3h-1.3zM485.4 504.9h1.3v1.3h-1.3zM488.5 489.0h1.3v1.3h-1.3zM483.2 489.4h1.3v1.3h-1.3zM485.6 480.2h1.3v1.3h-1.3zM488.8 492.1h1.3v1.3h-1.3zM482.9 468.2h1.3v1.3h-1.3zM486.1 466.4h1.3v1.3h-1.3zM488.2 511.9h1.3v1.3h-1.3zM482.6 505.3h1.3v1.3h-1.3zM485.3 472.1h1.3v1.3h-1.3zM488.7 496.4h1.3v1.3h-1.3zM483.0 486.2h1.3v1.3h-1.3zM486.1 463.8h1.3v1.3h-1.3zM488.3 494.7h1.3v1.3h-1.3zM482.9 507.8h1.3v1.3h-1.3zM485.6 502.7h1.3v1.3h-1.3z" fill="#151515"/>
<line x1="486.35" y1="486.63" x2="486.35" y2="489.20" stroke="#333" stroke-width="0.8"/>
<line x1="484.15" y1="486.63" x2="488.55" y2="486.63" stroke="#333" stroke-width="0.8"/>
<path d="M507.1 508.7h1.3v1.3h-1.3zM510.0 455.3h1.3v1.3h-1.3zM511.7 480.0h1.3v1.3h-1.3zM506.6 467.1h1.3v1.3h-1.3zM509.9 486.2h1.3v1.3h-1.3zM512.5 497.8h1.3v1.3h-1.3zM506.4 471.3h1.3v1.3h-1.3zM509.4 472.0h1.3v1.3h-1.3zM512.1 458.6h1.3v1.3h-1.3zM506.4 483.6h1.3v1.3h-1.3zM509.5 487.6h1.3v1.3h-1.3zM512.0 498.1h1.3v1.3h-1.3zM506.5 502.9h1.3v1.3h-1.3zM509.2 498.0h1.3v1.3h-1.3zM511.7 468.2h1.3v1.3h-1.3zM506.7 499.2h1.3v1.3h-1.3zM508.9 495.4h1.3v1.3h-1.3zM512.0 489.0h1.3v1.3h-1.3zM506.8 484.0h1.3v1.3h-1.3zM509.3 464.1h1.3v1.3h-1.3zM512.6 472.0h1.3v1.3h-1.3zM507.2 464.3h1.3v1.3h-1.3z" fill="#151515"/>
<line x1="510.10" y1="473.80" x2="510.10" y2="476.93" stroke="#333" stroke-width="0.8"/>
<line x1="507.90" y1="473.80" x2="512.30" y2="473.80" stroke="#333" stroke-width="0.8"/>
<path d="M520.8 518.6h1.3v1.3h-1.3zM524.2 451.4h1.3v1.3h-1.3zM525.9 507.6h1.3v1.3h-1.3zM521.1 466.8h1.3v1.3h-1.3zM523.9 498.9h1.3v1.3h-1.3zM526.2 488.6h1.3v1.3h-1.3zM521.1 467.5h1.3v1.3h-1.3zM523.3 496.2h1.3v1.3h-1.3zM526.4 486.7h1.3v1.3h-1.3zM520.8 484.7h1.3v1.3h-1.3zM523.8 512.6h1.3v1.3h-1.3zM526.2 517.1h1.3v1.3h-1.3zM521.4 479.2h1.3v1.3h-1.3zM524.4 472.4h1.3v1.3h-1.3zM527.0 496.7h1.3v1.3h-1.3zM521.5 469.9h1.3v1.3h-1.3zM524.4 462.4h1.3v1.3h-1.3zM526.0 466.6h1.3v1.3h-1.3zM521.8 484.7h1.3v1.3h-1.3zM524.4 471.2h1.3v1.3h-1.3zM525.9 487.6h1.3v1.3h-1.3zM520.9 494.4h1.3v1.3h-1.3zM524.1 478.7h1.3v1.3h-1.3zM526.8 502.1h1.3v1.3h-1.3zM521.6 483.7h1.3v1.3h-1.3zM523.6 469.1h1.3v1.3h-1.3zM526.7 500.8h1.3v1.3h-1.3zM521.9 468.9h1.3v1.3h-1.3zM523.9 492.9h1.3v1.3h-1.3zM526.6 472.1h1.3v1.3h-1.3z" fill="#151515"/>
<line x1="524.55" y1="484.64" x2="524.55" y2="488.02" stroke="#333" stroke-width="0.8"/>
<line x1="522.35" y1="484.64" x2="526.75" y2="484.64" stroke="#333" stroke-width="0.8"/>
<path d="M535.5 530.5h1.3v1.3h-1.3zM537.8 467.2h1.3v1.3h-1.3zM541.1 513.5h1.3v1.3h-1.3zM535.8 499.9h1.3v1.3h-1.3zM537.9 501.0h1.3v1.3h-1.3zM541.4 493.2h1.3v1.3h-1.3zM536.2 501.4h1.3v1.3h-1.3zM538.0 507.8h1.3v1.3h-1.3zM540.5 505.4h1.3v1.3h-1.3zM535.4 470.2h1.3v1.3h-1.3zM538.6 486.3h1.3v1.3h-1.3zM540.9 473.7h1.3v1.3h-1.3zM535.8 530.3h1.3v1.3h-1.3zM537.9 511.4h1.3v1.3h-1.3zM541.3 510.5h1.3v1.3h-1.3zM536.2 483.0h1.3v1.3h-1.3zM538.6 471.8h1.3v1.3h-1.3zM540.8 509.5h1.3v1.3h-1.3zM535.7 500.4h1.3v1.3h-1.3zM537.9 527.4h1.3v1.3h-1.3zM540.6 491.8h1.3v1.3h-1.3zM535.4 498.1h1.3v1.3h-1.3zM538.8 470.0h1.3v1.3h-1.3zM541.4 481.6h1.3v1.3h-1.3zM535.3 484.9h1.3v1.3h-1.3z" fill="#151515"/>
<line x1="539.00" y1="487.70" x2="539.00" y2="491.18" stroke="#333" stroke-width="0.8"/>
<line x1="536.80" y1="487.70" x2="541.20" y2="487.70" stroke="#333" stroke-width="0.8"/>
<path d="M550.4 518.6h1.3v1.3h-1.3zM553.3 447.4h1.3v1.3h-1.3zM555.2 485.0h1.3v1.3h-1.3zM550.8 466.0h1.3v1.3h-1.3zM552.6 471.9h1.3v1.3h-1.3zM554.9 490.5h1.3v1.3h-1.3zM550.7 503.8h1.3v1.3h-1.3zM553.3 503.0h1.3v1.3h-1.3zM555.0 497.6h1.3v1.3h-1.3zM549.8 494.3h1.3v1.3h-1.3zM552.9 500.2h1.3v1.3h-1.3zM555.2 477.2h1.3v1.3h-1.3zM550.1 491.8h1.3v1.3h-1.3zM553.4 498.9h1.3v1.3h-1.3zM555.5 482.8h1.3v1.3h-1.3zM550.0 501.3h1.3v1.3h-1.3zM553.3 486.9h1.3v1.3h-1.3zM554.8 486.8h1.3v1.3h-1.3zM550.4 469.9h1.3v1.3h-1.3zM553.3 490.7h1.3v1.3h-1.3zM555.0 453.5h1.3v1.3h-1.3zM550.3 507.6h1.3v1.3h-1.3zM553.0 459.4h1.3v1.3h-1.3zM554.8 482.7h1.3v1.3h-1.3zM550.4 477.6h1.3v1.3h-1.3zM552.5 509.5h1.3v1.3h-1.3zM554.8 489.8h1.3v1.3h-1.3zM550.1 477.1h1.3v1.3h-1.3zM552.2 475.8h1.3v1.3h-1.3zM555.9 485.8h1.3v1.3h-1.3zM549.9 470.2h1.3v1.3h-1.3zM553.0 450.2h1.3v1.3h-1.3zM555.3 517.1h1.3v1.3h-1.3zM550.5 494.5h1.3v1.3h-1.3zM552.6 509.3h1.3v1.3h-1.3z" fill="#151515"/>
<line x1="553.45" y1="471.64" x2="553.45" y2="474.96" stroke="#333" stroke-width="0.8"/>
<line x1="551.25" y1="471.64" x2="555.65" y2="471.64" stroke="#333" stroke-width="0.8"/>
<path d="M574.0 548.3h1.3v1.3h-1.3zM576.6 449.4h1.3v1.3h-1.3zM579.2 492.3h1.3v1.3h-1.3zM574.2 473.1h1.3v1.3h-1.3zM576.6 514.5h1.3v1.3h-1.3zM580.0 482.5h1.3v1.3h-1.3zM574.1 509.4h1.3v1.3h-1.3zM576.4 538.7h1.3v1.3h-1.3zM579.9 459.4h1.3v1.3h-1.3zM574.2 452.9h1.3v1.3h-1.3zM577.2 455.7h1.3v1.3h-1.3zM579.3 482.6h1.3v1.3h-1.3zM574.0 515.5h1.3v1.3h-1.3zM576.8 520.6h1.3v1.3h-1.3zM579.1 494.5h1.3v1.3h-1.3zM574.8 467.0h1.3v1.3h-1.3zM576.9 543.4h1.3v1.3h-1.3zM579.1 457.3h1.3v1.3h-1.3zM573.8 459.6h1.3v1.3h-1.3zM577.3 468.0h1.3v1.3h-1.3zM579.0 544.9h1.3v1.3h-1.3zM574.9 498.6h1.3v1.3h-1.3z" fill="#151515"/>
<line x1="577.60" y1="484.99" x2="577.60" y2="490.79" stroke="#333" stroke-width="0.8"/>
<line x1="575.40" y1="484.99" x2="579.80" y2="484.99" stroke="#333" stroke-width="0.8"/>
<path d="M589.4 550.3h1.3v1.3h-1.3zM591.2 467.2h1.3v1.3h-1.3zM594.2 550.0h1.3v1.3h-1.3zM588.3 484.8h1.3v1.3h-1.3zM591.9 510.8h1.3v1.3h-1.3zM593.9 523.8h1.3v1.3h-1.3zM588.5 473.2h1.3v1.3h-1.3zM591.7 485.4h1.3v1.3h-1.3zM593.8 523.4h1.3v1.3h-1.3zM589.2 538.8h1.3v1.3h-1.3zM590.8 544.9h1.3v1.3h-1.3zM594.5 523.2h1.3v1.3h-1.3zM588.4 498.2h1.3v1.3h-1.3zM591.7 508.9h1.3v1.3h-1.3zM593.8 530.8h1.3v1.3h-1.3zM589.3 491.2h1.3v1.3h-1.3zM591.2 510.3h1.3v1.3h-1.3zM594.2 519.3h1.3v1.3h-1.3zM588.6 529.7h1.3v1.3h-1.3zM591.5 476.8h1.3v1.3h-1.3zM594.5 517.4h1.3v1.3h-1.3zM589.2 531.1h1.3v1.3h-1.3zM591.4 504.9h1.3v1.3h-1.3zM593.4 477.4h1.3v1.3h-1.3zM588.5 540.4h1.3v1.3h-1.3zM591.2 487.4h1.3v1.3h-1.3zM594.3 520.8h1.3v1.3h-1.3zM589.0 521.1h1.3v1.3h-1.3z" fill="#151515"/>
<line x1="592.05" y1="516.94" x2="592.05" y2="521.26" stroke="#333" stroke-width="0.8"/>
<line x1="589.85" y1="516.94" x2="594.25" y2="516.94" stroke="#333" stroke-width="0.8"/>
<path d="M602.9 564.1h1.3v1.3h-1.3zM606.0 477.1h1.3v1.3h-1.3zM608.2 554.8h1.3v1.3h-1.3zM603.0 542.5h1.3v1.3h-1.3zM605.4 537.5h1.3v1.3h-1.3zM608.6 516.2h1.3v1.3h-1.3zM603.5 549.9h1.3v1.3h-1.3zM605.6 539.5h1.3v1.3h-1.3zM608.2 525.9h1.3v1.3h-1.3zM603.9 488.9h1.3v1.3h-1.3zM606.1 547.0h1.3v1.3h-1.3zM608.9 563.6h1.3v1.3h-1.3zM603.2 492.7h1.3v1.3h-1.3zM605.3 537.0h1.3v1.3h-1.3zM608.9 508.4h1.3v1.3h-1.3zM603.2 510.0h1.3v1.3h-1.3zM605.6 551.4h1.3v1.3h-1.3zM607.9 483.6h1.3v1.3h-1.3zM603.9 494.1h1.3v1.3h-1.3zM606.4 553.1h1.3v1.3h-1.3zM608.9 540.8h1.3v1.3h-1.3zM603.5 485.4h1.3v1.3h-1.3zM605.5 523.0h1.3v1.3h-1.3zM608.8 490.5h1.3v1.3h-1.3zM603.2 545.1h1.3v1.3h-1.3z" fill="#151515"/>
<line x1="606.50" y1="520.82" x2="606.50" y2="525.61" stroke="#333" stroke-width="0.8"/>
<line x1="604.30" y1="520.82" x2="608.70" y2="520.82" stroke="#333" stroke-width="0.8"/>
<path d="M617.3 550.3h1.3v1.3h-1.3zM620.8 451.4h1.3v1.3h-1.3zM623.1 494.7h1.3v1.3h-1.3zM617.3 467.4h1.3v1.3h-1.3zM620.5 495.9h1.3v1.3h-1.3zM622.9 508.7h1.3v1.3h-1.3zM617.7 485.1h1.3v1.3h-1.3zM620.4 548.0h1.3v1.3h-1.3zM623.2 527.0h1.3v1.3h-1.3zM617.7 518.7h1.3v1.3h-1.3zM620.2 537.6h1.3v1.3h-1.3zM622.9 506.6h1.3v1.3h-1.3zM617.3 487.3h1.3v1.3h-1.3zM619.8 486.5h1.3v1.3h-1.3zM623.4 512.9h1.3v1.3h-1.3zM618.4 465.5h1.3v1.3h-1.3zM620.9 500.4h1.3v1.3h-1.3zM623.3 455.6h1.3v1.3h-1.3zM618.3 472.3h1.3v1.3h-1.3zM620.6 515.6h1.3v1.3h-1.3zM622.6 461.6h1.3v1.3h-1.3zM618.3 518.3h1.3v1.3h-1.3zM620.3 524.3h1.3v1.3h-1.3zM622.5 546.6h1.3v1.3h-1.3zM618.0 457.6h1.3v1.3h-1.3zM619.8 503.1h1.3v1.3h-1.3zM622.7 487.3h1.3v1.3h-1.3zM618.2 494.1h1.3v1.3h-1.3zM620.5 452.0h1.3v1.3h-1.3zM622.6 471.4h1.3v1.3h-1.3zM618.1 503.9h1.3v1.3h-1.3zM620.6 532.8h1.3v1.3h-1.3zM622.5 469.2h1.3v1.3h-1.3zM618.0 472.6h1.3v1.3h-1.3zM619.7 550.1h1.3v1.3h-1.3zM622.8 489.3h1.3v1.3h-1.3zM617.3 461.7h1.3v1.3h-1.3zM619.7 485.7h1.3v1.3h-1.3z" fill="#151515"/>
<line x1="620.95" y1="490.73" x2="620.95" y2="495.14" stroke="#333" stroke-width="0.8"/>
<line x1="618.75" y1="490.73" x2="623.15" y2="490.73" stroke="#333" stroke-width="0.8"/>
<line x1="432.60" y1="423.80" x2="432.60" y2="583.10" stroke="#111" stroke-width="1.1"/>
<line x1="432.10" y1="582.60" x2="631.00" y2="582.60" stroke="#111" stroke-width="1.1"/>
<line x1="427.60" y1="582.60" x2="432.60" y2="582.60" stroke="#111" stroke-width="1.0"/>
<line x1="427.60" y1="562.81" x2="432.60" y2="562.81" stroke="#111" stroke-width="1.0"/>
<line x1="427.60" y1="543.02" x2="432.60" y2="543.02" stroke="#111" stroke-width="1.0"/>
<line x1="427.60" y1="523.24" x2="432.60" y2="523.24" stroke="#111" stroke-width="1.0"/>
<line x1="427.60" y1="503.45" x2="432.60" y2="503.45" stroke="#111" stroke-width="1.0"/>
<line x1="427.60" y1="483.66" x2="432.60" y2="483.66" stroke="#111" stroke-width="1.0"/>
<line x1="427.60" y1="463.88" x2="432.60" y2="463.88" stroke="#111" stroke-width="1.0"/>
<line x1="427.60" y1="444.09" x2="432.60" y2="444.09" stroke="#111" stroke-width="1.0"/>
<line x1="427.60" y1="424.30" x2="432.60" y2="424.30" stroke="#111" stroke-width="1.0"/>
<line x1="464.68" y1="582.60" x2="464.68" y2="587.00" stroke="#111" stroke-width="1.0"/>
<line x1="531.77" y1="582.60" x2="531.77" y2="587.00" stroke="#111" stroke-width="1.0"/>
<line x1="599.27" y1="582.60" x2="599.27" y2="587.00" stroke="#111" stroke-width="1.0"/>
<line x1="442.20" y1="441.30" x2="471.80" y2="441.30" stroke="#222" stroke-width="0.9"/>
<line x1="442.20" y1="450.50" x2="458.60" y2="450.50" stroke="#222" stroke-width="0.9"/>
<line x1="471.40" y1="458.40" x2="487.70" y2="458.40" stroke="#222" stroke-width="0.9"/>
<line x1="509.90" y1="432.40" x2="539.80" y2="432.40" stroke="#222" stroke-width="0.9"/>
<line x1="509.90" y1="442.70" x2="526.00" y2="442.70" stroke="#222" stroke-width="0.9"/>
<line x1="539.00" y1="443.70" x2="555.60" y2="443.70" stroke="#222" stroke-width="0.9"/>
<line x1="577.30" y1="432.30" x2="607.70" y2="432.30" stroke="#222" stroke-width="0.9"/>
<line x1="576.70" y1="441.40" x2="592.90" y2="441.40" stroke="#222" stroke-width="0.9"/>
<line x1="606.10" y1="449.20" x2="623.10" y2="449.20" stroke="#222" stroke-width="0.9"/>
<rect x="242.40" y="767.30" width="17.8" height="4" fill="#eefaf0" stroke="#8f8f8f" stroke-width="0.9"/>
<rect x="242.40" y="777.45" width="17.8" height="4" fill="#4a7fa6" stroke="#7a8a96" stroke-width="0.9"/>
<rect x="242.40" y="787.60" width="17.8" height="4" fill="#1d3c66" stroke="#55606e" stroke-width="0.9"/>
<rect x="242.40" y="797.75" width="17.8" height="4" fill="#e2394a" stroke="#8a6a6a" stroke-width="0.9"/>
<rect x="103.00" y="878.43" width="9.50" height="83.27" fill="#eefaf0" stroke="#8f8f8f" stroke-width="0.9"/>
<rect x="117.60" y="893.81" width="9.50" height="67.89" fill="#4a7fa6" stroke="#7a8a96" stroke-width="0.9"/>
<rect x="132.20" y="890.19" width="9.50" height="71.51" fill="#1d3c66" stroke="#55606e" stroke-width="0.9"/>
<rect x="146.80" y="874.81" width="9.50" height="86.89" fill="#e2394a" stroke="#8a6a6a" stroke-width="0.9"/>
<rect x="170.80" y="859.87" width="9.50" height="101.83" fill="#eefaf0" stroke="#8f8f8f" stroke-width="0.9"/>
<rect x="185.40" y="878.43" width="9.50" height="83.27" fill="#4a7fa6" stroke="#7a8a96" stroke-width="0.9"/>
<rect x="200.00" y="871.64" width="9.50" height="90.06" fill="#1d3c66" stroke="#55606e" stroke-width="0.9"/>
<rect x="214.60" y="857.16" width="9.50" height="104.54" fill="#e2394a" stroke="#8a6a6a" stroke-width="0.9"/>
<rect x="238.50" y="884.31" width="9.50" height="77.39" fill="#eefaf0" stroke="#8f8f8f" stroke-width="0.9"/>
<rect x="253.10" y="913.73" width="9.50" height="47.97" fill="#4a7fa6" stroke="#7a8a96" stroke-width="0.9"/>
<rect x="267.70" y="919.61" width="9.50" height="42.09" fill="#1d3c66" stroke="#55606e" stroke-width="0.9"/>
<rect x="282.30" y="889.74" width="9.50" height="71.96" fill="#e2394a" stroke="#8a6a6a" stroke-width="0.9"/>
<path d="M105.0 900.0h1.3v1.3h-1.3zM107.2 847.9h1.3v1.3h-1.3zM109.8 873.3h1.3v1.3h-1.3zM104.0 889.6h1.3v1.3h-1.3zM107.7 880.8h1.3v1.3h-1.3zM109.3 866.9h1.3v1.3h-1.3zM104.0 872.5h1.3v1.3h-1.3zM106.5 887.4h1.3v1.3h-1.3zM110.1 877.0h1.3v1.3h-1.3zM104.5 866.6h1.3v1.3h-1.3zM107.7 880.8h1.3v1.3h-1.3zM109.4 859.7h1.3v1.3h-1.3zM104.0 884.9h1.3v1.3h-1.3zM107.0 867.5h1.3v1.3h-1.3zM109.3 877.9h1.3v1.3h-1.3zM104.4 862.2h1.3v1.3h-1.3zM107.4 867.2h1.3v1.3h-1.3zM109.5 895.4h1.3v1.3h-1.3zM104.2 877.2h1.3v1.3h-1.3zM107.5 896.8h1.3v1.3h-1.3zM109.6 870.8h1.3v1.3h-1.3zM104.1 861.9h1.3v1.3h-1.3z" fill="#151515"/>
<line x1="107.75" y1="875.38" x2="107.75" y2="878.43" stroke="#333" stroke-width="0.8"/>
<line x1="105.55" y1="875.38" x2="109.95" y2="875.38" stroke="#333" stroke-width="0.8"/>
<path d="M118.8 920.3h1.3v1.3h-1.3zM122.1 868.3h1.3v1.3h-1.3zM123.9 874.3h1.3v1.3h-1.3zM119.3 875.9h1.3v1.3h-1.3zM121.4 868.8h1.3v1.3h-1.3zM124.1 880.1h1.3v1.3h-1.3zM118.6 916.5h1.3v1.3h-1.3zM121.8 907.7h1.3v1.3h-1.3zM124.8 896.7h1.3v1.3h-1.3zM119.6 890.4h1.3v1.3h-1.3zM122.2 912.3h1.3v1.3h-1.3zM124.6 908.9h1.3v1.3h-1.3zM119.6 890.5h1.3v1.3h-1.3zM121.1 906.6h1.3v1.3h-1.3z" fill="#151515"/>
<line x1="122.35" y1="889.99" x2="122.35" y2="893.81" stroke="#333" stroke-width="0.8"/>
<line x1="120.15" y1="889.99" x2="124.55" y2="889.99" stroke="#333" stroke-width="0.8"/>
<path d="M133.4 906.7h1.3v1.3h-1.3zM135.9 861.5h1.3v1.3h-1.3zM138.9 900.0h1.3v1.3h-1.3zM134.2 886.5h1.3v1.3h-1.3zM136.0 906.0h1.3v1.3h-1.3zM138.5 904.0h1.3v1.3h-1.3zM133.3 880.8h1.3v1.3h-1.3zM136.9 866.4h1.3v1.3h-1.3zM138.4 877.9h1.3v1.3h-1.3zM134.2 905.9h1.3v1.3h-1.3zM136.5 884.5h1.3v1.3h-1.3zM138.6 873.7h1.3v1.3h-1.3zM134.0 892.7h1.3v1.3h-1.3zM136.7 874.1h1.3v1.3h-1.3zM139.3 883.3h1.3v1.3h-1.3zM134.2 879.4h1.3v1.3h-1.3z" fill="#151515"/>
<line x1="136.95" y1="887.08" x2="136.95" y2="890.19" stroke="#333" stroke-width="0.8"/>
<line x1="134.75" y1="887.08" x2="139.15" y2="887.08" stroke="#333" stroke-width="0.8"/>
<path d="M148.2 895.4h1.3v1.3h-1.3zM150.4 845.6h1.3v1.3h-1.3zM153.7 848.8h1.3v1.3h-1.3zM148.4 858.8h1.3v1.3h-1.3zM150.4 853.7h1.3v1.3h-1.3zM153.4 879.7h1.3v1.3h-1.3zM148.3 860.7h1.3v1.3h-1.3zM150.3 866.1h1.3v1.3h-1.3zM153.1 861.7h1.3v1.3h-1.3zM148.5 850.3h1.3v1.3h-1.3zM150.7 851.0h1.3v1.3h-1.3zM153.8 879.8h1.3v1.3h-1.3zM148.4 863.9h1.3v1.3h-1.3zM150.9 888.6h1.3v1.3h-1.3zM154.0 856.6h1.3v1.3h-1.3zM148.3 887.0h1.3v1.3h-1.3zM150.8 884.8h1.3v1.3h-1.3zM153.9 875.3h1.3v1.3h-1.3z" fill="#151515"/>
<line x1="151.55" y1="871.58" x2="151.55" y2="874.81" stroke="#333" stroke-width="0.8"/>
<line x1="149.35" y1="871.58" x2="153.75" y2="871.58" stroke="#333" stroke-width="0.8"/>
<path d="M171.8 884.1h1.3v1.3h-1.3zM175.0 832.1h1.3v1.3h-1.3zM176.9 842.9h1.3v1.3h-1.3zM171.8 860.4h1.3v1.3h-1.3zM174.4 874.3h1.3v1.3h-1.3zM177.7 856.1h1.3v1.3h-1.3zM172.0 841.4h1.3v1.3h-1.3zM174.3 874.8h1.3v1.3h-1.3zM177.1 846.9h1.3v1.3h-1.3zM172.6 866.1h1.3v1.3h-1.3zM175.2 852.1h1.3v1.3h-1.3zM178.0 842.9h1.3v1.3h-1.3zM172.6 835.6h1.3v1.3h-1.3zM175.1 860.5h1.3v1.3h-1.3zM177.9 859.5h1.3v1.3h-1.3zM172.5 847.5h1.3v1.3h-1.3zM175.3 846.5h1.3v1.3h-1.3zM177.9 859.9h1.3v1.3h-1.3zM172.7 844.7h1.3v1.3h-1.3zM175.3 836.8h1.3v1.3h-1.3z" fill="#151515"/>
<line x1="175.55" y1="856.67" x2="175.55" y2="859.87" stroke="#333" stroke-width="0.8"/>
<line x1="173.35" y1="856.67" x2="177.75" y2="856.67" stroke="#333" stroke-width="0.8"/>
<path d="M186.9 922.6h1.3v1.3h-1.3zM189.5 847.9h1.3v1.3h-1.3zM191.5 862.2h1.3v1.3h-1.3zM187.3 903.6h1.3v1.3h-1.3zM189.5 911.5h1.3v1.3h-1.3zM192.6 865.5h1.3v1.3h-1.3zM186.4 851.7h1.3v1.3h-1.3zM189.2 883.3h1.3v1.3h-1.3zM192.5 879.2h1.3v1.3h-1.3zM186.8 899.3h1.3v1.3h-1.3zM189.9 881.2h1.3v1.3h-1.3zM191.7 881.6h1.3v1.3h-1.3z" fill="#151515"/>
<line x1="190.15" y1="872.50" x2="190.15" y2="878.43" stroke="#333" stroke-width="0.8"/>
<line x1="187.95" y1="872.50" x2="192.35" y2="872.50" stroke="#333" stroke-width="0.8"/>
<path d="M201.7 913.5h1.3v1.3h-1.3zM204.1 852.4h1.3v1.3h-1.3zM206.7 864.6h1.3v1.3h-1.3zM201.0 871.3h1.3v1.3h-1.3zM204.6 888.2h1.3v1.3h-1.3zM206.2 890.9h1.3v1.3h-1.3zM202.0 863.7h1.3v1.3h-1.3zM203.7 894.1h1.3v1.3h-1.3zM207.0 881.3h1.3v1.3h-1.3zM201.2 901.7h1.3v1.3h-1.3zM204.2 892.8h1.3v1.3h-1.3zM206.2 868.9h1.3v1.3h-1.3zM201.2 898.2h1.3v1.3h-1.3zM204.0 886.8h1.3v1.3h-1.3z" fill="#151515"/>
<line x1="204.75" y1="867.15" x2="204.75" y2="871.64" stroke="#333" stroke-width="0.8"/>
<line x1="202.55" y1="867.15" x2="206.95" y2="867.15" stroke="#333" stroke-width="0.8"/>
<path d="M215.7 888.6h1.3v1.3h-1.3zM218.9 823.0h1.3v1.3h-1.3zM221.4 832.8h1.3v1.3h-1.3zM216.5 856.7h1.3v1.3h-1.3zM219.2 867.9h1.3v1.3h-1.3zM221.7 823.1h1.3v1.3h-1.3zM216.4 872.9h1.3v1.3h-1.3zM219.1 882.3h1.3v1.3h-1.3zM220.8 836.8h1.3v1.3h-1.3zM215.6 843.7h1.3v1.3h-1.3zM219.2 843.9h1.3v1.3h-1.3zM221.6 868.3h1.3v1.3h-1.3zM215.8 843.6h1.3v1.3h-1.3zM218.1 881.7h1.3v1.3h-1.3zM221.3 854.9h1.3v1.3h-1.3zM215.8 876.5h1.3v1.3h-1.3zM218.2 825.7h1.3v1.3h-1.3zM221.2 826.2h1.3v1.3h-1.3zM216.2 862.6h1.3v1.3h-1.3zM218.1 849.2h1.3v1.3h-1.3zM221.2 855.0h1.3v1.3h-1.3zM215.7 868.9h1.3v1.3h-1.3zM219.2 887.6h1.3v1.3h-1.3zM221.4 837.3h1.3v1.3h-1.3z" fill="#151515"/>
<line x1="219.35" y1="853.47" x2="219.35" y2="857.16" stroke="#333" stroke-width="0.8"/>
<line x1="217.15" y1="853.47" x2="221.55" y2="853.47" stroke="#333" stroke-width="0.8"/>
<path d="M240.0 933.9h1.3v1.3h-1.3zM243.1 841.1h1.3v1.3h-1.3zM245.1 860.0h1.3v1.3h-1.3zM240.4 860.9h1.3v1.3h-1.3zM242.1 881.6h1.3v1.3h-1.3zM244.6 890.4h1.3v1.3h-1.3zM240.2 874.6h1.3v1.3h-1.3zM242.8 846.3h1.3v1.3h-1.3zM245.2 872.7h1.3v1.3h-1.3zM240.6 897.8h1.3v1.3h-1.3zM243.2 866.0h1.3v1.3h-1.3zM245.5 876.8h1.3v1.3h-1.3zM239.5 896.6h1.3v1.3h-1.3zM242.1 899.0h1.3v1.3h-1.3zM245.2 849.9h1.3v1.3h-1.3zM240.1 844.2h1.3v1.3h-1.3zM242.1 866.7h1.3v1.3h-1.3zM244.6 863.5h1.3v1.3h-1.3zM239.6 904.6h1.3v1.3h-1.3zM242.1 877.2h1.3v1.3h-1.3zM245.3 889.9h1.3v1.3h-1.3zM240.2 907.4h1.3v1.3h-1.3zM242.9 907.6h1.3v1.3h-1.3zM244.9 932.6h1.3v1.3h-1.3z" fill="#151515"/>
<line x1="243.25" y1="879.10" x2="243.25" y2="884.31" stroke="#333" stroke-width="0.8"/>
<line x1="241.05" y1="879.10" x2="245.45" y2="879.10" stroke="#333" stroke-width="0.8"/>
<path d="M254.9 945.2h1.3v1.3h-1.3zM257.5 872.8h1.3v1.3h-1.3zM260.3 873.6h1.3v1.3h-1.3zM254.6 879.6h1.3v1.3h-1.3zM256.9 874.7h1.3v1.3h-1.3zM260.0 877.3h1.3v1.3h-1.3zM255.0 874.3h1.3v1.3h-1.3zM257.1 918.4h1.3v1.3h-1.3zM259.8 941.4h1.3v1.3h-1.3zM254.8 913.1h1.3v1.3h-1.3zM257.3 926.2h1.3v1.3h-1.3zM259.8 888.9h1.3v1.3h-1.3z" fill="#151515"/>
<line x1="257.85" y1="907.98" x2="257.85" y2="913.73" stroke="#333" stroke-width="0.8"/>
<line x1="255.65" y1="907.98" x2="260.05" y2="907.98" stroke="#333" stroke-width="0.8"/>
<path d="M268.9 954.3h1.3v1.3h-1.3zM272.1 868.3h1.3v1.3h-1.3zM274.6 927.1h1.3v1.3h-1.3zM269.4 903.4h1.3v1.3h-1.3zM272.4 935.4h1.3v1.3h-1.3zM273.8 914.8h1.3v1.3h-1.3zM269.4 917.7h1.3v1.3h-1.3zM271.3 907.7h1.3v1.3h-1.3zM274.4 896.1h1.3v1.3h-1.3zM268.9 917.6h1.3v1.3h-1.3zM272.2 890.2h1.3v1.3h-1.3zM274.7 944.0h1.3v1.3h-1.3zM269.1 912.0h1.3v1.3h-1.3zM271.6 884.6h1.3v1.3h-1.3zM274.4 897.7h1.3v1.3h-1.3zM269.1 896.3h1.3v1.3h-1.3z" fill="#151515"/>
<line x1="272.45" y1="913.70" x2="272.45" y2="919.61" stroke="#333" stroke-width="0.8"/>
<line x1="270.25" y1="913.70" x2="274.65" y2="913.70" stroke="#333" stroke-width="0.8"/>
<path d="M283.3 940.7h1.3v1.3h-1.3zM286.4 859.2h1.3v1.3h-1.3zM288.5 896.9h1.3v1.3h-1.3zM283.3 886.7h1.3v1.3h-1.3zM286.6 881.6h1.3v1.3h-1.3zM288.8 929.0h1.3v1.3h-1.3zM284.1 921.0h1.3v1.3h-1.3zM286.9 865.9h1.3v1.3h-1.3zM288.7 890.1h1.3v1.3h-1.3zM284.4 908.1h1.3v1.3h-1.3zM286.2 915.8h1.3v1.3h-1.3zM288.8 908.5h1.3v1.3h-1.3zM284.2 894.8h1.3v1.3h-1.3zM286.5 872.6h1.3v1.3h-1.3zM289.4 878.9h1.3v1.3h-1.3zM283.9 938.9h1.3v1.3h-1.3zM287.0 894.5h1.3v1.3h-1.3zM289.0 905.3h1.3v1.3h-1.3zM284.1 933.9h1.3v1.3h-1.3zM286.0 911.4h1.3v1.3h-1.3zM288.6 904.3h1.3v1.3h-1.3zM283.7 888.3h1.3v1.3h-1.3z" fill="#151515"/>
<line x1="287.05" y1="884.96" x2="287.05" y2="889.74" stroke="#333" stroke-width="0.8"/>
<line x1="284.85" y1="884.96" x2="289.25" y2="884.96" stroke="#333" stroke-width="0.8"/>
<line x1="98.40" y1="802.80" x2="98.40" y2="962.20" stroke="#111" stroke-width="1.1"/>
<line x1="97.90" y1="961.70" x2="297.50" y2="961.70" stroke="#111" stroke-width="1.1"/>
<line x1="93.40" y1="961.70" x2="98.40" y2="961.70" stroke="#111" stroke-width="1.0"/>
<line x1="93.40" y1="939.07" x2="98.40" y2="939.07" stroke="#111" stroke-width="1.0"/>
<line x1="93.40" y1="916.44" x2="98.40" y2="916.44" stroke="#111" stroke-width="1.0"/>
<line x1="93.40" y1="893.81" x2="98.40" y2="893.81" stroke="#111" stroke-width="1.0"/>
<line x1="93.40" y1="871.19" x2="98.40" y2="871.19" stroke="#111" stroke-width="1.0"/>
<line x1="93.40" y1="848.56" x2="98.40" y2="848.56" stroke="#111" stroke-width="1.0"/>
<line x1="93.40" y1="825.93" x2="98.40" y2="825.93" stroke="#111" stroke-width="1.0"/>
<line x1="93.40" y1="803.30" x2="98.40" y2="803.30" stroke="#111" stroke-width="1.0"/>
<line x1="129.65" y1="961.70" x2="129.65" y2="966.10" stroke="#111" stroke-width="1.0"/>
<line x1="197.45" y1="961.70" x2="197.45" y2="966.10" stroke="#111" stroke-width="1.0"/>
<line x1="265.15" y1="961.70" x2="265.15" y2="966.10" stroke="#111" stroke-width="1.0"/>
<line x1="109.20" y1="828.60" x2="138.80" y2="828.60" stroke="#222" stroke-width="0.9"/>
<line x1="109.20" y1="838.60" x2="124.20" y2="838.60" stroke="#222" stroke-width="0.9"/>
<line x1="136.40" y1="838.40" x2="151.20" y2="838.40" stroke="#222" stroke-width="0.9"/>
<line x1="174.30" y1="814.40" x2="203.40" y2="814.40" stroke="#222" stroke-width="0.9"/>
<line x1="174.30" y1="822.10" x2="188.60" y2="822.10" stroke="#222" stroke-width="0.9"/>
<line x1="204.40" y1="820.30" x2="218.80" y2="820.30" stroke="#222" stroke-width="0.9"/>
<line x1="240.90" y1="826.30" x2="269.90" y2="826.30" stroke="#222" stroke-width="0.9"/>
<line x1="241.40" y1="835.40" x2="255.90" y2="835.40" stroke="#222" stroke-width="0.9"/>
<line x1="270.10" y1="836.40" x2="285.00" y2="836.40" stroke="#222" stroke-width="0.9"/>
<rect x="577.70" y="767.20" width="17.8" height="4" fill="#eefaf0" stroke="#8f8f8f" stroke-width="0.9"/>
<rect x="577.70" y="776.95" width="17.8" height="4" fill="#4a7fa6" stroke="#7a8a96" stroke-width="0.9"/>
<rect x="577.70" y="786.70" width="17.8" height="4" fill="#1d3c66" stroke="#55606e" stroke-width="0.9"/>
<rect x="577.70" y="796.45" width="17.8" height="4" fill="#e2394a" stroke="#8a6a6a" stroke-width="0.9"/>
<rect x="437.60" y="880.13" width="9.30" height="82.07" fill="#eefaf0" stroke="#8f8f8f" stroke-width="0.9"/>
<rect x="452.15" y="891.01" width="9.30" height="71.19" fill="#4a7fa6" stroke="#7a8a96" stroke-width="0.9"/>
<rect x="466.70" y="895.09" width="9.30" height="67.11" fill="#1d3c66" stroke="#55606e" stroke-width="0.9"/>
<rect x="481.25" y="875.60" width="9.30" height="86.60" fill="#e2394a" stroke="#8a6a6a" stroke-width="0.9"/>
<rect x="505.10" y="861.09" width="9.30" height="101.11" fill="#eefaf0" stroke="#8f8f8f" stroke-width="0.9"/>
<rect x="519.65" y="888.74" width="9.30" height="73.46" fill="#4a7fa6" stroke="#7a8a96" stroke-width="0.9"/>
<rect x="534.20" y="880.58" width="9.30" height="81.62" fill="#1d3c66" stroke="#55606e" stroke-width="0.9"/>
<rect x="548.75" y="863.81" width="9.30" height="98.39" fill="#e2394a" stroke="#8a6a6a" stroke-width="0.9"/>
<rect x="572.50" y="880.13" width="9.30" height="82.07" fill="#eefaf0" stroke="#8f8f8f" stroke-width="0.9"/>
<rect x="587.05" y="917.31" width="9.30" height="44.89" fill="#4a7fa6" stroke="#7a8a96" stroke-width="0.9"/>
<rect x="601.60" y="911.87" width="9.30" height="50.33" fill="#1d3c66" stroke="#55606e" stroke-width="0.9"/>
<rect x="616.15" y="879.68" width="9.30" height="82.52" fill="#e2394a" stroke="#8a6a6a" stroke-width="0.9"/>
<path d="M439.3 913.9h1.3v1.3h-1.3zM441.2 848.2h1.3v1.3h-1.3zM443.7 865.7h1.3v1.3h-1.3zM438.8 899.9h1.3v1.3h-1.3zM441.7 858.9h1.3v1.3h-1.3zM443.7 895.8h1.3v1.3h-1.3zM439.5 860.8h1.3v1.3h-1.3zM441.3 856.6h1.3v1.3h-1.3zM444.2 873.1h1.3v1.3h-1.3zM439.0 890.0h1.3v1.3h-1.3zM442.0 906.2h1.3v1.3h-1.3zM444.2 858.8h1.3v1.3h-1.3zM439.0 887.3h1.3v1.3h-1.3zM441.6 900.6h1.3v1.3h-1.3zM444.2 883.7h1.3v1.3h-1.3zM439.1 905.3h1.3v1.3h-1.3zM441.2 898.4h1.3v1.3h-1.3zM444.3 909.1h1.3v1.3h-1.3z" fill="#151515"/>
<line x1="442.25" y1="875.87" x2="442.25" y2="880.13" stroke="#333" stroke-width="0.8"/>
<line x1="440.05" y1="875.87" x2="444.45" y2="875.87" stroke="#333" stroke-width="0.8"/>
<path d="M454.2 904.9h1.3v1.3h-1.3zM456.5 875.4h1.3v1.3h-1.3zM458.6 893.1h1.3v1.3h-1.3zM453.3 880.0h1.3v1.3h-1.3zM455.7 888.8h1.3v1.3h-1.3zM458.3 885.3h1.3v1.3h-1.3zM453.5 887.6h1.3v1.3h-1.3zM455.7 895.5h1.3v1.3h-1.3zM458.1 899.9h1.3v1.3h-1.3zM453.1 888.7h1.3v1.3h-1.3zM455.7 894.8h1.3v1.3h-1.3zM458.2 875.5h1.3v1.3h-1.3zM453.8 896.9h1.3v1.3h-1.3zM456.0 891.0h1.3v1.3h-1.3z" fill="#151515"/>
<line x1="456.80" y1="888.85" x2="456.80" y2="891.01" stroke="#333" stroke-width="0.8"/>
<line x1="454.60" y1="888.85" x2="459.00" y2="888.85" stroke="#333" stroke-width="0.8"/>
<path d="M468.2 952.5h1.3v1.3h-1.3zM470.9 852.7h1.3v1.3h-1.3zM473.2 949.3h1.3v1.3h-1.3zM468.4 902.8h1.3v1.3h-1.3zM470.5 910.3h1.3v1.3h-1.3zM472.9 923.8h1.3v1.3h-1.3zM468.1 948.7h1.3v1.3h-1.3zM470.8 876.9h1.3v1.3h-1.3zM472.8 875.3h1.3v1.3h-1.3zM468.0 897.2h1.3v1.3h-1.3zM470.3 909.1h1.3v1.3h-1.3zM472.9 905.8h1.3v1.3h-1.3zM467.6 913.7h1.3v1.3h-1.3zM470.6 916.5h1.3v1.3h-1.3zM473.3 900.9h1.3v1.3h-1.3zM468.0 872.3h1.3v1.3h-1.3zM470.1 919.0h1.3v1.3h-1.3zM472.8 865.9h1.3v1.3h-1.3zM468.0 915.4h1.3v1.3h-1.3zM470.9 906.0h1.3v1.3h-1.3z" fill="#151515"/>
<line x1="471.35" y1="888.96" x2="471.35" y2="895.09" stroke="#333" stroke-width="0.8"/>
<line x1="469.15" y1="888.96" x2="473.55" y2="888.96" stroke="#333" stroke-width="0.8"/>
<path d="M482.7 916.2h1.3v1.3h-1.3zM485.7 843.7h1.3v1.3h-1.3zM487.8 907.0h1.3v1.3h-1.3zM483.3 886.0h1.3v1.3h-1.3zM484.7 909.9h1.3v1.3h-1.3zM487.3 863.5h1.3v1.3h-1.3zM483.1 848.5h1.3v1.3h-1.3zM485.6 871.1h1.3v1.3h-1.3zM487.3 878.0h1.3v1.3h-1.3zM482.7 843.9h1.3v1.3h-1.3zM485.2 859.3h1.3v1.3h-1.3zM487.5 914.1h1.3v1.3h-1.3zM482.4 848.2h1.3v1.3h-1.3zM485.8 870.2h1.3v1.3h-1.3zM487.7 889.2h1.3v1.3h-1.3zM482.6 889.7h1.3v1.3h-1.3zM485.3 902.4h1.3v1.3h-1.3zM487.4 856.6h1.3v1.3h-1.3zM482.5 873.5h1.3v1.3h-1.3zM485.7 879.3h1.3v1.3h-1.3zM487.9 862.1h1.3v1.3h-1.3zM482.2 846.6h1.3v1.3h-1.3zM484.8 880.5h1.3v1.3h-1.3zM488.3 879.9h1.3v1.3h-1.3zM482.9 880.9h1.3v1.3h-1.3zM484.7 877.7h1.3v1.3h-1.3z" fill="#151515"/>
<line x1="485.90" y1="871.68" x2="485.90" y2="875.60" stroke="#333" stroke-width="0.8"/>
<line x1="483.70" y1="871.68" x2="488.10" y2="871.68" stroke="#333" stroke-width="0.8"/>
<path d="M506.4 902.6h1.3v1.3h-1.3zM509.3 830.1h1.3v1.3h-1.3zM511.9 836.3h1.3v1.3h-1.3zM507.1 836.3h1.3v1.3h-1.3zM509.4 847.7h1.3v1.3h-1.3zM511.2 871.8h1.3v1.3h-1.3zM506.8 878.9h1.3v1.3h-1.3zM509.6 855.9h1.3v1.3h-1.3zM511.6 843.5h1.3v1.3h-1.3zM507.1 872.6h1.3v1.3h-1.3zM508.9 833.5h1.3v1.3h-1.3zM511.5 844.7h1.3v1.3h-1.3zM506.5 867.9h1.3v1.3h-1.3zM509.0 838.4h1.3v1.3h-1.3zM511.9 861.7h1.3v1.3h-1.3zM506.2 887.0h1.3v1.3h-1.3zM509.7 880.8h1.3v1.3h-1.3zM511.4 834.9h1.3v1.3h-1.3zM506.1 831.9h1.3v1.3h-1.3zM508.6 893.3h1.3v1.3h-1.3z" fill="#151515"/>
<line x1="509.75" y1="856.62" x2="509.75" y2="861.09" stroke="#333" stroke-width="0.8"/>
<line x1="507.55" y1="856.62" x2="511.95" y2="856.62" stroke="#333" stroke-width="0.8"/>
<path d="M520.7 929.8h1.3v1.3h-1.3zM523.1 848.2h1.3v1.3h-1.3zM526.6 883.7h1.3v1.3h-1.3zM521.5 872.3h1.3v1.3h-1.3zM523.8 921.3h1.3v1.3h-1.3zM526.5 887.3h1.3v1.3h-1.3zM521.1 872.2h1.3v1.3h-1.3zM523.4 909.8h1.3v1.3h-1.3zM526.6 884.6h1.3v1.3h-1.3zM520.7 871.4h1.3v1.3h-1.3zM524.2 888.3h1.3v1.3h-1.3zM525.8 863.8h1.3v1.3h-1.3zM521.1 921.4h1.3v1.3h-1.3zM523.7 872.3h1.3v1.3h-1.3z" fill="#151515"/>
<line x1="524.30" y1="882.75" x2="524.30" y2="888.74" stroke="#333" stroke-width="0.8"/>
<line x1="522.10" y1="882.75" x2="526.50" y2="882.75" stroke="#333" stroke-width="0.8"/>
<path d="M535.4 925.3h1.3v1.3h-1.3zM537.6 836.9h1.3v1.3h-1.3zM541.1 916.9h1.3v1.3h-1.3zM535.3 886.9h1.3v1.3h-1.3zM537.9 879.3h1.3v1.3h-1.3zM540.1 845.2h1.3v1.3h-1.3zM536.0 858.8h1.3v1.3h-1.3zM538.3 859.7h1.3v1.3h-1.3zM540.8 848.3h1.3v1.3h-1.3zM536.1 879.1h1.3v1.3h-1.3zM538.5 907.7h1.3v1.3h-1.3zM540.5 887.3h1.3v1.3h-1.3zM536.1 889.8h1.3v1.3h-1.3zM538.5 875.9h1.3v1.3h-1.3zM541.0 877.8h1.3v1.3h-1.3zM535.8 853.0h1.3v1.3h-1.3zM537.9 908.6h1.3v1.3h-1.3zM541.2 881.2h1.3v1.3h-1.3zM536.0 894.4h1.3v1.3h-1.3zM537.8 850.3h1.3v1.3h-1.3z" fill="#151515"/>
<line x1="538.85" y1="875.15" x2="538.85" y2="880.58" stroke="#333" stroke-width="0.8"/>
<line x1="536.65" y1="875.15" x2="541.05" y2="875.15" stroke="#333" stroke-width="0.8"/>
<path d="M549.7 909.4h1.3v1.3h-1.3zM553.0 830.1h1.3v1.3h-1.3zM554.7 875.8h1.3v1.3h-1.3zM550.4 863.0h1.3v1.3h-1.3zM552.3 840.0h1.3v1.3h-1.3zM555.4 867.5h1.3v1.3h-1.3zM550.3 835.2h1.3v1.3h-1.3zM553.1 904.7h1.3v1.3h-1.3zM555.2 895.4h1.3v1.3h-1.3zM549.7 856.4h1.3v1.3h-1.3zM552.7 872.4h1.3v1.3h-1.3zM555.5 872.1h1.3v1.3h-1.3zM550.0 864.5h1.3v1.3h-1.3zM552.7 844.8h1.3v1.3h-1.3zM554.8 881.0h1.3v1.3h-1.3zM549.9 885.9h1.3v1.3h-1.3zM552.2 904.9h1.3v1.3h-1.3zM555.5 845.6h1.3v1.3h-1.3zM550.4 878.8h1.3v1.3h-1.3zM552.4 898.3h1.3v1.3h-1.3zM555.5 846.9h1.3v1.3h-1.3zM550.5 903.3h1.3v1.3h-1.3zM552.9 895.9h1.3v1.3h-1.3zM555.2 884.9h1.3v1.3h-1.3zM549.9 887.6h1.3v1.3h-1.3zM553.0 866.6h1.3v1.3h-1.3z" fill="#151515"/>
<line x1="553.40" y1="859.53" x2="553.40" y2="863.81" stroke="#333" stroke-width="0.8"/>
<line x1="551.20" y1="859.53" x2="555.60" y2="859.53" stroke="#333" stroke-width="0.8"/>
<path d="M573.7 936.6h1.3v1.3h-1.3zM576.6 834.6h1.3v1.3h-1.3zM579.1 856.9h1.3v1.3h-1.3zM573.9 912.0h1.3v1.3h-1.3zM577.0 915.7h1.3v1.3h-1.3zM579.5 929.4h1.3v1.3h-1.3zM574.1 899.4h1.3v1.3h-1.3zM576.6 881.8h1.3v1.3h-1.3zM579.0 876.3h1.3v1.3h-1.3zM574.3 870.4h1.3v1.3h-1.3zM576.8 846.1h1.3v1.3h-1.3zM579.6 861.7h1.3v1.3h-1.3zM573.5 878.1h1.3v1.3h-1.3zM576.2 866.5h1.3v1.3h-1.3zM578.6 905.2h1.3v1.3h-1.3zM573.4 897.4h1.3v1.3h-1.3zM576.5 837.2h1.3v1.3h-1.3zM579.1 911.2h1.3v1.3h-1.3zM574.1 924.2h1.3v1.3h-1.3zM575.9 887.8h1.3v1.3h-1.3z" fill="#151515"/>
<line x1="577.15" y1="873.86" x2="577.15" y2="880.13" stroke="#333" stroke-width="0.8"/>
<line x1="574.95" y1="873.86" x2="579.35" y2="873.86" stroke="#333" stroke-width="0.8"/>
<path d="M588.9 957.0h1.3v1.3h-1.3zM591.5 866.3h1.3v1.3h-1.3zM593.0 869.9h1.3v1.3h-1.3zM588.9 888.9h1.3v1.3h-1.3zM591.1 906.4h1.3v1.3h-1.3zM594.1 948.3h1.3v1.3h-1.3zM588.4 937.1h1.3v1.3h-1.3zM591.2 881.2h1.3v1.3h-1.3zM593.2 890.1h1.3v1.3h-1.3zM588.8 910.0h1.3v1.3h-1.3zM591.5 947.5h1.3v1.3h-1.3zM593.6 930.3h1.3v1.3h-1.3zM588.7 918.6h1.3v1.3h-1.3zM590.6 910.9h1.3v1.3h-1.3zM593.2 926.8h1.3v1.3h-1.3zM588.4 897.6h1.3v1.3h-1.3z" fill="#151515"/>
<line x1="591.70" y1="911.08" x2="591.70" y2="917.31" stroke="#333" stroke-width="0.8"/>
<line x1="589.50" y1="911.08" x2="593.90" y2="911.08" stroke="#333" stroke-width="0.8"/>
<path d="M602.6 952.5h1.3v1.3h-1.3zM605.5 850.5h1.3v1.3h-1.3zM608.0 915.1h1.3v1.3h-1.3zM603.3 922.3h1.3v1.3h-1.3zM605.2 945.5h1.3v1.3h-1.3zM608.3 892.1h1.3v1.3h-1.3zM603.0 904.8h1.3v1.3h-1.3zM605.1 856.1h1.3v1.3h-1.3zM608.6 860.3h1.3v1.3h-1.3zM603.4 903.3h1.3v1.3h-1.3zM605.5 866.0h1.3v1.3h-1.3zM607.8 899.4h1.3v1.3h-1.3zM603.0 864.5h1.3v1.3h-1.3zM605.2 915.1h1.3v1.3h-1.3zM608.7 867.0h1.3v1.3h-1.3zM602.9 923.2h1.3v1.3h-1.3zM605.4 929.8h1.3v1.3h-1.3zM607.8 937.5h1.3v1.3h-1.3zM602.8 891.9h1.3v1.3h-1.3zM605.1 949.4h1.3v1.3h-1.3z" fill="#151515"/>
<line x1="606.25" y1="905.60" x2="606.25" y2="911.87" stroke="#333" stroke-width="0.8"/>
<line x1="604.05" y1="905.60" x2="608.45" y2="905.60" stroke="#333" stroke-width="0.8"/>
<path d="M617.5 943.4h1.3v1.3h-1.3zM619.9 839.1h1.3v1.3h-1.3zM622.1 918.5h1.3v1.3h-1.3zM617.2 921.0h1.3v1.3h-1.3zM620.7 864.2h1.3v1.3h-1.3zM622.6 897.9h1.3v1.3h-1.3zM617.8 899.3h1.3v1.3h-1.3zM620.1 861.6h1.3v1.3h-1.3zM622.7 850.0h1.3v1.3h-1.3zM617.6 849.1h1.3v1.3h-1.3zM620.4 874.2h1.3v1.3h-1.3zM623.0 905.3h1.3v1.3h-1.3zM617.7 866.5h1.3v1.3h-1.3zM619.9 910.4h1.3v1.3h-1.3zM622.7 847.1h1.3v1.3h-1.3zM617.5 921.6h1.3v1.3h-1.3zM619.9 859.2h1.3v1.3h-1.3zM622.5 844.6h1.3v1.3h-1.3zM617.6 915.8h1.3v1.3h-1.3zM619.9 854.1h1.3v1.3h-1.3zM622.6 891.7h1.3v1.3h-1.3zM617.3 911.6h1.3v1.3h-1.3zM619.6 903.6h1.3v1.3h-1.3zM622.1 842.8h1.3v1.3h-1.3zM618.1 849.5h1.3v1.3h-1.3zM619.9 912.6h1.3v1.3h-1.3zM622.9 889.9h1.3v1.3h-1.3zM618.1 902.8h1.3v1.3h-1.3z" fill="#151515"/>
<line x1="620.80" y1="874.26" x2="620.80" y2="879.68" stroke="#333" stroke-width="0.8"/>
<line x1="618.60" y1="874.26" x2="623.00" y2="874.26" stroke="#333" stroke-width="0.8"/>
<line x1="432.20" y1="803.00" x2="432.20" y2="962.70" stroke="#111" stroke-width="1.1"/>
<line x1="431.70" y1="962.20" x2="631.00" y2="962.20" stroke="#111" stroke-width="1.1"/>
<line x1="427.20" y1="962.20" x2="432.20" y2="962.20" stroke="#111" stroke-width="1.0"/>
<line x1="427.20" y1="939.53" x2="432.20" y2="939.53" stroke="#111" stroke-width="1.0"/>
<line x1="427.20" y1="916.86" x2="432.20" y2="916.86" stroke="#111" stroke-width="1.0"/>
<line x1="427.20" y1="894.19" x2="432.20" y2="894.19" stroke="#111" stroke-width="1.0"/>
<line x1="427.20" y1="871.51" x2="432.20" y2="871.51" stroke="#111" stroke-width="1.0"/>
<line x1="427.20" y1="848.84" x2="432.20" y2="848.84" stroke="#111" stroke-width="1.0"/>
<line x1="427.20" y1="826.17" x2="432.20" y2="826.17" stroke="#111" stroke-width="1.0"/>
<line x1="427.20" y1="803.50" x2="432.20" y2="803.50" stroke="#111" stroke-width="1.0"/>
<line x1="464.07" y1="962.20" x2="464.07" y2="966.60" stroke="#111" stroke-width="1.0"/>
<line x1="531.58" y1="962.20" x2="531.58" y2="966.60" stroke="#111" stroke-width="1.0"/>
<line x1="598.98" y1="962.20" x2="598.98" y2="966.60" stroke="#111" stroke-width="1.0"/>
<line x1="440.80" y1="828.60" x2="470.00" y2="828.60" stroke="#222" stroke-width="0.9"/>
<line x1="440.80" y1="839.00" x2="455.80" y2="839.00" stroke="#222" stroke-width="0.9"/>
<line x1="470.40" y1="838.40" x2="485.60" y2="838.40" stroke="#222" stroke-width="0.9"/>
<line x1="509.80" y1="815.40" x2="538.80" y2="815.40" stroke="#222" stroke-width="0.9"/>
<line x1="509.80" y1="826.20" x2="524.60" y2="826.20" stroke="#222" stroke-width="0.9"/>
<line x1="537.80" y1="825.80" x2="553.00" y2="825.80" stroke="#222" stroke-width="0.9"/>
<line x1="577.30" y1="820.20" x2="605.80" y2="820.20" stroke="#222" stroke-width="0.9"/>
<line x1="577.30" y1="830.60" x2="591.80" y2="830.60" stroke="#222" stroke-width="0.9"/>
<line x1="605.30" y1="832.90" x2="620.10" y2="832.90" stroke="#222" stroke-width="0.9"/>
<g filter="url(#tb)" fill="#000" stroke="#000" stroke-width="0.15" text-rendering="geometricPrecision"><text x="4.50" y="7.60" font-size="9.5">a</text>
<text transform="translate(53.30,13.80) scale(0.905,1)" font-size="10.0">Beads+salin</text>
<text transform="translate(135.20,13.80) scale(0.905,1)" font-size="10.0">Beads+Lac-Z</text>
<text transform="translate(225.40,13.80) scale(0.905,1)" font-size="10.0">Beads+Y-25</text>
<text transform="translate(307.20,13.80) scale(0.905,1)" font-size="10.0">WT</text>
<text transform="translate(33.20,118.80) scale(0.93,1)" font-size="10.0" text-anchor="end">10</text>
<text transform="translate(33.20,89.47) scale(0.93,1)" font-size="10.0" text-anchor="end">15</text>
<text transform="translate(33.20,60.13) scale(0.93,1)" font-size="10.0" text-anchor="end">20</text>
<text transform="translate(33.20,30.80) scale(0.93,1)" font-size="10.0" text-anchor="end">25</text>
<text transform="translate(49.00,128.70) scale(0.93,1)" font-size="10.0" text-anchor="middle">0</text>
<text transform="translate(66.15,128.70) scale(0.93,1)" font-size="10.0" text-anchor="middle">1w</text>
<text transform="translate(83.30,128.70) scale(0.93,1)" font-size="10.0" text-anchor="middle">2w</text>
<text transform="translate(100.45,128.70) scale(0.93,1)" font-size="10.0" text-anchor="middle">3w</text>
<text transform="translate(117.60,128.70) scale(0.93,1)" font-size="10.0" text-anchor="middle">4w</text>
<text transform="translate(134.75,128.70) scale(0.93,1)" font-size="10.0" text-anchor="middle">5w</text>
<text transform="translate(151.90,128.70) scale(0.93,1)" font-size="10.0" text-anchor="middle">6w</text>
<text transform="translate(42.70,33.10) scale(0.895,1)" font-size="10.0">Beads+Y25 daytime</text>
<text transform="translate(20.00,66.80) rotate(-90) scale(0.91,1)" font-size="10.0" text-anchor="middle">IOP mmHg</text>
<text transform="translate(179.30,117.90) scale(0.93,1)" font-size="10.0" text-anchor="end">10</text>
<text transform="translate(179.30,88.77) scale(0.93,1)" font-size="10.0" text-anchor="end">15</text>
<text transform="translate(179.30,59.63) scale(0.93,1)" font-size="10.0" text-anchor="end">20</text>
<text transform="translate(179.30,30.50) scale(0.93,1)" font-size="10.0" text-anchor="end">25</text>
<text transform="translate(195.00,127.80) scale(0.93,1)" font-size="10.0" text-anchor="middle">0</text>
<text transform="translate(212.10,127.80) scale(0.93,1)" font-size="10.0" text-anchor="middle">1w</text>
<text transform="translate(229.20,127.80) scale(0.93,1)" font-size="10.0" text-anchor="middle">2w</text>
<text transform="translate(246.30,127.80) scale(0.93,1)" font-size="10.0" text-anchor="middle">3w</text>
<text transform="translate(263.40,127.80) scale(0.93,1)" font-size="10.0" text-anchor="middle">4w</text>
<text transform="translate(280.50,127.80) scale(0.93,1)" font-size="10.0" text-anchor="middle">5w</text>
<text transform="translate(297.60,127.80) scale(0.93,1)" font-size="10.0" text-anchor="middle">6w</text>
<text transform="translate(188.80,33.00) scale(0.895,1)" font-size="10.0">Beads+Y25 nightime</text>
<text transform="translate(167.80,66.20) rotate(-90) scale(0.91,1)" font-size="10.0" text-anchor="middle">IOP mmHg</text>
<text x="348.70" y="7.70" font-size="9.5">b</text>
<text transform="translate(402.40,13.80) scale(0.905,1)" font-size="10.0">DEX+salin</text>
<text transform="translate(479.40,13.80) scale(0.905,1)" font-size="10.0">DEX+Lac-Z</text>
<text transform="translate(562.70,13.80) scale(0.905,1)" font-size="10.0">DEX+Y-25</text>
<text transform="translate(643.10,13.80) scale(0.905,1)" font-size="10.0">WT</text>
<text transform="translate(372.80,117.50) scale(0.93,1)" font-size="10.0" text-anchor="end">10</text>
<text transform="translate(372.80,88.87) scale(0.93,1)" font-size="10.0" text-anchor="end">15</text>
<text transform="translate(372.80,60.23) scale(0.93,1)" font-size="10.0" text-anchor="end">20</text>
<text transform="translate(372.80,31.60) scale(0.93,1)" font-size="10.0" text-anchor="end">25</text>
<text transform="translate(388.40,127.40) scale(0.93,1)" font-size="10.0" text-anchor="middle">0</text>
<text transform="translate(405.00,127.40) scale(0.93,1)" font-size="10.0" text-anchor="middle">1w</text>
<text transform="translate(421.60,127.40) scale(0.93,1)" font-size="10.0" text-anchor="middle">2w</text>
<text transform="translate(438.20,127.40) scale(0.93,1)" font-size="10.0" text-anchor="middle">3w</text>
<text transform="translate(454.80,127.40) scale(0.93,1)" font-size="10.0" text-anchor="middle">4w</text>
<text transform="translate(471.40,127.40) scale(0.93,1)" font-size="10.0" text-anchor="middle">5w</text>
<text transform="translate(488.00,127.40) scale(0.93,1)" font-size="10.0" text-anchor="middle">6w</text>
<text transform="translate(504.60,127.40) scale(0.93,1)" font-size="10.0" text-anchor="middle">7w</text>
<text transform="translate(382.30,32.70) scale(0.895,1)" font-size="10.0">DEX+Y25 daytime</text>
<text transform="translate(361.00,66.55) rotate(-90) scale(0.91,1)" font-size="10.0" text-anchor="middle">IOP mmHg</text>
<text transform="translate(533.80,118.00) scale(0.93,1)" font-size="10.0" text-anchor="end">10</text>
<text transform="translate(533.80,89.30) scale(0.93,1)" font-size="10.0" text-anchor="end">15</text>
<text transform="translate(533.80,60.60) scale(0.93,1)" font-size="10.0" text-anchor="end">20</text>
<text transform="translate(533.80,31.90) scale(0.93,1)" font-size="10.0" text-anchor="end">25</text>
<text transform="translate(548.90,127.90) scale(0.93,1)" font-size="10.0" text-anchor="middle">0</text>
<text transform="translate(565.03,127.90) scale(0.93,1)" font-size="10.0" text-anchor="middle">1w</text>
<text transform="translate(581.16,127.90) scale(0.93,1)" font-size="10.0" text-anchor="middle">2w</text>
<text transform="translate(597.29,127.90) scale(0.93,1)" font-size="10.0" text-anchor="middle">3w</text>
<text transform="translate(613.42,127.90) scale(0.93,1)" font-size="10.0" text-anchor="middle">4w</text>
<text transform="translate(629.55,127.90) scale(0.93,1)" font-size="10.0" text-anchor="middle">5w</text>
<text transform="translate(645.68,127.90) scale(0.93,1)" font-size="10.0" text-anchor="middle">6w</text>
<text transform="translate(661.81,127.90) scale(0.93,1)" font-size="10.0" text-anchor="middle">7w</text>
<text transform="translate(543.30,32.70) scale(0.895,1)" font-size="10.0">DEX+Y25 nightime</text>
<text transform="translate(521.80,66.95) rotate(-90) scale(0.91,1)" font-size="10.0" text-anchor="middle">IOP mmHg</text>
<text x="29.50" y="619.10" font-size="9.5">g</text>
<text transform="translate(64.90,623.10) scale(0.905,1)" font-size="10.0">Beads+salin</text>
<text transform="translate(147.70,623.10) scale(0.905,1)" font-size="10.0">Beads+Lac-Z</text>
<text transform="translate(237.00,623.10) scale(0.905,1)" font-size="10.0">Beads+Y-26</text>
<text transform="translate(319.10,623.10) scale(0.905,1)" font-size="10.0">WT</text>
<text transform="translate(47.70,730.20) scale(0.93,1)" font-size="10.0" text-anchor="end">10</text>
<text transform="translate(47.70,701.73) scale(0.93,1)" font-size="10.0" text-anchor="end">15</text>
<text transform="translate(47.70,673.27) scale(0.93,1)" font-size="10.0" text-anchor="end">20</text>
<text transform="translate(47.70,644.80) scale(0.93,1)" font-size="10.0" text-anchor="end">25</text>
<text transform="translate(63.00,740.10) scale(0.93,1)" font-size="10.0" text-anchor="middle">0</text>
<text transform="translate(79.80,740.10) scale(0.93,1)" font-size="10.0" text-anchor="middle">1w</text>
<text transform="translate(96.60,740.10) scale(0.93,1)" font-size="10.0" text-anchor="middle">2w</text>
<text transform="translate(113.40,740.10) scale(0.93,1)" font-size="10.0" text-anchor="middle">3w</text>
<text transform="translate(130.20,740.10) scale(0.93,1)" font-size="10.0" text-anchor="middle">4w</text>
<text transform="translate(147.00,740.10) scale(0.93,1)" font-size="10.0" text-anchor="middle">5w</text>
<text transform="translate(163.80,740.10) scale(0.93,1)" font-size="10.0" text-anchor="middle">6w</text>
<text transform="translate(57.20,643.00) scale(0.895,1)" font-size="10.0">Beads+Y26 daytime</text>
<text transform="translate(35.00,679.50) rotate(-90) scale(0.91,1)" font-size="10.0" text-anchor="middle">IOP mmHg</text>
<text transform="translate(195.30,730.20) scale(0.93,1)" font-size="10.0" text-anchor="end">10</text>
<text transform="translate(195.30,700.80) scale(0.93,1)" font-size="10.0" text-anchor="end">15</text>
<text transform="translate(195.30,671.40) scale(0.93,1)" font-size="10.0" text-anchor="end">20</text>
<text transform="translate(195.30,642.00) scale(0.93,1)" font-size="10.0" text-anchor="end">25</text>
<text transform="translate(210.90,740.10) scale(0.93,1)" font-size="10.0" text-anchor="middle">0</text>
<text transform="translate(228.25,740.10) scale(0.93,1)" font-size="10.0" text-anchor="middle">1w</text>
<text transform="translate(245.60,740.10) scale(0.93,1)" font-size="10.0" text-anchor="middle">2w</text>
<text transform="translate(262.95,740.10) scale(0.93,1)" font-size="10.0" text-anchor="middle">3w</text>
<text transform="translate(280.30,740.10) scale(0.93,1)" font-size="10.0" text-anchor="middle">4w</text>
<text transform="translate(297.65,740.10) scale(0.93,1)" font-size="10.0" text-anchor="middle">5w</text>
<text transform="translate(315.00,740.10) scale(0.93,1)" font-size="10.0" text-anchor="middle">6w</text>
<text transform="translate(204.80,644.00) scale(0.895,1)" font-size="10.0">Beads+Y26 nightime</text>
<text transform="translate(183.50,678.10) rotate(-90) scale(0.91,1)" font-size="10.0" text-anchor="middle">IOP mmHg</text>
<text x="362.50" y="620.80" font-size="9.5">h</text>
<text transform="translate(403.50,623.10) scale(0.905,1)" font-size="10.0">DEX+salin</text>
<text transform="translate(480.70,623.10) scale(0.905,1)" font-size="10.0">DEX+Lac-Z</text>
<text transform="translate(564.20,623.10) scale(0.905,1)" font-size="10.0">DEX+Y-26</text>
<text transform="translate(644.30,623.10) scale(0.905,1)" font-size="10.0">WT</text>
<text transform="translate(378.40,730.50) scale(0.93,1)" font-size="10.0" text-anchor="end">10</text>
<text transform="translate(378.40,701.83) scale(0.93,1)" font-size="10.0" text-anchor="end">15</text>
<text transform="translate(378.40,673.17) scale(0.93,1)" font-size="10.0" text-anchor="end">20</text>
<text transform="translate(378.40,644.50) scale(0.93,1)" font-size="10.0" text-anchor="end">25</text>
<text transform="translate(392.90,740.40) scale(0.93,1)" font-size="10.0" text-anchor="middle">0</text>
<text transform="translate(409.26,740.40) scale(0.93,1)" font-size="10.0" text-anchor="middle">1w</text>
<text transform="translate(425.62,740.40) scale(0.93,1)" font-size="10.0" text-anchor="middle">2w</text>
<text transform="translate(441.98,740.40) scale(0.93,1)" font-size="10.0" text-anchor="middle">3w</text>
<text transform="translate(458.34,740.40) scale(0.93,1)" font-size="10.0" text-anchor="middle">4w</text>
<text transform="translate(474.70,740.40) scale(0.93,1)" font-size="10.0" text-anchor="middle">5w</text>
<text transform="translate(491.06,740.40) scale(0.93,1)" font-size="10.0" text-anchor="middle">6w</text>
<text transform="translate(507.42,740.40) scale(0.93,1)" font-size="10.0" text-anchor="middle">7w</text>
<text transform="translate(387.90,645.40) scale(0.895,1)" font-size="10.0">DEX+Y26 daytime</text>
<text transform="translate(366.00,679.50) rotate(-90) scale(0.91,1)" font-size="10.0" text-anchor="middle">IOP mmHg</text>
<text transform="translate(533.40,729.60) scale(0.93,1)" font-size="10.0" text-anchor="end">10</text>
<text transform="translate(533.40,701.13) scale(0.93,1)" font-size="10.0" text-anchor="end">15</text>
<text transform="translate(533.40,672.67) scale(0.93,1)" font-size="10.0" text-anchor="end">20</text>
<text transform="translate(533.40,644.20) scale(0.93,1)" font-size="10.0" text-anchor="end">25</text>
<text transform="translate(548.30,739.50) scale(0.93,1)" font-size="10.0" text-anchor="middle">0</text>
<text transform="translate(564.44,739.50) scale(0.93,1)" font-size="10.0" text-anchor="middle">1w</text>
<text transform="translate(580.58,739.50) scale(0.93,1)" font-size="10.0" text-anchor="middle">2w</text>
<text transform="translate(596.72,739.50) scale(0.93,1)" font-size="10.0" text-anchor="middle">3w</text>
<text transform="translate(612.86,739.50) scale(0.93,1)" font-size="10.0" text-anchor="middle">4w</text>
<text transform="translate(629.00,739.50) scale(0.93,1)" font-size="10.0" text-anchor="middle">5w</text>
<text transform="translate(645.14,739.50) scale(0.93,1)" font-size="10.0" text-anchor="middle">6w</text>
<text transform="translate(661.28,739.50) scale(0.93,1)" font-size="10.0" text-anchor="middle">7w</text>
<text transform="translate(542.90,645.30) scale(0.895,1)" font-size="10.0">DEX+Y26 nightime</text>
<text transform="translate(521.00,678.90) rotate(-90) scale(0.91,1)" font-size="10.0" text-anchor="middle">IOP mmHg</text>
<text x="4.50" y="148.00" font-size="8.5">c</text>
<text transform="translate(52.25,153.70) scale(0.95,1)" font-size="10.0" text-anchor="middle">WT</text>
<text transform="translate(135.55,153.70) scale(0.95,1)" font-size="10.0" text-anchor="middle">Beads+Y25</text>
<text transform="translate(218.95,153.70) scale(0.95,1)" font-size="10.0" text-anchor="middle">Beads+saline</text>
<text transform="translate(302.05,153.70) scale(0.95,1)" font-size="10.0" text-anchor="middle">Beads+LacZ</text>
<text transform="translate(8.70,188.70) rotate(-90) scale(0.96,1)" font-size="10.0" text-anchor="middle">center</text>
<text transform="translate(8.70,262.60) rotate(-90) scale(0.96,1)" font-size="10.0" text-anchor="middle">mid-peripheral</text>
<text transform="translate(8.70,331.20) rotate(-90) scale(0.96,1)" font-size="10.0" text-anchor="middle">peripheral</text>
<text x="348.90" y="145.80" font-size="9.5">d</text>
<text transform="translate(392.45,152.40) scale(0.95,1)" font-size="10.0" text-anchor="middle">WT</text>
<text transform="translate(475.85,152.40) scale(0.95,1)" font-size="10.0" text-anchor="middle">DEX+Y25</text>
<text transform="translate(559.85,152.40) scale(0.95,1)" font-size="10.0" text-anchor="middle">DEX+saline</text>
<text transform="translate(643.45,152.40) scale(0.95,1)" font-size="10.0" text-anchor="middle">DEX+LacZ</text>
<text x="27.50" y="392.80" font-size="9.5">e</text>
<text transform="translate(168.80,394.40) scale(0.91,1)" font-size="10.0">Beads+Y25</text>
<text transform="translate(266.60,385.40) scale(0.905,1)" font-size="10.0">WT</text>
<text transform="translate(266.60,395.60) scale(0.905,1)" font-size="10.0">Beads+saline</text>
<text transform="translate(266.60,405.80) scale(0.905,1)" font-size="10.0">Beads+Lac Z</text>
<text transform="translate(266.60,416.00) scale(0.905,1)" font-size="10.0">Beads+Y25</text>
<text transform="translate(90.30,585.20) scale(0.95,1)" font-size="10.0" text-anchor="end">1000</text>
<text transform="translate(90.30,565.42) scale(0.95,1)" font-size="10.0" text-anchor="end">1500</text>
<text transform="translate(90.30,545.65) scale(0.95,1)" font-size="10.0" text-anchor="end">2000</text>
<text transform="translate(90.30,525.87) scale(0.95,1)" font-size="10.0" text-anchor="end">2500</text>
<text transform="translate(90.30,506.10) scale(0.95,1)" font-size="10.0" text-anchor="end">3000</text>
<text transform="translate(90.30,486.32) scale(0.95,1)" font-size="10.0" text-anchor="end">3500</text>
<text transform="translate(90.30,466.55) scale(0.95,1)" font-size="10.0" text-anchor="end">4000</text>
<text transform="translate(90.30,446.78) scale(0.95,1)" font-size="10.0" text-anchor="end">4500</text>
<text transform="translate(90.30,427.00) scale(0.95,1)" font-size="10.0" text-anchor="end">5000</text>
<text transform="translate(130.83,597.20) scale(0.96,1)" font-size="10.0" text-anchor="middle">center</text>
<text transform="translate(198.83,597.20) scale(0.96,1)" font-size="10.0" text-anchor="middle">mid-peripheral</text>
<text transform="translate(266.53,597.20) scale(0.96,1)" font-size="10.0" text-anchor="middle">peripheral</text>
<text transform="translate(62.30,500.30) rotate(-90) scale(0.87,1)" font-size="10.4" text-anchor="middle">RGC count/mm<tspan dy="-3.4" font-size="6">2</tspan></text>
<text x="123.25" y="433.90" font-size="8.7" text-anchor="middle">*</text>
<text x="115.70" y="443.90" font-size="8.7" text-anchor="middle">****</text>
<text transform="translate(145.35,452.80) scale(0.92,1)" font-size="10.0" text-anchor="middle">ns</text>
<text x="190.50" y="436.70" font-size="8.7" text-anchor="middle">**</text>
<text x="183.40" y="445.50" font-size="8.7" text-anchor="middle">****</text>
<text transform="translate(213.30,449.70) scale(0.92,1)" font-size="10.0" text-anchor="middle">#</text>
<text x="258.85" y="446.50" font-size="8.7" text-anchor="middle">****</text>
<text x="251.30" y="457.50" font-size="8.7" text-anchor="middle">***</text>
<text transform="translate(279.80,455.50) scale(0.92,1)" font-size="10.0" text-anchor="middle">####</text>
<text x="362.80" y="392.50" font-size="9.5">f</text>
<text transform="translate(501.60,395.10) scale(0.91,1)" font-size="10.0">DEX+Y25</text>
<text transform="translate(604.00,386.40) scale(0.905,1)" font-size="10.0">WT</text>
<text transform="translate(604.00,396.15) scale(0.905,1)" font-size="10.0">DEX+saline</text>
<text transform="translate(604.00,405.90) scale(0.905,1)" font-size="10.0">DEX+Lac Z</text>
<text transform="translate(604.00,415.65) scale(0.905,1)" font-size="10.0">DEX+Y25</text>
<text transform="translate(424.60,585.40) scale(0.95,1)" font-size="10.0" text-anchor="end">1000</text>
<text transform="translate(424.60,565.61) scale(0.95,1)" font-size="10.0" text-anchor="end">1500</text>
<text transform="translate(424.60,545.82) scale(0.95,1)" font-size="10.0" text-anchor="end">2000</text>
<text transform="translate(424.60,526.04) scale(0.95,1)" font-size="10.0" text-anchor="end">2500</text>
<text transform="translate(424.60,506.25) scale(0.95,1)" font-size="10.0" text-anchor="end">3000</text>
<text transform="translate(424.60,486.46) scale(0.95,1)" font-size="10.0" text-anchor="end">3500</text>
<text transform="translate(424.60,466.68) scale(0.95,1)" font-size="10.0" text-anchor="end">4000</text>
<text transform="translate(424.60,446.89) scale(0.95,1)" font-size="10.0" text-anchor="end">4500</text>
<text transform="translate(424.60,427.10) scale(0.95,1)" font-size="10.0" text-anchor="end">5000</text>
<text transform="translate(465.18,597.40) scale(0.96,1)" font-size="10.0" text-anchor="middle">center</text>
<text transform="translate(532.27,597.40) scale(0.96,1)" font-size="10.0" text-anchor="middle">mid-peripheral</text>
<text transform="translate(599.77,597.40) scale(0.96,1)" font-size="10.0" text-anchor="middle">peripheral</text>
<text transform="translate(396.20,500.45) rotate(-90) scale(0.87,1)" font-size="10.4" text-anchor="middle">RGC count/mm<tspan dy="-3.4" font-size="6">2</tspan></text>
<text x="457.00" y="441.80" font-size="8.7" text-anchor="middle">**</text>
<text x="450.40" y="451.00" font-size="8.7" text-anchor="middle">*</text>
<text transform="translate(479.55,457.00) scale(0.92,1)" font-size="10.0" text-anchor="middle">##</text>
<text x="524.85" y="432.90" font-size="8.7" text-anchor="middle">**</text>
<text x="517.95" y="443.20" font-size="8.7" text-anchor="middle">*</text>
<text transform="translate(547.30,442.30) scale(0.92,1)" font-size="10.0" text-anchor="middle">###</text>
<text x="592.50" y="432.80" font-size="8.7" text-anchor="middle">****</text>
<text x="584.80" y="441.90" font-size="8.7" text-anchor="middle">****</text>
<text transform="translate(614.60,447.80) scale(0.92,1)" font-size="10.0" text-anchor="middle">####</text>
<text x="24.30" y="765.00" font-size="9.5">i</text>
<text transform="translate(168.00,780.50) scale(0.91,1)" font-size="10.0">Beads+Y26</text>
<text transform="translate(265.80,772.50) scale(0.905,1)" font-size="10.0">WT</text>
<text transform="translate(265.80,782.65) scale(0.905,1)" font-size="10.0">Beads+saline</text>
<text transform="translate(265.80,792.80) scale(0.905,1)" font-size="10.0">Beads+Lac Z</text>
<text transform="translate(265.80,802.95) scale(0.905,1)" font-size="10.0">Beads+Y26</text>
<text transform="translate(90.40,964.50) scale(0.95,1)" font-size="10.0" text-anchor="end">1500</text>
<text transform="translate(90.40,941.87) scale(0.95,1)" font-size="10.0" text-anchor="end">2000</text>
<text transform="translate(90.40,919.24) scale(0.95,1)" font-size="10.0" text-anchor="end">2500</text>
<text transform="translate(90.40,896.61) scale(0.95,1)" font-size="10.0" text-anchor="end">3000</text>
<text transform="translate(90.40,873.99) scale(0.95,1)" font-size="10.0" text-anchor="end">3500</text>
<text transform="translate(90.40,851.36) scale(0.95,1)" font-size="10.0" text-anchor="end">4000</text>
<text transform="translate(90.40,828.73) scale(0.95,1)" font-size="10.0" text-anchor="end">4500</text>
<text transform="translate(90.40,806.10) scale(0.95,1)" font-size="10.0" text-anchor="end">5000</text>
<text transform="translate(130.15,976.50) scale(0.96,1)" font-size="10.0" text-anchor="middle">center</text>
<text transform="translate(197.95,976.50) scale(0.96,1)" font-size="10.0" text-anchor="middle">mid-peripheral</text>
<text transform="translate(265.65,976.50) scale(0.96,1)" font-size="10.0" text-anchor="middle">peripheral</text>
<text transform="translate(61.60,879.50) rotate(-90) scale(0.87,1)" font-size="10.4" text-anchor="middle">RGC count/mm<tspan dy="-3.4" font-size="6">2</tspan></text>
<text x="124.00" y="829.10" font-size="8.7" text-anchor="middle">*</text>
<text x="116.70" y="839.10" font-size="8.7" text-anchor="middle">**</text>
<text transform="translate(143.80,837.00) scale(0.92,1)" font-size="10.0" text-anchor="middle">##</text>
<text x="188.85" y="814.90" font-size="8.7" text-anchor="middle">*</text>
<text x="181.45" y="822.60" font-size="8.7" text-anchor="middle">*</text>
<text transform="translate(211.60,818.90) scale(0.92,1)" font-size="10.0" text-anchor="middle">##</text>
<text x="255.40" y="826.80" font-size="8.7" text-anchor="middle">****</text>
<text x="248.65" y="835.90" font-size="8.7" text-anchor="middle">**</text>
<text transform="translate(277.55,835.00) scale(0.92,1)" font-size="10.0" text-anchor="middle">###</text>
<text x="369.40" y="765.00" font-size="9.5">j</text>
<text transform="translate(503.00,780.20) scale(0.91,1)" font-size="10.0">DEX+Y26</text>
<text transform="translate(602.30,772.40) scale(0.905,1)" font-size="10.0">WT</text>
<text transform="translate(602.30,782.15) scale(0.905,1)" font-size="10.0">DEX+saline</text>
<text transform="translate(602.30,791.90) scale(0.905,1)" font-size="10.0">DEX+Lac Z</text>
<text transform="translate(602.30,801.65) scale(0.905,1)" font-size="10.0">DEX+Y26</text>
<text transform="translate(424.20,965.00) scale(0.95,1)" font-size="10.0" text-anchor="end">1500</text>
<text transform="translate(424.20,942.33) scale(0.95,1)" font-size="10.0" text-anchor="end">2000</text>
<text transform="translate(424.20,919.66) scale(0.95,1)" font-size="10.0" text-anchor="end">2500</text>
<text transform="translate(424.20,896.99) scale(0.95,1)" font-size="10.0" text-anchor="end">3000</text>
<text transform="translate(424.20,874.31) scale(0.95,1)" font-size="10.0" text-anchor="end">3500</text>
<text transform="translate(424.20,851.64) scale(0.95,1)" font-size="10.0" text-anchor="end">4000</text>
<text transform="translate(424.20,828.97) scale(0.95,1)" font-size="10.0" text-anchor="end">4500</text>
<text transform="translate(424.20,806.30) scale(0.95,1)" font-size="10.0" text-anchor="end">5000</text>
<text transform="translate(464.57,977.00) scale(0.96,1)" font-size="10.0" text-anchor="middle">center</text>
<text transform="translate(532.08,977.00) scale(0.96,1)" font-size="10.0" text-anchor="middle">mid-peripheral</text>
<text transform="translate(599.48,977.00) scale(0.96,1)" font-size="10.0" text-anchor="middle">peripheral</text>
<text transform="translate(395.80,879.85) rotate(-90) scale(0.87,1)" font-size="10.4" text-anchor="middle">RGC count/mm<tspan dy="-3.4" font-size="6">2</tspan></text>
<text x="455.40" y="829.10" font-size="8.7" text-anchor="middle">*</text>
<text x="448.30" y="839.50" font-size="8.7" text-anchor="middle">*</text>
<text transform="translate(478.00,837.00) scale(0.92,1)" font-size="10.0" text-anchor="middle">##</text>
<text x="524.30" y="815.90" font-size="8.7" text-anchor="middle">**</text>
<text x="517.20" y="826.70" font-size="8.7" text-anchor="middle">***</text>
<text transform="translate(545.40,824.40) scale(0.92,1)" font-size="10.0" text-anchor="middle">##</text>
<text x="591.55" y="820.70" font-size="8.7" text-anchor="middle">**</text>
<text x="584.55" y="831.10" font-size="8.7" text-anchor="middle">***</text>
<text transform="translate(612.70,831.50) scale(0.92,1)" font-size="10.0" text-anchor="middle">###</text></g>
</svg></body></html>
